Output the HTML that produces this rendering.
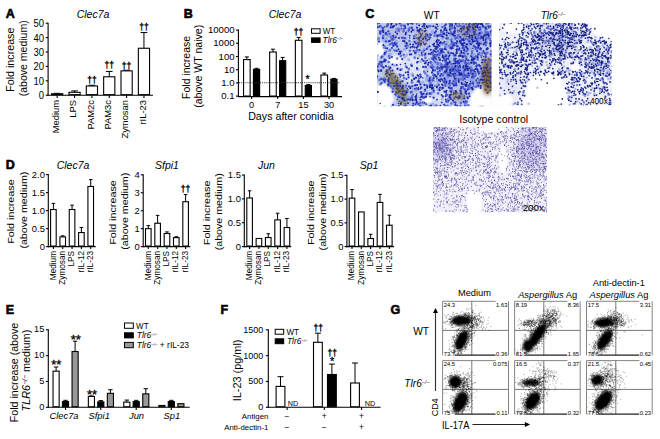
<!DOCTYPE html>
<html><head><meta charset="utf-8"><style>
html,body{margin:0;padding:0;background:#fff;}
body{width:660px;height:439px;overflow:hidden;}
svg{display:block;font-family:"Liberation Sans", sans-serif;}
text.t{stroke:#000;stroke-width:0.22px;}
</style></head><body>
<svg width="660" height="439" viewBox="0 0 660 439">
<defs>
<filter id="soft" x="0" y="0" width="100%" height="100%"><feGaussianBlur stdDeviation="0.35"/></filter>
<filter id="blur1" x="-50%" y="-50%" width="200%" height="200%"><feGaussianBlur stdDeviation="1.2"/></filter>
<filter id="blur2" x="-50%" y="-50%" width="200%" height="200%"><feGaussianBlur stdDeviation="2"/></filter>
<filter id="blur3" x="-50%" y="-50%" width="200%" height="200%"><feGaussianBlur stdDeviation="4"/></filter>
</defs>
<clipPath id="pw"><rect x="377" y="23" width="114.6" height="83.3"/></clipPath>
<g clip-path="url(#pw)"><g filter="url(#soft)">
<rect x="377" y="23" width="114.6" height="83.3" fill="#c0ccf0"/>
<ellipse cx="410" cy="68" rx="22" ry="16" fill="#e6eaf8" fill-opacity="0.8" filter="url(#blur3)"/>
<ellipse cx="458" cy="72" rx="18" ry="12" fill="#6070d0" fill-opacity="0.4" filter="url(#blur3)"/>
<ellipse cx="470" cy="36" rx="18" ry="11" fill="#6070d0" fill-opacity="0.3" filter="url(#blur3)"/>
<ellipse cx="396" cy="32" rx="14" ry="9" fill="#a098d0" fill-opacity="0.3" filter="url(#blur3)"/>
<ellipse cx="442" cy="98" rx="8" ry="7" fill="#eef0fa" fill-opacity="0.8" filter="url(#blur3)"/>
<ellipse cx="379.5" cy="50" rx="4.5" ry="8" fill="#fff" filter="url(#blur1)"/>
<polygon points="377,85 385,84 392,89 394,100 390,107 377,107" fill="#fff" filter="url(#blur1)"/>
<polygon points="468,107 471,95 477,88 485,86 492,89 492,107" fill="#fff" filter="url(#blur1)"/>
<ellipse cx="395" cy="60" rx="6" ry="4" fill="#fff" filter="url(#blur1)"/>
<ellipse cx="428" cy="100" rx="5" ry="3" fill="#fff" filter="url(#blur1)"/>
<ellipse cx="396" cy="84" rx="5.5" ry="17" fill="#5a5236" fill-opacity="0.7" filter="url(#blur2)" transform="rotate(-35 396 84)"/>
<ellipse cx="422" cy="37" rx="6" ry="9" fill="#5a4058" fill-opacity="0.3" filter="url(#blur2)" transform="rotate(0 422 37)"/>
<ellipse cx="468" cy="30" rx="10" ry="7" fill="#5a4058" fill-opacity="0.3" filter="url(#blur2)" transform="rotate(0 468 30)"/>
<ellipse cx="487.5" cy="76" rx="6" ry="19" fill="#6a4a2c" fill-opacity="0.8" filter="url(#blur2)" transform="rotate(0 487.5 76)"/>
<ellipse cx="458" cy="96" rx="8" ry="4" fill="#4a3a30" fill-opacity="0.5" filter="url(#blur2)" transform="rotate(0 458 96)"/>
<ellipse cx="404" cy="101" rx="5" ry="4" fill="#3a3028" fill-opacity="0.5" filter="url(#blur2)" transform="rotate(0 404 101)"/>
<path d="M468.5 30h0M382.9 38.2h0M488.4 86.7h0M389.6 57.9h0M414.4 47.3h0M478.9 73.5h0M444.1 34h0M490.5 60.6h0M456 38.1h0M442.3 34.5h0M462.1 43.9h0M398.8 54h0M410.5 23.2h0M467.5 75.3h0M491.6 54h0M451.6 88.2h0M380.2 31.3h0M402.1 37.8h0M445.1 29.7h0M397.6 68.7h0M461.4 73h0M398.3 97.1h0M485.3 60h0M411.8 82.6h0M442.8 96.5h0M439.3 89.5h0M465 84.6h0M397.4 68.9h0M476.6 39.5h0M456.6 52.9h0M457.8 69.2h0M430.7 49.8h0M420.5 99.6h0M433.2 70.1h0M463.3 67.5h0M390.7 27.4h0M381.7 82.8h0M418.7 44.1h0M480.1 48.4h0M473.2 83.8h0M463.9 48.4h0M408.6 99.2h0M439.7 80h0M446.3 81.3h0M456.9 61.8h0M381.4 57.5h0M437.5 68.7h0M463.9 26.5h0M453.7 68.8h0M403 86.2h0M442.2 69h0M435 70.3h0M478.3 37.7h0M428.9 53.8h0M486.4 29h0M422.7 26.4h0M461.9 40h0M430.2 37.6h0M434.7 51.2h0M433.4 54.8h0M436.1 49h0M431.2 85.5h0M443.7 42.6h0M458.3 61h0M412.8 105.9h0M484.9 43.3h0M477.7 41.3h0M457.1 49.5h0M441.5 52.4h0M467.9 98.1h0M392.4 39.2h0M454.6 27.6h0M465.3 70.2h0M393.2 35.8h0M478.3 54.5h0M380.4 31.6h0M435.2 55.1h0M447.7 38.5h0M440.9 51h0M399.7 74.6h0M379 41.6h0M385.3 79.8h0M392.8 88.6h0M460.8 61.5h0M451.1 53.1h0M411.3 54.3h0M450.4 98.1h0M417.1 62.4h0M414 38.3h0M386.8 34.4h0M454.8 31.1h0M458.9 49.8h0M420.5 37h0M476.9 65.5h0M445.4 91.9h0M461.3 51h0M433.3 54.2h0M410.6 47.4h0M412.4 23.7h0M461.2 93.7h0M463.1 87.5h0M393.1 104.8h0M460.4 90.5h0M386.5 71.6h0M443.5 57.3h0M403.2 40.9h0M485.8 39.8h0M477.1 69.2h0M463.1 45.9h0M451.4 48.5h0M455.1 69.6h0M385.9 41.4h0M448.8 63h0M474.4 23.7h0M407.9 72.1h0M389.8 40.9h0M446.4 66.8h0M446.8 58.6h0M440.9 66.3h0M393.4 43.6h0M386.8 26.3h0M397.2 46.5h0M437.2 86.6h0M461.4 73.3h0M436.7 46.8h0M425.9 66.9h0M395.3 44.8h0M475.4 75.7h0M400.1 86h0M413.3 103.6h0M461.6 87h0M410.6 92.3h0M437 48h0M438 51.1h0M455 28.7h0M442 36.6h0M447.8 75.4h0M412 27.7h0M417 85.1h0M408.7 30.6h0M442.5 49.5h0M468 70.1h0M424.3 50.4h0M471.3 62.9h0M441.4 74.2h0M450.7 75.7h0M402.5 81.2h0M378 66.4h0M399.5 97h0M482.7 59.9h0M433.6 90.4h0M402.8 91.6h0M455.4 38.5h0M434.7 32.8h0M490.1 67.4h0M462.5 74.7h0M408.6 77.3h0M452.7 45.7h0M465.2 105.8h0M420.6 106.5h0M449.7 80.8h0M465.7 65.4h0M446.5 66.2h0M430.7 62.4h0M462.2 56.2h0M410 54.5h0M483.1 75.3h0M381.5 66.2h0M479.1 65.1h0M385.9 32.9h0M427.9 64.7h0M452 46.9h0M439.9 70.6h0M473.3 76.5h0M479.2 23.2h0M464.7 69.9h0M450.2 95h0M433 80.4h0M491.1 82.3h0M472.7 83.1h0M491.7 60h0M465.3 75.7h0M417.5 30.5h0M430.8 34.9h0M458.1 70.6h0M424.8 31.2h0M406.7 48.1h0M438.3 68h0M389.1 85.2h0M405.9 33h0M441.3 79.1h0M404.5 22h0M451.6 41.8h0M415.9 99.5h0M441.5 69h0M405.8 105.9h0M412.2 99.8h0M442.2 43.4h0M458.8 67.4h0M467.5 49.1h0M423.1 97.6h0M456.1 83.4h0M445.3 85.2h0M487.2 48.5h0M469.5 88h0M427.3 27.2h0M446.8 32.3h0M456.3 85.3h0M429.7 93.5h0M440.3 49.6h0M440 35.5h0M464.4 34.2h0M416.7 102.6h0M433.7 50.5h0M448.5 52.9h0M395.8 44.4h0M403.4 75.4h0M432.3 68h0M407 45.4h0M385.6 33.8h0M467.8 75.5h0M469.9 38.3h0M466.2 64.3h0M409.1 86.6h0M475.9 48.9h0M418.5 81.3h0M455.7 61.5h0M473.9 63.7h0M425.7 62.9h0M443.1 32.3h0M465 62.9h0M484.5 52.8h0M423.5 60.8h0M490.5 44.7h0M473.8 32.1h0M459.8 96.6h0M415.7 52.4h0M418.3 44.6h0M464.3 42.9h0M430.1 86.6h0M395.6 94.6h0M476.4 66.6h0M453.7 43.9h0M459 72.7h0M456.7 70.5h0M384.4 54.3h0M463.1 22.5h0M478.9 45h0M396.7 50.9h0M430.4 93.7h0M438.7 40.5h0M452.9 100.4h0M445.9 83.7h0M414.3 78.7h0M477.7 42.8h0M486.1 28.7h0M451.4 40h0M455.7 63.2h0M467.8 53.8h0M446.5 64.1h0M435.9 31.4h0M384.6 59.6h0M458.1 63.5h0M377.9 91.9h0M480.6 88h0M476.3 48.3h0M405.2 27.9h0M471.8 77.3h0M460.3 75.1h0M448.3 52.4h0M379.5 26.5h0M387.1 48.3h0M382.6 30.7h0M380.3 61.8h0M436.2 52.1h0M415.1 88.8h0M479.2 82.7h0M459.9 73.6h0M435.4 62.1h0M446.4 94.5h0M433.6 97.7h0M449.5 83.6h0M469 93.6h0M482.7 107h0M422.6 94.2h0M385.6 60.2h0M419.4 82.1h0M392.7 27.2h0M468.9 40.8h0M438.8 84.8h0M462.7 48.1h0M485.1 53.6h0M454.6 58.8h0M383 27.9h0M480.2 29.6h0M490.4 26.5h0M431.3 107.1h0M391.3 22.9h0M485.4 67.7h0M464.9 106.7h0M418.5 104.1h0M445.9 60.4h0M472.7 60.2h0M424.5 85h0M444.7 66.3h0M479.8 66h0M444.5 91.6h0M442.3 22h0M473.7 23.7h0M389.6 68.8h0M472.3 59.4h0M469.4 87.6h0M424.3 97.5h0M450.2 95.6h0M442.8 36.8h0M412.8 106.1h0M449.5 96.6h0M478.2 45h0M474.3 46.3h0M387.7 24.3h0M448.2 58.8h0M383.8 80.6h0M433.6 78.2h0M480.6 38.4h0M484.2 35.5h0M417 27.7h0M413.2 44.7h0M466.5 32.2h0M459.4 48.4h0M477.9 78.6h0M446.2 101.4h0M467.4 97.3h0M455.6 91.2h0M477.6 85.7h0M450.3 48h0M445.5 61.3h0M475.4 33.8h0M475.6 47.4h0M444.9 25.7h0M388.7 41.3h0M458.9 63.2h0M396.3 82.9h0M486.4 42.4h0M388.3 31.3h0M376.4 40h0M477.7 57.7h0M454.5 85.3h0M430.9 53.9h0M481.1 68.3h0M424 24.7h0M453.2 33.4h0M402.2 59.1h0M466 85.8h0M490.9 72.7h0M392.6 91.7h0M420.3 74.6h0M415.5 104.3h0M467.3 76.4h0M381.1 70.9h0M437.9 73.9h0M469.1 24.8h0M442.5 51.9h0M414.6 41.8h0M443.7 81.7h0M455.4 102.7h0M460.7 42.8h0M472.3 74.4h0M455.3 67.1h0M470.3 83.7h0M380.4 32.2h0M393.2 45.8h0M465.9 39.1h0M377.5 23.6h0M444.1 58.8h0M454.5 54.8h0M415.9 97.6h0M466.5 63.9h0M454.5 60.4h0M460.1 55.5h0M463.8 56.5h0M419.5 50.2h0M388.3 79.9h0M442.5 27.1h0M381.7 78.9h0M473.4 77.6h0M490.6 42.9h0M466.1 91.1h0M449.9 82.6h0M424.6 24.6h0M436.8 106.7h0M464.5 89.3h0M432.9 88h0M437.6 47.2h0M458.6 74.9h0M473.1 41.6h0M376.4 78.6h0M405.5 46.1h0M448.8 56.4h0M394 26.1h0M478.3 86h0M421.9 59.3h0M453.8 81.2h0M454.6 45.3h0M436.1 56.2h0M475.8 26.7h0M396.4 24.5h0M421.7 94.7h0M460 67.2h0M401.9 98h0M469.7 41.3h0M491.1 42.3h0M454 76.6h0M442.3 79.8h0M416.2 22h0M386 66.2h0M478 47.3h0M445.7 84.1h0M417.8 46.4h0M468 27.1h0M480.3 27.3h0M411.1 98.3h0M446.1 55.9h0M450.3 88.4h0M465.6 101.5h0M483.6 44.3h0M447.6 67.8h0M383.8 107.3h0M466.4 75.7h0M423.1 67h0M444.2 104.6h0M392.3 22.6h0M431.5 85.2h0M427.2 34.9h0M470.9 72.4h0M451.2 71.3h0M455 78.2h0M449.9 70.3h0M448.7 100.6h0M464.6 78.7h0M453.8 75.5h0M417.1 68.9h0M477.2 51.2h0M432 72.6h0M460.3 41.4h0M408.3 74.7h0M490.7 31.9h0M416.9 88.4h0M395.2 43h0M432.4 79.8h0M403.5 98.4h0M420.5 84.4h0M426.9 48.9h0M377.4 27.2h0M461.8 44.8h0M416 43.4h0M478.3 24.3h0M453.1 53.4h0M391.5 106.9h0M466.8 63.4h0M450.4 24.5h0M440.4 53.3h0M474.5 62.3h0M472.4 89.4h0M397.1 85.6h0M474 70.4h0M471.7 70.3h0M468.4 60.4h0M380.3 33.7h0M438.7 57.6h0M448.8 83.6h0M455.4 105h0M433.3 59.4h0M471.9 35.7h0" stroke="#2636c4" stroke-width="2.3" stroke-linecap="round" fill="none"/>

<path d="M470.4 81.2h0M412.7 100.7h0M442.4 67.5h0M433.8 74.1h0M480.7 85.8h0M463.8 38.2h0M418.1 61.5h0M380.4 79.2h0M444.8 41.5h0M425.5 28.5h0M440.3 42.6h0M435.1 48.3h0M393.1 36.9h0M452.6 75.1h0M465.5 106.1h0M484.6 35h0M447.9 98.9h0M422.8 78h0M484.1 76.5h0M466.4 44.2h0M387.9 70.2h0M414.8 99.9h0M383.5 78.9h0M464.9 69.3h0M481.2 43.4h0M473.4 28.3h0M436.3 106.5h0M437.9 26.2h0M400.3 76.9h0M438.1 71.6h0M451 73.7h0M418.8 38.2h0M433.6 57.8h0M460.8 42.9h0M424.6 26.3h0M444.4 82.8h0M416.6 94.1h0M438.9 35.2h0M459.4 36.2h0M472.9 77.5h0M428.3 63.1h0M447.4 65.1h0M381.5 56.2h0M452.4 24.5h0M401.4 28.6h0M477.6 82.5h0M427.6 71.4h0M473.8 24.5h0M439.7 68.5h0M483.8 56.8h0M479.5 83.3h0M420.2 97.2h0M409.7 38.1h0M475.9 80h0M424.2 27.9h0M443.9 37h0M400.5 64.6h0M469.2 75.6h0M452.5 45.4h0M440.4 81.5h0M473.4 62.6h0M427.1 60.6h0M461.1 91.5h0M472.9 25.8h0M490.1 40.5h0M436.7 59.6h0M447 72.3h0M416.7 24h0M413.2 94.8h0M440.1 60.1h0M418.8 22.1h0M434.9 85.9h0M427.4 39.9h0M463.2 80.1h0M461.9 60.7h0M398.3 103.3h0M411.4 92h0M418.5 87.7h0M475.9 81.1h0M472.9 48.5h0M464.7 74.3h0M406.1 86.7h0M488.9 27.9h0M461 55.9h0M436.3 24.2h0M426 43.6h0M452.7 45.1h0M446.8 44.4h0M376.3 22.4h0M406.7 92h0M384.7 27.1h0M380.2 103.6h0M453.7 92.6h0M432.5 71.1h0M407.3 88.5h0M385.8 48.2h0M466.2 51.8h0M476.5 80.1h0M429.1 106h0M439.8 81.1h0M475.7 41h0M437.3 24.5h0M450.2 84.9h0M447.6 62.4h0M445.5 86.3h0M428 47.2h0M456.5 53.7h0M443.5 88h0M465.3 81.8h0M442.4 60.8h0M458.6 82.1h0M465.7 56.5h0M432.6 59h0M466.3 47.3h0M437.3 39.2h0M447.7 64.6h0M407 22h0M397.2 99.6h0M430.1 96.8h0M403.1 95.3h0M492.3 67h0M474 56.9h0M455.9 75.5h0M468.8 85.9h0M454.5 26h0M408.5 72.2h0M457.5 30.2h0M481.3 57.2h0" stroke="#2a2a6a" stroke-width="1.5" stroke-linecap="round" fill="none"/>

<path d="M436.5 76.6h0M398.2 84.4h0M471.4 43.3h0M445.5 47h0M442.8 75.3h0M427.4 93.5h0M457.3 66.4h0M430.1 77.6h0M378.7 38.6h0M437.7 35.6h0M447.3 95.1h0M479.5 33.4h0M455.9 23.5h0M450.4 91.1h0M471.2 73.5h0M455.9 70.2h0M460.6 53.3h0M422.1 55.1h0M451.9 90.6h0M467.9 29.2h0M425.2 57.9h0M430.5 83h0M386.8 34h0M399.1 29.1h0M446 62.1h0M475.7 56.9h0M434.6 55.8h0M425.1 90.7h0M471.1 55.9h0M477.4 82.8h0M437.6 67.3h0M448.4 66.8h0M491 34.3h0M451.8 27h0M403.8 25.5h0M393.2 39.5h0M401.2 25.5h0M393.5 38.4h0M451.8 68.8h0M416.4 97.6h0M472.6 70.4h0M402.9 37.8h0M390 50.2h0M473.8 46.2h0M378.2 70.3h0M415 85.3h0M458.3 37.2h0M420.1 76.9h0M424.9 54.8h0M442.8 65.9h0M462.5 29.1h0M411.2 65.3h0M481.4 55.6h0M476.3 56.3h0M467.9 76.8h0M463.8 71.5h0M388.3 85.3h0M445 66.4h0M457.3 41.9h0M475.7 74h0M412.1 96.4h0M444.9 80.5h0M456.3 66.3h0M467.4 50.4h0M468.2 68.1h0M434.7 35.7h0M376.2 64.4h0M477.6 48.5h0M487.8 32.4h0M382.5 28.1h0M442.8 85.5h0M455.4 74.5h0M454.3 85.2h0M459 23.4h0M460.7 103.1h0M437.6 64.2h0M383.3 30.7h0M463.9 75.1h0M462.8 60.8h0M449.6 23.5h0M406.2 92.6h0M447.7 101.8h0M420.6 92.3h0M419.3 50.2h0M479.5 72.1h0M485.6 33.3h0M449.3 45.9h0M491.1 44.4h0M491.6 76.4h0M383.4 67.3h0M472.1 51.4h0M435.5 27h0M468.2 39.6h0M380.8 65h0M440.4 49.1h0M464.5 50.7h0M489.6 73.7h0M440.9 64.1h0M419.8 102.9h0M437.2 78.5h0M384.3 78.6h0M491.4 61.2h0M491.7 55.7h0M462.4 26.7h0M433.9 60.1h0M383.3 35.9h0M408.8 69.2h0M401.2 51.5h0M487.1 65.1h0M477.6 35.1h0M430.1 80.7h0M420.8 29.4h0M462.5 73.5h0M453.8 69.8h0M425.2 73.3h0M388 25h0M433.4 56.1h0M432 85h0M440.4 43.1h0M433.8 91.7h0M392.4 43.9h0M474.2 75.9h0M485.7 28.8h0M463.2 73.2h0M450.2 28.4h0M428.6 26.3h0M446.5 68.3h0M406.1 85.6h0M391 37.1h0M428.3 36.7h0M488.1 37.9h0M450.6 34.2h0M403.8 29.2h0M468.3 105.3h0M485.7 27.2h0M415.1 51.9h0M409.9 50.8h0M443.4 32.8h0M426.1 35.4h0M410.5 86.8h0M444.8 81.4h0M381.7 64.3h0M461.2 38.8h0M481.1 79.8h0M464.8 55.3h0M438.6 67.8h0M489.2 35.1h0M485.5 31.7h0M476.1 86.8h0M478.4 27.6h0M385 53.2h0M468.9 34.6h0M441.2 31.9h0M490.3 80.4h0M459.9 106.7h0M470.8 67.6h0M465.8 83.8h0M471 67.8h0M455.7 83.2h0M391.3 86.4h0M430.9 66.4h0M407.6 45.8h0M492.6 27.5h0M391.9 39.5h0M417.8 81.5h0M453.6 75h0M485.8 45.2h0M490 38.8h0M451.8 24h0M456 78.6h0M439.7 59.1h0M403.6 54.8h0M384.7 46.7h0M401.4 69.3h0M463 76.7h0M433.4 75.2h0M459.2 22.7h0M438.1 93.4h0M468.9 88.7h0M434 75.7h0M473.5 86.5h0M463.6 84.4h0M467.7 86h0M453.8 81.5h0M407.8 23.4h0M487.4 52.8h0M451.4 64.2h0M433 52h0M451.4 103.5h0M424.1 71.6h0M442.1 88.4h0M444 60.1h0M409 28.8h0M411.3 64.8h0M468.6 85.7h0M384.3 47.3h0M444.6 72.9h0M472.6 82.1h0M389.6 33.9h0M482.9 80h0M388.9 67h0M449.5 87.1h0M465.4 45.9h0M382.4 56.6h0M430.8 93.3h0M477.6 59.4h0M478.3 54.4h0M424.8 67.1h0M425 90.7h0M469.6 43.3h0M454 71h0M454.5 58.9h0M469.1 40.6h0M473.3 39.3h0M472.8 30.1h0M432 58.4h0M430.3 82.1h0M404.2 78.1h0M459 74.8h0M388.7 62h0M480.2 33.6h0M480.6 49.4h0M434.7 35.5h0M445.5 28.8h0M418.9 78.4h0M482.5 52.8h0M404.1 106.6h0M396.5 43.6h0M425.7 61.3h0M400.7 75.4h0M403.6 31.2h0M462.7 60.3h0M392.1 42.9h0M465.8 76.6h0M465.6 93h0M463.3 40.1h0M470.1 31.5h0M422.7 51.6h0M480.9 23.7h0M445.5 71.5h0M468.9 63.6h0M477.5 38.6h0M465 89.6h0M446.4 34.8h0M457.7 46.3h0M430.9 62.4h0M389.9 44.3h0M409.4 41.1h0M404.9 94.7h0M479.1 29.8h0M479.4 53.2h0M422.1 96.4h0M470 87.8h0M432.3 65.4h0M459.9 25.8h0M405.8 43.2h0M399 30.8h0M412.9 75.6h0M398.4 96.6h0M453.3 43.2h0M455.9 81h0M486 37.7h0M456.3 37.4h0M414.2 36h0M461.5 79.2h0M481.5 32.5h0M444.5 57.7h0M445.1 65.1h0M480.3 107.1h0M445.6 44h0M438.1 72.8h0M433.4 66.9h0M447 73.3h0M413.4 30h0M436.1 105.6h0M479.5 35h0M385.9 51.8h0M466.3 57.6h0M473.2 61.9h0M459.6 96.5h0M397.1 58.5h0M382.4 62h0M422.5 102.7h0M457.3 71.9h0M427.3 75.7h0M458.2 35.4h0M471.9 53.2h0M465.2 106h0M480.8 23.6h0M388.1 22.6h0M447.5 105.8h0M429.8 34.3h0M458.9 78.9h0M376.3 44.1h0M474.7 34.4h0M491 53.9h0M485.8 54.8h0M439.6 53h0M454.1 102h0M388.9 56.2h0M443.6 52.3h0M418.4 22.3h0M469.8 85.1h0M380.5 26.2h0M440.3 34.8h0M468.4 88.2h0M479.5 80.4h0M426.5 85.3h0M414.7 57.7h0M437.4 44.7h0M466.7 101.8h0M489.9 26.7h0M454.2 55.4h0M448.5 66.5h0M379.6 80h0M465.4 33.6h0M406.1 66.7h0M381 62.4h0M437 67.5h0M449.6 72.5h0M490.9 73.8h0M459.7 60.1h0M452.4 66.8h0M473.2 76.4h0M400.8 56.1h0M451 32h0M407.1 91.4h0M439.3 54.9h0M417 50.2h0M470.4 26.5h0M380.5 84.2h0M418 38.4h0M451.7 43.7h0M411.9 92.1h0M430.3 26.2h0M452.4 70.7h0M407.6 90h0M412 98.5h0M483.4 26.8h0M448.7 75.9h0M450.4 67.6h0M380.2 32.3h0M397.5 29.3h0M486.7 23.6h0M465.1 103.5h0M425.5 96.7h0M457.4 26h0M431 84.3h0M438.1 63h0M455.3 43h0M452.2 28.2h0M443.6 57.7h0M428.7 80.4h0M394.6 50.4h0M410.3 28h0M478.9 83.3h0M437 29h0M446.1 55.2h0M452.1 69.1h0" stroke="#4656d0" stroke-width="2.7" stroke-linecap="round" stroke-opacity="0.8" fill="none"/>

<path d="M474.8 22h0M479.2 40h0M475.4 74.4h0M442.7 33.2h0M449 64.1h0M469.3 36.7h0M473.8 28.3h0M425.9 53.5h0M432.5 80.5h0M450.7 66.7h0M464.3 48.6h0M393.6 87.7h0M458.6 37.3h0M390.5 56.7h0M441.4 69.8h0M480.6 42.5h0M442.1 99.1h0M446.9 42.1h0M458.2 31.6h0M432.3 53.9h0M432.4 107.1h0M422.9 82.2h0M434.9 70.4h0M435.7 106.8h0M404.5 57.1h0M460.3 79.1h0M448.6 85.3h0M424.2 22.9h0M461.7 28.1h0M433.6 80.8h0M443 43.9h0M487.9 24.7h0M487.6 24.1h0M470.2 22.1h0M415.1 51.6h0M491.4 53.6h0M491.5 55h0M408.7 59.8h0M433.1 63.1h0M390.6 84h0M426.7 77.7h0M422.4 106.8h0M480.2 78.6h0M452.6 34.7h0M445 44.9h0M430.7 65.7h0M448.3 46.4h0M439.4 65.9h0M464.7 83.6h0M483.8 37.8h0M472.1 80.3h0M427.8 47.2h0M432.3 33.3h0M376.1 68.7h0M473.4 54.4h0M390 36h0M396 106.6h0M473.9 80.1h0M409.5 97.8h0M383.8 47.2h0M429.3 59.6h0M399.9 23.4h0M447.2 42.6h0M436.4 60.7h0M436.3 107h0M445.8 45.1h0M426.9 80.3h0M437.2 52.4h0M468.2 45.8h0M437.3 84.9h0M446.9 78.2h0M437 53.9h0M465 62.9h0M412.3 81.9h0M384.3 40.1h0M483.7 41.3h0M405.8 86h0M481.7 26.7h0M444.9 57.3h0M418.2 51.3h0M438.1 89.4h0M445.7 85.6h0M425.8 73.1h0M432.3 92.7h0M377.5 55.7h0M416.7 89.4h0M443.8 27.3h0M380.3 78.1h0M437.3 56.5h0M471.3 79.6h0M469.3 38.6h0M396.5 30.4h0M417.1 41.6h0M489 69h0M412.8 88.9h0M407.4 31.4h0M389.9 54.4h0M462.9 101h0M457.3 68.5h0M466.3 56.1h0M412.3 73.9h0M420.7 61.6h0M441.5 68.1h0M474.5 54.6h0M438.8 49.6h0M473.7 36.4h0M473.9 38.8h0M468.8 28.7h0M436.1 34.9h0M449 38.7h0M386 38.7h0M384.6 107.2h0M399.9 69.7h0M464.1 54.1h0M394.4 65.3h0M453.4 85.5h0M452.3 36.2h0M486.6 42.4h0M415.4 22.3h0M380.2 63.3h0M471.5 31.7h0M421.8 104.6h0M467 74h0M378 67.9h0M451.2 91.8h0M482.3 35.9h0M478.4 37.1h0M447.7 50.8h0M429.6 83.7h0M396.1 41.1h0M438 81.5h0M477.8 78.8h0M430.9 77.8h0M470.3 48.8h0M455.1 80.1h0M420.6 38.8h0M388.7 50.5h0M454.3 73.6h0M404.5 49.4h0M442.4 38.6h0M415.5 53.9h0M466.2 104.8h0M475.3 49.1h0M459.2 38.9h0M481.1 75.7h0M471.1 71.8h0M468.2 66.9h0M436.1 63.4h0M459.9 36.8h0M440.7 76.2h0M426.5 78.8h0M468.6 88.3h0M470.9 68.2h0M424 49.1h0M441.9 67.2h0M476.5 86.3h0M406.6 55.1h0M418.8 76.4h0M458.7 74.2h0M468.4 72.7h0M444.2 66.2h0M451.6 75h0M455.5 36.4h0M475.8 83.1h0M422.6 51.8h0M466.2 37.8h0M456.4 73.5h0M427.1 69.7h0M491.7 36.5h0M469.4 63.4h0M455.3 77.7h0M435.6 56.4h0M447.8 37.3h0M453.1 91h0M378.3 38.2h0M417.9 69.2h0M425.8 39.9h0M415.7 90.6h0M460 68.9h0M472.2 85.4h0M486.2 81h0M463.7 24.5h0M469.8 107h0M445.7 84.4h0M447.4 38.2h0M419.4 55.2h0M490.4 66.3h0M421.8 87.6h0M451.3 83.8h0M462.2 73.1h0M387.8 35.2h0M492.6 24.5h0M490.7 35.3h0M465.9 38.8h0M462.6 87.7h0M446 72.4h0M390.4 67.6h0M425.5 57.6h0M429 66.4h0M455.3 80.8h0M405.4 38.4h0M428.7 78.3h0M434.8 67.3h0M451.7 39h0M454.5 37.2h0M473.6 79.2h0M451.1 45.3h0M465.7 37.8h0M432.4 31.2h0M468 35.1h0M432.8 104.3h0M400.1 28.9h0M395.3 36.9h0M407.4 46.7h0M459.9 78.9h0M412 93.3h0M464.6 57.7h0" stroke="#7c8ade" stroke-width="3.4" stroke-linecap="round" stroke-opacity="0.5" fill="none"/>

<path d="M399.8 23.4h0M414.1 78.8h0M388.2 84.3h0M425.2 89.4h0M429.9 87.2h0M423.3 38.6h0M429.1 39.4h0M440.2 75.8h0M448.7 87.6h0M456.9 46.1h0M478.7 46h0M436.8 87.2h0M446.7 35.4h0M450.3 106.7h0M407.5 83.1h0M472.3 39.8h0M465.4 92h0M453 73.9h0M415.9 77.5h0M481.3 68.8h0M469.7 23.4h0M445.2 28h0M437.4 42.4h0M467.7 89.5h0M472.9 89.1h0M420.4 88.6h0M481.8 23.7h0M465.9 66.3h0M449.8 29.7h0M434 45.9h0M421.6 53.1h0M406.5 79h0M449.1 75h0M477.4 26.6h0M405.3 63.6h0M395.7 32.1h0M400.5 103.8h0M378.7 71.2h0M426.2 104.1h0M486.5 49.5h0M418.7 30.6h0M461.8 52.7h0M471.6 56.9h0M457.7 107.1h0M400.4 53.6h0M461.2 88.2h0M480.5 24.1h0M410.3 88.3h0M461.6 82.8h0M431.6 52.6h0M444.7 48.9h0M427.4 86.1h0M483.5 40h0M399.6 51.5h0M406.9 43.3h0M418.3 89.2h0M467.5 66.5h0M424.7 63.4h0M485.5 28.1h0M443.7 57.6h0M449.7 61.4h0M404.5 100.4h0M415.3 96.9h0M482.7 79.7h0M444 30.1h0M410.1 44.3h0M434.4 57.2h0M445 71.7h0M481 79.5h0M482.7 37.4h0M382.8 30.4h0M449.8 62h0M417.7 107.3h0M421 76.8h0M468.4 73.4h0M445.8 49.2h0M441 30.3h0M454 35.5h0M487.8 48.4h0M444.9 78.9h0M482.1 62.4h0M466.5 59.3h0M468.2 29.1h0M465.7 84.9h0M445.8 99.5h0M454.4 31.4h0M472.7 41.5h0M454.8 78.7h0M404.6 41.3h0M461.3 74.3h0M407 67.6h0M406.6 92.2h0M457 41.1h0M392 47.9h0M431.2 106.1h0M383.6 61.4h0M442.4 56.8h0M383.3 32.2h0M449.8 26.1h0M460 41.2h0M440 87.5h0M459.8 74.5h0M409.6 35.6h0M408.1 24.5h0M467.4 69h0M396.8 65h0M475.6 69h0M415 52.9h0M445.1 27.9h0M460.9 28.8h0M421.4 92.5h0M438.9 80.1h0M416 77.9h0M447.8 63.8h0M445.4 71.9h0M446.1 91.8h0M436 28h0M455.9 91.5h0M466.3 84.8h0M487.1 34.7h0M389.7 75h0M479.5 33.3h0M476.3 23.5h0M466 68h0M475.4 36.9h0M466.1 47h0M460 70.4h0M467 82.8h0M449.6 97.4h0M447.4 64.2h0M417.4 75.1h0M376.1 39.6h0M454 85.3h0M426.4 94.3h0M455.3 66h0M435.6 46.8h0M469.3 68.4h0M388.3 81.5h0M419.1 25.3h0M437.5 54.6h0M441.7 102.4h0M490.2 76.6h0M441.6 67.6h0M472.3 37.2h0M477.4 56.6h0M376.6 67.8h0M440.7 41.9h0M431.9 88.9h0M430.1 85.2h0M405 25.9h0M459.8 65.4h0M488.8 36h0M381.3 70h0M452.5 83.4h0M433.1 44.6h0M412 65.9h0M399 38h0M485.4 42.1h0M385 61.2h0M452.9 48.1h0M491 54.4h0M439.7 90.2h0M450.3 73h0M471.9 87.8h0M477.3 27.2h0M379.4 22.8h0M446.5 70.8h0M456.7 51.7h0M400.2 52h0M411.4 31.7h0M439.5 45.9h0M474.9 71.8h0M432.6 87.4h0M479.4 44.4h0M381.1 62.2h0M479.9 43.7h0M483.1 38.5h0M391.4 22.9h0M488 86.4h0M461.4 88.2h0M480.8 48.5h0M416.4 100.2h0M458.8 81.5h0M462.8 39.4h0M473.2 58.3h0M482.9 26h0M439.9 60h0M449.7 55.1h0M442.7 55.3h0M470.8 44.4h0M453.5 63.6h0M442.6 87.7h0M408 103.3h0M416.5 47.4h0M492.4 56.9h0M446 24.2h0M446.3 38.4h0M416.6 102h0M483 73h0M429.9 86.4h0M459.7 73h0M421.1 43.7h0M465.4 60.9h0M444.3 78.1h0M469.3 36.6h0M446.6 82.1h0M383.4 67.4h0M463.9 52.9h0M445.1 66.6h0M421.1 87.4h0M433.2 70.3h0M405.7 72.5h0M436.1 76.4h0M398.9 105.9h0M441.6 94.9h0M379 63.9h0M419 31.7h0M427.2 87.8h0M426 96.8h0M452.8 34.6h0M470.7 70.4h0M451.1 91.7h0M461.5 74.3h0M424.1 23.6h0M483.5 50.9h0M455.8 58.6h0M443.8 33.6h0M491.1 51.1h0M456.4 49.7h0M477.2 25.1h0M488.4 22.5h0M467.4 48.3h0M377.3 76.4h0M412.7 99.7h0M445.5 106.2h0M471.4 60.1h0M454.7 33h0M435.5 58.5h0M439.7 43.4h0M481.3 36.8h0M416.7 47.8h0M430.3 106.1h0M445.3 56.1h0M482.3 24.5h0M474 59.2h0M392.4 64.5h0M424.9 44.6h0M423.8 93.6h0M441.7 50.7h0M446.8 69.9h0M466.5 93.9h0M490.5 46.2h0M468.8 73.4h0M391.2 24.7h0M471.2 62.4h0M452.1 33.9h0M397.2 33.8h0M418.1 75.7h0M455.7 23.8h0M394.1 86.1h0M424.5 102.8h0M477.7 70h0M429.7 86.4h0M459 56h0M455 73.4h0M465.7 85.8h0M412.5 86.1h0M490.4 43.6h0M434.2 43.8h0M436.4 41.9h0M464.5 98.4h0M431.7 88h0M416.2 95.7h0M410.1 99.9h0M452.1 25.2h0M486.7 80.2h0M416.9 68h0M426.6 26.3h0M446.6 30.3h0M473.1 73.4h0M421.6 96.8h0M437 99.6h0M489.9 43.6h0M477.8 71.7h0M431.1 105.5h0M450.3 69.7h0M485.7 56.7h0M466.8 68.6h0M471.8 59.7h0M483.4 36.4h0M453.1 69.4h0M442.1 84.4h0M448.8 33.3h0M488.3 33.9h0M442.9 67.2h0M463.7 40.3h0M467.1 44.3h0M412.5 46.8h0M472.9 27.5h0M474.6 59h0M479.1 43.5h0M390.3 67.7h0M405.6 34.4h0M434.9 75h0M392 57h0M383.3 45h0M455 35.6h0M404.8 38.1h0M413.5 50.6h0M484.5 72.1h0M400.4 70.1h0M464.2 49.9h0M419.6 29.3h0M469.6 96.3h0M429.6 46.2h0M436.7 40.7h0M440.3 105.6h0M474.5 41.1h0M463.5 66.3h0M395.7 37.2h0M398.5 49.2h0M434.7 106.6h0M452.3 22.3h0M486.1 35.3h0M462 84h0M462.8 56.9h0M438.2 44.7h0M415.5 85.2h0M429.4 80.5h0M431.2 67.6h0M445.6 96.3h0M491.6 41.1h0M412.4 30h0M462.6 22.4h0M480.5 86h0M463.2 43.8h0M411.9 80.2h0M432.2 85.3h0M419.9 105.9h0M433.2 26.3h0M491.4 30.5h0M392.5 70.5h0M437.4 36.5h0M457.2 105.7h0M384.8 81.9h0M476.8 43.4h0M463.6 101.9h0M384.8 52.9h0M460.7 106.3h0M458.6 80.2h0M451 99.1h0M476 63.1h0M418.8 80.6h0M455.6 55.5h0M437.4 35.5h0M428.7 62.6h0M475.9 23.6h0M425.9 38.5h0M471.9 39.3h0M460.3 37.1h0M455.2 63.5h0M429.8 78.4h0M441.2 67.4h0M475.5 38.1h0M444.8 48.9h0M488.3 26.4h0M446.6 90.6h0M469.9 35.8h0M425.3 54h0M417.8 58.2h0M456.6 43.6h0M402.5 87.1h0M392.8 26.4h0" stroke="#1a249e" stroke-width="1.9" stroke-linecap="round" fill="none"/>

<path d="M397.4 83.6h0M397 93h0M393.7 73.5h0M389 78.2h0M397.9 89.3h0M391.1 83h0M396.1 92.2h0M386.8 69.9h0M391.2 73.8h0M390.6 70.9h0M398 88.3h0M398 93.4h0M386.4 73.5h0M393.4 83.2h0M400.1 91.1h0M405.3 91h0M404.3 94.6h0M397.2 81h0M392.1 73.7h0M401.4 93.9h0M398.8 91.7h0M400.3 81.7h0M395.1 77.1h0M395.7 75.8h0M399.6 90.6h0M402.7 93.9h0M387.9 73h0M404.6 90.8h0M396.6 81.2h0M403 89.1h0M403.8 94.5h0M406.1 94h0M397.9 86.4h0M397.6 80h0M386.7 76.2h0M397.6 77.6h0M396.5 91.6h0M402.8 88.1h0M387.6 72.4h0M400.2 83.2h0M389.6 82.7h0M395.9 85.4h0M395.8 92.3h0M396.3 88.3h0M385.6 74.2h0M401.7 88.6h0M420.5 44.7h0M423.2 42h0M419.7 42.4h0M420.8 44.8h0M426 30.5h0M418.5 38.1h0M418.8 38.5h0M424.2 37.1h0M419.5 37.5h0M423.8 43.4h0M416.2 35h0M419.4 40.3h0M421.2 35.3h0M420.2 33.4h0M419.4 30.5h0M418 42.6h0M426.9 40.6h0M420.3 45.6h0M422.3 33.7h0M416.1 38.1h0M425.4 36.6h0M422.9 39.2h0M421.2 40.8h0M420.8 34.7h0M422.1 30.5h0M426.1 33.8h0M419.5 40.1h0M474.9 25.9h0M463.8 29h0M468 30h0M466.5 24.2h0M462.5 34.6h0M475.6 30.7h0M467.6 28h0M473.6 28.2h0M475 25.8h0M469.8 26.6h0M474.7 32.1h0M473.4 29h0M461.6 30.8h0M472.5 35.5h0M462.3 27.7h0M466.7 27.4h0M459.4 30.6h0M467.5 34.2h0M475 29.3h0M472 24.6h0M469.4 26.4h0M474.2 34.8h0M464.6 34.7h0M469 36.9h0M475.3 30.8h0M475.6 30h0M466.6 36.3h0M461.3 31.7h0M470 27.5h0M467.5 31.9h0M464.2 27.9h0M459.2 31.1h0M469 29.3h0M475.5 27.2h0M473.9 34.1h0M481.9 73.7h0M487.2 92.9h0M487 70.2h0M485.8 75.1h0M486.6 75.5h0M486.9 83.7h0M482.2 76.5h0M485.6 72.7h0M488.4 77h0M491.3 68.1h0M484.8 71.8h0M492.2 65.2h0M485.8 85.8h0M485.1 72.7h0M490.8 83.9h0M488.9 80.6h0M492.4 68.2h0M489.7 90.6h0M484.3 62h0M482.1 71.1h0M489.5 80.3h0M485.5 72.8h0M488 92.4h0M487.2 67.2h0M487 75.8h0M482.2 82.9h0M488.3 73.1h0M485.3 73.1h0M491.2 90.2h0M488.5 73h0M483.6 67.6h0M491.8 76.1h0M486.3 80.9h0M484.6 79.7h0M483.9 70h0M492.6 84.5h0M486.3 68.1h0M486.6 81h0M487.1 64.5h0M490.2 68.9h0M484 76.5h0M490.3 82.9h0M490.3 72.1h0M488.3 69.7h0M483.5 82.3h0M487.7 72.1h0M485.2 81.9h0M488.7 58.9h0M491.4 86.2h0M486.7 83h0M490.5 87.3h0M490.6 78.1h0M493.3 80.1h0M485.6 90.1h0M485 89.3h0M491.4 88.1h0M487.9 86h0M456.7 92.7h0M454.6 93.6h0M459.7 97.8h0M459.1 97.2h0M458.6 98.4h0M460.6 93.2h0M459.2 97.9h0M463.2 98.3h0M451.3 94.3h0M455.6 93.4h0M455.3 96.8h0M464.2 96.1h0M454.2 98.4h0M457.4 97.6h0M456.9 97.2h0M453.4 94.2h0M407.1 99.9h0M400.9 102h0M399.2 101.1h0M402.8 99.2h0M400.9 102.7h0M401.1 104.1h0M400.6 103.5h0M403.3 99.8h0M405.3 103.8h0M402.7 98.8h0" stroke="#3a2a18" stroke-width="1.7" stroke-linecap="round" stroke-opacity="0.7" fill="none"/>

</g>

</g>
<clipPath id="pk"><rect x="499.1" y="23" width="112.5" height="82.2"/></clipPath>
<g clip-path="url(#pk)"><g filter="url(#soft)">
<rect x="499.1" y="23" width="112.5" height="82.2" fill="#eef0fa"/>
<ellipse cx="556" cy="40" rx="24" ry="16" fill="#b8bee8" fill-opacity="0.6" filter="url(#blur3)"/>
<ellipse cx="600" cy="62" rx="12" ry="12" fill="#c0c6ea" fill-opacity="0.5" filter="url(#blur3)"/>
<ellipse cx="512" cy="80" rx="10" ry="20" fill="#d8dcf0" fill-opacity="0.6" filter="url(#blur3)"/>
<polygon points="522,106 526,86 536,76 550,73 562,80 568,96 568,106" fill="#fff" filter="url(#blur1)"/>
<ellipse cx="576" cy="67" rx="5" ry="4" fill="#fff" filter="url(#blur1)"/>
<polygon points="590,22 613,22 613,38 603,39 595,34 591,28" fill="#fff" filter="url(#blur1)"/>
<ellipse cx="505" cy="100" rx="8" ry="6" fill="#fff" filter="url(#blur1)"/>
<ellipse cx="513" cy="28" rx="10" ry="5" fill="#fff" filter="url(#blur1)"/>
<path d="M558.8 33h0M579.1 91.8h0M517.3 104.1h0M571.3 42.1h0M562.5 67.6h0M576.1 36.6h0M595.7 64.3h0M602.5 37.4h0M521.7 57.9h0M545.5 42.7h0M567.1 27.4h0M560.2 32.2h0M518.3 40.3h0M589.2 34h0M609.8 73.7h0M599.4 60.7h0M587.3 50.4h0M536.6 47.3h0M527.4 66h0M521.6 54.6h0M520.1 98.8h0M574.4 22.6h0M549.6 67.6h0M577.2 42.9h0M567.1 37.1h0M518.6 23.2h0M584.9 82.9h0M604.5 82.6h0M550.4 38.9h0M585.5 27.1h0M585.2 49.8h0M524.7 86.2h0M522.3 59.8h0M572.7 39.4h0M536 43.6h0M585.8 34.4h0M552.6 60.6h0M534.8 44.1h0M573.1 37.1h0M523.1 33h0M581.4 32.8h0M566 52.3h0M597.1 60.3h0M557.3 40.3h0M500.2 70.2h0M526.6 65.3h0M512.8 57h0M604.2 83.3h0M538.1 52.8h0M555.8 60h0M596 50.4h0M568.1 43.8h0M516.6 53.2h0M549.3 55.7h0M602.5 62.9h0M502 62.4h0M607.4 57.9h0M535.8 73.2h0M498.5 69.4h0M591.1 67h0M561.5 50.1h0M503.7 65.4h0M573.6 53.3h0M557.9 25.4h0M555 22.1h0M605.8 75.8h0M577.6 56.5h0M573.5 33.8h0M576.5 74.2h0M565.8 32.5h0M581.9 35.6h0M500.4 47.9h0M499.6 72.7h0M531.5 24.6h0M538.3 43h0M585.5 94.2h0M592.1 51.9h0M580.1 78.9h0M540.8 53.9h0M556.5 47h0M590.9 37.8h0M583.7 47.2h0M545.1 32.3h0M580.2 40.6h0M571.6 29.5h0M554.2 42.7h0M560.7 74.4h0M528.8 79.6h0M562.2 35h0M531.3 57.2h0M505 46.7h0M568.2 44.6h0M541.2 37.5h0M541.6 51.8h0M586.6 25.9h0M596.3 66.3h0M556.5 47.4h0M608.8 57.7h0M607 76.2h0M527 76.7h0M519.9 91.7h0M579.8 62.3h0M540.4 50.7h0M569.7 38.7h0M568.1 37.9h0M579.6 41.6h0M513.1 54.3h0M500.9 88h0M530.7 45h0M593.7 60.1h0M569.6 35.1h0M568.3 87.4h0M598.5 46.2h0M585.2 34.8h0M591.2 68.3h0M550.4 29.3h0M549.4 51.2h0M554.1 58.8h0M542.1 25.8h0M590.7 60.6h0M590.5 86.2h0M599.6 40.5h0M571.5 92.3h0M582.3 100.3h0M593.8 54.6h0M557.8 59.3h0M569.2 54.8h0M606.4 57.8h0M606.6 49.1h0M537.3 48.4h0M573.9 85.4h0M524.8 39.7h0M535.7 28.2h0M518.6 65.1h0M552.2 34.2h0M516.2 81.2h0M593.3 44.6h0M572.1 82.9h0M607.3 45.4h0M533.2 55.2h0M561 42.8h0M539.4 53.8h0M499.6 70.1h0M605.4 63.6h0M500.5 77.9h0M552.6 39.5h0M546.4 33.6h0M582.5 27.5h0M586.2 72.1h0M559.7 45.7h0M512.8 42.3h0M561 52.2h0M605 97.9h0M595.8 43.8h0M607.7 51.9h0M588.2 65.1h0M524.9 42.2h0M575.6 101.7h0M604.3 66.5h0M571.2 57.4h0M568.9 100.2h0M540.8 71.7h0M591 52.5h0M501.3 53.8h0M591.7 56h0M565.6 74.9h0M589.7 49.6h0M553.8 51.1h0M550.8 32.4h0M525.6 86.3h0M526.3 60h0M511.1 23h0M604.2 92.2h0M588.1 86.7h0M610.8 77.7h0M510.6 56.5h0M558.5 73h0M568.9 25h0M539.9 36.2h0M553.2 32.9h0M600.7 70.6h0M519.2 48.3h0M522.9 30.1h0M610.1 81.9h0M547.2 83.1h0M610.4 45h0M518.5 92.6h0M553.6 27.7h0M605.2 56h0M584.9 87.1h0M561.4 27h0M563.2 36.2h0M558 46h0M515.5 75.7h0M553.5 28.6h0M600.4 38h0M508.8 45h0M567.1 48.6h0M603.2 69.2h0M503.5 57.4h0M558.2 49.6h0M585.7 53.8h0M536.7 58.7h0M607 84h0M589.2 37.3h0M609.1 61.9h0M553.2 60.5h0M521.1 59.2h0M562.8 70.6h0M562.4 46.7h0M579.2 81.1h0M545.2 52.5h0M571.2 63.5h0M535.4 41.5h0M556.2 45.7h0M600.6 42.8h0M580.6 73.4h0M595.3 74.4h0M530.4 72.6h0M563.1 40.5h0M606.2 66h0M608.6 47.1h0M533.7 24.5h0M605.5 96.5h0M581 74.7h0M544 73.4h0M561.1 63.6h0M540.2 30.8h0M602.5 58h0M562 77.7h0M512.5 93h0M539.7 28.5h0M559.9 30.9h0M582.8 92.1h0M504.7 93.9h0M571.3 79.5h0M587 104.5h0M601.3 64.9h0M562.4 40h0M541.7 65h0M565.2 35.4h0M558 62.4h0M568.8 90.3h0M506.1 76h0M548.5 41.2h0M499.2 69.6h0M607.9 60h0M510.1 44.5h0M591.9 66.9h0M538.1 36.1h0M606.1 49.9h0M506.3 57.7h0M523.5 92.6h0M576.9 75.5h0M533 36.9h0M548.2 26.5h0M584.5 80h0M576.2 33.2h0M602.7 53.2h0M581 56.3h0M537.9 69.3h0M565.7 88.5h0M536.2 70h0M574.9 77.8h0M576.2 34.9h0M577.1 85.1h0M589.1 30h0M528 45.8h0M587.8 37.8h0M528.6 26.3h0M594.6 59.9h0M553.5 48.8h0M583.6 93.8h0M499.7 58.4h0M604.8 56.3h0M599.6 49.6h0M608.8 48.5h0M562.2 25.9h0M580.8 89.8h0M606.6 65h0M581.1 42.4h0M603.1 79.7h0M571.3 86.7h0M594.1 67.3h0M564.6 58.8h0M601.5 63.7h0M602 89.1h0M578.8 57.5h0M524.3 39.6h0M570.5 35.1h0M582.3 35.6h0M541.5 60.7h0M573 63.4h0M540.2 25.9h0M598.6 64.8h0M530.8 30.6h0M590.7 41.3h0M603.7 55.9h0M551.4 54.5h0M512.8 61.5h0M544.8 53.4h0M557.9 50.9h0M610.4 100.5h0M546 46.2h0M597.6 72h0M569.5 105.5h0M569.5 73.8h0M529.3 56.4h0M506.1 47.2h0M535.1 48.8h0M583.3 90.2h0M571.7 23.8h0M539.8 54.9h0M571.5 27.4h0M564.9 72.4h0M581 62.4h0M522 65.1h0M598.2 41.5h0M535.1 60.1h0M577 74.9h0M583.7 50.8h0M577 72.7h0M560.4 47.9h0M581.5 40.6h0M558.6 25.2h0M596 42h0M533.9 39.4h0M597.5 46.4h0M592 84.6h0M609.8 100.5h0M569.7 96.9h0M564.6 22.8h0M521.5 40.6h0M544.6 57.6h0M547.2 33.3h0M528.9 64.4h0M551.7 62h0M527.7 48.2h0M592 77.9h0M579.1 99h0M596.5 79h0M542.8 54.5h0M567.2 68.2h0M516.4 29.1h0M573.4 62.2h0M498.8 49.4h0M507.6 66.6h0M520.4 72.3h0M598.1 79h0M584.8 73.2h0M561 30.2h0M531.4 47.7h0M584.9 94.1h0M531.1 50.2h0M587.4 71.8h0M503.3 59.5h0M591.8 38.4h0M551.2 38.1h0M522.8 95.2h0M581.5 25.4h0M504.2 24.5h0M603.8 87.9h0M562.8 58.9h0M506.3 56.4h0M583.5 80.5h0M603.1 73.7h0M571 101.3h0M510.4 92.4h0M583.1 88.9h0M562.8 33.5h0M594.1 91h0M542.3 62.3h0M602 55h0M600.2 80.2h0M590.4 56.5h0M576.1 43.2h0M573 72.3h0M562.1 37.8h0M603.6 67.8h0M515.6 74.9h0M520.5 46.8h0M576 81.6h0M545.7 57.9h0M570 37.9h0M602.7 61.9h0M529 54.2h0M557.7 44.4h0M551.7 28.6h0M534.4 49.1h0M580.6 58.7h0M554.2 44.6h0M534.4 63.1h0M610.8 55.5h0M585.6 81.5h0M524.1 76.7h0M544.3 35.1h0M564.7 42.4h0M578.1 53.1h0M605.1 87.4h0M588.7 102.7h0M546 33.4h0M593 51.9h0M555.7 29.6h0M571 38.6h0M546.9 72.5h0M603.8 83.1h0M559 31h0M558.5 104.9h0M585 52.8h0M559.7 58.4h0M526.4 77.6h0M609 49.5h0M594.8 28.7h0M611.5 57.9h0M503.9 66.8h0M555.6 25.1h0M514.6 69.6h0M526.1 74.1h0M525.7 68h0M516.5 42.4h0M548.9 31.9h0M598 60.1h0M554.7 35.5h0M600.5 74.7h0M594.7 88.5h0M564.8 30.5h0M520.7 50.6h0M577.3 27.9h0M595 40.3h0M569.1 53.5h0M593.1 53.6h0M526.6 45.5h0M582.5 55.7h0M517.6 65.1h0M586.2 105h0M596.5 88h0M598.4 54.5h0M611.6 56.1h0M534.4 60.6h0M556.9 30h0M572.6 78h0M594.9 82.6h0M510.3 67.4h0M602.7 78.6h0M570.6 42.3h0M522.7 38.4h0M533.4 41.8h0M607.3 73.3h0M541.1 36.4h0M529.2 64.4h0M567.2 34.4h0M579.7 84.8h0M597.2 106.1h0M595.8 55.2h0M568.2 68.5h0M517 73.3h0M581.5 87.9h0M608.5 65.7h0M504.6 72.4h0M508 42.8h0M541.2 39.8h0M549.9 32.6h0M609.1 94.6h0M595.8 42.9h0M515.3 55.4h0M521.6 23h0M574.1 35.9h0M585.5 58h0M521.2 37.9h0M523.8 27.5h0M559.5 73.3h0M527.9 65.8h0M597.9 56.3h0M561.2 60.3h0M525.6 64.6h0M576 98.8h0M539.4 22h0M555.9 34h0M590.4 31.6h0M524.7 95.7h0M501.6 59.3h0M522.3 32.7h0M572.5 79.6h0M572.7 45.7h0M594.1 72.9h0M573.9 31.4h0M584.5 24.2h0M549.7 53.7h0M562.1 51.9h0M521.1 60.5h0M606 57.3h0M590 32.3h0M559.5 23.3h0M546.5 23.7h0" stroke="#24329e" stroke-width="1.9" stroke-linecap="round" fill="none"/>

<path d="M523.4 60.3h0M571.7 37.3h0M591.5 38.5h0M592.1 49.9h0M567.4 46.6h0M552.8 68.6h0M610.5 104.7h0M586.7 92h0M522.2 56.3h0M542.9 54.2h0M579.3 78.3h0M586.1 30.3h0M544.2 50.5h0M574.3 93.3h0M531.8 38.9h0M522.4 82.6h0M582.6 24.2h0M508.8 38.3h0M523.8 57.7h0M563.1 26.4h0M604.9 43.8h0M516.2 83.3h0M559.5 41.6h0M599.2 74.3h0M520.5 66.3h0M508.6 83.9h0M577.4 34.7h0M578.7 23.9h0M540.9 71.6h0M548.2 27.9h0M514.8 47.3h0M565.1 42.9h0M529.6 60.2h0M513.6 56.5h0M553.4 72.9h0M572.8 79.7h0M611 70.5h0M531.7 52.4h0M513.3 75.8h0M559.8 38.1h0M578.9 35.8h0M554.9 55.2h0M568.9 82.3h0M543.3 35.9h0M587 31.1h0M589.7 67.3h0M556 48.7h0M563.3 28h0M541.8 49h0M607.7 89.8h0M508.8 89.6h0M528 73h0M522.4 51h0M565.3 40.3h0M527.3 57.2h0M515.5 79.4h0M610.1 47.6h0M599.7 52.5h0M567.8 42.4h0M545.4 70.8h0M552.2 73.4h0M569.8 22.5h0M594 42.4h0M553 35.1h0M606.3 42.7h0M567.2 31.5h0M577.1 80h0M527.3 69.1h0M588.7 53.3h0M586.2 59.6h0M595.6 49.2h0M548.2 22.8h0M513.5 79.8h0M528.7 33.9h0M515.8 65.6h0M575.7 32.2h0M568.5 24.9h0M597.7 63h0M518.2 105h0M574.7 25.2h0M521.4 43.4h0M534.4 31.8h0M537.8 34.3h0M501.5 51.8h0M599.3 61.3h0M560 40.4h0M601.7 61h0M507.1 32.8h0M559.4 72.7h0M567.2 47h0M579.8 43h0M539.7 43.9h0M606.2 63.8h0M596.6 58.2h0M520.2 80.1h0M584.8 66.8h0M568.2 33h0M571.8 97.6h0M505.5 45.2h0M531 23.1h0M609.6 98.6h0M563.5 77.4h0M535.9 53.7h0M564.4 55.1h0M609.1 74.4h0M600.5 73h0M580.4 49.6h0M583.9 31.4h0M546.4 56.7h0M602.2 78.1h0M597.9 50.6h0M559.6 31.7h0M580 79.2h0M537.2 66.3h0M531.1 33h0M551 51.1h0M600.2 70.6h0M549.8 52.6h0M500.6 71.9h0M583.9 102.1h0M507.8 74.5h0M560 62.2h0M593.7 65.5h0M604.1 51.6h0M557.7 27h0M600 88.7h0M553.5 26.6h0M575.5 28h0M568.2 34.1h0M559.5 51.7h0M581.2 90.6h0M537.3 43.1h0M560.1 54.7h0M550.2 45.4h0M612 77.1h0M584.2 35.4h0M596.7 85.6h0M604.8 89.3h0M596.5 95.1h0M560.9 73h0M564.3 76.5h0M530.8 55.3h0M583.8 53.5h0M541.9 60.9h0M566.2 29.1h0M565.4 37.1h0M530.9 54.5h0M576.8 56.5h0M499.5 29.6h0M530.6 51.1h0M572.8 91.4h0M588.3 69h0M542.6 42.7h0M563.4 45.2h0M530.4 64.2h0M574.9 57.1h0M505.2 74.3h0M581.3 103.9h0M558 74.8h0M513 72.9h0M518.3 69h0M539 56.7h0M521.3 82.6h0M528.8 55.5h0M565.4 30.1h0M537.5 26.1h0M585.4 24.9h0M574.4 52.6h0M564.9 56.1h0M534.7 40.5h0M611.6 51.2h0M549.1 40.5h0M530.1 26h0M508.1 44.4h0M518.2 42.1h0M526.7 27.1h0M579.6 93.6h0M583.7 35.8h0M571.5 86.8h0M545.2 55.3h0M571 38h0M512.5 86.3h0M585.9 70.5h0M606.8 90.8h0M551.8 32.8h0M548.3 41.4h0M576.3 56.3h0M544.5 30.4h0M549.9 59.7h0M521.5 72.6h0M537.8 23.4h0M532 28.8h0M565.1 71.8h0M591.9 64.1h0M557.8 71.2h0M571.6 48.3h0M585.8 64.7h0M583.5 31.7h0M579.3 63.3h0M536.3 37.3h0M611.6 52.3h0M581.4 37.4h0M604.1 40.7h0M569.3 40.8h0M562.4 36.7h0M561.2 47h0M598.7 84.7h0M561.5 51.4h0M583.8 26.2h0M608.9 75.2h0M581.5 76.2h0M569.4 42.4h0M577 55.6h0M548.7 71.4h0M548.5 34.3h0M512.6 106.1h0M558.4 74.6h0M565.6 88.4h0M562.4 49.3h0M599.8 93.3h0M498.9 44h0M572.1 38.9h0M543 33.1h0M588 55.9h0M592.4 83.2h0M523.5 43.7h0M524.5 71.6h0M514.9 37.5h0M526.6 42.7h0M593.2 50.4h0M612 57h0M506.9 37.5h0M565.4 56.6h0M533.3 75.3h0M586 67.2h0M539.6 75.1h0M515 58.3h0M554.7 64.2h0M565.1 75.2h0M591.8 68.1h0M551.4 53.1h0M517.4 46.4h0M525.4 82.4h0M567.6 83.8h0M535.9 62.9h0M575 49.6h0M596.2 59.8h0M523.8 44.7h0M499 63.2h0M570.8 28.7h0M521.6 100.7h0M521.9 55.7h0M581 42.6h0M586.6 48h0M601 67.3h0M589.6 62.6h0M534.1 33h0M573.9 47h0M550.9 29.7h0M562.2 68.5h0M562.4 29.3h0M554.1 37h0M507 74.9h0M562.4 48.8h0M575.3 71.6h0M611.3 41.5h0M540.7 63.7h0M552.9 41.2h0M595.1 42.8h0M570.3 56.2h0M602 55h0M564.9 58.4h0M499.7 45.4h0M578.4 77.7h0M570.1 26.9h0M573.1 87.5h0M611.2 47.2h0M548.2 68.2h0M558.2 39.6h0M513 77.6h0M533.1 47.8h0M527.6 32.7h0M593.7 45h0M582.5 35h0M513.3 62.5h0M595.8 43.2h0M574.2 37.1h0M540.4 61h0M524 54.4h0M527.7 45h0M586 62.8h0M569.9 34.8h0M559.8 31.1h0M567.7 32.4h0M524.4 80.1h0M577.6 81.6h0M582.9 45.5h0M524 90.8h0M501.5 45.5h0M526 68.5h0M536.5 22.2h0M519.8 36.6h0M516.4 65.2h0M557.1 39.8h0M523.8 29.3h0M526.4 41h0M576.4 78.8h0M535.7 71.4h0M549.7 63.5h0M513.9 63.3h0M521 45.2h0M552 72.9h0M575.7 94.8h0M568.8 100h0M538.3 25.6h0M609.3 102.8h0M561.2 104.1h0M609.1 104.8h0M518.9 94h0M559.8 25.9h0M560.6 25.2h0M538.9 35.8h0M554.4 30.5h0M554.2 53.7h0M581.6 71.5h0M587.5 85.7h0M576.4 33h0M523.8 24.9h0M590 72.9h0M508 50.4h0M611.2 44.2h0M610.6 45.3h0M595.7 53.5h0M590.8 49.4h0M535.4 56h0M503.8 49.1h0M560.3 53.4h0M589.5 85.7h0M595 75.8h0M532.4 41.5h0M540.5 55.1h0M502.4 39.1h0M594.7 69.9h0M502.7 28.1h0M589.2 75.6h0M607.2 90.6h0M521.3 71.3h0M521.5 88.2h0M558.9 43.4h0M607.7 61.8h0M564.3 30.6h0M604.9 42.9h0M587.2 29.1h0M559.8 39.8h0M522.3 52.3h0M543 38.5h0M533.1 48h0M579.7 72.5h0M564.6 77h0M603.9 86.8h0M543.1 35.2h0M562.5 36.7h0M596 61.4h0M555.9 62h0M517.9 64.9h0M516.2 58.3h0M604.1 47.4h0M593.1 68h0M521.6 104.3h0M540 31.7h0M597.8 81.5h0M526.3 35.7h0M557.4 33.5h0M570.1 46.2h0M521.6 66.3h0M498.4 69.1h0M572.8 71.5h0M575.6 22h0M596.5 46.8h0M568.5 46.5h0M563.4 24h0M517.1 55h0M605.9 82.8h0M536.2 23.8h0M528.1 74.6h0M550.5 33.5h0M553.4 42.9h0M526.6 61.4h0M553.8 78.3h0M502.4 74.5h0M511.2 65.9h0M498.2 50.6h0M564.7 54.6h0M581.3 48h0M569.5 74.6h0M564.4 56.3h0M579.9 35.1h0M591.1 55h0M542.4 40.3h0M518.4 68.4h0M587.7 98.6h0M566.7 76.9h0M544.1 53.6h0M596.9 46.3h0M560 45.3h0M585.9 28h0M546.5 37.6h0M535.3 68.4h0M608.2 53.5h0M591.4 64.3h0M516.4 46.5h0M562.3 36h0M580.2 62.1h0M567.3 30.4h0M562.4 33.1h0M601.4 92.1h0M610.9 58h0M588.6 52.8h0M521 62.3h0M549.3 50.4h0M499.4 83.9h0M598.9 69.6h0M501.9 61.1h0M607.9 67.3h0M574.6 91.3h0M569.7 28h0M531.9 34.8h0M525.1 61h0M605.9 41.7h0M534.1 58h0M520.7 81h0M608.4 58.7h0M556.9 32.6h0M553.4 49.5h0M594.5 95.4h0M577.8 89.8h0M567.4 43.1h0M567.3 31.1h0M555.2 39.5h0M556.7 49.7h0M571.9 77.5h0M527.4 67.2h0M501.8 72.5h0M583.7 46.7h0M611 102.8h0M562.8 26.7h0M514.3 62.1h0M585.5 38.2h0M602.3 41.3h0M509.8 59.5h0M562.3 98.9h0M562.3 31.2h0M519.5 34.6h0M600.2 48.9h0M606.4 66.5h0M581.6 22h0M550.6 38.2h0M538.1 40.1h0M537.6 37.4h0M526 44.4h0M541.4 79.6h0M501.9 56.2h0M592.7 59h0M567.7 57.5h0M580.2 70h0M565.9 24.2h0M594.9 70.9h0M502 63.5h0M602.3 89.9h0M525.1 69.3h0M532.4 62.7h0M505.5 39.4h0M523.6 42.9h0M591.1 83.1h0M540.9 25.7h0M559 57.5h0M579.8 91.5h0M543.9 40.9h0M542.3 57.4h0M571.1 52.8h0M526.7 48h0M568.3 98.3h0M525.9 49.6h0M603.3 81.9h0M553.9 36.3h0M586.2 34.9h0M582.1 31.2h0M527.9 36.9h0M578.9 57.8h0M572.4 37.6h0M605.2 42.6h0M560.2 55.6h0M562.4 53.7h0M559.5 48.8h0M584.8 32.6h0M580.8 30.5h0M508.9 65.8h0M539.3 56.5h0M563.5 49.7h0M527.7 74.7h0M526.8 70.4h0M585.2 25.8h0M583.3 22.5h0M526.2 53.4h0M564 55.1h0M544.8 75h0M519.5 47.3h0M569.8 56.8h0M528.4 74h0M518 102.3h0M531.2 42.5h0M546.6 40.5h0M589.1 66.7h0M569.9 53.2h0M597.7 56.9h0M545.2 70h0M537.7 59h0M569 23.5h0M584.7 34.8h0M588.8 58.1h0M608.3 50.7h0M563.2 48.9h0M546.9 28h0M501.3 69.5h0M528.7 28.3h0M520 49.8h0M505.3 64.8h0M591 89.8h0M608.2 93.4h0M534.5 35.3h0M556 32.8h0M542.4 46h0M499.9 54.7h0M605.5 56h0M548.2 41.2h0M533.7 72.3h0M574.8 103.7h0M537.9 37.4h0M586.5 65.8h0M574.1 77.5h0M533.4 41.3h0M593 67h0M558.8 59.9h0M510.3 72.6h0M603.9 41.4h0M553.6 72h0M541.4 33.2h0M518.8 44.8h0M553.7 39.2h0M504.6 58h0M558.2 49.4h0M510.6 67.9h0M529.1 52.3h0M574.8 43.5h0M517.2 61.5h0M586.9 25h0M522.7 34.9h0M569.9 90.7h0M521 52.6h0M523.3 85.8h0M553.2 48.5h0M603.7 71.2h0M572.4 57.5h0M599.8 62.5h0M526.5 26.4h0M538.5 72.7h0M538.7 39.8h0M550.4 26.2h0M599 56.8h0M580.8 28.1h0M585.8 88.1h0M516 62h0M578 81.6h0M507.7 52.5h0M523.5 58.9h0M511.8 60.2h0M563.4 25.6h0M573.9 95.3h0M525.3 73.1h0M572 48.2h0M510.6 73.9h0M611.5 94.6h0M556.6 24.5h0M561.1 52.4h0M574.2 82.4h0M588 64.1h0M508.1 54.5h0M539.8 38.3h0M581 28.1h0M554 43.3h0M552.8 58.9h0M507.4 66h0M586.6 100.8h0M560.1 35.8h0M499.4 67.3h0M561.7 55.7h0M528.4 73.3h0M579 39.9h0M562 44.8h0M508 65.5h0M564.7 23.2h0M550.6 65.2h0M574.8 75h0M585.8 32.7h0M568.8 31.9h0M583.3 105.4h0M575.3 24.9h0M535.6 35.9h0M502.6 78.5h0M563.3 58.8h0M534.5 26.9h0M601.8 62.7h0M512 66.3h0M520.9 46.8h0M571.2 33.5h0M607.6 58.9h0M559.9 63.2h0M553.8 39.1h0M568 89.6h0M508.6 67.2h0M575.2 27.9h0" stroke="#18207e" stroke-width="1.7" stroke-linecap="round" fill="none"/>

<path d="M582.2 52.2h0M535.5 33.3h0M572.1 95.7h0M514.4 104.2h0M589.5 75.6h0M568.2 92.1h0M571.4 25.7h0M608.3 94.9h0M553.5 74.9h0M533.9 70.8h0M608.2 79.3h0M514.3 51.8h0M530.3 31.7h0M605.5 74.3h0M559.4 60.7h0M581.1 60.9h0M562.4 27.7h0M577.3 85.3h0M527.2 24.6h0M539.4 45h0M586.5 77.6h0M545.6 41.8h0M583.7 77.8h0M526.9 36.9h0M550.2 39.7h0M555.9 26.4h0M569.1 70.6h0M588.4 65.3h0M561.2 37.9h0M534.2 59.2h0M588 94.9h0M522.2 104.9h0M562.9 73.2h0M534.5 31.9h0M551.3 39.8h0M578.1 29.2h0M593.3 62.1h0M575.6 56.9h0M593.5 73.6h0M583.3 94.8h0M537.8 50.6h0M539.2 67.4h0M547.6 28.6h0M602.6 80.1h0M509.6 22.8h0M606.5 72.9h0M598.4 87.8h0M514.9 68.9h0M561.6 71.9h0M528.9 30.5h0M550.5 42.5h0M580 102.9h0M590.3 93.1h0M602.5 45.8h0M539.7 30.4h0M522.9 92h0M600.9 79.1h0M566 29.2h0M516.4 51h0M582 59.6h0M606.7 53.8h0M588.5 70.4h0M562.1 58.8h0M574.1 40.3h0M603.8 75.4h0M593.2 63.2h0M560 70.5h0M575.8 34.2h0M520.2 60.2h0M574.1 79.9h0M566.1 56h0M577.6 72.8h0M565.3 35.8h0M544.6 41h0M563.9 62.1h0M510.6 47.9h0M510.7 61.1h0M567.9 28.5h0M552.4 55h0M575.8 33.4h0M544.7 31.3h0M612.2 83.2h0M541.2 48.4h0M591.6 71.5h0M598.3 49.2h0M552.4 22.2h0M548.6 67.4h0M509.1 44h0M608.6 47.8h0M598.1 51.5h0M595.7 58h0M547.3 65.3h0M565.2 36.1h0M562.3 49.5h0M602.6 87.1h0M558.9 39.5h0M499 49.4h0M586 82.4h0M595.3 37.2h0M565.8 51.5h0M547.8 26.6h0M576.4 41h0M540.5 29.9h0M588.9 55.9h0M559.5 23h0M609.5 51.4h0M551.3 64.2h0M572 37.8h0M589.6 30.5h0M610.2 78.4h0M543.6 24.5h0M517.9 103.2h0M597.6 47.3h0M545.3 22.6h0M585.9 105.4h0M589.1 60.5h0M545.4 36.5h0M572.7 58h0M521.5 55.7h0M553.4 49.2h0M588.7 93h0M507.7 79.8h0M575.3 88.9h0M532.1 65.7h0M537.4 87.7h0M600.6 69h0M593.7 63.5h0M594.2 93.8h0M580.5 65.1h0M569.5 92.8h0M599.2 51.2h0M558.6 34.9h0M609.3 72h0M507.6 45.9h0M557.8 23.4h0M539.5 60.5h0M541.8 34.5h0M585 62h0M575.5 43h0M599.5 62.8h0M591.4 41.9h0M525 32h0M592.6 62.6h0M588 57.6h0M604.4 69.5h0M560.9 37.4h0M510.7 62.5h0M513.7 104.3h0M531.4 42.7h0M570.8 39.5h0M598.1 73.7h0M572.4 54.1h0M572.3 31.6h0M576.6 54.7h0M576.3 50.5h0M603 71h0M559.5 39.5h0M553.2 36h0M609.5 62.9h0M564 44.6h0M546.5 62.3h0M538.2 68.1h0M542.5 38.8h0M564.6 43.7h0M528.5 103.8h0M572.3 74.6h0M544.6 42.5h0M598.5 65.1h0M539.5 33.3h0M529.2 43.1h0M560 57.6h0M579.5 70.1h0M514 91.3h0M579.3 59.3h0M585.2 60.7h0M556.7 29.1h0M579.7 38h0M605.1 48.8h0M559.2 68.9h0M499.9 95.3h0M579.8 61.9h0M550 29.4h0M505.2 66h0M571.4 83.6h0M558.3 33.2h0M571.4 56.1h0M555 50.9h0M604.3 83.7h0M550.6 56.9h0M507.5 82.1h0M528.5 50h0M553.8 41h0M537.6 26.5h0M579.4 37.8h0M571.9 46.7h0M590.4 47.1h0M592.6 88.2h0M568.7 96.1h0M605.3 64.7h0M568.4 41.1h0M532.8 44.2h0M612.2 90.3h0M607.2 47.1h0M538.5 22.5h0M504.3 41.7h0M566.5 45.7h0M566.1 52.8h0M511.6 43h0M574 37.6h0M560.1 34.3h0M609.4 75.9h0M583 76.8h0M520 44.9h0M570.5 70.4h0M611.3 78.8h0M573.5 44.1h0M587.6 41.9h0M507.3 48.9h0M573.8 58.6h0M560.8 25.8h0M595.1 83.4h0M566.6 70.8h0M578.9 50.5h0M505.9 63.6h0M584.2 103.1h0M549.3 41.6h0M556.6 29h0M572 24.5h0M571.3 37.6h0M534.6 60.9h0M577.5 101.4h0M595.8 78.8h0M564.7 25.4h0M550.3 54.8h0M564.1 66.5h0M551.8 28.8h0M564.4 76.7h0M612.1 66.2h0M608.2 66.6h0M592.8 43.3h0M542.9 61.1h0M582.1 37.2h0M539.6 24.6h0M557.3 51.3h0M573 31.2h0M521.2 72.8h0M510.8 61h0M564.9 53.4h0M525.1 63.5h0M599.5 46.7h0M556.7 39.1h0M518.8 74h0M584.6 61.3h0M606.3 87.3h0M582.9 73.2h0M587.2 34.6h0M599.9 90.6h0M580.9 30h0M579.7 75.6h0M585 81.2h0M548.4 39.5h0M526.8 81.2h0M612.3 93.4h0M506.6 66.6h0M572.3 84h0M513.4 47.9h0M584 73.3h0M607.7 70.7h0M498.9 53.2h0M567.1 93h0M527.8 78.5h0M526.3 81.6h0M568.9 72.6h0M603.3 44.3h0M508.1 48.6h0M520.7 50.3h0M559 38.7h0M568.2 98.9h0M546.8 40.6h0M611.9 100.6h0M608.4 63.1h0M602.8 88.3h0M532.5 55.7h0M522.9 83.6h0M512.2 42.5h0M556.2 39.1h0M531.8 60.4h0M516.8 49.1h0M551.6 36.4h0M572.9 45.1h0" stroke="#8890d8" stroke-width="2.4" stroke-linecap="round" stroke-opacity="0.6" fill="none"/>

<path d="M575.9 46.7h0M559 38.6h0M539.1 39.3h0M585 59.6h0M594.7 81h0M596.5 87.7h0M587.9 72.2h0M569.3 23.8h0M520.6 74h0M600.5 75.2h0M553.4 34.7h0M518.8 41.2h0M518.6 43.8h0M607.2 87.4h0M585.1 64h0M587 59.1h0M552.1 41.2h0M510.9 81.2h0M573.3 103.9h0M598.9 53.3h0M580.8 46.7h0M523 64.9h0M555 59.8h0M545.4 72h0M553.2 73.7h0M583.7 33.9h0M574.8 59.7h0M508.9 60.3h0M601 56.8h0M535.6 73.9h0M517.2 55h0M570.2 33.2h0M526.9 69.2h0M515.1 102.9h0M519.5 38.8h0M585 96h0M600.8 42.4h0M537.8 34.1h0M602.4 91.2h0M532.7 40.5h0M588.2 40.2h0M543.9 23.1h0M590.9 28.7h0M515.6 71.2h0M522.1 49.8h0M499.2 58h0M608.8 38.5h0M568.5 42.8h0M581.6 35.7h0M548.8 43.3h0M596.9 68.6h0M566.2 22.1h0M587.6 73.6h0M504.8 44.5h0M596.6 103.9h0M513.7 71.5h0M558.2 46h0M603.3 73.5h0M547.5 50.1h0M538.9 47.7h0M583.8 76.2h0M549.5 47.5h0M544.3 73.8h0M581.8 76.1h0M559 48.3h0M540.4 71.4h0M561.8 65h0M594.9 81.9h0M516.8 66.4h0M605.9 90.5h0M504.5 70.8h0M580.8 49.3h0M569.8 34.2h0M601 62.4h0M502.7 54.2h0M535.5 48.1h0M558.8 36.6h0M511.4 61.9h0M569.9 45.5h0M572.5 35.7h0M609.5 74.9h0M582 64.9h0M539.6 40h0M594.6 48.2h0M566.6 83.4h0M573.8 28.2h0M522.8 79.6h0M594.7 88.8h0M511.1 79.5h0M508.4 67.8h0M599.6 51.7h0M598.1 69.5h0M560.7 33.8h0M560.9 33h0M555.5 60.9h0M548 45.2h0M574.7 40.5h0M549.2 35.4h0M561.4 42.5h0M575.9 57.6h0M498.3 53.2h0M576.1 36.6h0M506.4 52.7h0M596.7 65.4h0M510 62h0M549.9 38.6h0M554.9 45.1h0M565.8 50.1h0M606 68.6h0M537.5 26.5h0M512.8 77.2h0M540.3 28.3h0M535.7 78.9h0M521.2 45.3h0M505.5 43.3h0M592 43.1h0M558.8 33.5h0M512.2 47.6h0M575.2 56.6h0M521.6 31h0M560.6 28.5h0M519.1 62.7h0M571.4 46.3h0M501.7 52.2h0M557.8 74.5h0M596.6 81.4h0M531.5 48.8h0M534 72.4h0M561.7 43h0M499.1 83h0M518.7 73h0M504.3 90.4h0M542 46.9h0M520.5 51.9h0M590.5 104h0M611.9 72.3h0M536.5 37.4h0M505.3 64.3h0M609.5 69.1h0M581.6 64.7h0M571.1 39.5h0M561.2 71.7h0M572.4 42.6h0M597 69.4h0M520.8 77.5h0" stroke="#0e1466" stroke-width="1.4" stroke-linecap="round" fill="none"/>


</g>
<text x="607.9" y="104" font-size="8.3" text-anchor="end" fill="#000">400x</text>
</g>
<clipPath id="pi"><rect x="433.1" y="127" width="113.9" height="85.2"/></clipPath>
<g clip-path="url(#pi)"><g filter="url(#soft)">
<rect x="433.1" y="127" width="113.9" height="85.2" fill="#f1f0f8"/>
<ellipse cx="441" cy="146" rx="10" ry="14" fill="#a8a4dc" fill-opacity="0.7" filter="url(#blur3)"/>
<ellipse cx="532" cy="148" rx="14" ry="22" fill="#c0bce8" fill-opacity="0.6" filter="url(#blur3)"/>
<ellipse cx="470" cy="130" rx="25" ry="3" fill="#f4e4f0" fill-opacity="0.6" filter="url(#blur3)"/>
<ellipse cx="503" cy="160" rx="4" ry="14" fill="#fff" filter="url(#blur1)"/>
<ellipse cx="474" cy="203" rx="8" ry="12" fill="#fff" filter="url(#blur1)"/>
<ellipse cx="492" cy="129" rx="14" ry="3" fill="#fff" filter="url(#blur1)"/>
<path d="M529.3 133.9h0M436 171.9h0M440.1 176.6h0M456.8 179.9h0M442.3 182.7h0M492.4 205.9h0M442.1 182.7h0M541.6 140.4h0M545.3 139.3h0M499.9 186.1h0M448.8 200h0M448.5 134.3h0M441.7 140h0M450.2 159h0M526.9 191.6h0M451.4 178.2h0M441.9 130.5h0M465.9 142.4h0M523.2 135.9h0M495.6 193.5h0M470.8 168.5h0M546.8 156.9h0M445.8 145.1h0M532.3 171.4h0M528.8 209.8h0M534.1 167.2h0M514.3 135.3h0M500.3 187.3h0M445.1 143.3h0M513.6 142.3h0M479.8 154.5h0M539.1 154.8h0M436.3 148.6h0M470.9 153.5h0M542.2 161.2h0M506.9 184.9h0M458.2 136.3h0M497.7 203.2h0M515 173.6h0M537.2 156.3h0M451 162.5h0M458.6 206h0M452.3 201.4h0M534.7 172.9h0M456.6 151.9h0M477 136.2h0M509.6 174h0M512.7 150.3h0M497.3 186h0M495.1 149h0M443.3 126.8h0M538.5 148.1h0M517.7 201.3h0M497.2 182.1h0M527.5 149.4h0M496.2 157.4h0M466.8 179.3h0M490.7 197.6h0M465 157.1h0M528.4 153.7h0M438.3 134.1h0M436.5 128.4h0M509.6 182.4h0M441.3 148.2h0M434.6 126.2h0M452 179h0M454.5 191.1h0M447.9 172.1h0M445.4 133.3h0M458 138.2h0M446.6 171.6h0M530.7 132.1h0M497.7 156.2h0M490.8 151.6h0M441.3 179.5h0M436.4 127h0M438 151.6h0M541.3 190.6h0M522.7 194.5h0M507.7 136.6h0M488.1 175.2h0M513.7 186.8h0M540.6 168.1h0M487.2 164.6h0M436.6 145.6h0M533.6 145.9h0M527.8 197h0M514.1 147.9h0M458.5 188h0M538.6 139h0M509.5 170.2h0M542.2 156.4h0M522.5 143.5h0M521.2 175.2h0M444.6 191.8h0M436.2 212.5h0M441.4 140.5h0M504.6 179.4h0M498.4 185.1h0M461.5 196h0M446.1 176.9h0M547.5 175h0M522 187.6h0M533.7 137.4h0M547.3 159.9h0M545.5 140.4h0M475.5 166h0M496.5 141.7h0M506.7 142.4h0M445 176.4h0M532.1 209h0M447.3 133.9h0M443.8 201.1h0M467 160.5h0M478.4 166h0M514.8 131.6h0M505.3 195.9h0M543.3 171.8h0M451.9 157.9h0M441.2 173.2h0M447.2 147.6h0M446.1 198.9h0M445.1 194.2h0M447.3 201.6h0M544.6 210.5h0M534.6 151.7h0M526.1 127.1h0M439.6 143.9h0M526.7 181.2h0M460.2 152.1h0M509.2 162.8h0M494.9 147.3h0M499.3 187.5h0M521.1 148h0M538.3 186.5h0M439.3 148.6h0M503.3 137h0M487.9 171.5h0M465.8 142.5h0M515.2 205.3h0M438.7 148.2h0M436.2 159.6h0M519.3 203.9h0M537.4 146.6h0M490.3 176.3h0M529.4 152.3h0M531.4 208.6h0M512.3 187.6h0M533.9 145.9h0M516.7 151.5h0M441.7 201.2h0M530.6 153.7h0M541.2 129.8h0M529.9 171.3h0M449.9 131.9h0M452 161.9h0M546.4 150.5h0M541.9 138.5h0M479.7 160.8h0M445.9 143.2h0M536.7 147.7h0M523.8 148.4h0M510.4 205.8h0M520.4 177.6h0M436.7 186.4h0M489.5 195.2h0M534.9 127.2h0M540 131.7h0M508.9 193h0M465.5 212.8h0M472.1 153.3h0M497.7 183.6h0M446.3 138.6h0M501.6 183.9h0M543.9 150.9h0M480.2 171h0M502.3 196.8h0M456 183.5h0M465 197.7h0M540.3 174.3h0M489.5 212.2h0M450.5 157.3h0M440.8 173h0M465.6 162.5h0M463.2 210.8h0M539.1 195.8h0M513.7 130h0M433 164.1h0M534 192.6h0M489.7 167.5h0M467.8 212.1h0M529.1 159.8h0M530.9 154.9h0M486.4 199.4h0M473.4 160.2h0M493.4 198.2h0M529.8 145.1h0M543.7 171.7h0M502.8 179.7h0M542.7 176.8h0M540.3 206.1h0M534 142.6h0M436.5 146.6h0M478.1 154.3h0M449.3 165h0M527.6 166.7h0M454.3 129.3h0M438.7 185.1h0M536.6 169.4h0M489.9 173.8h0M522.9 162.2h0M524.7 190.3h0M543.6 146.1h0M541.6 143.2h0M514 178.2h0M446.3 163.8h0M434.8 142.6h0M462.1 195.6h0M527.9 158.7h0M543.3 167h0M543.6 185.4h0M485.7 140.1h0M449.7 154.4h0M529.9 180.2h0M521.9 152.6h0M523.1 141.6h0M476.3 157.7h0M524.6 181h0M535.9 144h0M545.4 163.5h0M532.7 196.1h0M436.7 168.3h0M488.7 178.9h0M472.6 153.4h0M443.1 185.7h0M471.5 171h0M464.3 188.5h0M515.8 193.7h0M535.3 157.6h0M451.5 157.9h0M442.7 145.6h0M539.6 140.3h0M543 156.4h0M525.3 178h0M484.7 188.6h0M437.5 172.7h0M537.3 151.4h0M532.3 206.5h0M531 182.7h0M433.3 132.4h0M436.2 184.9h0M456 150.8h0M435.4 167.6h0M455.6 172.7h0M530.1 207.7h0M544.8 144.3h0M545.1 207.7h0M478.4 151.2h0M528.6 139.1h0M515.9 210.2h0M514.6 197.2h0M524.6 136.3h0M433.9 145.1h0M484.5 164.3h0M528.3 129.4h0M526.4 171.6h0M518.2 195.1h0M448.4 174.3h0M540.4 147.5h0M494 196.4h0M500 193.9h0M517.9 174.7h0M535.2 197.4h0M498.5 209.6h0M444.9 159.4h0M473.5 180.4h0M491.7 162.3h0M533.6 162.5h0M536.1 148.8h0M523.1 145.6h0M468.3 167.7h0M472.7 177.1h0M527.8 136h0M451.1 152.8h0M442.7 178.8h0M472 159.1h0M456.6 172.8h0M540.3 142.8h0M463.9 140.3h0M456.5 132.3h0M434.4 195.4h0M482.7 198.2h0M437.7 129.2h0M502.5 190.1h0M439.7 158.9h0M475.1 183.2h0M542.9 154.5h0M451.4 128.4h0M462.2 179.1h0M481.6 155.4h0M491.9 156.5h0M538.2 206h0M536.9 146.8h0M519.5 202.6h0M502.7 209.9h0M445.8 134.1h0M437.4 155.9h0M482.4 193h0M504 137.3h0M472.6 158.4h0M546.2 183.6h0M547.7 172.4h0M437.2 148.5h0M490 142h0M454.8 157.7h0M519.5 164.1h0M546.7 197.6h0M521.4 174.3h0M510.4 138.5h0M514 150h0M460.8 199h0M433.2 133.9h0M528 192.2h0M525.2 131.2h0M479 166.8h0M542.6 128.4h0M458 149.2h0M443.9 139.3h0M518.6 189h0M454.9 184.6h0M444.5 151.2h0M487.9 203.4h0M507.2 210.1h0M547.4 169.3h0M495 185h0M447.1 145.1h0M451.4 155.2h0M490.7 142.5h0M516.1 199.2h0M442.8 130.1h0M482.4 193.1h0M479.4 179.6h0M435.6 160.7h0M521.7 186.2h0M457.3 184.3h0M531.4 191.1h0M447.2 164.5h0M546.9 138.5h0M434.7 169.5h0M539.3 166.2h0M483.5 170.3h0M544.3 143.9h0M457.6 143.6h0M511.2 186.3h0M480.6 186.4h0M530.1 184h0M544.8 133.2h0M544.7 166.4h0M506.6 131.3h0M467.5 166.2h0M535 174.1h0M518.3 153.9h0M488.1 156.7h0M514.5 138.3h0M493.6 198.7h0M514.1 148.6h0M455.7 173.5h0M518.7 148h0M442.9 168.9h0M436.6 191h0M458.8 155.1h0M481.2 179.9h0M494.3 180.1h0M536 151.5h0M489.4 175.6h0M440.1 142.8h0M536.1 152.6h0M434.4 151.9h0M436.3 172.6h0M464.4 187h0M509.8 202.4h0M520.8 143.8h0M451.6 164.6h0M486.2 146.4h0M535.6 134.3h0M456.8 126.4h0M513.2 209.4h0M511.5 141.7h0M546 133.4h0M456 173.4h0M445.6 187.8h0M475.7 142.9h0M479 162.7h0M509.2 141h0M513.8 198.2h0M432.6 136.5h0M522.4 151.7h0M496.1 172.4h0M440.7 148.7h0M432.8 150.4h0M435.3 160h0M434 132.8h0M525.4 162.8h0M485.4 157.8h0M510.8 149.5h0M483.5 143.2h0M533.2 150.7h0M440.6 195.2h0M506.3 181.6h0M512.5 194.5h0M462.2 158.4h0M460 202.3h0M505.2 135.5h0M445.2 126.9h0M432.8 170.4h0M519.9 170.5h0M519.6 162.7h0M511.9 127.1h0M441.7 129.3h0M511.4 188.3h0M481.3 159.6h0M539.3 128.8h0M443.7 139h0M543 137.8h0M505.8 202h0M444.9 172h0M521.6 151.8h0M443.9 165.5h0M538.1 154h0M503.3 133.3h0M527.7 190.2h0M545.6 129.7h0M492.1 188.4h0M434.8 205.9h0M497.7 198.9h0M512.9 168.9h0M478.2 174.3h0M526.4 211.3h0M532.3 132.8h0M443.1 137.8h0M532.7 205.8h0M437.9 142.4h0M486.5 134.3h0M485.9 192.4h0M467 126.8h0M527.9 166.8h0M487.8 173.1h0M534.4 134.3h0M501.7 154.4h0M533.7 141.6h0M454.6 184.9h0M543.7 163.8h0M485.5 181.6h0M453.8 148.4h0M449.8 150h0M519.2 175.7h0M531.8 174.3h0M442.5 128.8h0M547 190.2h0M472.5 151.3h0M453.4 185.9h0M531.9 169.4h0M516.8 147.4h0M494 168.8h0M528.4 195.5h0M514.9 183.3h0M540.2 126.6h0M498.2 144.2h0M465.1 157.6h0M531.4 211.8h0M490 196.4h0M459.5 131.6h0M536 189.5h0M518.2 191.1h0M463.2 152.3h0M495.9 157.2h0M492.4 149.5h0M491.2 133.8h0M466.6 144.7h0M539.9 193h0M493.7 199.9h0M495.4 171.1h0M485.7 210.7h0M445.2 177.4h0M541.1 143.7h0M460.6 198.7h0M520.2 182.8h0M498.9 211.9h0M524.5 148h0M480.9 185.4h0M457.7 164.7h0M446.5 176.6h0M441.3 152h0M478.2 130h0M442.1 143.6h0M502.3 202.6h0M487.9 164.7h0M454.3 141.5h0M545 129.6h0M507.6 187.2h0M495.3 204.8h0M477.2 146.8h0M488.6 209.8h0M467.6 135.6h0M433.7 192.4h0M451.4 131.4h0M479 137.5h0M487.4 211.1h0M456 129.8h0M437.8 171.8h0M544.3 210.9h0M462.6 139.8h0M479.1 158.3h0M467.8 160.8h0M528.9 166.8h0M433.3 159.6h0M445 157.6h0M542.1 163.5h0M491.8 171.1h0M438.5 139.1h0M450.3 129.1h0M451.2 129.7h0M505.7 136.8h0M512.2 193.6h0M498.1 200.8h0M490.2 150.8h0M436.6 132h0M543.5 184.7h0M488.1 155h0M521.2 145.8h0M471.9 145.1h0M519.3 148.6h0M528.3 196.8h0M501.1 209.2h0M517.2 208.9h0M512.5 156.5h0M522.3 190.9h0M544.1 167.7h0M542.6 195.2h0M544.8 168.6h0M530.3 130h0M515.2 188.8h0M484 156.4h0M491.4 153.9h0M517.3 183.1h0M506.8 198.3h0M536.3 209.9h0M489.2 157.2h0M494.5 167.8h0M525.7 135.2h0M494.2 192.5h0M437.7 142.9h0M514.4 206.7h0M440 185.9h0M433.9 142.6h0M528.8 167.2h0M514.2 133.8h0M489.8 190.5h0M494.4 174.3h0M542.4 135.2h0M516.8 197.4h0M487.7 166.2h0M440 147.5h0M455.5 141.5h0M450.1 191.2h0M541.8 198.2h0M536.6 138.9h0M442.1 149.1h0M514.9 209.4h0M504.4 189.7h0M541.7 182.3h0M536 159.2h0M517.7 146.2h0M452.9 191.7h0M498.3 140.3h0M521.3 175.8h0M513.5 156.5h0M504.4 145h0M531.2 194.4h0M474.1 134.4h0M524.1 187h0M544 176.2h0M529.9 177.1h0M542 169.4h0M478.5 158h0M517.5 199.6h0M454.3 177.8h0M462.4 175.7h0M492.2 211.2h0M542.9 128.5h0M531.8 167.8h0M436.1 144.3h0M465 156.5h0M458.2 185.2h0M486.5 169.3h0M483.7 143.3h0M485.7 169.4h0M523 138.8h0M540.3 179.7h0M520 162.5h0M453.1 142.4h0M535.1 209h0M532.9 160.2h0M441.2 188.4h0M539.5 136.5h0M472.3 179.7h0M522.9 128.6h0M525.7 128.4h0M536.3 148.1h0M533.2 164h0M455.4 143.1h0M543.4 169.8h0M483.9 148.8h0M529.4 129.2h0M521.2 203.4h0M438.8 146.2h0M479.2 164.8h0M443.6 151.5h0M516.2 136.2h0M519.2 179.3h0M439.5 128.9h0M529.2 130.2h0M454.1 133.6h0M546.6 166.7h0M525.1 195.6h0M462 163.9h0M479.6 137.2h0M528.4 162.7h0M544.8 168h0M498.8 129.2h0M522.1 159h0M500 178.1h0M444.9 165h0M536.4 153.8h0M528.1 141.8h0M532.1 152.2h0M432.9 143.6h0M470.6 148.9h0M527.5 166.7h0M522.6 128h0M542.7 142.4h0M445.1 158.6h0M514.5 171.5h0M457.3 175h0M450.2 132.7h0M435.5 135.5h0M489.2 164h0M437.4 174h0M463.1 211.9h0M530.4 198.3h0M516.6 140.2h0M490.9 205.8h0M510.9 163h0M492.1 156h0M479.8 162.6h0M547.4 151.4h0M452.6 155.1h0M451 150.4h0M452.9 138.3h0M465 205.6h0M544.2 200.2h0M529.5 167.4h0M489.5 158.3h0M518.3 172.7h0M502.1 192.7h0M467.7 184.2h0M446 127.4h0M435.8 180.4h0M503.1 203.1h0M535.8 147.4h0M445.6 130.6h0M469 175.2h0M453.8 136.6h0M437.9 186.1h0M545 177.3h0M535.3 132.1h0M432.1 159.7h0M539.9 157.8h0M547.3 185.7h0M441.5 135h0M502.2 160.6h0M537.8 183.1h0M518.6 150.4h0M468.6 167.6h0M455.8 191.7h0M541.5 157.5h0M492.7 211.5h0M436.8 144h0M446.6 190.1h0M512.7 176h0M528.9 168.2h0M470.7 130.6h0M487.5 192.1h0M461.9 168.1h0M535.5 153.9h0M515.6 170.6h0M518.4 175.6h0M434.5 150h0M506.5 209.3h0M494 205.4h0M527.5 139.6h0M469 175.1h0M540.6 193.6h0M457.5 200.2h0M468.1 190.5h0M455.5 163.6h0M452.4 145h0M537.8 170.1h0M440.4 147.1h0M526.3 206.9h0M522 202.8h0M528.1 180.2h0M489 165.8h0M444.2 146h0M483.7 138.8h0M531.5 165.4h0M534.4 132.1h0M516.6 133.7h0M539.2 185.5h0M540.4 137.4h0M440.3 150.2h0M436.6 143.1h0M536.2 156.6h0M487.4 162.3h0M533.3 189.4h0M540.5 191.9h0M544.7 135.8h0M468.6 139.3h0M485.2 136h0M432.9 160.5h0M442.1 181h0M536.4 159.9h0M468 166.5h0M454.9 132.7h0M546.1 147.4h0M504.7 138.9h0M446.3 198h0M536.9 136.6h0M511.3 138h0M469.7 152.5h0M536.2 128.6h0M522.5 194h0M542.1 136.9h0M535.9 172.2h0M505.4 190.9h0M484.2 193.2h0M467.3 209.8h0M477.7 152.1h0M433.6 188.2h0M502.1 173.7h0M453.8 170.2h0M443.4 142.9h0M447.1 167.7h0M513 193.8h0M473.3 178.9h0M544.1 181.1h0M539.4 150h0M527.2 137.6h0M544.7 145.7h0M466.1 145.2h0M488.3 161.5h0M513.4 183.7h0M446 210.5h0M522.5 202.1h0M493.6 156.3h0M443.7 151.5h0M518.2 161.8h0M437.8 161.1h0M442.5 133.9h0M492.9 183.4h0M524.1 146.3h0M488.6 181.2h0M449.6 189.8h0M542 133.2h0M458.9 134.9h0M521.7 188.7h0M467.1 149.3h0M508.3 175h0M451.7 139.9h0M440.3 190h0M518.2 160.7h0M529 146.1h0M488.9 186.4h0M540.5 202.3h0M435.7 212.2h0M517.7 202.7h0M532.1 191.3h0M530.3 154.3h0M487.3 146.5h0M542.8 154.7h0M540.3 206.8h0M490.7 170.4h0M541.9 194.5h0M493.8 177.1h0M476.7 190.9h0M441.5 150h0M530.1 139.6h0M440.4 204h0M437.5 168.7h0M530.1 139.7h0M531 146.7h0M471.4 133.1h0M475.6 133.2h0M444.1 207.6h0M511.8 201.6h0M510.9 189.6h0M476.6 150.1h0M531.3 133.6h0M531.1 165h0M547.5 163h0M499.7 149.2h0M541 145.4h0M529.6 135.2h0M464.7 157.6h0M535.4 126.5h0M438.2 139.6h0M528.1 196.6h0M435.2 163.1h0M463.3 129.9h0M519.5 158.6h0M479.3 189.2h0M527.8 181.8h0M451.7 180.9h0M437.9 160.8h0M547.5 200.7h0M453.1 131.6h0M463.9 145.7h0M474.3 147.2h0M442.4 141.5h0M495.3 160.9h0M432.7 170.5h0M535.6 172.4h0M502 174h0M526.1 170.2h0M532.7 127.8h0M485.7 204.2h0M477.5 161.8h0M530.1 153.7h0M529.6 145.7h0M530.6 133.6h0M479.2 190h0M460.1 154.8h0M515.2 200.7h0M513.3 209.1h0M523.9 142.4h0M436.4 131.2h0M540 196.2h0M515.2 169.4h0M458.6 163.6h0M521.9 128.3h0M442.2 155.8h0M444.3 162.6h0M470.5 132.5h0M433.2 152.3h0M547.6 140.7h0M433.7 158.2h0M483.6 181.1h0M443.1 190.9h0M510.4 140.5h0M451.9 163h0M528.9 193.8h0M487.4 208h0M498.5 126.2h0M510.6 198.3h0M433.7 150.4h0M478.6 144.3h0M465.6 133.4h0M533.2 207.5h0M531.9 188.3h0M515.9 186.5h0M536.6 147.2h0M543.4 139.4h0M517.4 189h0M447.4 167.5h0M507.6 156.1h0M452.5 166.9h0M509.3 158.5h0M489.5 205.6h0M498.6 176.7h0M517.8 146.8h0M542.1 134.9h0M439.2 145.7h0M529.8 161.9h0M496 158.6h0M541 127.9h0M471.8 170.3h0M525 155.8h0M501.6 196.3h0M486 191.5h0M493.8 177.7h0M518.9 141.9h0M533.2 128.4h0M458.7 138.5h0M537.2 182.5h0M512.3 202h0M454 130h0M435.5 144.6h0M534.3 200.6h0M472.9 160.6h0M522.9 144.1h0M495.9 187.6h0M511.3 213.1h0M438.8 127.6h0M433.4 167.1h0M532 144.6h0M437.3 186.2h0M507.9 149.8h0M521.4 156.5h0M471.3 186.5h0M539.8 150h0M487.6 172.7h0M521.7 145h0M528.7 148.7h0M518.2 174.8h0M533.5 127.5h0M457.1 139.9h0M480.9 185.4h0M539.6 139.6h0M542.7 130.4h0M443.8 146.9h0M545.5 200.7h0M512.5 176.5h0M444.7 176.1h0M442.7 152h0M518.5 168h0M488.5 186.3h0M480.5 175.2h0M525.9 172.2h0M522.4 166.7h0M434.3 164.2h0M452 140.3h0M546.1 166.2h0M493.2 187.6h0M443.9 140h0M461.2 141.6h0M516.8 150.7h0M542.4 188.4h0M435.6 147.6h0M546.9 178.5h0M470.4 164.1h0M491.6 197.1h0M547.7 190.1h0M543.9 169.1h0M473.4 155.6h0M532.6 152.8h0M510.9 212.7h0M437.3 170.1h0M454.2 140.1h0M438.7 129.4h0M450.7 158.7h0M466.8 212.3h0M522.4 147.8h0M439.9 184.6h0M454.8 142.2h0M496.1 196.8h0M460.7 201h0M530.7 157.5h0M538 139.3h0M486.3 159.4h0M489.7 137.2h0M519.6 180.8h0M486.4 136.1h0M524.6 212.7h0M484.3 179.1h0M537.3 184.8h0M463.5 147h0M535.9 159.7h0M451.4 182.1h0M433 150.8h0M466.4 178h0M466 132.7h0M535.4 186.9h0M540.9 137.1h0M508.1 211.8h0M520.6 160.8h0M515.7 156.5h0M518.2 210.1h0M521.1 212.8h0M518.5 168h0M517.3 152.1h0M545.7 200.9h0M446.6 185.9h0M487.6 204.2h0M513.2 128.6h0M547 201.6h0M539.6 171.1h0M465.3 152.4h0M488.9 159.5h0M474.6 133.9h0M517.4 175.7h0M438.3 154h0M465.5 168.5h0M512.6 169.2h0M444.6 138.7h0M515.4 176.8h0M541.5 198.3h0M459.8 147.1h0M452.9 150.9h0M498.4 174h0M469.4 158.9h0M524 153.5h0M542 129.7h0M514.5 160.3h0M444.3 128.4h0M461.5 146.8h0M437.8 128.9h0M509.4 187.5h0M527.2 177.9h0M542.5 153.4h0M526.7 179.8h0M489.1 176.4h0M462.2 126.1h0M466.9 209.2h0M494.8 135h0M494.7 195.3h0M470.3 156.7h0M436.1 154.5h0M525.3 171.6h0M525.7 140.2h0M531.1 178.1h0M545.5 127h0M432.5 178.3h0M529.4 139.4h0M515.3 202.5h0M498 177.6h0M456.7 158.1h0M472.2 137h0M487 145.8h0M442.1 148.3h0M524.2 174.1h0M445.9 158.8h0M547.1 131.1h0M434.7 175.7h0M437.3 130.9h0M514.9 186.9h0M510.1 197.6h0M491.5 182.6h0M534.8 140.1h0M525.6 154.9h0M515.6 189.3h0M518.6 140.4h0M445.7 160.5h0M545.9 155.1h0M524.2 167.8h0M539.9 150.6h0M529.6 201.9h0M489.8 181.3h0M520.6 164.7h0M478.3 140.6h0M523.9 206.3h0M535.7 135.8h0M450.7 165.7h0M517.2 156.6h0M457.8 204.8h0M461.1 142.4h0M490.6 143.8h0M547.8 179.6h0M445.2 139.5h0M540.5 190.1h0M448.3 180.6h0M499.6 139.4h0M517.8 139.6h0M458.2 168.9h0M436.9 159.5h0M447.5 202.7h0M506.8 133.2h0M486.2 147.8h0M487.2 165h0M456.6 201h0M461.1 189.2h0M536 163.3h0M536.9 150h0M530.9 161.6h0M518.8 207.1h0M507.1 197h0M527.5 145.2h0M443.4 204.1h0M546.6 211.3h0M466.1 207.3h0M502.4 141.7h0M517.9 153.2h0M502 201.2h0M432.8 128.9h0M545.6 170.7h0M456.8 204.3h0M489.8 187.1h0M482.3 139.3h0M457 168.3h0M498.1 154h0M541.5 154.2h0M470.2 156.8h0M535.2 170.2h0M482 162.9h0M488.6 207.2h0M528.9 145.5h0M534.6 175.8h0M484.1 157.5h0M538.4 153.8h0M517.1 140.1h0M519.9 136.5h0M463 162.4h0M510.7 152h0M526.2 140.1h0M533.1 159.3h0M536.4 171.6h0M500.3 141.8h0M528.5 164.3h0M515.6 156.6h0M465 207.5h0M462 172h0M494.2 172.6h0M537.5 146.4h0M523.3 186.2h0M451.2 161.3h0M504.5 210.6h0M477.7 173.5h0M442.8 153.2h0M528.8 210.2h0M547.5 193.2h0M499.5 186.8h0M444.7 129h0M445.7 165.5h0M445.5 141.4h0M528.5 168.9h0M442.6 156.1h0M530.6 153.3h0M451 186.5h0M482.7 148.2h0M453.9 155h0M462.8 183.8h0M450.1 131.4h0M538 161.2h0M508.7 145.5h0M454.2 159h0M539.3 174.4h0M490.4 187.8h0M525.3 135.8h0M487.1 177.9h0M434.3 146.8h0M465.6 200.1h0M506.4 169h0M446.6 187h0M447.4 190.7h0M547.6 192.1h0M514.3 203.1h0M502.4 197.6h0M522.8 195.2h0M442.1 165.8h0M505.4 187h0M443.1 128.8h0M492.4 177.3h0M533.1 154.8h0M446.9 178h0M452 204.8h0M453.2 147.9h0M452.5 211.1h0M538.8 167.9h0M447 151.1h0M510.6 137h0M529.5 187.2h0M500.4 132h0M491 144.3h0M485.3 212h0M460.7 186.7h0M433.2 158.4h0M444.7 168.8h0M511 136h0M461 172.1h0M477.2 158.8h0M526.9 131.9h0M444.3 150.2h0M447 134.6h0M484.7 206.1h0M495.7 186.8h0M453.2 155.1h0M462.1 188.7h0M535.4 127.1h0M457.5 148h0M536.7 164.7h0M440.6 159.6h0M449.5 211.2h0M515.5 172.2h0M440.2 206.1h0M522 139h0M534.5 170.2h0M518.9 180.9h0M438.8 159.8h0M536.8 169.6h0M543.1 210h0M481.7 180.9h0M536.4 127.6h0M531 169.8h0M528.9 179.8h0M438.9 176.2h0M518.4 128.5h0M442.5 181.2h0M452.2 166.6h0M513.7 134.8h0M471.4 146.1h0M446 132.7h0M435.5 137.9h0M527.7 142h0M454.8 165.9h0M444.9 135.7h0M503.7 136.3h0M514.9 144.5h0M491.5 183.2h0M541 163.5h0M541.6 139.9h0M458.2 173.9h0M483.4 196.2h0M537.1 175.4h0M528.4 147.4h0M460.5 210h0M440.9 165.3h0M491.3 159h0M543.4 175.1h0M506.1 198h0M539.5 167.1h0M544.6 172.1h0M501.5 131.8h0M446.4 149h0M452.4 155.7h0M512.9 164.3h0M432.7 137.8h0M543.2 194.8h0M543.9 157.9h0M499.9 196.2h0M505.5 194.5h0M442.9 151.3h0M433.4 133.6h0M532.2 153.5h0M540.9 131.5h0M442.8 137.5h0M458.4 127.6h0M462.9 129.6h0M450.2 157h0M513.5 176.3h0M453.6 211.8h0M513.3 187.2h0M518.5 144.8h0M434.2 128.5h0M501.7 134h0M511.8 155.1h0M521.6 144.8h0M447.7 177.9h0M442.1 141.7h0M543.6 194.8h0M466.1 185.4h0M434.9 149.4h0M465 142.3h0M534.3 167.2h0M456.8 152.6h0M451.2 159.5h0M514.7 153.7h0M529.5 178.1h0M516.1 199.1h0M476.2 167.1h0M543.7 135.7h0M434.4 205.6h0M535.1 140.4h0M459.4 196.7h0M490.5 137.4h0M487 146h0M537.5 133.5h0M540 153.7h0M510.3 188.8h0M476.7 182.2h0M470.8 144.6h0M514.1 138.7h0M468.4 181.1h0M482.9 163.4h0M447.1 139.6h0M534.2 204.1h0M506.2 140.3h0M539.2 201.7h0M461.5 167.7h0M545.5 168.1h0M471.5 182.2h0M536.7 181h0M525.7 143h0M492.2 133.1h0M537.3 197.9h0M530.3 210.9h0M460.1 155.8h0M540.5 150.1h0M446.6 147.7h0M524.4 158.5h0M486 169.5h0M448.4 148.2h0M441.8 156.5h0M437.6 129.8h0M434.4 142.3h0M535.2 131.7h0M540.3 179.6h0M475.5 163.4h0M475.5 167.7h0M495.3 209.4h0M525.8 159.6h0M544.5 166.6h0M433.7 141.4h0M525.3 167.5h0M541 195.8h0M518.1 185.1h0M443.4 149.4h0M522.9 160.3h0M544.5 163.8h0M532.7 146.2h0M449.8 138.4h0M450.7 158h0M487.1 158h0M438.8 142.1h0M507.4 178.8h0M464.8 179.5h0M449.7 151h0M537.5 165.9h0M494.2 197.8h0M446.6 193.8h0M483.3 172.7h0M489.6 160.6h0M534.6 138.4h0M514.1 160.9h0M534.7 158.8h0M489.5 177.6h0M454.7 156.2h0M512.6 171.8h0M493.6 185.3h0M492.8 188.2h0M484 199.9h0M519.2 155.1h0M492.6 182.3h0M436.7 168.9h0M524.8 196.6h0M461 152.4h0M487.9 139.9h0M543.9 157.2h0M442.4 135.1h0M514.3 188h0M441.7 175.1h0M446.9 145.4h0M467.6 171.8h0M465.7 132.5h0M515.3 157.9h0M475.4 153.4h0M520.6 176.6h0M461.3 164.5h0M492.3 209.3h0M487.1 147.4h0M464.3 135.7h0M524.2 152.3h0M531.9 186h0M530.6 134.6h0M457 161.7h0M531.5 143.5h0M490.8 193.1h0M511.3 126.4h0M457.4 145.8h0M531.1 172.3h0M540.1 129.7h0M518.2 132.7h0M547.8 130.6h0M433 136.4h0M516.4 149.3h0M526.6 162.9h0M491.4 208.9h0M464 174.3h0M443.4 132.2h0M530.4 149.2h0M433.2 210.8h0M547.4 196.6h0M547.7 177.6h0M452 148.9h0M460.6 149.7h0M531 148.5h0M540.2 160.1h0M440.6 166.3h0M516.5 196.3h0M497.7 133.5h0M458.4 157.9h0M491.9 211.4h0M445 156.1h0M520.7 180.2h0M505.1 197h0M527.7 171.6h0M463.8 145.3h0M468 188.7h0M506.7 127.6h0M462.3 132.9h0M545.3 145.7h0M463.2 141h0M499.7 151.6h0M436.4 161.4h0M500.1 143.3h0M520.1 166.9h0M437.6 187.2h0M505.3 138.7h0M471.4 138.6h0M432.7 152.4h0M477.1 145h0M528.5 199.4h0M437.6 130.6h0M508.2 129.8h0M488.3 172.5h0M536.9 188h0M439.3 147.1h0" stroke="#4c44a4" stroke-width="1" stroke-linecap="round" fill="none"/>

<path d="M536 145h0M547.9 131.6h0M536.1 187.1h0M466.8 126.4h0M450.5 139.2h0M441.2 171.2h0M445.6 177.1h0M457.8 151h0M498.7 166.9h0M547.2 155.7h0M453.3 136.5h0M522.5 207h0M447.4 148.9h0M461.7 151.6h0M475.8 184.8h0M481.8 143.5h0M435.4 172.9h0M432.6 147.4h0M536.4 126.9h0M534.3 137h0M433.8 192.7h0M438.9 178.4h0M442.9 133.5h0M526.1 168.8h0M500.4 132.5h0M526.6 148.8h0M440 145.1h0M532.5 166.2h0M453 139.6h0M491.5 180.3h0M543 165.1h0M500.1 212.4h0M451.9 195.7h0M545.5 145.1h0M540.2 163.5h0M532.4 158.4h0M545.6 142.2h0M451.8 179.9h0M499.2 188.3h0M512.2 210.9h0M527.2 172.4h0M464.8 137.6h0M461.6 150.9h0M522.5 206.4h0M477.6 156h0M527.8 157.2h0M546.4 155.8h0M448.1 165.2h0M493.1 147.1h0M496.6 210.6h0M465.5 172.9h0M505.3 132.6h0M481.2 126.9h0M469.6 172.8h0M466.5 211.8h0M540.7 169.7h0M442.7 146.9h0M539 194.5h0M466.1 205.3h0M514.4 198.7h0M545.1 130.1h0M507.4 166.9h0M498.6 179.3h0M453.9 158.7h0M448.5 154.8h0M439.5 127.5h0M531.4 134.1h0M454.8 185.1h0M448 126.1h0M475.5 153.7h0M499.2 206.7h0M442.8 140.1h0M439.2 130.3h0M533.6 152.9h0M530 165.6h0M510.5 176.4h0M433.2 210h0M526.7 143h0M478.4 127.6h0M540.5 186.4h0M515.2 196.1h0M459.3 172.9h0M529.7 143.7h0M526.7 188.7h0M536.2 162.1h0M487.9 152.9h0M490.5 204.4h0M433.1 143.6h0M479.7 172.1h0M463 167.8h0M542.8 157.7h0M486.9 173.4h0M545.3 154.4h0M489.8 162.9h0M544.4 168.1h0M453.3 158.6h0M506.3 168.4h0M508.3 204.4h0M489.9 186.9h0M515.7 135.7h0M520.2 161.4h0M483.9 192.3h0M474.1 129h0M442 127h0M433.1 209.2h0M522 181h0M537 202.7h0M524.6 154.9h0M432.3 188.3h0M546 160.6h0M488.4 178h0M491 146.3h0M504.5 145.2h0M525.9 185h0M449.9 187.2h0M544 211.6h0M503.3 183.7h0M459.5 142.1h0M541.6 132.4h0M538.8 165.3h0M535.7 161.9h0M486 142.7h0M506.5 146.6h0M461.9 190.9h0M539 176.3h0M460.3 129.1h0M514.5 155.9h0M449.2 152.8h0M438.8 199.4h0M542.5 170.8h0M449.9 149.4h0M460.2 182.5h0M468.6 159.2h0M458.1 204.5h0M537.8 178.5h0M498.8 199.6h0M463.3 196.6h0M520.2 198.1h0M519.5 184.8h0M456.7 144.4h0M509.7 184.8h0M465.8 181.9h0M484.4 156.4h0M506.2 170.6h0M502.9 185.5h0M453.1 198.7h0M543 163.7h0M489.8 151.5h0M490.3 208.5h0M436.2 193.6h0M450.4 139.6h0M511.1 180.3h0M466.2 173.5h0M436.5 130.6h0M497.9 162h0M522.6 147.4h0M473 165.5h0M498.9 176.8h0M533.6 163.3h0M450.5 148.8h0M528.4 199.7h0M527.4 203h0M495.8 139.3h0M463.6 172.5h0M531.6 199.3h0M522 132.2h0M521.7 141.3h0M453.1 130.8h0M493.6 142.6h0M483.7 138.4h0M494.5 180.2h0M497.1 136.8h0M524 175.4h0M492.9 188.1h0M515.8 139.6h0M463.8 140.4h0M529.4 197h0M473.1 177h0M497.9 134.6h0M443.5 157h0M519.6 184h0M518.6 139.3h0M473.5 177.3h0M444 130.1h0M437.6 150.7h0M532.6 178.1h0M534 211.9h0M547.4 156.5h0M526.7 169.3h0M495.7 146.6h0M530.8 144.7h0M484.2 171h0M439.9 140.3h0M539 206.8h0M489 173.4h0M433.6 154.3h0M462.2 170.7h0M488 192.1h0M539.7 158.8h0M505.4 126.1h0M448.2 154.3h0M485.1 166.5h0M539.1 155.6h0M516.6 204.4h0M440.1 149.3h0M507.3 178.9h0M483.3 132.1h0M457.4 143.4h0M446.8 154.4h0M454.4 135.1h0M521.6 186.4h0M545.1 208h0M478.4 126.1h0M510.1 165h0M521.4 170.3h0M444.5 143.7h0M449.9 150.8h0M433.8 199.2h0M485 204.5h0M539.9 151.8h0M488.9 142.4h0M538 139.4h0M437 167.9h0M491.2 170.2h0M518.5 131.8h0M435.4 131.1h0M487 137.8h0M443.6 183.6h0M540.4 172.8h0M516.8 150.2h0M526.4 177.4h0M445.4 162.1h0M497.9 191.2h0M530.9 170.6h0M474 148.9h0M475.7 155.8h0M482.1 135.3h0M541 131.3h0M519.8 149.6h0M534.5 200.7h0M538.2 162.3h0M470 180.7h0M541.7 189.9h0M540.7 139.2h0M483.4 184.2h0M539.1 131h0M465.1 150h0M485.2 172.2h0M523.3 196.4h0M513.3 163.1h0M450.7 150.7h0M456.4 196.7h0M466.6 171h0M506 184.4h0M541 135h0M539.4 138.3h0M530 156.7h0M535.2 206.4h0M442.2 182.4h0M536.9 130.1h0M533.6 169.3h0M445.6 145.7h0M529.9 175.4h0M523.7 170.5h0M497.2 209h0M439 171.7h0M474.9 147.1h0M541 196.2h0M516.7 166.8h0M462.3 189.7h0M432.9 133.8h0M498.1 199.4h0M514.2 142.2h0M462.3 170.4h0M531.8 198.9h0M513.8 208.2h0M463.4 144.2h0M543.7 163.3h0M522.3 141h0M519.1 163.5h0M492.5 147.8h0M459.2 160h0M513.6 185.1h0M519 179.5h0M493.5 187.9h0M523.4 190.7h0M472.6 134.3h0M546.2 212.3h0M545.4 179.7h0M454.4 212.8h0M437.7 135.9h0M454.7 178.7h0M528.3 143.7h0M450.2 133.8h0M467.4 146.9h0M485.7 151.7h0M434.5 127.3h0M446.8 202.9h0M517.1 146.7h0M529.4 137.6h0M538.8 187.7h0M439.2 172.4h0M488.6 137.4h0M469.1 170.1h0M489.7 157.7h0M447.7 128.9h0M524.5 210.5h0M449.8 144.4h0M537.6 153.3h0M475.8 163h0M440.1 145.6h0M545.1 185.8h0M434.6 177.2h0M468.3 160h0M462.1 141.3h0M524.7 184.2h0M438.8 176.1h0M479.2 126.6h0M546.6 205.4h0M450.5 140.2h0M451.3 135.7h0M494.8 171.4h0M492.3 168.8h0M528.6 135.3h0M508.5 204.2h0M544.2 151.2h0M488 137.9h0M460.5 170.6h0M456.5 182.3h0M467.5 135.4h0M524.5 187.7h0M450.5 144.9h0M451.4 185.3h0M456.9 145.7h0M446.3 157.7h0M522.5 212.3h0M485.4 146.5h0M482.7 146.3h0M544 126.9h0M461.9 135.3h0M517.2 130.5h0M523.3 149.7h0M448.1 140.8h0M450.8 152.4h0M524.6 161.2h0M453.4 155.9h0M433.9 135.2h0M527.3 184.4h0M498.5 208.5h0M516.5 180h0M477.7 185.6h0M521 153.6h0M446.7 201.3h0M537.9 164.7h0M460 134.9h0M518.3 184.2h0M531.2 140.9h0M514.3 161.5h0M526.4 144.5h0M513.5 153.1h0M499.8 138.8h0M477.9 132.8h0M495.6 165.5h0M529.5 128h0M443.9 197.1h0M461.2 188.3h0M530 138.8h0M469.8 156.4h0M445.3 176h0M533 127.6h0M495.3 184.3h0M526.7 143h0M496.7 189.3h0M536.1 152.2h0M533.6 150.3h0M488.9 192.7h0M485.4 201.3h0M513.9 176.9h0M463.1 156.4h0M504.9 155.9h0M513.6 211.3h0M515.5 185.2h0M518.4 132h0M507.2 138.6h0M544.9 136.7h0M504.9 145.4h0M455.1 203.1h0M538.3 196.8h0M531.3 150h0M514.1 143.8h0M539.5 152.4h0M508.4 210.6h0M544.2 161.2h0M464.2 210h0M446 211.7h0M435.6 143.5h0M516.4 151.8h0M434 175.7h0M487.1 167.2h0M545.9 133.4h0M435.7 127.5h0M441.6 148.2h0M439.9 144h0M479.1 191.1h0M448.1 164.3h0M532.1 193.9h0M519.3 174h0M439.4 156.7h0M510.2 175.3h0M454.5 201.7h0M529.6 146h0M512.3 137.6h0M546.9 203.3h0M507.5 185.4h0M455.5 165.9h0M521.4 176.2h0M494.3 204.5h0M524.3 171.1h0M521.7 167.9h0M476.6 163.9h0M447.3 169.6h0M509.6 190.8h0M538.8 132.6h0M503.2 207.8h0M504.1 189.2h0M437.9 135.8h0M529.3 131.7h0M515.6 188.2h0M536.1 191.5h0M546.3 176.9h0M514.5 189.9h0M544.8 190.5h0M524.8 155.4h0M439.3 130.3h0M458.5 151.3h0M544.1 179h0M498.4 126h0M437.7 162h0M435.7 143h0M457 207.3h0M459.5 212.6h0M447.5 187.3h0M534.3 202.3h0M523.5 158.4h0M529.7 187.4h0M521.2 153.3h0M501.8 183.7h0M481.1 179.8h0M495 192.1h0M485.7 147.5h0M524.4 148.1h0M515.2 198.5h0M532.8 152.4h0M534.6 139.8h0M480.9 140.7h0M537.4 138.7h0M466.5 128.9h0M510.3 197.7h0M439.3 149.9h0M530.2 178.6h0M473.3 168.2h0M542.9 175.1h0M442.6 159.2h0M487.4 185.7h0M519.7 134.6h0M450 162.2h0M511.2 200h0M507.5 206.2h0M492.7 143.3h0M501.2 189.2h0M465.4 160.5h0M544.2 187.2h0M446.2 153.6h0M511.5 161.5h0M533.7 159.7h0M466.1 143.3h0M521.9 149.4h0M484.9 134.2h0M433.5 182.1h0M518.6 160.2h0M481.4 145h0M535.3 163.3h0M543.4 194.3h0M511 159.8h0M485.9 170.4h0M521.8 129.4h0M461.1 149.8h0M450.8 159.4h0M547.8 195h0M466.3 193.3h0M536.7 131.2h0M499.7 201.3h0M437.3 127h0M532.8 171.2h0M510.8 147.5h0M514.8 200.6h0M473 190.5h0M432.2 172.9h0M539.5 139h0M488.7 143.4h0M450.2 204.1h0M467.5 187.5h0M456.8 181.6h0M531.9 141.8h0M544.9 209.7h0M539.3 169.9h0M545.4 169.2h0M544.1 157.3h0M478.8 145.2h0M474.5 139.6h0M522.6 172.1h0M441.8 157.7h0M446.4 186.7h0M517.4 132.3h0M445.2 176.6h0M529.7 135.7h0M527 141.2h0M496.2 144.2h0M512.9 171.5h0M517.2 151.8h0M547 178.9h0M461.4 173.8h0M463.5 153.9h0M448.2 145.3h0M437.2 207h0M496.9 168.1h0M444.6 171.3h0M528.6 135.7h0M438.9 179.8h0M511.4 187.7h0M519 212.5h0M492.6 175.8h0M446.1 183.9h0M461.2 205.8h0M434.6 146.3h0M527.5 164.7h0M527.4 159.7h0M456.6 139.4h0M490.3 172.3h0M515.3 178.9h0M470.4 137.5h0M524.3 148.9h0M464.7 137.9h0M506.3 141.9h0M503.4 199.6h0M440.5 163.7h0M452.6 135.1h0M483.5 166.2h0M474.7 193.3h0M540.1 128.7h0M512.5 206.8h0M546.4 192.3h0M495.5 206.3h0M489 194.1h0M457.1 173.2h0M545.8 169.3h0M447.6 136.6h0M481.5 126.2h0M498.7 148.5h0M547.9 183.9h0M546.7 147.2h0M432.7 161.4h0M454.3 147.3h0M438.8 144.7h0M545.5 163.2h0M458.5 140h0M520.1 140.8h0M476.4 170.6h0M496.2 169.1h0M455.2 179.9h0M528.5 176.4h0M516.4 147.7h0M526.5 164.3h0M446.7 178.1h0M467.4 152h0M472.1 148.2h0M538.6 203.7h0M495.4 172.3h0M544.2 135.4h0M437.8 188.2h0M448 144.8h0M523.1 128.3h0M534.3 177.9h0M477.1 165.8h0M513.5 166h0M498 189.5h0M462.4 185.5h0M521.8 204.9h0M477.9 127.3h0M465.5 161.4h0M538.3 135.8h0M501.1 199.2h0M528.2 181.8h0M440.2 134h0M504.8 190.2h0M533.1 155.3h0M448.9 167.6h0M532.1 138h0M518 173.4h0M445.2 160h0M444.4 128.3h0M524.8 137.9h0M508.4 197h0M547.4 155.4h0M443 184.6h0M522.8 155.3h0M530.6 180.6h0M521.3 178.4h0M459.6 179.5h0M439.9 187.8h0M506.3 178.3h0M532 146.6h0M527.3 195.8h0M504.5 140.5h0M494.9 136.1h0M476.2 170h0M436.5 147.6h0M518.5 148.8h0M437.3 172.6h0M490.8 192.3h0M524.6 197.7h0M536.7 190.7h0M524.1 156.9h0M548 133.1h0M485.8 194.3h0M494.3 204.5h0M456.9 195.5h0M529.2 130.9h0M445.2 147.7h0M445.1 156h0M452.2 139.4h0M521.9 148.5h0M531.6 133.6h0M508.6 154.3h0M538.2 146.6h0M547.1 140.9h0M511.9 201.8h0M545.4 141.2h0M439.3 157.2h0M532.3 174.5h0M480.4 142h0M432.9 150.4h0M438.8 191.7h0M525.2 181.9h0M460.7 163.9h0M508.4 178.8h0M517.5 201.6h0M446.1 143.5h0M512.5 139h0M458.7 190.6h0M462.4 195.8h0M527.8 206.3h0M487.5 211.9h0M515.2 136.9h0M536.5 135.4h0M536.6 153h0M477.8 160.1h0M484.6 138.1h0M439.9 179.8h0M495.1 181h0M513.6 146h0M523.4 163.4h0M509.2 159h0M452.1 160.7h0M526.3 135.2h0M533 146.6h0M484.1 171.4h0M546 179.9h0M475.7 155.5h0M519.6 165.3h0M534 128.1h0M526.4 175.5h0M536.1 161.3h0M461 148h0M445.6 158.6h0M535.2 209.7h0M521.2 157.6h0M455.8 150.2h0M447.5 150.3h0M541.2 175.6h0M521.9 187.9h0M448.6 176.1h0M474.6 183.8h0M533.9 155.7h0M505.5 187.8h0M433.7 152.2h0M433.4 147h0M502 131.6h0M502.2 188.8h0M446.1 176.3h0M458.7 153.8h0M437.6 181.3h0M528.9 208.9h0M518.8 166.3h0M533.6 165.4h0M518.6 157.1h0M543.9 158.9h0M543.4 206.4h0M459.8 160.3h0M438.9 180.5h0M454.1 163h0M541.9 167.4h0M535.4 150h0M463.1 152.4h0M543.3 173.2h0M455.9 200.1h0M445 154.1h0M484.1 166.7h0M458 142.5h0M516 175.7h0M519 207.4h0M439.9 145.6h0M546 140.1h0M516.6 163.7h0M518.9 166.1h0" stroke="#3a3288" stroke-width="0.9" stroke-linecap="round" fill="none"/>

<path d="M478.6 153.6h0M444.4 167.7h0M502.6 177.1h0M455.8 174.9h0M447 159.8h0M544.2 189.8h0M533.1 209.5h0M503.9 188.2h0M512.1 154.6h0M516.6 132.7h0M516.7 153.1h0M479.8 180.6h0M504.6 136h0M526.4 184.6h0M454.6 185.1h0M502.2 136.2h0M501.4 179.5h0M537.8 177.1h0M453.4 147.3h0M506.7 151.6h0M544.3 197.4h0M441.9 170.4h0M544.4 149.9h0M448.2 162.6h0M508.5 209.8h0M538.1 207.4h0M441.8 135h0M482.7 181.4h0M544.6 138.5h0M518.1 141.1h0M475.3 141.8h0M494.5 186.9h0M461 146.3h0M527.7 143.3h0M439.8 175.2h0M471.7 138.5h0M459.8 191.1h0M523.2 152.7h0M439.9 155h0M518.3 143.4h0M524.5 146.8h0M457 186.7h0M532.3 146.6h0M432.1 196.6h0M494.8 166.1h0M438 177.5h0M533.5 133.7h0M511.2 173.2h0M547.4 152.8h0M445.4 128.5h0M514 178.8h0M481.8 185.7h0M443.4 156.5h0M540 157.7h0M443.6 147.7h0M524.2 144.6h0M534 151.7h0M522.1 156.2h0M460.7 177.7h0M536.8 131.6h0M459.3 159.7h0M510.5 203.5h0M445.4 141.7h0M496.6 188.4h0M525 171.2h0M458.9 131.8h0M434.7 160.3h0M485.3 163.3h0M485.5 151.1h0M436.4 161.9h0M531.2 166.1h0M494.7 144.6h0M544.5 146.6h0M541.4 193.4h0M525.5 206.8h0M528.6 126.3h0M540.2 188.1h0M541.4 154.5h0M437.7 199.8h0M481.9 193.9h0M522.7 161.4h0M462 157.3h0M507.7 157h0M532.2 138.8h0M447.6 181.1h0M473.1 126.6h0M435.3 152.7h0M493.9 141.9h0M533.2 176.1h0M447.9 194.5h0M480.3 165.2h0M437.8 164h0M461.9 148.3h0M526.7 146h0M543.1 188.7h0M493.2 190.9h0M529.1 142.8h0M454.8 156h0M514.2 158.4h0M433 139.2h0M521.4 160.9h0M517.4 206.7h0M437.3 202.3h0M476.7 157.7h0M543.2 134.8h0M514.4 211.4h0M516.5 170h0M521.6 157h0M535.1 129.4h0M528 199.1h0M453.3 189.2h0M516.5 188.7h0M475.2 138.1h0M516.6 199.9h0M482.9 181.5h0M459.6 126.5h0M451.4 163.2h0M491 212.4h0M444.5 170.1h0M543.6 143.9h0M454.2 140.3h0M447 162.1h0M546.5 209.7h0M479.5 159.4h0M517 173.6h0M440.5 201.3h0M500.9 211h0M501.9 199.2h0M510.9 198h0M517.9 168.4h0M496.4 137.5h0M469.1 156.3h0M512 149.9h0M482.6 144.2h0M527 144.2h0M498.4 181.3h0M445.1 177.8h0M536.6 195h0M471.6 180.3h0M518.6 151.4h0M455 165.5h0M443.8 156.8h0M448.2 132.5h0M524.3 126.5h0M438.8 130.9h0M466.5 147.3h0M542.3 137.5h0M465.2 147.1h0M498.4 203.2h0M533.7 162.3h0M522.2 181.2h0M465 157h0M524.5 186.9h0M523.1 168.1h0M524.7 212.7h0M454.9 209.7h0M432.5 171.5h0M488.3 168.5h0M433.9 158.9h0M446.5 137.1h0M525.5 128.9h0M458.9 133.2h0M463 188.3h0M481.9 212.9h0M530.7 154.7h0M510.8 212.2h0M432.6 166.4h0M521.8 208.5h0M535.6 192.7h0M498.7 190.9h0M532.2 135.4h0M435.7 173.8h0M495.7 207.3h0M456 185h0M540.8 175.8h0M479.8 178.8h0M434.1 191.6h0M440.8 174.9h0M545.6 138.2h0M446.1 137.8h0M490.4 166.6h0M491.3 165.3h0M487.4 126h0M462.1 126.7h0M533 133.9h0M517.4 192.5h0M528 126.2h0M530.1 186.8h0M445.4 139h0M508.5 151.9h0M434.7 172.2h0M518.4 183.1h0M534.5 137.6h0M476.4 182.6h0M500.1 190.7h0M484.6 143.3h0M531.5 181.8h0M480.8 140.3h0M539 183.1h0M533.5 152.8h0M529.4 127.7h0M478.2 143.9h0M436.2 189.3h0M528 204.7h0M544.7 177.1h0M486.3 193h0M490.3 169.4h0M511.5 135.4h0M477.4 143.4h0M534.3 151.3h0M547.5 185h0M457.4 162.2h0M536.9 146.4h0M496.4 156.3h0M506.2 142.7h0M522.8 164.4h0M484.8 171.3h0M466.6 140.5h0M541.1 156h0M455 179h0M464.3 176.5h0M464.8 164.1h0M433.3 144.7h0M483.2 195.2h0M531.6 140h0M539.5 171.3h0M446.3 175.5h0M452.4 147.9h0M445.2 139.5h0M529.2 130.3h0M438.5 159.1h0M535.4 169.5h0M474.5 145.7h0M448.2 183.5h0M454.5 130.2h0M519.2 161.3h0M534.7 198.5h0M439.2 205.1h0M540 144.4h0M451.1 145h0M517.4 149h0M520.7 170.7h0M519.5 190.9h0M527.1 156.2h0M463.7 166.4h0M466.1 156h0M528.6 144.1h0M536 148.6h0M439.4 170.2h0M437.3 165.7h0M523.4 130.3h0M439.9 158.3h0M472.4 159.3h0M533.8 189h0M522 135.4h0M515.6 184h0M516.1 199.8h0M449.9 152.2h0M476.6 185.2h0M546 162.7h0M514.7 208.9h0M516.8 179.9h0M468.2 140.3h0M509 189.3h0M540.8 191.8h0M524.5 176.6h0M503.1 141.9h0M536.2 170.6h0M454.2 197.9h0M483 209.9h0M533.1 182.5h0M545.7 199.5h0M527.4 199.8h0M523.9 207.4h0M510.5 208.2h0M546.4 143.1h0M515.9 161.2h0M452.1 153.9h0M536.8 126.7h0M538.8 180.1h0M521.3 134.8h0M471.3 138.9h0M455.1 147.2h0M460.6 143h0M530 159.7h0M517 136.8h0M434.6 183.4h0M436.7 202h0M444.5 162.6h0M444.3 194.6h0M449.2 205h0M448 163.7h0M444.6 141.5h0M466.5 150.1h0M443.2 151.2h0M454.6 174.2h0M444.6 144.8h0M522.3 158.5h0M514.4 195.2h0M515.8 155.4h0M466.2 207.8h0M508.8 207.1h0M531.2 161h0M447.2 197.4h0M532 161.7h0M490.2 158.4h0M536.1 202.8h0M520.2 131.2h0M464.6 160.3h0M440.3 171.6h0M446.4 177.6h0M440 168.2h0M529.6 138h0M534.9 150.3h0M523.1 137.4h0M532.6 128.6h0M539.9 142h0M491.9 205.9h0M542.3 131.8h0M537.5 170h0M483.5 183.6h0M520.7 205.3h0M448.8 157.1h0M499.5 179.9h0M481.1 169.7h0M543.6 187.9h0M450.8 168.7h0M530.3 182.1h0M529.1 147.2h0M539.6 146.9h0M527.8 157.4h0M522.4 206.5h0M440.9 149.3h0M433.9 135h0M535.1 177.4h0M528.3 205.6h0M531.3 156.3h0M521.9 190.4h0M527.4 204.1h0M470.7 162.2h0M441.1 202.3h0M501.4 200.3h0M457.2 155.9h0M444.4 174h0M517.9 156.5h0M532.9 138h0M464.8 170.5h0M496.7 188.8h0M514 209.7h0M525.7 174.2h0M542.7 172.2h0M510.3 131.4h0M547 160.8h0M525.4 130.8h0M440 140.8h0M458.4 178.7h0M514 166h0M452.6 157.6h0M527.4 142.1h0M448.9 153.8h0M544.1 129.1h0M512.5 202.7h0M546.9 208.2h0M446.7 172.8h0M510.9 182.8h0M442.5 161.4h0M462.9 162.4h0M511.6 135.3h0M493 186.8h0M493.1 195.5h0M435.4 127.9h0M525.5 153.8h0M486.8 177.5h0M457.2 131.4h0M544.9 167.1h0M525.1 165.3h0M531.7 163.8h0M467.4 176.1h0M543 161.7h0M524.9 162.2h0M522.8 208.6h0M432.2 209.7h0M449 126.5h0M437.4 152.6h0M486.2 186.7h0M465.5 165.8h0M467.9 142.6h0M545.1 159.1h0M472.8 141.8h0M442.9 186.2h0M474.9 175.2h0M447 155h0M450 211h0M517.7 203.3h0M475.4 149.6h0M495 159.8h0M476 161.4h0M491.1 133.3h0M516.2 183.3h0M438 195h0M538.2 183.8h0M533.5 144.2h0M491.2 209.4h0M481.9 187.6h0M519.9 145.8h0M471.7 150.7h0M528.4 161.5h0M515.4 158.7h0M528 158h0M434.9 146.6h0M497.4 145.4h0M503.5 199.6h0M472.7 143.5h0M508.5 198.6h0M453.5 202.9h0M436.8 148.4h0M519.9 176h0M535.8 191.3h0M443.4 149.8h0M536.2 202.9h0M513.9 148.3h0M518 170.4h0M444 126.1h0M505.8 143.1h0M535.7 197h0M537.1 163.6h0M455.2 147h0M532.9 136.5h0M459.3 189.5h0M525 139.2h0M442.4 135.8h0M453.2 143.5h0M440.6 130h0M463.8 145.6h0M476.3 191.4h0M487.2 190.6h0M445.1 143.8h0M523.4 188.8h0M474.9 183.7h0M472.6 140.3h0M518.8 136.4h0M472.6 159.6h0M540.8 148h0M498.4 133.9h0M506.5 135.8h0M523.3 130.7h0M507.7 166h0M485.7 137.5h0M536.9 202.2h0M493.8 172.7h0M512.8 164.5h0M450.4 180.4h0M488 195h0M446.7 192.5h0M441.1 160.8h0M436.2 145h0M468.9 169.5h0M497.2 155.5h0M449.6 156.2h0M543.7 140.9h0M450.1 155.4h0M536.8 192.9h0M527.8 127.2h0M472.7 162.5h0M506.4 208.9h0M482.4 151.9h0M448.5 175.2h0M528.3 192.2h0M532.3 169.4h0M485.6 139.6h0M530.3 151h0M531.8 142.9h0M525.9 206.8h0M439.7 158.4h0M518.8 201.9h0M484.3 163.7h0M491.1 171.7h0M493 203.3h0M528.9 161.2h0M536.9 183.8h0M547.3 133.5h0M464.9 171.9h0M497.4 183.3h0M527.6 142h0M535 137.5h0M433.8 135.9h0M520.7 149.4h0M435 171.3h0M520.1 158.2h0M536.8 150h0M532.3 132.3h0M479.7 185.3h0M512.4 196.2h0M444.2 143.3h0M448.3 137h0M521.2 188.9h0M450.8 153.4h0M541.8 192.4h0M439.6 149.5h0M506.9 194.8h0M520.5 165.6h0M537.8 177.3h0M451.1 151.2h0M539.7 169.5h0M533.7 189.6h0M544.8 141.4h0M494.7 148.1h0M458.6 201.8h0M547.3 129.9h0M513.2 154.1h0M464.1 196.8h0M534.5 187.8h0M444.7 139.3h0M524 204.8h0M491.3 198.2h0M472.5 146.7h0M455.4 206.5h0M523.3 146.2h0M531.3 129.1h0M442.9 142.6h0M495.7 203.1h0M455.6 179.3h0M540.9 207.6h0M451.3 132.9h0M442.3 143.2h0M450.8 163h0M501.2 190.3h0M499.1 193.3h0M438.1 151.8h0M546.1 203.7h0M445.7 159.9h0M451.5 172h0M456.8 197.2h0M538.3 127.2h0M452.6 178.7h0M514.8 167.9h0M535.3 133.4h0M464 163.4h0M443.4 170.8h0M439.9 206.2h0M434.7 130.1h0M469.5 155.1h0M529.3 178.2h0M436 183.4h0M463.4 150.9h0M513.2 161.1h0M481.6 147.6h0M493.7 187.5h0M438.8 174h0M485.1 195h0M468 138.4h0M483.8 155.7h0M516.8 161.5h0M514.9 208.3h0M436.9 183.4h0M461.5 140.4h0M463.9 138.9h0M496.5 190.8h0M452.2 158.4h0M543.1 191.3h0M538.2 158.8h0M461.8 151h0M516.6 164.3h0M544.8 136.5h0M507.3 210h0M522.2 198.5h0M524.5 146.3h0M511.6 126.1h0M457.1 144.6h0M455.5 201.7h0M437 143.3h0M479.1 133.6h0M492.9 206.9h0M547.6 200.9h0M446.1 151.9h0M517.4 164.8h0M443.2 138.4h0M495.8 155.2h0M538.5 212.5h0M515.5 169.5h0M454.1 201.8h0M483.8 177.3h0M533.2 181.1h0M459.1 141h0M528.4 152.2h0M529.1 201.2h0M434.6 163.1h0M466.3 164.8h0M440.2 145.9h0M511.6 141.6h0M535.2 138.1h0M522.4 211.9h0M446.5 137.6h0M483.6 163.8h0M460.9 199.3h0M503.4 126.1h0M516 134.6h0M530.8 182.2h0M459.2 140.3h0M435 194.3h0M527.2 151.6h0M531.5 141.4h0M528 197.5h0M436 161.9h0M486.4 184h0M517 150.6h0M504.3 178.9h0M516.5 178.9h0M441.3 130.4h0M520.8 139h0M517 187.5h0M444.5 164.7h0M442.8 184.7h0M518.4 207.4h0M432.6 152.5h0M440.8 144.7h0M495.2 200.8h0M451.5 179.5h0M543.1 128.9h0M526.7 176.3h0M484.8 134h0M524.4 136.8h0M516.9 177.8h0M467.7 163.9h0M547.7 176.4h0M473.2 159h0M511.2 142.1h0M531.7 156.8h0M515.5 144.2h0M547.7 165.1h0M474.4 175.5h0M445.6 157.3h0M441.1 184.1h0M516.5 148.3h0M524.6 151h0M482.9 173.6h0M432.4 156.5h0M447.4 128.4h0M454 167.3h0M513.8 137.8h0M435.5 170.7h0M502.8 199.7h0M489.2 164.3h0M475.8 170.9h0M522.7 130.2h0M497.7 204.5h0M538.2 146.9h0M543.3 156.4h0M532.4 161.3h0M480.6 151.5h0M525.4 177.3h0M463 183.8h0M439.7 146.1h0M456 180.7h0M525.2 156.6h0M488.7 133.4h0M523.1 144h0M513.3 148.2h0M511.1 200.4h0M432.4 172.6h0M542.1 177.6h0M467.6 127.8h0M475 131.3h0M538.2 179h0M511.4 210.4h0M449.9 160.7h0M539.8 159.6h0M441.6 142.2h0M524.6 128.4h0M529.4 141.8h0M456.4 209.8h0M433.7 185.5h0M453.3 158.5h0M485.9 136.2h0M490.9 185h0M529.4 167.9h0M441.9 183.6h0M475.2 145h0M501 205.2h0M504.5 140.1h0" stroke="#8a84c8" stroke-width="1.4" stroke-linecap="round" stroke-opacity="0.7" fill="none"/>


</g>
<text x="543.9" y="210.8" font-size="9.8" text-anchor="end" fill="#000">200x</text>
</g><defs><filter id="fblur" x="-50%" y="-50%" width="200%" height="200%"><feGaussianBlur stdDeviation="1.1"/></filter></defs>
<clipPath id="f11"><rect x="443.1" y="301.8" width="64.9" height="53.1"/></clipPath>
<line x1="471.8" y1="301.3" x2="471.8" y2="355.4" stroke="#555" stroke-width="0.8"/>
<line x1="442.6" y1="330.4" x2="508.5" y2="330.4" stroke="#555" stroke-width="0.8"/>
<g clip-path="url(#f11)">
<ellipse cx="461" cy="320.5" rx="9.8" ry="4.3" transform="rotate(-3 461 320.5)" fill="#000" fill-opacity="1" filter="url(#fblur)"/>
<ellipse cx="461.8" cy="340.3" rx="10.2" ry="5" transform="rotate(-64 461.8 340.3)" fill="#000" fill-opacity="1" filter="url(#fblur)"/>
<path d="M456.6 319.7h0M477.5 318.1h0M450.2 322h0M462.3 322.6h0M458.5 325.4h0M466.1 328.5h0M465.5 321.2h0M472 322.8h0M455.5 323.5h0M456.3 324.8h0M456.9 322h0M455.3 322h0M471.9 323.8h0M456.1 316.5h0M466.4 318.1h0M455.4 323.1h0M451.9 323.7h0M469.4 320.2h0M454.2 320.2h0M472.6 320.6h0M470.7 320.2h0M462.2 321.1h0M462.2 321.5h0M467.9 324.1h0M459.9 317.5h0M455.9 317.8h0M445.7 321.4h0M455.6 326.8h0M456.7 316.2h0M464.1 320.4h0M467.8 320.7h0M475.3 317.6h0M462.9 319h0M457.2 315.4h0M465.6 315h0M464.1 321.9h0M464 315.3h0M467.2 318h0M464.1 319.2h0M475.9 317.9h0M459.6 321.6h0M450 319.6h0M459.5 321.5h0M458.8 326.5h0M476.1 323.8h0M461.1 322.7h0M477.4 325.5h0M466.3 318.6h0M470.1 322.7h0M461.9 320.1h0M450.9 316.3h0M451.7 322.1h0M462.7 318.2h0M459.6 325.2h0M452.2 319.7h0M452.4 327.4h0M458.6 325.3h0M466.9 318.2h0M466 321h0M464.9 321h0M466.1 322.2h0M455.6 323.3h0M455.1 316.7h0M458.1 317.8h0M455.9 317.3h0M467.7 323h0M456.5 325.1h0M460.3 318.2h0M453.5 322.3h0M460.4 321.4h0M483.6 322.4h0M460.3 317.1h0M457.9 318.5h0M456.1 313.1h0M462 316.9h0M477.8 318.9h0M468.3 321.3h0M455.3 321.6h0M457.8 319.5h0M460.4 314.2h0M471.7 321.8h0M460.2 325.1h0M453.2 312.7h0M462.9 317.6h0M460.4 318.7h0M459.1 317.4h0M460.6 322.9h0M464.1 325.9h0M465.6 321.6h0M462.7 322.2h0M459.5 316.3h0M452.5 315h0M459 320.9h0M464.5 323.9h0M457 313.7h0M455.6 320.6h0M446.2 317.2h0M452.7 327.4h0M469 317.7h0M457.1 320.9h0M462.7 321h0M451.8 317.7h0M471.2 319.8h0M468.6 320h0M462.8 321.2h0M459 324.4h0M467.3 319.9h0M462.4 325.5h0M453.8 323.5h0M469.8 325.2h0M471.8 317.3h0M467.1 319h0M467.3 320.7h0M467.6 318h0M462.4 322.2h0M465.3 323.2h0M474.7 316.8h0M461.3 315.1h0M466 325.4h0M462.7 324.3h0M476.5 321.1h0M468.1 323.2h0M455.2 316.9h0M457.9 317.9h0M465.3 313h0M445.2 315.3h0M462.4 319.5h0M459.4 319.3h0M457 318.1h0M462.3 319.7h0M463.1 320.1h0M461.5 320.6h0M476.8 326.3h0M469.2 313.9h0M465.7 324.8h0M464.1 315.4h0M459 329.1h0M459.2 315.8h0M459.5 323.7h0M461.2 316.6h0M444.3 321.9h0M448.1 324.2h0M469.9 321.2h0M460.7 320.1h0M458.8 318.1h0M453.5 317.7h0M473.1 325.7h0M461.3 322.2h0M458.5 321h0M471.4 323.2h0M468.8 322.4h0M467.1 317.9h0M466.3 314.7h0M462.6 321.5h0M463.9 314.1h0M467.9 316.1h0M459.9 315.1h0M463.1 319.8h0M460.2 316.3h0M466.7 320.4h0M458.9 316.8h0M455.3 319.8h0M446.8 318.6h0M470.4 319.5h0M460.6 319.2h0M467.3 323.3h0M462.7 319h0M466.5 323.2h0M459.7 322.2h0M465.4 323.1h0M462.1 318.5h0M462 319.3h0M461.2 325.3h0M467.6 320.3h0M464.2 322.2h0M464.3 319.1h0M457.6 313.8h0M461.7 326.8h0M455.7 325.8h0M454.8 319.4h0M469.6 316.8h0M457.1 324.5h0M459.4 323.1h0M479.7 316.2h0M470.4 326h0M460.7 320h0M467.3 322.3h0M472.4 315.7h0M461.1 324h0M465.5 319.3h0M467.2 322.2h0M454.3 315h0M461.8 320.1h0M462.9 321.9h0M454.6 319h0M470 318h0M452.3 317.7h0M465.8 326.8h0M469.7 315.5h0M461.8 318.5h0M467.8 321.1h0M459.9 318.5h0M470.8 315.3h0M458 317.2h0M469.2 324.8h0M465.3 323.6h0M461.3 315.9h0M462.7 327h0M457.8 323.7h0M450.3 322.9h0M471.4 321.1h0M447.6 321.6h0M454.7 323.9h0M463.5 320.1h0M463 316.9h0M459.3 323h0M464.2 326.4h0M467 328h0M454.9 320.5h0M462.8 316.3h0M464.1 319.2h0M460.3 319.8h0M464.3 323.4h0M458.8 323h0M449.6 318.9h0M453.4 322.8h0M461.9 318.2h0M462.6 320.4h0M451.6 325.3h0M461.8 323.3h0M471.1 327.6h0M463.1 319.5h0M456.8 320.3h0M466.3 320.5h0M458.1 316.9h0M458.9 324.7h0M467 321.6h0M472.6 323.3h0M452.4 324.4h0M457.2 323.6h0M455.8 319.6h0M448.6 319.5h0M465.5 321.2h0M469.6 320.5h0M468.1 322.6h0M466 323.6h0M458.8 325.8h0M468.2 312.7h0M445.8 322.8h0M465.3 318.1h0M479.7 318.5h0M468.1 324.6h0M456.8 316.6h0M459.4 318.1h0M466.8 315.8h0M469.3 327.7h0M460.7 319.4h0M465.5 320.7h0M454.5 316.5h0M475 317h0M462.5 322.4h0M467.5 321.8h0M454.6 322.3h0M465.2 316.3h0M465.6 314.2h0M461.7 316.6h0M453.3 323h0M450.3 322.2h0M467.5 316.3h0M461 324.6h0M457.3 321.1h0M467.6 322.3h0M471.8 318.1h0M476.8 322.1h0M459.2 316.3h0M467.5 320.3h0M456.9 323.9h0M468.7 323.2h0M452.7 318h0M451.4 321.1h0M471.8 323.8h0M470.6 315.4h0M461.5 318.1h0M460.4 321.5h0M464 314.2h0M470.3 318.3h0M465.1 314.4h0M463.1 321.2h0M474.9 313.8h0M458.6 316.3h0M449.4 325h0M460.5 321.6h0M461.8 319.4h0M458.5 316.1h0M467.3 322.4h0M459.4 326.3h0M462 317.6h0M465 322.7h0M451.6 322.6h0M467.2 319.3h0M467.5 323.8h0M450.1 323.4h0M455.9 317.3h0M462.9 318.5h0M461.9 318.5h0M451.6 321.5h0M457.5 320.3h0M455.2 321.5h0M459.9 323.9h0M456.7 321.9h0M453.8 314.1h0M465.4 319.6h0M462 323.7h0M451.3 318.2h0M453.5 318.9h0M480.1 319.4h0M462.8 318.1h0M461.2 319.6h0M471.9 318.3h0M467.9 318.6h0M459.5 318.2h0M465.1 319.4h0M467.1 320.3h0M456.1 317.3h0M464.8 315.8h0M464 312.8h0M464.3 320.9h0M460.1 322.2h0M449.6 319.5h0M464.8 323.7h0M461.1 321.1h0M460.6 323h0M453.1 313.1h0M469 321.6h0M450.8 322h0M472.5 326.3h0M459.7 324.7h0M453 323.2h0M468.4 317.1h0M451.3 327.7h0M469.9 327.3h0M458.3 318.5h0M475.9 319.2h0M447.4 320.9h0M466.1 321.7h0M443.2 322.5h0M445.5 328.6h0M450.4 318.6h0M461.7 318.8h0M469.7 317.9h0M464.2 321.6h0M463.7 316.4h0M474.2 317h0M453.5 319.9h0M462.1 311.6h0M458 324.3h0M462.7 321.1h0M467.8 321.3h0M449.7 316.8h0M460.6 312.3h0M460.9 326.8h0M458 323.5h0M458.5 320.9h0M454.7 323.9h0M459.1 318.9h0M460.1 322.4h0M453.5 320.6h0M457.4 324.2h0M461 316.1h0M460.1 317.3h0M464.3 319.6h0M464.1 321h0M454.4 321.2h0M461.3 320.9h0M461.5 319.4h0M447.5 315.1h0M461.1 324.8h0M466.9 317.9h0M462.7 320h0M449.2 318.7h0M446.9 321.5h0M475.2 319h0M449.7 321.8h0M468.1 316.9h0M465.9 320.9h0M458.1 319.6h0M472.2 327.1h0M467.6 315.4h0M456.3 321.9h0M465.9 321.2h0M450.7 321.1h0M466 323.1h0M450.8 325.9h0M457 326.5h0M449.9 315.2h0M460 323.1h0M455.2 321h0M445.9 316.6h0M456.2 320.3h0M471.1 321.4h0M460 320.7h0M452.2 325.2h0M456.2 318.7h0M481.4 317.2h0M466.3 320.6h0M455.6 318.9h0M464.5 325.9h0M468 318h0M470.5 319.1h0M454.7 318h0M465.2 313.7h0M452.5 320.9h0M464.6 314.4h0M458.5 319h0M466 322.4h0M467.8 321h0M458.6 321.9h0M467.8 323.7h0M465 318.9h0M459.5 317.3h0M478.4 320.1h0M467.7 322.5h0M467.1 320.5h0M456.7 323.2h0M454.7 318.5h0M465 317.2h0M458.3 317.3h0M460.9 319.1h0M466.6 324.6h0M460.4 317.5h0M471 321.1h0M467 322.1h0M465.5 314.9h0M462.5 319.1h0M460.8 319.7h0M473.3 319.3h0M462.8 314.1h0M466.2 315.3h0M463.5 319.9h0M471.4 322.4h0M471.2 323.9h0M450.3 323.8h0M468.6 322.6h0M458.3 315.5h0M463.5 322.5h0M468.4 315.5h0M459.5 320.5h0M458.3 315.4h0M448.6 314.2h0M451.5 316.6h0M461.2 323.1h0M488.8 317.5h0M469.3 322.9h0M456.8 316.7h0M455.8 322.7h0M464.6 319.5h0M471.7 322.8h0M468.4 320.4h0M450.4 319.3h0M460.8 325.1h0M453.1 316h0M444 322.7h0M445.2 323.5h0M451.5 324.1h0M458.5 325h0M460.9 319.4h0M461.4 319.2h0M461.9 318.7h0M461.6 323.3h0M460.4 324.9h0M453.1 325.8h0M451.7 324.8h0M457.5 324.3h0M455 319.3h0M463.1 316h0M450.5 319.5h0M462 323.2h0M469 316.6h0M471.9 318.2h0M466.5 322.4h0M453.6 323.4h0M458.7 324h0M463.7 319.3h0M469 322.1h0M468.1 320.4h0M461.4 326h0M464.9 323.9h0M468.5 316.6h0M457.3 322h0M473 318h0M458.7 318.3h0M462.3 326.9h0M467.6 314.9h0M457.3 325.5h0M467 313.9h0M469.7 319.7h0M475 320.2h0M470 316.6h0M476.5 319.8h0M475.5 323.5h0M466.8 316.9h0M465.2 322.5h0M479.3 313.1h0M468.7 322.1h0M468.9 319.2h0M473 320h0M464.9 328.7h0M463.5 325.4h0M463.4 323.6h0M463.5 324.2h0M470.4 324.9h0M468.9 312.5h0M469 313.8h0M469.4 314.7h0M464.3 317.3h0M470.4 322.3h0M473.2 310.9h0M471.3 326.3h0M482.5 323.1h0M476.3 320.8h0M480.3 317.5h0M464.5 315.4h0M463.4 321.3h0M471.9 319.1h0M472 323.3h0M469.5 322.2h0M464.6 318.7h0M464.8 313.9h0M472.4 320.8h0M467.1 325.6h0M467.9 317.7h0M474.7 316.1h0M464.8 325.2h0M474.8 313.8h0M472.1 318h0M472.1 321.2h0M463 320.2h0M476.2 325.4h0M475.7 325.7h0M479.1 314.9h0M471.6 322.7h0M474.3 326.2h0M470.8 326.4h0M461 325.6h0M470.3 326.1h0M471.5 327.3h0M476.4 323.7h0M462.8 324.7h0M460 323.4h0M470.9 326.7h0M471 321.4h0M466.1 315h0M472.2 319.9h0M472.4 312.5h0M472.1 318.4h0M474.5 328.4h0M469.1 319.7h0M483.5 317.3h0M467.8 317.3h0M468.7 323h0M474.5 333.3h0M482.7 321.7h0M469.3 316.5h0M468.2 315.4h0M464.9 318.8h0M464.7 331.4h0M468.9 316.4h0M467.1 322.1h0M474.9 322.2h0M471.5 317.4h0M471.6 322.3h0M474.1 318.6h0M477.2 325.9h0M480 321.5h0M470.1 319.9h0M470 317.7h0M479.3 321.6h0M473.7 317.1h0M472.6 326.7h0M466.9 308.2h0M466.9 318.2h0M463.5 327.7h0M472.9 325.5h0M482.3 329.9h0M470 317.5h0M466.8 309.6h0M471.8 325.4h0M474.1 330.3h0M464.4 328.2h0M468 328.8h0M475 316.8h0M479.4 327h0M474.7 317.5h0M475.8 305.6h0M478.8 314h0M467.9 324.2h0M473.2 324.1h0M472.1 323.8h0M474.8 318.8h0M479.2 322.7h0M464.7 333.8h0M468 318.8h0M465.7 316.8h0M477 315.9h0M472.2 323.9h0M468.7 324.8h0M476.5 328h0M472.2 326.9h0M469.7 328h0M474.9 323.6h0M473.3 327.2h0M461.1 321.7h0M470.6 320.8h0M466.2 312.6h0M473 318h0M467.8 321h0M463.2 318.9h0M472.2 315h0M466.9 321.5h0M476.2 321.4h0M477.2 325.4h0M473.8 325h0M474.9 319.2h0M471.2 318.5h0M463.8 324.9h0M475.6 315.4h0M479.2 319.1h0M472.1 311.4h0M468.8 313.4h0M468.4 316.3h0M474.5 320.4h0M466.5 324.9h0M475 318.5h0M466 327.8h0M472.3 325.7h0M475.8 324.2h0M477.4 323.7h0M468.8 323.4h0M473.9 327h0M472.1 334.6h0M474.7 317.7h0M468.1 318.6h0M478.4 325.7h0M473.2 318h0M472.2 327.9h0M474.1 322.4h0M466.5 323.9h0M473.2 326.4h0M472.7 325.8h0M468.9 314.7h0M467.6 325.3h0M480.8 312.2h0M473.2 312.9h0M467.5 326h0M482.8 324.5h0M472.6 322.1h0M468.7 320.4h0M468.7 317.4h0M467.5 315.8h0M476.7 322.9h0M470.7 320.8h0M475.6 322.5h0M465.9 320.7h0M467.8 327.7h0M473.3 324.5h0M462.2 328.7h0M470.2 322.8h0M474.7 325.8h0M476.6 316.5h0M467.5 322.1h0M470.9 331.2h0M474.9 318.1h0M463.8 318.1h0M468.5 317.8h0M473.7 324.9h0M468.1 323.1h0M481.7 317.7h0M470.2 326.8h0M474.3 332.6h0M462.1 316.7h0M476.1 327.8h0M468.7 324h0M468.9 320.1h0M472.9 319h0M470.1 315.7h0M479 324.1h0M480.3 320.8h0M473.5 324.1h0M472.9 320.4h0M472.7 312.3h0M464.9 328.2h0M472.7 326h0M469.1 325.3h0M465.7 323.3h0M465.4 314.6h0M461.7 346.9h0M459 343.8h0M462.8 338.9h0M459.5 339.2h0M469.5 333.6h0M456.4 342.3h0M472 333.7h0M463.5 341.1h0M458.7 339.6h0M467 325.8h0M458.6 352.3h0M468.7 337.1h0M462.6 343.5h0M451.7 339.4h0M454.2 351h0M461.5 346.3h0M455 340.7h0M463.9 336h0M456 342.1h0M466.1 337.9h0M462.2 337h0M462.7 338.1h0M450.6 354.9h0M464.5 331.5h0M463.9 339.3h0M461.3 330h0M449.5 349.2h0M454.7 350.1h0M461.5 340.6h0M462.2 333.2h0M469.3 330.1h0M465.3 337.8h0M458.8 333.5h0M464.8 326.6h0M462.6 345.5h0M470.1 336.5h0M460.6 334.7h0M453.9 327.4h0M455.8 343.6h0M455.6 342.4h0M462.2 347.2h0M460.8 336.2h0M473.3 328.4h0M464.6 339.4h0M468.4 349.3h0M453.5 351.3h0M453.8 339.9h0M463.2 337.5h0M453.2 345.3h0M458.7 337.5h0M462 353.6h0M458.9 337.7h0M459.8 340.4h0M459 338.2h0M468.1 336.6h0M456.1 348.6h0M469.4 342h0M460.4 341h0M463.6 335.3h0M468.4 333.2h0M459.2 343h0M465.6 340.7h0M461 337h0M462.3 340.5h0M461.9 342.7h0M459.1 348.1h0M465.5 340.9h0M454.9 349.6h0M462 337.1h0M461.8 333.8h0M465.8 338.3h0M468.7 343.7h0M463.9 335.9h0M458.6 344.8h0M461.2 338h0M463.3 330.5h0M460.7 333.9h0M469.4 329.9h0M461.4 348.5h0M459.6 339.6h0M464.9 341.6h0M471.1 336.7h0M457.2 342.8h0M455.2 337.9h0M465 347.6h0M455 337.8h0M461 339.5h0M460.8 347.4h0M451.4 350.4h0M460.8 347.3h0M465.5 345h0M458.5 333.5h0M464.9 334.6h0M464.3 335h0M464.5 340.4h0M464.7 338.6h0M462.1 338.2h0M456.5 334h0M460.1 338.5h0M461.8 323.3h0M456.2 331.5h0M465.2 347.9h0M461.1 341.9h0M459.4 343.3h0M461.4 330.7h0M454 353.3h0M462.5 335.1h0M453.6 349.4h0M464.5 336.2h0M464 332.8h0M463.1 332.3h0M463 326h0M453.6 339.6h0M460.9 333.2h0M464.7 348h0M463.3 327.7h0M457.4 344.2h0M459.5 339.8h0M469.2 336.2h0M467.1 344.7h0M458.2 339.6h0M463.6 335.6h0M458.9 351.2h0M466.1 333.8h0M451.9 352.7h0M462.1 336.2h0M464.8 341.8h0M462.9 340.9h0M454 346.9h0M470.5 327h0M454.1 345.3h0M460.4 353.4h0M459 336.9h0M452.6 352.8h0M459.7 342h0M469.1 328.2h0M456.6 340.7h0M456.5 346.4h0M468.1 332.1h0M464.6 336.4h0M458.7 347.6h0M452.6 346.2h0M459.2 348.9h0M454.6 348.5h0M465.2 341.2h0M460.6 335.4h0M453.7 352.7h0M451.3 352h0M459.2 346.4h0M458.3 347.8h0M450.8 351.1h0M460.4 334.8h0M462.3 342.3h0M470 331h0M457.4 351h0M465.3 331.6h0M460.6 334.4h0M468.7 340.2h0M460.8 344.5h0M458.4 329.5h0M467.7 341.9h0M457.4 339.9h0M459.2 355.1h0M464.9 335.8h0M458.7 345h0M456.3 329.4h0M460.7 347.9h0M465.1 330.6h0M456.3 343.9h0M456.4 343.8h0M459.9 339.4h0M462.4 331.6h0M463.7 332.4h0M458.3 338h0M463.1 336.3h0M469.7 345.4h0M464.2 339h0M457.1 332.7h0M458.2 340.7h0M467.3 342.6h0M461.9 337h0M461.1 342.3h0M462.5 337.8h0M459.5 332.9h0M466.3 339.9h0M458.4 337.3h0M468.6 329.4h0M461.5 343.1h0M466 332.3h0M457.4 344h0M458 335h0M457.1 343.9h0M465.4 326.5h0M458.8 346h0M456.8 336.3h0M470 337.8h0M467.8 334.2h0M460.1 354h0M452.4 342.6h0M458.8 336.9h0M458.6 343.6h0M458.6 345h0M459.5 340.2h0M470.8 331.2h0M462.6 341.9h0M468.9 332h0M463.2 333.7h0M451.7 342.1h0M467.7 335.2h0M461.8 328.8h0M465.4 341.8h0M466.1 343.5h0M466.8 349.4h0M460.6 340.2h0M454.9 347.4h0M456.7 340.8h0M461 334.5h0M461.6 341.6h0M465.7 332.7h0M455.4 345.9h0M461.6 337.6h0M461.5 346.5h0M461.9 332.4h0M468.6 333.4h0M463.5 340.8h0M463.6 335.3h0M470.8 333.6h0M462.6 346.7h0M456.8 335.4h0M465.3 324.5h0M461.3 336.2h0M459.8 340.7h0M465.4 341.3h0M460.9 340.1h0M470.7 338.5h0M467.8 331.1h0M471.5 335.7h0M453.9 351h0M467.6 338.8h0M462.4 334.9h0M453.9 336.8h0M474.2 332.4h0M458.3 342.9h0M460.8 335.4h0M465 332.5h0M463.8 343.6h0M459.1 351h0M464.1 334h0M464.7 342h0M460.4 337.4h0M461 342.8h0M454.8 341.9h0M458.9 340.6h0M460.9 344.6h0M464.6 330.3h0M458.5 329.9h0M468.2 328.7h0M462.2 341.7h0M452.6 337.3h0M471.6 331.5h0M461.7 337.4h0M464.3 345.5h0M458 343h0M461.6 340.8h0M458.3 340.2h0M465.2 347.6h0M461.4 343.4h0M466.3 337.4h0M460.5 350.1h0M461.1 341.8h0M463.1 350.1h0M460.7 333.6h0M461.3 338.7h0M468 340.9h0M459.4 338h0M465.3 337.3h0M464.6 335.3h0M458.7 344.7h0M460.3 348.3h0M460.3 341.7h0M467.5 342h0M454.9 343.4h0M464.4 339.6h0M465.4 336.9h0M462.3 338.3h0M466.6 344.6h0M461.6 344.8h0M465.4 341.1h0M457.3 336.3h0M464.1 327.9h0M461.5 339.9h0M457.2 330.6h0M463.1 341.2h0M461.1 344.7h0M472.5 330h0M461.8 337.3h0M465 345h0M465 344.3h0M459.5 341.4h0M465.1 335h0M461.8 338.3h0M464.2 328.2h0M461.1 341h0M461.8 345.1h0M461.1 343.9h0M457.2 343.4h0M464.1 343.5h0M461.1 334.1h0M458.6 339.8h0M468 329.4h0M455.9 342.8h0M462.9 333.8h0M453.9 350.6h0M453.4 350.3h0M463.3 349.1h0M457.3 353.6h0M459 344.9h0M460.2 327.6h0M458.1 340.9h0M462.8 341.7h0M457.2 346.4h0M466.7 333.2h0M464.5 346h0M454.4 346.3h0M456.9 346.6h0M461.9 334.3h0M457.8 354.8h0M464.9 336.2h0M458.4 342.9h0M464.6 327.2h0M454.5 340.9h0M459.6 342.7h0M456.8 342.6h0M463.5 342.3h0M466.5 346.4h0M466.1 332.1h0M464.3 344.2h0M449.3 346.8h0M459.2 344.9h0M465.7 349.2h0M455.9 339.5h0M462.3 339.7h0M458.8 346.5h0M465.8 347.3h0M454.5 342.4h0M460.8 352.4h0M465.8 347h0M475.5 331.1h0M466 347h0M462.7 335.2h0M455.5 343.6h0M465.6 346.8h0M455.7 340.2h0M454.7 346.1h0M469.4 334.1h0M461.5 335.6h0M456.1 346.4h0M471.3 340.7h0M463.1 329.6h0M464.6 351.4h0M464.9 342.8h0M459.2 341h0M457.3 334.5h0M451.2 351.5h0M461 335.6h0M462.9 345.3h0M460.5 334.8h0M460 340.3h0M461.3 340.7h0M464.9 347.4h0M461.5 333.2h0M457.9 341.7h0M458.5 342.6h0M470.9 327.8h0M460.4 334.6h0M465.2 355.2h0M462.2 343.8h0M459.5 345.1h0M466.7 343.5h0M459.5 339.8h0M460.8 350.8h0M462.3 337.2h0M462 337h0M458.1 339.1h0M454.9 354h0M462.3 340h0M460 345.6h0M456.8 335.7h0M463.5 339.5h0M460.4 337.7h0M466.7 344.9h0M458.4 348.7h0M465 341.3h0M451.4 346.6h0M460.9 330.2h0M465.9 332.3h0M467.6 325.5h0M464.7 341.4h0M468.8 339.6h0M466.4 336.8h0M461.7 349.1h0M467.4 326.4h0M461.9 329h0M461.3 334.6h0M467.2 347.4h0M465.9 338.8h0M465.7 337.5h0M462.5 338.1h0M454.2 342.4h0M455.9 339.8h0M461.4 338.2h0M456.7 344.6h0M462.3 344.7h0M449 349.8h0M458.6 336h0M460.3 345.2h0M464.1 342.8h0M455.4 344.2h0M455.1 347h0M465.6 336h0M456.1 342.5h0M464.5 338.7h0M454.5 351.8h0M459.7 335.8h0M460.3 334.8h0M461.5 352.1h0M459.5 346.7h0M465.9 338.4h0M460.6 348h0M464.2 346.7h0M461.6 353.9h0M453.1 340.6h0M457.7 346.7h0M462.9 331.2h0M458.2 335.9h0M462.2 349.3h0M460.6 333.5h0M465.7 346h0M452.9 344.9h0M465.4 336.9h0M466.1 338.4h0M463.8 346.3h0M469.8 335.1h0M470.3 327.5h0M453.7 347.4h0M463.5 339.1h0M460.4 341.7h0M466.1 343h0M462.5 338h0M458.9 328.4h0M456.8 351.8h0M460.3 345.1h0M458.9 341.3h0M468.5 339.3h0M463.2 344.5h0M457.1 348.9h0M463.9 344.7h0M459 342.4h0M471.2 340.8h0M456.7 348.3h0M467.1 329h0M470.1 335.2h0M462 349.5h0M461 342.7h0M466.4 327.6h0M460 349.3h0M466.1 331.6h0M462.8 338h0M458.7 342.3h0M457.8 343.6h0M462.3 336.4h0M464.8 333.2h0M453.3 338.4h0M469.5 336.4h0M468.5 337.7h0M459.8 334.7h0M460.7 345.3h0M454 344.2h0M464.4 349.1h0M459.7 334.7h0M456.7 342h0M464 328.8h0M467.6 336.1h0M465.2 334.4h0M459.5 342.3h0M457.2 348.3h0M461.1 337.2h0M465.7 348.5h0M465.4 350h0M454.8 351.3h0M464.4 341.5h0M465 337.9h0M454.5 350.8h0M466.6 337h0M462.3 349.5h0M458.6 353.9h0M463.7 339h0M457.4 341.9h0M461.3 345.4h0M460.6 341.5h0M458.1 351h0M464.3 338.3h0M466.4 331.8h0M459.4 339.1h0M468.9 332.1h0M455.3 351.4h0M461.1 347h0M472.4 338.8h0M466.4 332.9h0M463.7 336.2h0M460.3 334h0M467.3 334.7h0M455.6 351.3h0M459 350h0M456.6 338.3h0M466.5 336.5h0M458.9 338.8h0M457.5 343.7h0M456.9 335.8h0M457.7 347.9h0M464.6 335.1h0M454.8 335.7h0M471.4 334.7h0M464.7 330h0M467.6 325.6h0M465.1 343.2h0M463.1 329.6h0M463.3 335.3h0M466.6 333.7h0M455 344.4h0M465 338.9h0M460.2 336.5h0M467.1 327.4h0M462.2 347.1h0M456.3 346.9h0M456.8 338.1h0M474.7 321.4h0M449.7 343.9h0M457 334.8h0M459 339.8h0M454.7 350.1h0M468.2 334.1h0M461.5 340.8h0M457.4 340h0M457.2 331.6h0M463.5 339h0M460.6 352h0M453.1 337.7h0M471.3 335.5h0M458 340h0M460.1 340.3h0M459.4 335.8h0M461.8 340h0M454.1 337.4h0M462.1 346h0M457.6 346.9h0M459.3 341.2h0M459.2 333.2h0M459.7 331.2h0M456.1 344.4h0M461.7 338.5h0M461.1 336.4h0M457.7 340h0M460.1 348.1h0M462.1 341h0M468.7 338.4h0M462.4 346.8h0M460.7 350.1h0M459.3 341.5h0M461.9 350.6h0M461.6 345.6h0M462.9 339h0M461.1 340.7h0M457.5 341.5h0M466.6 339.5h0M463.6 340.1h0M472.2 328.5h0M458.5 352.7h0M458.3 353.6h0M460.1 346.6h0M462.1 339h0M458.7 336.9h0M467.8 337.8h0M459.8 348h0M460.1 331.7h0M463.7 339.9h0M462.7 341.3h0M459 342.1h0M467.2 331h0M459.3 351.7h0M457.5 335.5h0M462.8 341.2h0M457.3 348.2h0M464.2 328.3h0M465.3 337.7h0M467 345.8h0M466.8 336.6h0M457.9 329.8h0M470 322.7h0M460.3 345.4h0M461.4 338h0M456.2 343.8h0M454.5 333.1h0M461.3 346.3h0M457.4 340.7h0M461.6 338.8h0M458.6 346.1h0M457.1 344h0M458 343.4h0M457 345.5h0M463.2 345.8h0M465.1 336.3h0M454.5 336.2h0M457.7 340.4h0M462.8 333.5h0M463.4 334.2h0M448.9 340.8h0M460.4 336h0M465.5 341.2h0M465.5 337.9h0M467.1 344.1h0M462 337.8h0M454.5 341.3h0M461.5 352.9h0M462.1 351.4h0M461.6 339.7h0M456.5 347h0M457.7 343.8h0M461.2 336.6h0M457.4 348h0M460.3 345.6h0M463.5 338.5h0M455.3 352.2h0M469.9 331.6h0M453.9 345.4h0M470.1 334.8h0M470 332h0M466.8 337.9h0M460.9 339.9h0M459.1 340.6h0M462.4 343.1h0M460.9 341.7h0M463.4 337.3h0M460.5 350.6h0M459.4 340.1h0M464 333.3h0M457.9 330.4h0M457.4 338.1h0M459.3 350.4h0M468.6 340.5h0M458.6 333.2h0M459.6 350.6h0M468.4 342.1h0M467.8 336.9h0M457.5 345.6h0M452.4 336.7h0M456.5 341.1h0M453.4 336.9h0M466.8 331.2h0M465 324.2h0M467.1 343.2h0M465.4 337.2h0M459.1 340.3h0M466 337.5h0M463.9 339.3h0M460.5 341.2h0M461.2 336.9h0M458.4 343.4h0M462.5 342.7h0M457.6 353.6h0M459.3 328.5h0M468.5 342.1h0M464.7 344.7h0M462.2 344.6h0M462.9 348.3h0M460.3 340.5h0M467.8 333.7h0M471.2 338.3h0M452.4 346.5h0M464.1 337.1h0M469.2 327.1h0M464.5 333.6h0M461.5 322.2h0M458.1 352.8h0M457.4 335.9h0M465.1 340.9h0M463.6 334.3h0M461.3 347.4h0M461 351h0M462.4 347.8h0M467.5 338.8h0M458.5 348.3h0M470.1 317.5h0M487.9 320.2h0M487 324.4h0M471.2 316.3h0M482.6 328.5h0M471.3 318h0M466.3 315.8h0M473.4 318.3h0M478 324.2h0M468.8 319.5h0M477.7 324.3h0M488.7 330.5h0M480.6 322.1h0M471.8 318.2h0M476.4 324.5h0M479 319.3h0M488.2 323.3h0M475 324.4h0M478 328.7h0M469.7 321.9h0M479.3 315.6h0M478.4 320.1h0M472.5 320.2h0M472.6 310.4h0M468.4 309.8h0M464.9 322.7h0M485.7 328.7h0M472.4 312.9h0M481.3 321.1h0M478.4 320.2h0M483.6 327.3h0M467.1 313.4h0M484.3 321h0M463 316.3h0M477.9 318.5h0M471.4 321.1h0M470.2 308.4h0M490.9 326.5h0M477.5 324.5h0M477 323.3h0M477 327h0M478.8 320.3h0M476.9 321.7h0M467.9 318.4h0M478.8 315.7h0M482.1 321.8h0M471.7 317.3h0M484 319.2h0M477.2 319.6h0M472 316.1h0M473 321.4h0M480.4 322.1h0M475.7 319.3h0M473.7 319.4h0M484.6 327.9h0M481.6 326.7h0M468.6 324h0M481.7 325.6h0M472.8 316.5h0M486.7 327h0M477.2 319.3h0M469.9 313.9h0M474.7 320.2h0M468.5 320.3h0M480.8 320.5h0M481.4 316.9h0M477.2 316.2h0M481.9 322.7h0M481 327.5h0M479.5 324.1h0M470.9 329.6h0M474.3 327.6h0M464.1 339.5h0M466.1 332.8h0M468.5 331.4h0M471.9 336.6h0M471.6 337.4h0M469.6 331.8h0M469.7 336h0M471.9 340.2h0M466.7 337.6h0M474.2 335.7h0M471.6 333.8h0M473 337.1h0M471.5 341.1h0M463.8 331.1h0M471.7 333.1h0M467.5 331.4h0M468.5 334.4h0M469.9 337.3h0M472.1 327.6h0M470.9 344.7h0M471.2 340.6h0M468.9 340.5h0M468.2 332.2h0M469.9 338.1h0M468.7 342.6h0M472.4 334.2h0M468.6 335.8h0M469.4 344.9h0M469.2 339.1h0M469.4 339.1h0M470.5 334.5h0M472.9 343.2h0M466.9 325.6h0M474.2 333.4h0M468.6 336.7h0M472.5 333.2h0M470.1 326h0M468.2 328.4h0" stroke="#000" stroke-width="0.7" stroke-linecap="square" stroke-opacity="0.5" fill="none"/>

</g>
<path d="M442.6 301.3V355.4M442.6 301.3H495.7M508.5 301.3V355.4" stroke="#666" stroke-width="0.8" fill="none"/>
<line x1="454.6" y1="355.1" x2="495.5" y2="355.1" stroke="#222" stroke-width="1.1"/>
<text x="443.8" y="306.9" font-size="5.8">24.3</text>
<text x="507.4" y="306.9" font-size="5.8" text-anchor="end">1.63</text>
<text x="443.8" y="355.8" font-size="5.8">73.7</text>
<text x="507.4" y="355.8" font-size="5.8" text-anchor="end">0.36</text>
<clipPath id="f12"><rect x="515.1" y="301.8" width="64.6" height="53.1"/></clipPath>
<line x1="543.8" y1="301.3" x2="543.8" y2="355.4" stroke="#555" stroke-width="0.8"/>
<line x1="514.6" y1="330.4" x2="580.2" y2="330.4" stroke="#555" stroke-width="0.8"/>
<g clip-path="url(#f12)">
<ellipse cx="536.5" cy="336.5" rx="14.5" ry="4.6" transform="rotate(-55 536.5 336.5)" fill="#000" fill-opacity="1" filter="url(#fblur)"/>
<ellipse cx="527.5" cy="346" rx="4.5" ry="6" transform="rotate(-10 527.5 346)" fill="#000" fill-opacity="1" filter="url(#fblur)"/>
<path d="M546 330.7h0M546.6 332h0M530 340.9h0M528 342h0M545.6 325.6h0M528.6 341.5h0M540.6 322.1h0M535.5 341.3h0M549.5 327.3h0M529.4 337h0M531.5 346.4h0M542.5 336.5h0M546.2 330.5h0M526.8 342.1h0M538.6 336.5h0M536.8 345.5h0M526.2 350.2h0M532.7 344.8h0M539 330.1h0M543.6 335.4h0M529.8 340.1h0M529.3 343.6h0M524.2 340.3h0M536.7 326.6h0M530.2 348.5h0M539.6 323.6h0M532.6 349.5h0M521.2 348.5h0M528.5 341.4h0M543.9 324.1h0M539.9 329.8h0M551.2 321.6h0M539.3 327.3h0M541.9 339.6h0M540.2 329.1h0M529.8 349.2h0M541.7 336.3h0M544.6 331.2h0M538.7 336h0M535.5 340.3h0M541 332.7h0M533.7 343.4h0M532.6 334.3h0M539.4 336.8h0M539.4 343.6h0M542.8 335h0M535.1 325.3h0M526.8 353.4h0M532.2 338.2h0M541.4 331.7h0M535.3 330.9h0M537.9 317.8h0M541.3 325.3h0M542.2 328.4h0M543.7 336.4h0M525.4 336.4h0M524.2 336h0M529.4 340h0M537.3 330.1h0M533.4 329.1h0M537.6 332.7h0M550.6 332.7h0M544.3 331.4h0M528.8 342.1h0M542.5 315.1h0M536.7 339.2h0M541 325.6h0M538.9 336.8h0M545.6 323.8h0M539.7 340.7h0M541.6 325h0M538.9 332h0M531.8 330.7h0M538.3 333.2h0M528.8 346.8h0M528.9 342.2h0M542.4 343.4h0M540.4 322.8h0M543.6 323.7h0M548.1 325.1h0M548.8 326.1h0M532.6 337.8h0M539.4 334.3h0M553.3 330.4h0M545.9 337.9h0M543.1 331.7h0M531.7 344.3h0M541 328.6h0M533 341.7h0M547.8 327.2h0M536.5 343.4h0M534.7 335.9h0M547.8 323.8h0M538.2 333.7h0M537.5 315.7h0M545 326.9h0M537.8 328.4h0M532 345.6h0M532.9 350.5h0M541.1 328.8h0M537.6 346.6h0M530.2 331.7h0M524.2 338.9h0M538 325.5h0M537.9 337.3h0M539.7 320.5h0M539.1 328.8h0M528 331.5h0M538.1 335.5h0M541.2 334.1h0M526.2 338.6h0M536.3 326.4h0M552.5 310.7h0M533.6 335h0M532.6 339.5h0M531.4 351.4h0M545.1 324.5h0M533.4 343h0M545.7 326.6h0M536.9 338.5h0M532.3 348.7h0M549.6 323.7h0M545.1 328.1h0M533.7 350.9h0M541.6 321.5h0M538.4 339.7h0M536.8 328.1h0M526.2 342.1h0M542.4 334.5h0M541.6 327.1h0M537.5 331.3h0M544.8 325.1h0M539.8 341.2h0M536.3 334.5h0M530.9 344.2h0M543.4 318.5h0M541 321.8h0M535.9 345.4h0M530.3 343.2h0M539.6 342.1h0M539.2 329.1h0M536.3 339.9h0M535.4 343.2h0M547.3 326.6h0M535.8 348.2h0M543.1 338.7h0M540.5 329.9h0M534.1 343.3h0M549.1 329.6h0M537.3 348.4h0M532.5 340.3h0M550.2 315.9h0M532.3 332.3h0M529 329.1h0M540.9 335h0M533.9 332.3h0M548.3 318.1h0M533 340.6h0M527.5 342.7h0M524.5 347.2h0M524.8 355.1h0M532.8 339.1h0M536.8 331.8h0M544.6 315.3h0M540.6 335h0M531.3 335.9h0M533.6 349h0M536.9 339h0M522.5 351.5h0M539.5 331.1h0M533.8 333.6h0M542.6 326.3h0M543.4 330.3h0M532.9 340.9h0M534.7 332.4h0M534.3 334.1h0M528 348.9h0M541.1 335.4h0M537.5 328.6h0M535.8 345.5h0M526 337.5h0M523 349.8h0M543.4 315.9h0M542.9 321.6h0M531.7 336.2h0M553 322.9h0M533.7 343.6h0M525.2 348.7h0M537 332.3h0M532.2 325.4h0M550.8 313.4h0M521.9 350.3h0M523.1 347.7h0M542.9 326.6h0M548.5 327.6h0M546.8 315.5h0M531.2 345.7h0M550.5 326.4h0M538.3 337.3h0M553.5 322.1h0M530.4 351.5h0M545.2 327.3h0M530.8 331.8h0M543.3 334.3h0M535.3 322.9h0M546.5 327.3h0M540.7 323.7h0M535.3 331.9h0M536 337h0M535.2 329.1h0M550.7 331.7h0M538.3 335.5h0M535.2 335.1h0M533.6 337.1h0M548 321.5h0M526.7 343.2h0M529.1 335.5h0M543.2 333.5h0M522.6 348h0M529.4 339.6h0M536.1 323.9h0M539.2 337h0M550 317.4h0M543.4 335.8h0M527.1 348h0M543.6 322h0M543.4 333.3h0M542.6 334.2h0M531.5 332.8h0M523.3 344.5h0M541.8 328.6h0M529.6 336.1h0M558.1 309.2h0M532.5 348.5h0M541.4 336.8h0M555.3 322.3h0M539.7 332.4h0M531.3 334.1h0M537.7 350.1h0M531.3 336.1h0M525.6 335.1h0M538.8 327.9h0M535.3 332.8h0M532.9 333.9h0M529.5 344.1h0M530.9 335.6h0M531.8 345.2h0M541.1 320.5h0M540.8 337.5h0M542 321.4h0M527 343.7h0M543.7 335h0M533.1 333.1h0M533.3 344.9h0M532 339.7h0M536.9 333.3h0M534 331h0M539.6 337.4h0M538.6 337.6h0M542 328.1h0M547.5 325.9h0M541.7 327.9h0M542.5 337.3h0M537.2 342.5h0M535 343.2h0M530.5 335.5h0M539.2 326.8h0M528.9 340.4h0M528.8 342.1h0M540.2 334.1h0M529.4 345.9h0M528.6 351.6h0M535.9 342.9h0M536.6 344.2h0M529.1 348.1h0M541.1 327h0M515.4 350.1h0M529.8 331.7h0M536.5 331.8h0M530.8 339.4h0M536.4 339.4h0M532.2 326.2h0M538.6 327.3h0M543.9 319.2h0M524.4 344.7h0M536.6 334.9h0M526.9 342.6h0M534.6 349.3h0M535.3 334.7h0M536.7 336.6h0M536 339.4h0M542.3 327.9h0M534.1 335.2h0M540.6 329.5h0M537 330.4h0M539.5 325.9h0M537.6 328h0M541.6 343.9h0M540.5 331h0M545.6 330.5h0M534.7 333.3h0M522.9 348.6h0M547.9 320.3h0M538.6 334.6h0M530.9 344.5h0M532.9 347.7h0M546 323.6h0M552.8 326.9h0M533.1 341.9h0M530 344.3h0M549.1 323.5h0M528.8 353.2h0M531.2 330.1h0M541.2 327.7h0M527.7 345h0M525.5 343.8h0M532.8 330.9h0M528.1 342.7h0M542.3 332.5h0M546.4 328.8h0M531.9 339.5h0M532.7 351.9h0M544.9 331.8h0M529.6 345.4h0M541.9 346.2h0M528.6 344.3h0M539 333.6h0M532.7 342.8h0M528.1 337.7h0M544 328.2h0M538.2 343.6h0M522.8 349.9h0M544.9 326.2h0M534.4 334.8h0M544.6 326.7h0M538.2 336h0M538.5 323.6h0M524.7 340h0M532.7 333.8h0M530.4 328.1h0M546.7 316.6h0M532.4 323.4h0M543.7 322.4h0M531.1 349.4h0M539.5 331.4h0M534.6 340.5h0M546.2 328.2h0M539.6 334.9h0M527.9 344h0M535.6 337.5h0M545.4 330.3h0M540.4 332h0M535.6 352.2h0M531.1 328.7h0M536 333.6h0M530.3 334.3h0M538.4 332.3h0M540.1 334.4h0M533.3 343.8h0M541.3 341.8h0M547.6 313.7h0M541.3 331.4h0M528.7 351.5h0M531.4 329.6h0M545.8 329.5h0M547.8 323.7h0M537 329.9h0M536.1 338.7h0M538.9 328.1h0M539.2 339.5h0M556.1 326.7h0M542.6 323.9h0M533.5 345.5h0M538.2 333.1h0M543.8 336.5h0M537.9 342.2h0M544.6 329.1h0M543.7 321.3h0M523.1 347.4h0M546.3 332.5h0M542.2 326.5h0M546 323.6h0M538.8 331.1h0M540.8 341.4h0M530.3 342.9h0M535.5 344.2h0M533.4 328.5h0M532.5 344.5h0M532.5 338.8h0M531.5 344h0M547.1 322.4h0M543 330.1h0M522.7 347.1h0M520.3 345.1h0M549.1 320h0M531 332.7h0M539 332h0M554.8 319.2h0M538.3 331.3h0M526.2 354.5h0M535.2 337h0M545.9 336.4h0M542.2 333h0M536.8 331.6h0M532.6 339.5h0M544.7 332.6h0M534.9 331.4h0M542.7 338.8h0M536.2 335.4h0M529.7 338.1h0M545.1 323h0M534.2 337.6h0M535.1 338.5h0M544.2 332.9h0M540 316h0M537.5 327.5h0M529.5 349.8h0M536.7 337.1h0M528.4 330h0M540.7 323.5h0M536.1 332.1h0M545.1 338.7h0M532.2 341.8h0M526.6 340.9h0M538.3 331.2h0M538.5 341.7h0M538.5 315.2h0M543.4 330.4h0M531.5 338.1h0M532.3 339.9h0M538.5 327.5h0M524.2 348.7h0M534.5 338.8h0M536.9 336.6h0M529.3 326.7h0M547 330.1h0M534.7 331h0M536.8 332.8h0M545.1 313.3h0M539 335.4h0M539.3 325.1h0M544.5 323.9h0M540.3 336.5h0M531.3 337.8h0M547.1 319.5h0M522.4 349.2h0M535.7 330.5h0M529.5 341.4h0M540.5 331.5h0M537.7 336.3h0M539.1 326.1h0M538.5 336.5h0M530.9 337.3h0M539.1 324.7h0M555.8 319.7h0M539.2 327.7h0M534.9 328.6h0M542.2 331.2h0M537.6 343.3h0M528.8 347.1h0M543.5 327.5h0M543.7 331.3h0M539.8 331.4h0M543.7 326.5h0M536 338.9h0M539.5 321.8h0M536.8 326.5h0M528.6 346.9h0M538.3 335.1h0M548.1 315.6h0M539.8 340.4h0M550 326.1h0M545.8 311.1h0M556.4 318.7h0M548.9 325.9h0M540.5 329.6h0M524 346.6h0M534.1 326.6h0M529.7 338.3h0M525.2 349.4h0M531.8 332h0M538.4 329.2h0M536.8 342.2h0M541.6 340.4h0M552.8 314.5h0M546.2 331.2h0M534 333.8h0M557.1 311.4h0M541.3 325h0M541.6 337.4h0M533.4 338.2h0M526.2 343.5h0M541.4 335.9h0M535 342.3h0M534.6 340.3h0M536.8 348.7h0M530.4 337.9h0M543.2 331.4h0M531.6 335h0M532.4 330.9h0M527.3 349.4h0M531.2 343.7h0M546.8 320.6h0M536.7 336.6h0M532.1 343.9h0M542.3 314.8h0M535.8 335.4h0M533.2 336.6h0M523.7 349.3h0M556.2 315.7h0M537.2 328.6h0M530.7 343.2h0M537.8 318.1h0M527.5 351.8h0M540.9 332.4h0M539.5 329.9h0M530.6 332.8h0M550.8 321.4h0M528.6 344.3h0M532.1 335.2h0M539.3 325.3h0M534.4 331.5h0M533.5 343.7h0M548.3 333h0M520.5 350.1h0M525.6 342.4h0M528.5 343.7h0M537.6 331.7h0M536.1 336.2h0M556.1 322.8h0M549.2 319.9h0M546.6 321.4h0M540.3 330.2h0M530.7 334.6h0M534.5 339h0M549.9 322.2h0M546.2 332.2h0M546.5 330.3h0M555.9 315.3h0M532.9 336.6h0M540.3 330h0M529.3 347.8h0M547.1 330h0M542 341.5h0M549.9 314h0M545.1 329.4h0M535.5 335.8h0M548.5 320.5h0M533.6 335.7h0M530 332.3h0M539.4 341.1h0M536 334.4h0M524.8 334.5h0M555.3 306.8h0M535.1 322.2h0M534.9 342.5h0M535.4 332.5h0M541.3 339.4h0M543.2 331.9h0M539.1 328.4h0M531.6 334.4h0M539.7 330.2h0M531.3 343.3h0M525.5 334.8h0M522.4 338.6h0M537.8 327.7h0M538.1 336.4h0M535.1 342.9h0M517.7 351.3h0M532.5 341.1h0M537.4 329.1h0M528.1 338.5h0M534 337.1h0M548.6 325.9h0M528.9 349h0M539.7 327.7h0M533.2 348.9h0M543.9 333.6h0M549.1 324.7h0M538.8 338h0M526.9 351.6h0M530 339.8h0M544.6 329.5h0M544.3 325.5h0M547.7 326.9h0M538.8 328h0M544.4 322.9h0M530.9 347.3h0M534.8 327.2h0M544.8 315.2h0M548.4 334h0M540.2 327.1h0M530.1 338.7h0M536 343.4h0M542.3 326.9h0M549.8 320.8h0M537.8 335.7h0M540.2 335.7h0M533.7 338.7h0M541.3 322.1h0M548.5 315h0M542 315.9h0M537 348h0M546.8 323.9h0M525.1 353.7h0M544.7 335.7h0M536 355.4h0M530.3 344.2h0M538.6 324.7h0M527.6 340h0M525.3 346.9h0M531.3 332h0M547.1 323h0M546.8 321.3h0M533.4 339.1h0M530.1 345.1h0M542.1 333.8h0M537.4 336.5h0M526.4 352h0M520.8 347.2h0M542.2 322.7h0M538.5 335.1h0M534.1 338.1h0M524.8 340.6h0M536.4 341h0M551.1 335h0M532.9 344h0M526.2 346.3h0M531.3 347.9h0M541.2 332.7h0M536.4 344.8h0M531.9 343.3h0M536.8 337.6h0M526.3 337.2h0M529.6 334.1h0M539.5 338.3h0M534.2 340.9h0M550.2 321.8h0M524.1 352.5h0M533.2 333.5h0M541.7 333.8h0M527.8 348.7h0M537.9 340.6h0M540.2 337.6h0M535.8 344h0M549.2 321.4h0M534 330h0M533.2 331.4h0M523.7 354.8h0M546.8 314.6h0M542.3 327.3h0M535.1 348.2h0M535.5 343.7h0M532.1 350.8h0M537.6 336h0M541.7 323.5h0M540.1 328.4h0M539.1 332.8h0M531.7 343.7h0M551.8 328.4h0M541 328.7h0M536.3 319.7h0M532 338.9h0M543.4 329.5h0M552.5 318.6h0M527.8 340.4h0M540.6 327.1h0M546.9 331.9h0M541.3 337h0M548 310h0M535.9 342.5h0M531.6 343.6h0M540.2 331.4h0M532 345.7h0M539.2 330.8h0M538.4 334.8h0M537.9 337.7h0M530.5 341.5h0M540.5 328.1h0M531.4 345.5h0M534.2 334.2h0M549.1 321.6h0M543.4 337h0M530.2 336.3h0M531.6 338.4h0M538.2 329.6h0M540.8 327.3h0M529.3 339.9h0M538.2 338.5h0M527.8 351.4h0M539.5 328.4h0M533.4 339.6h0M542.4 320.8h0M548.5 334.2h0M531.5 333.8h0M528 343.5h0M535.7 330.3h0M535.8 342.5h0M552 323.7h0M538.6 337.2h0M534.3 342.4h0M537.9 331.1h0M533.3 330.5h0M542.9 328.8h0M535.9 327.9h0M528.3 349.4h0M550.5 312.2h0M536.4 340.5h0M531.1 335h0M543.5 317h0M537.1 334h0M539.1 346.6h0M538.8 331.2h0M552.6 313.7h0M548.3 325.9h0M538.5 324.2h0M534 345.1h0M538.7 335.2h0M540.3 331.5h0M539.1 331.2h0M539 328.7h0M527.9 339h0M538.3 335.3h0M546 334h0M533.5 341.8h0M535.2 344.3h0M543.9 324.8h0M536.2 335.2h0M540.5 325.1h0M537.5 348.1h0M539.3 334.4h0M541.7 318.1h0M539.5 338.1h0M532.2 337h0M532.9 340.9h0M539 329.2h0M524.6 352.6h0M538.8 324.6h0M538.5 336.4h0M527.8 344.7h0M531.9 334.3h0M527.2 344.4h0M541.3 319.1h0M552.4 319.5h0M536.1 339.9h0M542.4 329.9h0M532.6 344.8h0M523.3 347.3h0M538 331h0M548.2 323.7h0M529.8 334.2h0M538.9 339.9h0M540.2 326.2h0M534.4 346.1h0M535.8 331.4h0M527.4 353.3h0M533.9 336.8h0M528.9 341.5h0M531.5 347.3h0M548 326.7h0M542 329.1h0M533.5 340.5h0M535.1 338.7h0M556.5 313.6h0M527.2 338.6h0M541.6 332.4h0M525.2 348.6h0M539.3 333.4h0M544.2 320h0M537 335.4h0M546.4 328.6h0M538.5 329.7h0M531.2 332.2h0M527.5 343.8h0M530.1 347.3h0M530.8 340.3h0M522.8 345.3h0M540.7 333.9h0M540.9 321h0M539.9 336.5h0M539.3 329.4h0M540.7 331.2h0M555.2 329.9h0M542.3 325.4h0M517.2 354.4h0M543.1 331h0M535.3 350.1h0M536 323.5h0M537.3 332.8h0M533 344.1h0M554.7 311h0M538.5 337.7h0M535.3 337.9h0M528.6 345h0M539.7 327.4h0M544.9 325.6h0M539.2 324.2h0M532.5 333.9h0M537.6 341.6h0M527.4 343.5h0M539.2 343.6h0M525.7 354.1h0M539.4 326.3h0M538 342.7h0M534.3 346.5h0M536 340.8h0M541.8 331h0M543.8 328.4h0M534.2 335.2h0M543.2 324.5h0M531.3 323.5h0M535.4 328h0M544.5 332.6h0M525.5 347.1h0M541.1 327.5h0M535.2 334.3h0M541.5 339h0M544.8 322.4h0M522.6 354h0M539.5 318.7h0M526.5 345.4h0M530.5 342.3h0M534.8 339.8h0M533.2 329h0M537.3 336.2h0M531.7 339.4h0M539.3 334.4h0M537.2 337.7h0M535 349.7h0M535 325h0M536 329.6h0M530 355h0M530.9 348h0M546.1 325.1h0M548.1 323.5h0M528.2 343.8h0M530 342.1h0M535.8 339.7h0M520.9 349.5h0M529.4 350.8h0M528.9 345.8h0M537.5 328.4h0M539.8 348.7h0M536.3 342.6h0M534.6 343.9h0M539 342.5h0M541.3 319.2h0M553.9 309.8h0M533.8 334.1h0M530.2 336.8h0M532.7 340.4h0M532.6 344.6h0M531 349.5h0M534.9 342.7h0M534.3 347.3h0M541.1 329.6h0M535.5 333.1h0M534 345.7h0M526.8 348.5h0M530.8 346h0M537.4 340.1h0M539.6 332h0M537.5 335.3h0M541.2 321.9h0M528.8 341.8h0M540.8 330h0M526.6 339.7h0M525.9 352.6h0M545.8 326.9h0M546.5 332.5h0M529.3 341.7h0M540.2 333.4h0M535 342.9h0M540.8 336h0M540.4 322.4h0M544.6 320.3h0M541.1 330.7h0M540.7 336.9h0M535.9 329.8h0M545.3 321.9h0M531.7 330.5h0M548.1 332.5h0M542.4 326h0M543.5 311.3h0M550.3 318h0M539.2 326.3h0M549.4 322.2h0M549.1 325.2h0M555.6 319.9h0M546.3 321.6h0M545.5 325.3h0M542.4 320.2h0M545.2 326h0M545.8 321.1h0M545.4 324.8h0M540.3 315.2h0M543.4 326.2h0M545.6 315.8h0M547.3 318.3h0M552.1 323.1h0M550.3 329.8h0M549.3 320.6h0M545.7 322.2h0M551.3 316.4h0M540 326h0M540.1 321.5h0M548.8 314.7h0M543.4 323.5h0M551.1 322.1h0M542 320.6h0M544.6 328.6h0M545.1 325.3h0M547.8 321h0M546.3 327.7h0M547.9 330.7h0M546.4 324.9h0M542.1 325.4h0M551.5 323.8h0M547.4 328h0M548.7 320.6h0M543.3 329.7h0M546.2 326.7h0M547.2 325.7h0M550.6 319.9h0M549.6 325.3h0M552.8 322.6h0M545.9 321.2h0M546 323.8h0M547.6 322h0M547.9 324.2h0M546 324.4h0M544.4 325.9h0M554 313.2h0M546.4 321.8h0M550.9 325h0M556.3 313.4h0M547.7 320.1h0M549.5 323h0M548.6 314.7h0M540.9 319.9h0M546.1 323.8h0M539.7 321.6h0M545 320.3h0M545.9 321h0M542.7 319.5h0M538.5 317.4h0M542.3 316.5h0M543.5 318.6h0M544.3 328.6h0M555.2 321.4h0M551.1 323.6h0M546.4 318.5h0M546.3 316.9h0M549.9 323.5h0M545.9 321h0M542.4 329.7h0M552.3 322.6h0M557 323.4h0M548.1 318.4h0M550.4 325.4h0M547.7 316.9h0M547.8 324.7h0M542.5 322.8h0M549.4 324.4h0M549.7 323.4h0M543.5 326.2h0M545.3 321.9h0M545.6 321.6h0M545.2 328.3h0M543.4 320.8h0M551.4 327.1h0M543.6 321.6h0M542.6 324.8h0M544.2 315.1h0M545.7 326.4h0M554.2 319h0M548 325.1h0M549.8 323.4h0M542.8 316.1h0M543.9 324.2h0M549.3 320.7h0M553.2 325.1h0M545.4 323.5h0M544.9 329.7h0M554.9 318.7h0M554.3 312.5h0M541 318.7h0M550.2 321.6h0M544.1 319.7h0M545.5 322.9h0M535.9 328.1h0M540.1 329.2h0M547.2 322.1h0M549.8 323.2h0M541.3 321.9h0M545.9 321.9h0M546.1 326h0M546.2 321.7h0M541.9 323.7h0M540.7 322.4h0M548.5 322.9h0M544.6 320h0M542.3 321h0M546.2 319.3h0M542.6 318.8h0M539.5 326.3h0M556.8 328h0M549.7 318h0M532 320h0M547.3 327.2h0M541.7 322.7h0M542.8 320.8h0M552.8 318.4h0M551.4 326h0M550.1 316.6h0M544.5 328.2h0M550.5 322.2h0M543.1 332.1h0M549.1 323.2h0M545.9 333.5h0M547.1 314.6h0M539.6 329.8h0M544.3 325.1h0M550.1 323h0M555.9 322.3h0M540.1 318.1h0M542.8 325.2h0M549.1 328.9h0M548.1 319.8h0M549.7 319.5h0M551.8 315.6h0M544.7 321.2h0M543.9 328.3h0M537.5 319.5h0M545.3 319h0M543.9 323h0M551.8 321.6h0M550.5 316.5h0M549.8 314.2h0M543.9 326.7h0M539.8 322.5h0M543.9 322.8h0M543.2 320.3h0M551.2 319.4h0M546.2 325.1h0M546 320h0M555.2 324.8h0M549.2 313.4h0M554.4 313.3h0M549.9 324.8h0M554.1 320h0M550.1 320.3h0M550.7 325h0M540.7 322.9h0M552.9 314.9h0M542.4 319.7h0M553.2 325h0M547.5 326.9h0M541.9 326.3h0M542.3 322.4h0M546.2 319h0M545.1 330.5h0M547.4 315.3h0M546.2 318.6h0M537.1 322.4h0M543 321.6h0M548.4 320.2h0M541.4 321h0M545.7 323.7h0M541.5 329h0M548.4 326h0M546.8 327.1h0M539.9 317.6h0M537.1 320.9h0M550.9 329.4h0M544.2 332.5h0M539.8 320.1h0M542.9 320.5h0M554.2 317.4h0M545.2 326.4h0M539.4 320h0M543.1 330.1h0M550.8 322h0M552.2 314.7h0M556.4 323.7h0M545.4 320.6h0M543.9 322.1h0M548 320.7h0M553.3 318.4h0M538.2 327.1h0M538.3 319.2h0M553 326.6h0M544.4 321.7h0M539.3 319.7h0M548.5 321h0M542 326.5h0M550 322.6h0M545.4 316.7h0M540.8 320h0M546 320.9h0M540 323.8h0M542.4 318.7h0M543 328h0M548.5 318h0M546.1 326.4h0M545.3 321.7h0M540.7 321.3h0M538.4 324.2h0M546.3 320.4h0M550.3 323.7h0M542.8 322.3h0M549.6 315.7h0M549 320.1h0M547.7 327.8h0M537.8 321.8h0M535.3 321.4h0M540.3 321.8h0M547.5 325.3h0M544.9 323.2h0M540 323.9h0M554.2 323h0M545.4 319.2h0M559.6 317.9h0M552 326.2h0M551.9 316.6h0M545.1 323.2h0M538.8 320.8h0M545.7 328.2h0M545.2 321.1h0M555 320h0M550.4 317.8h0M544.2 332.3h0M542 322.9h0M540 316.4h0M524.5 322.6h0M524.3 325.1h0M529.3 322.7h0M528.1 322.8h0M533.5 324.6h0M530 321.2h0M526.4 322h0M535.7 323.8h0M536.8 327.2h0M530.8 321.9h0M533.5 318.6h0M521.3 324.1h0M528.1 324.4h0M521.3 322h0M526.7 324.8h0M523.3 325.3h0M529.6 326.6h0M522.9 329.2h0M533.3 319.6h0M529.9 320.1h0M524.6 329.3h0M534.2 320.4h0M528 322.2h0M525.1 324.5h0M530.4 320.8h0M528.8 324.8h0M533 326.2h0M539.7 325.7h0M533.2 320.4h0M526.9 322.2h0M532.7 320.8h0M525 322.3h0M528.2 323.6h0M531.4 321.9h0M533.2 322.6h0M531.5 324.8h0M524.6 325.4h0M525.8 323.9h0M531.1 325.3h0M529.1 325.2h0M531.5 321.9h0M532.8 323.9h0M530.8 323.7h0M524 325.2h0M531.5 322.6h0M526.5 327.3h0M530.1 321.7h0M530.8 325.5h0M528.7 320.5h0M530.3 323.5h0M535.2 323.2h0M525.5 329.6h0M527 324.7h0M529.7 323.7h0M518.6 321.1h0M521.6 323.2h0M529.1 323.8h0M536.6 322.4h0M529.4 320.8h0M524.5 325.1h0M528.4 325.3h0M528.4 324.5h0M520.8 320.6h0M527.6 324.5h0M519.5 328.2h0M527.8 323h0M523.8 323.2h0M523.9 324.6h0M524.9 322.7h0M523.9 325.7h0M529.3 324.2h0M524.7 327.1h0M526.6 320.4h0M534.9 325.6h0M534.7 322h0M529.6 321.5h0M526.4 324.1h0M533.5 324.6h0M528.7 321.4h0M528.9 322.6h0M533.1 322.8h0M532.6 320.9h0M524.3 322.6h0M531.4 322.1h0M525.2 321h0M534.5 322.8h0M533.8 323.4h0M536.5 323h0M528.9 319.1h0M535.6 329.7h0M523.3 324h0M532.4 321.7h0M531.4 322.3h0M527.5 326.3h0M529.9 325.8h0M527.2 325.7h0M525.2 324.8h0M538.7 322.2h0M539 327.1h0M530.3 326.8h0M533.8 320h0M528.8 321.9h0M527.4 321.7h0M528.5 324.7h0M527 325.2h0M535.2 321h0M521.6 325.3h0M530.5 326.8h0M537.9 323.8h0M529.9 321.2h0M526.3 323.1h0M519.8 324.4h0M533.2 326.6h0M528.2 321.1h0M533.9 321.9h0M528.3 323h0M528.4 320.6h0M531.3 327h0M531.6 324.7h0M525.6 324.6h0M529.8 322.9h0M531.9 323.8h0M527.6 320.8h0M522.3 324.1h0M530.9 320.3h0M531 325.2h0M523.4 322.2h0M527.5 322.3h0M532.8 326.4h0M530.9 318.3h0M528 321.8h0M519.5 319.1h0M523.9 322h0M530 320.6h0M524.8 324.4h0M531.7 325.1h0M525.5 322.5h0M524.2 324.3h0M534.5 324.5h0M524.7 321.6h0M533.2 322.1h0M526.5 322.8h0M528.8 322.2h0M537 320.7h0M527.6 320.2h0M534.9 323.5h0M529.9 324.5h0M535 324.7h0M518.2 325.3h0M525.3 323h0M530.3 320.8h0M525.9 323.4h0M534.9 325.1h0M531.5 321.7h0M532.3 321.7h0M536.8 322.5h0M526.1 325.4h0M532.6 320.8h0M524.3 320.9h0M527.8 322.7h0M536.7 320.7h0M531.7 321h0M519.3 328.7h0M527.5 324.2h0M526.4 319.7h0M532.2 321.9h0M520.3 323.2h0M523.3 323.1h0M523.8 325.1h0M558.9 310.9h0M550.8 323.7h0M555.1 320.8h0M556.8 311.7h0M550.6 306.3h0M550.6 320.8h0M553.4 319.8h0M552.7 315.9h0M550.4 315.8h0M552.7 320.9h0M552.7 313.5h0M555.8 319.7h0M555.1 310.2h0M561.9 327.3h0M547.3 310.4h0M553.9 318.4h0M553.6 315h0M546 309.1h0M551.9 316.4h0M553.1 318.4h0M550.7 310.5h0M552 313.4h0M556.2 313.4h0M551.2 322.3h0M557.1 313.9h0M549.8 325h0M549.9 318.1h0M549.3 321.6h0M551.7 311.6h0M546.3 316.8h0M551.3 309.2h0M549 319.5h0M558.8 322.5h0M550.1 321.3h0M556.2 323.3h0M559.4 315.2h0M544.7 311.3h0M550.1 317.4h0M561 314.3h0M551.4 313.3h0M555.2 317.1h0M554.4 321.4h0M548 311h0M553 315.2h0M555.1 309.1h0M552.9 316h0M547.2 316.1h0M560 320.4h0M557.8 318.4h0M550.1 314.8h0M556.3 321.3h0M551.5 320.6h0M556.2 325.8h0M555.1 311.7h0M556.6 315.3h0M548.8 309.4h0M557.4 316.8h0M547.5 312h0M553.6 320.9h0M557.6 319h0M547.7 317.8h0M560.4 315.9h0M550.4 317.3h0M556.9 312.5h0M547.7 310.1h0M553.4 324.2h0M553 314.2h0M548.6 318.2h0M554.7 318.5h0M549.1 312.4h0M554.8 310.5h0M549.3 324.8h0M559 316.2h0M560.4 321.6h0M554.9 320.3h0M548.2 319.9h0M544.2 325.1h0M551.3 317.1h0M544.5 320.4h0M558.8 321.1h0M549.3 312.8h0M555 311.5h0M555.1 319.4h0M545.6 306.4h0M545 320.3h0M566.8 316.1h0M557.9 308h0M548.5 315h0M550.4 311.9h0M549.8 314h0M553.6 313.8h0M547.3 311.7h0M560.3 326.3h0M554.7 310.5h0M552.4 309.5h0M555.8 321.1h0M559.8 322h0M552.5 319h0M551.6 320h0M538.7 320.4h0M548.5 316.3h0M545.3 313.4h0M547.4 318.6h0M552.2 315.5h0M546.8 316.3h0M551.2 325.6h0M553.5 311.9h0M554.6 315.4h0M549.4 317.4h0M555.5 321.9h0M551.8 316h0M550 318.1h0M553.3 317.7h0M544.7 323.1h0M545.4 317.2h0M555.5 315.9h0M563.1 314.6h0M548.3 325h0M548.4 312h0M546.3 316.7h0M551.9 315.2h0M553.7 309.2h0M554.9 317.3h0M553.2 317.5h0M551.3 317.3h0M546.6 317.1h0M553.2 306.9h0M551.9 318.7h0M555.5 313.3h0M546.5 315.4h0M552.3 319h0M549.3 317.5h0M543.8 309.4h0M552.3 310.5h0M552.8 321.2h0M554.7 321.7h0M547.2 316.8h0M550.9 302.9h0M551.6 316.6h0M554.6 313.4h0M541.6 321.9h0M546.9 324.9h0M557 319.6h0M557.4 314.2h0M544.4 322h0M553.4 321.3h0M558.2 318.4h0M555.9 319.5h0M547.1 320.6h0M551.7 316.5h0M558.2 317.7h0M547.4 313.6h0M554.3 320.8h0M556.3 323.8h0M556.4 325.3h0M553.1 311.3h0M555.7 315.7h0M552.7 316.3h0M549.8 307.5h0M553.5 320.3h0M553.5 318.2h0M558.7 311.6h0M556.5 314.7h0M555.8 318.4h0M560.3 313.9h0M557.1 314.4h0M548.5 318h0M543.8 315.2h0M560.7 312.2h0M547.3 311.6h0M545.1 323.2h0M551 324.4h0M558.9 321.8h0M555.9 320.5h0M556.3 320.6h0M550.1 323.1h0M547.7 308.8h0M554.9 323.6h0M552.9 310.9h0M546.8 312.2h0" stroke="#000" stroke-width="0.7" stroke-linecap="square" stroke-opacity="0.5" fill="none"/>

</g>
<path d="M514.6 301.3V355.4M514.6 301.3H567.4M580.2 301.3V355.4" stroke="#666" stroke-width="0.8" fill="none"/>
<line x1="526.6" y1="355.1" x2="567.2" y2="355.1" stroke="#222" stroke-width="1.1"/>
<text x="515.8" y="306.9" font-size="5.8">8.19</text>
<text x="579.1" y="306.9" font-size="5.8" text-anchor="end">8.36</text>
<text x="515.8" y="355.8" font-size="5.8">81.5</text>
<text x="579.1" y="355.8" font-size="5.8" text-anchor="end">1.65</text>
<clipPath id="f13"><rect x="587" y="301.8" width="64.7" height="53.1"/></clipPath>
<line x1="615.8" y1="301.3" x2="615.8" y2="355.4" stroke="#555" stroke-width="0.8"/>
<line x1="586.5" y1="330.4" x2="652.2" y2="330.4" stroke="#555" stroke-width="0.8"/>
<g clip-path="url(#f13)">
<ellipse cx="604" cy="322.6" rx="9.5" ry="4.2" transform="rotate(-6 604 322.6)" fill="#000" fill-opacity="1" filter="url(#fblur)"/>
<ellipse cx="604.8" cy="340" rx="11" ry="5" transform="rotate(-56 604.8 340)" fill="#000" fill-opacity="1" filter="url(#fblur)"/>
<path d="M614.1 320.9h0M602.3 317.9h0M606.4 323.7h0M602.1 322.1h0M593.8 328.8h0M608.1 321.1h0M610.5 323h0M606.2 321.9h0M606.3 324h0M612.6 324.4h0M609.2 325.1h0M603.5 317.7h0M593.9 327.1h0M591.8 321.9h0M606 325.6h0M588.2 321.3h0M598.5 321.1h0M605.8 325.2h0M611.7 331h0M617.6 316.4h0M593.1 323.4h0M603.4 326.4h0M610.9 324.5h0M605.6 324.1h0M608.5 321.5h0M609.6 317.4h0M613.5 323.5h0M628.8 319.1h0M592.6 322.3h0M603.5 320.3h0M595.2 322.7h0M594.5 327.8h0M593.4 326.2h0M613.6 322.8h0M616.7 322.3h0M612 318.8h0M595.1 322.3h0M607 325.6h0M595.1 321.9h0M599.3 326h0M601.1 326.8h0M602 320.5h0M598.6 317.8h0M599.9 330.1h0M609 324.9h0M606.2 321.7h0M592.8 320.1h0M616.5 319.4h0M601.8 325.5h0M603.4 322h0M621.8 321.5h0M602 321.7h0M599.8 324.6h0M609.7 320.1h0M602.7 317.7h0M603.3 325.1h0M597.5 323.3h0M599.4 321.9h0M607.3 319.1h0M615 325.5h0M614.6 318.3h0M589.9 322.9h0M606.5 322.3h0M604 322.9h0M602.8 325.1h0M594.1 325.4h0M609.2 320.2h0M635.1 319.3h0M607 318.4h0M607.6 323h0M614.2 319.8h0M613.7 317.1h0M604.8 316.9h0M605.7 325h0M593.4 326.5h0M608.4 317h0M597.3 322h0M610.1 326.4h0M599.6 320.2h0M601.1 314.3h0M609 321.6h0M603.6 327.2h0M602.8 320.5h0M613.3 320h0M605.6 321.5h0M605.3 323.3h0M607.4 318.5h0M615.7 319.9h0M602.5 325.7h0M602 324.6h0M614.8 324.2h0M602.5 326.3h0M603.5 320.4h0M599.1 324.6h0M600.8 327.5h0M612.3 323.5h0M615 324.3h0M600.5 331.3h0M594 324.7h0M590.9 323.8h0M601.4 318.8h0M609.8 322.3h0M605.1 319.3h0M616.5 320.4h0M610.7 317.1h0M616.6 319.9h0M613 320.2h0M605.3 324.2h0M606.2 329.4h0M604.1 322h0M614.3 322h0M598.2 322.8h0M611.7 322h0M614.1 317.8h0M607.8 319.9h0M602.6 321.1h0M600.2 331h0M607.4 325h0M609.6 328.4h0M600.9 319.3h0M610.3 319h0M617 318.2h0M604 325.1h0M597 323h0M607.7 317.7h0M604.4 318.4h0M605.1 328h0M616.6 320.5h0M603.8 320.6h0M612.2 324h0M594.5 321.3h0M595.8 324.6h0M607.7 322.8h0M610.8 323.8h0M605.9 324.3h0M602.1 325.6h0M612.9 314.8h0M618.4 320.6h0M611.3 321.9h0M617.7 320.9h0M608.6 320.5h0M605.9 324h0M598 323.2h0M601.3 323.5h0M613.3 322h0M615.5 319.1h0M602.9 322.5h0M598.7 324.8h0M599.7 321h0M607.2 319.9h0M605.4 322.3h0M614.7 325.9h0M609.3 319.9h0M613 329.4h0M602.5 322.3h0M615.7 320.9h0M603.1 326.6h0M598.8 326.6h0M599.1 325.1h0M604.4 320h0M611.2 317.1h0M609.7 321.4h0M613 317.6h0M613.6 327.9h0M600.5 323.3h0M614.5 333h0M607.1 320.1h0M607.1 321.8h0M601.2 318.9h0M616.6 315.9h0M602.9 316.8h0M587.8 326.8h0M594.2 326.4h0M605.1 319.4h0M610.2 317.3h0M611.7 325.4h0M594.9 324.5h0M617.7 321.8h0M595.6 327.2h0M605.7 323.2h0M594.6 325.1h0M606.7 318.5h0M608.8 320.8h0M611.6 324h0M597.5 319.1h0M615.6 322.9h0M600.3 326.5h0M609.5 323.2h0M600.5 321.1h0M614.7 320.7h0M602.7 324.7h0M596.1 323.3h0M605.9 331.1h0M591.8 324.2h0M598.7 318h0M622.4 325.2h0M601.5 322h0M603.2 322.3h0M602.4 323.7h0M613.9 322.5h0M612 317.1h0M617.8 318.7h0M597.2 320.8h0M609.5 321.6h0M595.6 323.5h0M621.7 320.9h0M602.1 320.4h0M607.5 318.8h0M603.5 318.8h0M611.1 318.9h0M617.3 323.9h0M607.3 326.5h0M616.8 318.9h0M619.6 323.2h0M614.1 320.6h0M605.7 326.2h0M603.1 322.7h0M611.5 318h0M594.2 327.7h0M614 327.4h0M610.8 319h0M612.4 323.9h0M613.7 324h0M611.9 324.7h0M599.8 324.9h0M596.7 321.8h0M611.5 319.4h0M593.8 321.9h0M611 325.3h0M609.9 325.4h0M588.2 324.6h0M612 321h0M609.8 319.5h0M606.1 326.9h0M600.3 330.7h0M607.1 321.9h0M621.9 319.6h0M613.5 325.1h0M601.1 322.5h0M605.1 322.2h0M600.6 326.5h0M607.7 319.2h0M603.9 326.4h0M597.6 322.9h0M618.4 324.3h0M607.2 324.4h0M610.8 330h0M615.6 323.3h0M600.2 322.3h0M606.3 320.5h0M607 322.9h0M604 321.9h0M596.4 320.7h0M622.8 325.3h0M610.4 324.1h0M607.1 320h0M607 317.5h0M605.5 319.5h0M604.6 326.3h0M604.2 322.3h0M611 323.2h0M618.3 322.5h0M614.8 320.6h0M601.8 326.1h0M614 317.8h0M594.7 322.5h0M614.6 319h0M610.4 328.5h0M609.7 322.5h0M608.6 325.1h0M591.9 321.7h0M606 329.1h0M621.6 320.1h0M608.9 318.3h0M601.1 323.8h0M601.5 324.7h0M603.7 323.8h0M613.4 320.7h0M609.1 323h0M602.5 323.4h0M602 320.7h0M600.6 321h0M593.6 328.6h0M588.9 326.8h0M598.9 318.7h0M603.9 318.7h0M601.4 327.7h0M611.4 322.3h0M609.8 316.1h0M619.3 321.4h0M600.4 324h0M614.3 319.3h0M606.7 329.7h0M617.1 323h0M602.9 317.7h0M599 324h0M608.8 327.5h0M603.6 322.9h0M600.4 318.4h0M607.3 318.8h0M600.5 319.3h0M606.8 319.9h0M609.3 328.1h0M605.5 323.2h0M598.9 318.4h0M619.5 313.7h0M623 323.7h0M604.8 324.4h0M605 324.1h0M610 322h0M602.8 322.6h0M605.5 322.4h0M606.7 324.4h0M605.6 322.6h0M602.5 323h0M605.8 322.7h0M607.6 320.7h0M594.3 327.1h0M610.4 324.3h0M610.6 317.9h0M612.2 324.6h0M610.1 318.5h0M605 324.9h0M611.8 319.9h0M607.9 324.7h0M592.2 320.8h0M599.2 319.8h0M602.3 325h0M601.7 320.4h0M602.3 328.1h0M618.5 317.7h0M615.7 324.9h0M602.6 322.7h0M608.5 318.4h0M602.6 323.1h0M596.8 322.5h0M612.6 315.3h0M617.9 326.1h0M604.4 323.1h0M604.9 316.8h0M606.5 320.7h0M603.1 315.5h0M612.6 320.7h0M607.4 321h0M613.1 318.7h0M597.7 319h0M605.5 324.9h0M617.3 322.9h0M607.1 322.5h0M599.7 320.3h0M609.8 321.9h0M600.3 322.9h0M610.9 314.3h0M609.3 321.7h0M603.8 318.8h0M612.6 323.6h0M602.9 317.9h0M602.3 323.4h0M600.6 325.2h0M595 330.5h0M596.8 320.8h0M612.8 321.6h0M605.9 320.7h0M612 322h0M612.6 324.9h0M599.6 328.8h0M606.6 319.4h0M618.9 317.4h0M623.7 317h0M619.7 315.9h0M604.6 327.4h0M631.2 320.1h0M604.3 321.8h0M616.3 320h0M598.3 325.8h0M622.5 318.5h0M609.9 323.7h0M606.5 323.2h0M612.6 324.9h0M596.8 319.3h0M611 317.5h0M607 322.1h0M613.8 320.8h0M605.6 318.2h0M606.1 317.7h0M611.4 325.1h0M621.2 322.3h0M604.8 320h0M602.6 325.6h0M613.1 324.3h0M603 320.1h0M591.5 327.3h0M603.9 321.1h0M609.1 329h0M602.4 321.6h0M598.1 324.2h0M592.8 320.4h0M607.1 319.8h0M605.8 324h0M604.7 327.4h0M600 320h0M605.2 321.1h0M608.1 323.9h0M602 318.5h0M595 328.6h0M603.1 330.1h0M609.4 320.9h0M600 319.3h0M605.7 325.1h0M611.5 324h0M606 319.6h0M606.9 319.4h0M602.2 320.4h0M596.3 321h0M599.1 323.6h0M609.7 323h0M597 321.8h0M617.1 322.9h0M609.5 322.9h0M611.3 319.5h0M596.2 326.4h0M598.5 323.8h0M616.5 319.9h0M597 323.8h0M592.3 321.5h0M601.3 324.7h0M619.5 324.8h0M619.7 320.2h0M595.5 321.4h0M603.7 321.9h0M603 325.9h0M609.4 325.8h0M617.3 318.5h0M601 326.1h0M613.5 319.1h0M603.4 327.3h0M613.7 326.4h0M600.1 325.4h0M606.8 320.6h0M601.4 323.4h0M600.9 325.5h0M618.5 320h0M606.8 324.1h0M610.2 325h0M595.3 318.1h0M601 323.4h0M615 323.3h0M600 317.6h0M607.7 323.4h0M613.2 323.9h0M607.1 319.5h0M606 324.2h0M599.2 323.6h0M599.9 320.4h0M602.4 321.6h0M596.5 322.3h0M602.4 320.7h0M608.8 323.9h0M594.1 319.2h0M595.9 322.8h0M586.9 324.9h0M604.7 323.4h0M601.8 325.3h0M608.1 325.1h0M597.2 314.5h0M610 322h0M607.7 327.6h0M603.9 325.5h0M600.7 322.6h0M603.7 322.8h0M603.7 329.1h0M594.2 323.8h0M604.9 324.5h0M609.3 318.8h0M601 327h0M607.2 317.2h0M607.5 329.3h0M599.9 325.1h0M621.3 325.4h0M595.8 322.7h0M608.2 321.6h0M605 323.9h0M603.8 322.9h0M613.6 319.7h0M611.5 316h0M611.2 320.5h0M597.5 320.2h0M611.3 320.7h0M597 319.1h0M602.6 322.7h0M606.1 321.7h0M599.8 324.6h0M590.6 327.3h0M621.4 318.5h0M606.4 321.8h0M596.7 321.7h0M600.7 320.3h0M606 321.5h0M613.4 311.5h0M609 324.9h0M623 319.3h0M613.9 318.9h0M611.6 322.5h0M620.4 315.9h0M615.2 315.3h0M613.4 317.8h0M608.6 325.1h0M614.9 316.8h0M619.1 318.6h0M615.9 323.3h0M620.6 327.3h0M611.5 324.6h0M614.6 327.1h0M607.7 324.7h0M611.1 312.9h0M612.7 326.5h0M613.9 313.4h0M619.4 322.8h0M611.4 327.1h0M616.8 326.7h0M607.3 322.6h0M610.4 318.8h0M614.8 322.7h0M605.2 317.4h0M617 324.1h0M622.9 324.2h0M604.6 315h0M610.8 323.2h0M610 323h0M611.7 328.6h0M610.9 322h0M613.8 329.4h0M604.6 320h0M613.7 319.7h0M614.7 328h0M612.4 326h0M611.8 318.3h0M617.2 320.4h0M611.4 326.7h0M616.4 320.2h0M607.8 316.7h0M606.8 320.3h0M609.3 330.3h0M622.1 323.3h0M608.7 315.5h0M617.1 318.4h0M613.3 326.2h0M617.6 324.3h0M610 323.4h0M613.9 317.7h0M609 316h0M610.3 330.7h0M614.5 319h0M615.5 326.6h0M614.4 313.4h0M607.7 317.4h0M604.3 325.9h0M621.1 320.5h0M608.3 322.8h0M615.9 320.2h0M609.4 317h0M608.3 323.5h0M619.6 318.1h0M619.4 316.6h0M614.3 320.6h0M617 316.2h0M604.7 322.4h0M616.8 326.9h0M610.5 310.5h0M609.8 321.9h0M614.6 321.6h0M614.5 321.5h0M618.7 314.3h0M620.1 317h0M615.9 323.6h0M614.2 311.9h0M621.1 322.2h0M613.8 323.1h0M617.1 324.2h0M623.7 322h0M613.8 315h0M620 325h0M605.8 322h0M619.4 314.3h0M613 313.2h0M613.8 318.1h0M608.9 320.9h0M619.9 323.8h0M613.7 313.8h0M617.7 321.3h0M615.3 319.1h0M611.7 323.8h0M621.3 324.9h0M623 321.9h0M611.9 327.3h0M616.7 327.9h0M607.1 326.2h0M603.9 320.9h0M612.1 323.7h0M620.3 319.2h0M608.4 318.2h0M620.9 317.2h0M617.1 316.5h0M613.4 322.4h0M617.5 318h0M617.3 319.4h0M625 324.5h0M614.5 311.1h0M615 322.3h0M617.6 326.8h0M616.4 324.5h0M608.9 319.6h0M617.9 321.6h0M616.8 325.7h0M617.2 320.6h0M617.1 322.7h0M613.4 323.6h0M616.6 325.7h0M605 325h0M616.4 317.5h0M615.3 326.8h0M615.2 322.6h0M614.3 320.4h0M623.3 323.6h0M608.7 316.2h0M608.7 324.7h0M610.1 317.4h0M621.5 315.5h0M617.4 329.6h0M609.6 323.1h0M599.9 321.7h0M611.2 317.1h0M609.6 322.7h0M613.4 317h0M613.8 316.6h0M621 315.3h0M617.6 322.5h0M610.5 325.3h0M607.9 323h0M612.8 316.3h0M621.6 322.3h0M618.3 318.9h0M625.1 315.3h0M609.6 320.1h0M611.9 322.6h0M616.5 320.6h0M618.6 320.3h0M608.5 326.2h0M607.3 330.2h0M616.1 323.3h0M607.2 321.7h0M613.7 324h0M614.6 317.9h0M615.6 328.3h0M619 317.3h0M609.9 319.2h0M624 325.5h0M610.7 316.8h0M618.9 317.1h0M612.3 324h0M620.8 325h0M615.7 318.9h0M622.3 323.3h0M620.5 321.7h0M615.6 319.6h0M622.6 321.5h0M617.4 324.1h0M614.6 315.7h0M627.8 317.4h0M613.5 321h0M616.7 318.4h0M609.7 330.6h0M612.2 309.8h0M601.2 317h0M620.3 323.1h0M608.5 323.3h0M614.2 311.1h0M621.1 321.6h0M613.9 324.4h0M611.7 323.9h0M618.9 314.2h0M615.6 317.7h0M610.5 324h0M611.9 318h0M610.6 315.8h0M608.4 330h0M608.2 309.7h0M607.6 314.2h0M624.2 331.4h0M613.2 329.5h0M615.6 327h0M611.8 330.2h0M616.5 319.2h0M623.1 313.1h0M616.5 318.3h0M621.1 325.7h0M607.7 323.7h0M613.6 317.4h0M600.5 337.5h0M602.7 342.7h0M591.8 346.3h0M610.3 334h0M607.9 331.9h0M609.4 340.1h0M604.4 333.8h0M607.6 333.9h0M613.4 345.8h0M608.9 332.2h0M614.8 336.4h0M618.7 326.6h0M608.9 336.2h0M605.2 336.8h0M607.9 339.5h0M606.5 332.3h0M601.3 339.2h0M599.4 335.6h0M605.4 346.9h0M606 332.3h0M602.5 340.4h0M595.1 344.1h0M611.8 343.8h0M605.1 340h0M606 339.5h0M602.7 334.7h0M593.8 348.1h0M609.8 333.8h0M606.8 343.9h0M604.5 341.4h0M607.6 338.7h0M604.1 337.4h0M599.5 347.9h0M602.4 342.7h0M606 351.8h0M601.9 348.2h0M599.7 345.9h0M611.5 333.8h0M610.9 325.8h0M605.3 345.8h0M609.3 341.4h0M601.1 336.4h0M609 338.4h0M609.4 334h0M605 341.1h0M598.3 341.7h0M604.3 345.1h0M611.5 334.8h0M599 345.2h0M608.5 342.8h0M601.3 350.8h0M616.1 326.4h0M611.1 315h0M611.1 333.6h0M604.5 345.3h0M593.5 346.9h0M594.9 348.6h0M605.4 334.3h0M609.1 334.4h0M602.3 342.8h0M598.2 342.7h0M602.4 343h0M605.5 338.5h0M614.7 336.3h0M609.2 327.2h0M604.8 338.2h0M612.5 325.7h0M595.1 345.5h0M608.7 342.9h0M600.8 349.3h0M602.7 346.1h0M595.3 349.2h0M610.8 336.8h0M607.6 335h0M602.2 335h0M602.1 342.3h0M619.7 320.1h0M602.2 345.4h0M604 352.2h0M599.3 351.3h0M613.7 329.4h0M601.7 349.6h0M602.7 339.3h0M599.2 342h0M602.5 346.2h0M604.6 339.3h0M603.5 342.9h0M601.5 343.9h0M604.7 336.7h0M603.5 343h0M611.7 340.5h0M601 344h0M594.4 352.7h0M609.2 341h0M603.8 341.2h0M606.2 336.2h0M607 340h0M598.7 339.1h0M606.4 339.4h0M601.4 344.2h0M603.5 340h0M608.9 338.4h0M593.3 350h0M605.7 332.3h0M603.9 347.2h0M612.5 333.2h0M600.4 347h0M594.4 346.8h0M612.8 333.1h0M594.4 349.3h0M608.9 341.1h0M603.8 334.8h0M603 339.7h0M616.1 322.1h0M595.6 350.3h0M612.8 336h0M605.4 329.8h0M610.1 336.6h0M610.6 328.7h0M598.4 345h0M599.8 345h0M603.4 336.1h0M603.9 334.3h0M601.8 337.1h0M605.9 340.9h0M602.2 339.6h0M592.3 354.4h0M594.5 340.8h0M602.9 338.7h0M600.6 354.2h0M609.4 336.1h0M599 347.7h0M598.9 339.5h0M601.7 327.9h0M607.1 335h0M606 341.8h0M594.6 343.9h0M602.3 331.9h0M611.7 335.9h0M612.6 333.4h0M611.5 340.5h0M602.2 348.9h0M597.2 343.7h0M608.2 333.6h0M598.8 343.9h0M606.8 344h0M601.3 339.3h0M602.8 344h0M606.8 338.5h0M609.6 333.7h0M607.1 334.6h0M599.3 342.7h0M608.5 336.4h0M606.1 329.3h0M601.5 347.6h0M608.9 334.1h0M607.5 332.1h0M604.6 338h0M612 331.6h0M617.3 325.1h0M605.6 331.4h0M608.8 330.1h0M600.6 340.2h0M602.7 341h0M604.5 336.4h0M603.9 335.2h0M599.3 343.2h0M604.7 346.9h0M607.7 345.2h0M611.6 327.8h0M602.5 339h0M606.1 342.4h0M609 336h0M600.7 348.8h0M601.8 337.8h0M595 352.8h0M600.8 350.2h0M602.3 334.8h0M606.1 336.5h0M600.7 349.6h0M601.4 339.6h0M612.6 320h0M608 340.5h0M601.8 339.6h0M598.8 336.5h0M602 346.3h0M601.9 337.7h0M592.9 342.4h0M605.5 336.4h0M606.1 337.6h0M601.8 330.3h0M608 338.7h0M604.5 334.5h0M602.1 346.4h0M605.8 337.6h0M606.1 332.1h0M609.9 337.5h0M597.8 337.6h0M608.5 337.2h0M594.4 348h0M595.5 348h0M604.6 339.2h0M605.6 337.7h0M599.2 346.6h0M601 351h0M599.5 347.6h0M605.3 332.8h0M612.6 324.5h0M595.2 346.8h0M595.2 354.3h0M605.5 342.7h0M605.1 332.7h0M608.3 336.4h0M603.3 336.3h0M594.4 345h0M609 336h0M604.8 343h0M606.8 336.7h0M606.1 336.8h0M600.1 342.2h0M604.4 336.1h0M605.4 345.7h0M604.1 340.3h0M607.6 340.8h0M609.5 333.2h0M608.7 334h0M605.1 340.1h0M607 346.7h0M597.2 348.9h0M599.2 352.7h0M595.3 342.1h0M609.8 334.4h0M597.8 343.2h0M608.2 336.7h0M607.1 342.4h0M606.7 349.4h0M604.8 337.1h0M609.3 330.1h0M602.1 347.7h0M590.4 350.8h0M602 345.5h0M604.1 351.3h0M606.5 342.6h0M604.9 349.6h0M603.9 336.1h0M608.1 337.8h0M600.9 339.3h0M613.6 322.3h0M606 340.1h0M609.3 338.5h0M609.4 340h0M604.6 343.7h0M598.7 345.1h0M603.1 339.9h0M604.3 339.9h0M601.9 342.9h0M605 347.8h0M612.1 341.9h0M601.4 338.8h0M610.8 322.9h0M610.7 333.6h0M613.3 332.2h0M595.7 343.4h0M601.7 338.1h0M595.4 345.4h0M600.3 339.4h0M612 325.2h0M605.3 333.1h0M598.4 349.2h0M607.5 345.9h0M613.8 323.2h0M603.9 340.3h0M609.8 343.3h0M593.7 346.5h0M600.8 343.1h0M612.4 323.7h0M609.4 335.3h0M589.3 344.1h0M612.6 341.2h0M596.8 352.2h0M601.4 354.1h0M607.8 338.6h0M602.3 349.9h0M603 336.5h0M595.8 342.7h0M592.6 348h0M603.2 338.6h0M605.9 327.1h0M606.4 340h0M604.5 337.2h0M604.9 335.5h0M594.2 346.7h0M611.4 336.8h0M598.4 348.8h0M597 333.1h0M607.6 335.2h0M608.5 329.1h0M611.3 331.6h0M609.9 331.4h0M597.9 350.8h0M604.7 340.1h0M608.2 340.6h0M604.6 350.9h0M603.6 338.9h0M607 339.7h0M595.1 346h0M607.5 337.4h0M604.8 329.4h0M606.7 340.4h0M597.9 347.2h0M605.1 341h0M602.6 335.2h0M600.5 345.2h0M609.8 341.2h0M607.1 341.7h0M607.6 333.3h0M600.1 339.8h0M601.8 347.2h0M601.2 349.8h0M608.9 330.9h0M608.7 332.5h0M611 332.3h0M604.4 331.8h0M606.3 343.5h0M598.6 334.5h0M607.6 337.8h0M610.5 330.3h0M609 336.6h0M611.3 333.3h0M609.3 333.3h0M608.3 346.4h0M602.3 346.9h0M598 341.8h0M611.3 339.4h0M613 335.4h0M609.9 332h0M603 343.2h0M593.4 352.4h0M607 337h0M596.5 335.6h0M599.5 341.7h0M595.3 341.9h0M610.1 330.9h0M602.5 349.3h0M610.2 323.3h0M600.6 348.3h0M609 332.5h0M608.4 328.8h0M593.9 345.5h0M612.2 339h0M603.5 342h0M606 352.2h0M603.1 335.5h0M608.1 340h0M612.9 341.9h0M606.1 340.5h0M610.5 344.7h0M610.9 338.1h0M608.7 338.4h0M601.2 330.8h0M607.7 349.4h0M609.5 346.5h0M611.3 324.8h0M610.4 337.7h0M606.7 348.4h0M605.1 335.3h0M604.7 339.1h0M611 330h0M603.7 348.7h0M614 346.5h0M592.9 348.9h0M607.9 338.9h0M597.7 344.6h0M610 338.2h0M607.6 342h0M610.9 337.3h0M607.6 342.6h0M611.8 340.5h0M600.6 346.8h0M605 331.7h0M602.2 333.5h0M599.3 344.1h0M613.2 338.4h0M608.4 334.4h0M609.8 335.5h0M597.5 347.9h0M604.9 337.4h0M603.3 344.4h0M603.9 342.1h0M602.9 335h0M602.4 343.2h0M612.1 329.1h0M610.7 340.4h0M602.1 347.5h0M604 339.3h0M601.9 335.7h0M607.6 343.9h0M610.2 338.6h0M612.9 328.5h0M604.5 332.5h0M601.4 345.4h0M603.4 349.2h0M610.3 336.9h0M606.3 346.4h0M612.4 331.3h0M609.1 336.2h0M607.7 331.7h0M598.8 348.9h0M611.3 339.5h0M612 334.5h0M606.3 335.1h0M606.8 334.7h0M609.4 346.3h0M603.4 337.4h0M605.8 334.2h0M602.4 340.2h0M598.2 348.5h0M597.4 338.2h0M609.6 332.5h0M613 339.2h0M611.4 330.7h0M612.9 326.1h0M598.5 342h0M597.4 351.4h0M608.3 329h0M607.3 335.6h0M603.4 336.9h0M603.7 340.8h0M607.1 328.1h0M600 339.4h0M607.9 334.2h0M599.1 346.8h0M603 336.3h0M599.4 339.2h0M598.4 350.7h0M607.8 334.6h0M589.6 352.5h0M608.5 328.4h0M599.4 335.6h0M605.1 349.6h0M611.5 334.5h0M608.7 336.5h0M597.3 352.9h0M604.8 339.9h0M608.3 337.1h0M606.1 341.4h0M611.9 314.4h0M611.2 336h0M599.2 339.3h0M601.7 344.5h0M597.9 336.4h0M597.3 345.5h0M599.9 342.4h0M609.5 340.5h0M608.5 349.1h0M611.8 333.9h0M612.9 341.1h0M598.5 346.4h0M609.7 345.5h0M602.8 332.4h0M601.3 342.1h0M608 341.1h0M609.2 334.6h0M610.4 335.9h0M600.4 338.6h0M610.3 337h0M607.6 335.5h0M595.5 342.4h0M593.1 351.9h0M609.4 339.5h0M605.4 342.2h0M599.3 338h0M597.5 332.2h0M606.6 335.9h0M594.3 353.1h0M612.6 334.9h0M614.7 326.7h0M608.9 340.3h0M604.1 348.5h0M604.9 328.4h0M594.5 351.2h0M602.3 337.4h0M597.4 335.6h0M600 335.8h0M604.2 338.3h0M601.2 338.6h0M606.2 325.7h0M603.7 346.4h0M603.8 338h0M605.4 335.6h0M594.9 347.3h0M606 343.1h0M600.3 351.3h0M619.8 337.9h0M612.8 343.5h0M600 338.1h0M593.4 343.1h0M601.8 353.1h0M607.8 337h0M605.1 343.1h0M606.1 335.1h0M598.9 347.7h0M596.1 353.4h0M599.5 334.3h0M611.9 341h0M607.3 340.2h0M603.7 336.3h0M608.9 335.7h0M599.1 351.7h0M602.1 346.6h0M599.7 348.8h0M599.9 344.2h0M616.9 333.9h0M604.2 338.7h0M602.4 342.2h0M609.2 332.6h0M615.9 331.2h0M603.5 330.6h0M607.4 340.9h0M606.9 338.6h0M600.9 331.4h0M603 335.2h0M613 330.6h0M602.2 339.2h0M605.2 343.6h0M602.3 346h0M609.1 331.6h0M599.8 334.2h0M603.2 338.7h0M601.4 344.3h0M600.9 341.2h0M607.2 333.4h0M612.3 325.4h0M601.9 341.5h0M608.4 329.7h0M603.3 350.4h0M604.5 345.7h0M601.6 331.8h0M606.3 331.1h0M608.5 327.8h0M598.5 344.3h0M603.4 342.7h0M607.1 338.3h0M597.6 340.4h0M600.2 343.1h0M605.6 343.1h0M610.6 341.9h0M604.9 339.1h0M604.1 340.8h0M607.9 340.6h0M605.3 332.9h0M594.6 351.3h0M609.9 328.2h0M604.8 349.4h0M607 326.6h0M597.4 342.1h0M600.6 340.6h0M603.1 333h0M609.1 338.1h0M603.8 338.4h0M602.2 337.2h0M611.9 334.5h0M604.8 334.2h0M606 330.4h0M602 344.5h0M598.6 343.4h0M600.9 351.8h0M606.1 325.5h0M611.3 339.4h0M607.6 343.9h0M610.8 331.1h0M610.5 340.8h0M596.6 342.1h0M603 342.5h0M603.3 345.3h0M607.7 333.8h0M603.5 336.4h0M604.5 331.9h0M604.3 338.4h0M615.8 337.6h0M603.7 344.4h0M606.7 333.4h0M606 337.2h0M605 344.4h0M612.1 335.6h0M608.8 338.7h0M604 331.5h0M602.9 344.8h0M598.9 332.5h0M611.3 334.5h0M616.5 338.4h0M610.4 331.8h0M605.2 341.6h0M607.4 340.4h0M603.9 342.8h0M605.3 342.1h0M598.2 340.3h0M604.8 340.3h0M601.1 346.2h0M609.4 345h0M610.1 333.2h0M608.6 344.9h0M617.4 332.5h0M599.7 337.1h0M605.2 343.3h0M616.2 328.3h0M612.4 345.7h0M611.9 331.6h0M601.3 343.5h0M610.5 334.8h0M602.5 342.4h0M607.6 333.8h0M608.2 339.2h0M600.2 346.4h0M604.5 348.8h0M604.1 335h0M601.4 348.4h0M605.5 340.2h0M608.4 345.8h0M606 337.6h0M604.7 337.3h0M601.5 334h0M593.7 344.9h0M600 343.1h0M597.4 343.7h0M603.2 341.2h0M610.3 343.8h0M607.6 331.1h0M614.2 333.7h0M598.6 345.9h0M605.5 342.4h0M602.8 344.8h0M607.3 337.5h0M607.1 341.4h0M601.2 345h0M603.5 344h0M607.4 329.3h0M604.1 346.3h0M606.2 335.3h0M602.2 347.8h0M601 347.6h0M603.6 343.7h0M596.1 340.9h0M602 353.4h0M604.3 332.8h0M606.6 342.4h0M609.2 340.9h0M597.1 344.5h0M601.6 330.6h0M613.8 323.8h0M606.2 336.3h0M605.3 334.8h0M609.5 331.2h0M607.1 355.2h0M616.9 327.3h0M612.2 332.9h0M600.7 340.1h0M603.4 343.4h0M604.6 341.6h0M602.2 352.1h0M607 321.5h0M607.1 346h0M598.6 339.4h0M606.6 342h0M614.1 324.4h0M609.7 323.1h0M605.7 342.9h0M599 346.3h0M609.7 337h0M607.2 329.9h0M611.4 329.7h0M605.7 338.9h0M610.4 328.5h0M599.8 345.5h0M602.8 341.2h0M595.6 347.5h0M606.2 341.5h0M600.7 343.4h0M596.5 349.5h0M605.1 334.3h0M596.7 343.8h0M608.6 337.5h0M603.2 342.6h0M602.6 350.4h0M589.3 344.5h0M608.6 334.7h0M604.5 339.5h0M614.4 329.9h0M608 330.4h0M621.6 317.4h0M611.2 316.3h0M628.8 320.6h0M624.7 323.9h0M629.4 322.1h0M618.6 321.4h0M610 316.5h0M623.8 319.1h0M614.8 315.1h0M625.7 322.1h0M615.1 317.4h0M621.7 317h0M616.3 321.2h0M642.4 334.8h0M623.2 320.7h0M616.1 307.6h0M624.6 326h0M622 325.8h0M625.2 323.6h0M628.5 326.8h0M612.3 319.9h0M624 324.1h0M615.5 320.3h0M616.7 317h0M618.9 319.3h0M625.5 322h0M620.5 322.5h0M631.2 326.3h0M621.2 313.9h0M617.6 313.7h0M617.4 317.3h0M607.5 312.5h0M624.3 323h0M620.2 320.6h0M605.1 318.3h0M617.2 312.4h0M616.6 312.1h0M628.2 322h0M608.6 311.5h0M616.6 314.8h0M622.6 325.7h0M628.2 327.7h0M614.6 319.8h0M621.6 322h0M621.3 314.3h0M619.3 320.8h0M635.8 324.4h0M623.4 326.4h0M617.8 312.7h0M617 322h0M611.7 318.7h0M612.9 312.8h0M627 319.6h0M617.8 314.9h0M626.4 323.7h0M619.1 314.4h0M610.9 319.4h0M616.8 323.8h0M631.5 319.8h0M618.7 313.8h0M611.1 323.1h0M625 322.3h0M609.9 319.2h0M611.1 317.2h0M618 324.6h0M619.8 319.7h0M620.8 324.5h0M611.4 321.4h0M627.4 315.2h0M621.3 316.2h0M607.6 315.4h0M621.7 325.2h0M614.5 321.3h0M623.7 320.5h0M608.5 317.1h0M621.3 321.5h0M632.2 321.7h0M610.4 311.7h0M614.5 318.4h0M625.4 332h0" stroke="#000" stroke-width="0.7" stroke-linecap="square" stroke-opacity="0.5" fill="none"/>

</g>
<path d="M586.5 301.3V355.4M586.5 301.3H639.4M652.2 301.3V355.4" stroke="#666" stroke-width="0.8" fill="none"/>
<line x1="598.5" y1="355.1" x2="639.2" y2="355.1" stroke="#222" stroke-width="1.1"/>
<text x="587.7" y="306.9" font-size="5.8">17.5</text>
<text x="651.1" y="306.9" font-size="5.8" text-anchor="end">3.31</text>
<text x="587.7" y="355.8" font-size="5.8">78.6</text>
<text x="651.1" y="355.8" font-size="5.8" text-anchor="end">0.62</text>
<clipPath id="f21"><rect x="443.1" y="361.1" width="64.9" height="52.8"/></clipPath>
<line x1="471.8" y1="360.6" x2="471.8" y2="414.4" stroke="#555" stroke-width="0.8"/>
<line x1="442.6" y1="389.4" x2="508.5" y2="389.4" stroke="#555" stroke-width="0.8"/>
<g clip-path="url(#f21)">
<ellipse cx="455" cy="382" rx="5.7" ry="5.7" transform="rotate(0 455 382)" fill="#000" fill-opacity="1" filter="url(#fblur)"/>
<ellipse cx="460.5" cy="402" rx="10.5" ry="6" transform="rotate(-63 460.5 402)" fill="#000" fill-opacity="1" filter="url(#fblur)"/>
<path d="M462.9 380h0M454.7 379.1h0M451.9 387.5h0M455.3 381.3h0M459.2 389.4h0M459.3 385.9h0M452.2 387.1h0M458.4 378h0M452.3 384.2h0M450.9 378.1h0M451.2 384.4h0M452 381.3h0M457.2 386.7h0M459.4 385.2h0M457.4 374.9h0M454.9 386.1h0M458.3 380.3h0M457.7 381.9h0M455.6 381h0M451.4 375.7h0M449.6 380.3h0M466.5 375.1h0M457.1 386.4h0M458.8 383h0M456.4 383.9h0M453.8 380.8h0M455.3 382.5h0M456.2 379.2h0M460 384.4h0M453.9 376.5h0M450.3 380.5h0M454.3 378.6h0M458.4 376.9h0M460.3 375.5h0M457.6 377.9h0M448.6 381.1h0M454.2 381.5h0M457.3 380.7h0M450.6 382.4h0M459.4 384.9h0M448.8 378.1h0M452.4 379.8h0M445.7 378h0M450 376.2h0M461.1 382.4h0M455.6 384.3h0M453.8 384.2h0M457.4 383.4h0M455.4 385h0M455.5 380.4h0M455.4 383.3h0M452.1 381.9h0M452.1 381.4h0M456.5 386.4h0M462.5 385.6h0M451.3 380.5h0M445.8 379h0M451 382.1h0M455.8 385.8h0M455.8 376.5h0M453.6 390.4h0M457.5 384.8h0M456.5 373.2h0M454.4 382.2h0M451.1 380.4h0M458.6 382.7h0M455.8 381.3h0M456.1 384.2h0M456 378.7h0M452.6 376.5h0M459.3 382.3h0M460.3 386.9h0M451.2 382.3h0M457.8 375.1h0M456.6 382.7h0M453.5 385.1h0M451.1 383.5h0M460.9 381h0M460.4 380.7h0M455.5 387.2h0M457.8 386.5h0M460.8 389.2h0M452.2 390h0M455.5 384.7h0M455.2 389.4h0M458.1 376.2h0M453 381h0M455.1 383h0M456.9 381.1h0M455 381.8h0M453.8 387.3h0M455.6 383.4h0M457.6 380h0M461.2 382.3h0M460 381.7h0M459.1 382.9h0M452.7 380.1h0M449.3 385.3h0M450.9 375.7h0M459.6 380.5h0M457 381.8h0M449 381.3h0M459.1 380h0M447.2 385.3h0M453.6 382.3h0M452 383h0M450.9 375.9h0M458.3 383h0M460.9 377.7h0M455.8 378.1h0M462.5 379.8h0M457.1 377.5h0M453.7 380.4h0M455.7 382.2h0M459.5 383.6h0M459.9 380.2h0M456.6 375.5h0M458 380.9h0M445.9 382.2h0M452 387.4h0M453 383.2h0M456.1 385.6h0M463.1 383.5h0M453.2 384.3h0M455.1 381.6h0M455.3 377.6h0M458.4 384.2h0M456.1 381.9h0M454.5 384.4h0M452.8 380.5h0M457.2 378.9h0M456.9 381.4h0M455.1 382.9h0M457.4 382.7h0M450.7 379.4h0M454.6 379.1h0M445.6 375.3h0M453.7 384.6h0M459.1 391.5h0M451.9 378.5h0M453.4 382h0M456 388.1h0M454.9 386.8h0M457.1 380.6h0M448.3 383.2h0M454.7 374.5h0M459.4 379.2h0M455.7 386.7h0M457.4 380.8h0M454.3 384.6h0M456.3 380.7h0M458.2 386.5h0M454.5 377.8h0M454.9 375.7h0M453.8 383h0M453 376.8h0M461 380.4h0M457.4 383h0M452.7 388h0M453.9 384.7h0M456.2 384.9h0M448.7 382.1h0M456.1 380.5h0M444.8 378.5h0M453.4 383.3h0M450.8 375.9h0M456.6 382.4h0M453.7 385.6h0M456.3 383.1h0M446.2 386.7h0M452.1 380.7h0M458.2 381.2h0M456.3 383.6h0M463.8 383.3h0M444 379.7h0M453.5 381.6h0M452.5 384.7h0M455.9 383.4h0M452 374.5h0M457.7 380.8h0M452.7 380h0M459.9 374.7h0M457.6 382.2h0M462.7 373.7h0M455.8 380.8h0M449.5 378h0M450.5 379.8h0M455.2 380.6h0M445.3 377.5h0M451.4 380.8h0M460.5 388.3h0M450.2 373.3h0M461 380.6h0M459.5 376.2h0M454.8 377.9h0M451.9 375.7h0M454.3 389h0M451.9 379.6h0M446.8 385.6h0M456.1 382.5h0M453.1 382h0M460.5 374.9h0M452.7 384.9h0M450.6 375h0M449.5 375.5h0M452.6 385.8h0M452.5 375.9h0M452.2 384.5h0M458.4 377.1h0M452 381.4h0M453.9 383.3h0M455.1 383.7h0M455.9 387.5h0M447.7 379.2h0M451.6 380.5h0M450.6 388.1h0M457.4 382.3h0M452.9 382.8h0M453.1 383.4h0M449.1 376.6h0M449.7 386.3h0M456.9 382h0M459.2 387.6h0M454.2 387.1h0M458.4 378.1h0M450.8 384.8h0M452.1 377.5h0M452.9 381.4h0M461.3 380.8h0M460.1 377.2h0M455.8 386.3h0M453 380.6h0M456.9 377.8h0M447.3 377.5h0M453.5 385.3h0M453.5 381h0M454.9 384.7h0M460.6 381h0M456.7 376.6h0M453.4 385.5h0M460.3 380.3h0M451.7 379.4h0M457.4 380.4h0M459.4 377.7h0M453.5 369.6h0M450.1 382.3h0M449.8 385h0M459 376.5h0M455.9 389.2h0M460.6 383.2h0M456.6 385.1h0M453 381.1h0M453.9 376.2h0M455.8 377.5h0M458.6 376.4h0M449.4 380.3h0M454.8 387.4h0M454.5 384.2h0M447.8 376.4h0M452.6 382.5h0M453.3 380h0M451.1 376.8h0M455.8 385.3h0M449.5 384h0M451.6 372.7h0M447.5 376.5h0M455.7 385h0M461.9 380.7h0M453.9 382.9h0M454.9 386.1h0M460.4 382.7h0M458.1 380.1h0M453.2 384.7h0M450.6 385.2h0M454.7 383.2h0M463.3 385.6h0M453.9 380.2h0M449.2 385.4h0M450.7 386h0M458.8 382h0M452.8 382.7h0M453.6 377.7h0M451.7 381.2h0M451.1 378.2h0M460.9 378.5h0M456.8 383h0M453 383.7h0M456.1 384.3h0M456 380.4h0M456.1 377.6h0M454.6 377.6h0M455.6 386h0M460.8 378.3h0M452.6 378.7h0M454.9 379.7h0M451.3 382.8h0M448.6 385.6h0M456.7 384.8h0M451.9 380.7h0M458.5 379.5h0M458.2 382.1h0M454.3 386.1h0M464.2 382h0M449.5 384.9h0M450.7 383.1h0M452.1 390.1h0M457.9 385.9h0M454.4 385.4h0M463 387.8h0M452.7 387.8h0M454.7 373.1h0M450.6 383.5h0M457.3 377.5h0M455.4 385.8h0M457.9 380.1h0M449.5 377.9h0M456.8 376.7h0M456.8 370.9h0M451.3 382.3h0M449.7 386h0M457.7 389.3h0M454.8 384.3h0M454.5 378.5h0M455.1 379.3h0M454.5 386.5h0M453.9 377.1h0M463.9 379.4h0M460.3 387.5h0M458.3 382h0M450.6 384.6h0M458 381.7h0M452.6 389.7h0M452.7 390.9h0M453.6 385.5h0M455.6 374.8h0M454.2 379h0M448.6 380.8h0M454.4 371.7h0M455.6 376.1h0M453.5 376.3h0M457.1 378.3h0M452.4 377.8h0M458.9 383.6h0M454 385.6h0M462.6 383.2h0M452.9 386.4h0M456.7 386.2h0M455.2 376.3h0M455.3 376.2h0M460.2 381h0M456 383.4h0M460 380.2h0M450.5 377.5h0M454.9 378.3h0M455.4 387h0M452.3 386.1h0M446.6 388.9h0M460.7 379.8h0M459.2 378.6h0M452.6 384.6h0M452.2 386.3h0M456.5 382.6h0M457.4 381.8h0M456.9 387.8h0M448.5 382.7h0M455.8 382.1h0M450.4 387.3h0M455.8 386.3h0M456.8 375.7h0M453 382.2h0M456.4 384h0M445.6 387.7h0M456.3 388h0M455 377.9h0M455.6 379.9h0M456.6 381.8h0M454.2 383h0M455.1 383.3h0M451.8 381.2h0M459.8 381.6h0M461.7 387.1h0M460 383.2h0M453.6 384.7h0M453.2 381.8h0M449.9 382.3h0M450.7 376.9h0M461.9 384.3h0M451.4 384.7h0M458.6 383.2h0M452.4 388.5h0M449.1 376.6h0M454.6 384.7h0M453.7 382.4h0M458 384.6h0M462.3 381.4h0M455.1 382.6h0M456.1 383.4h0M458.1 380.8h0M454.5 390.4h0M457.7 382.4h0M464.2 383.4h0M463.2 386.9h0M457.7 384.8h0M459.8 380.7h0M465.6 383.1h0M466.3 382.7h0M464.1 379h0M461.5 381.9h0M463.1 378.7h0M465.4 374.5h0M462.7 390.1h0M467.3 382.6h0M467.5 385.3h0M462.3 386.2h0M464.8 383h0M463.5 387.6h0M463.3 385.8h0M462.1 388.2h0M459.6 371.8h0M461.8 383.8h0M467 378.4h0M470.2 381h0M468.7 384.5h0M459 387.3h0M463.9 383.5h0M458.5 382.8h0M465.6 381.3h0M458.6 380.2h0M457.6 384.9h0M460.8 378.2h0M461.8 384.8h0M467.8 384.9h0M459.1 384.2h0M463.3 378.9h0M461 387.5h0M466.7 380.9h0M466.6 388.4h0M468.2 379h0M456.9 378.3h0M457.3 379.1h0M467.6 386.4h0M463.1 387.3h0M459 385.8h0M466.2 385.2h0M467.5 386.4h0M463.9 384.9h0M466.3 379.8h0M464.4 386.8h0M469.1 379.1h0M462.8 380.1h0M462.3 386.3h0M457.5 384.4h0M456.1 380.4h0M461.7 386.7h0M467.9 379h0M460.6 380.7h0M460 384.3h0M464.6 381.2h0M458.6 381.1h0M462.4 382.6h0M458.4 374.6h0M463 381.3h0M461.1 379.7h0M459.7 379.5h0M464.9 381.9h0M467.3 380.9h0M468.8 381.5h0M465 382.7h0M463 386.1h0M457.2 382h0M467.2 387.3h0M458.9 377.3h0M464.8 385.8h0M461.5 382.5h0M464 385h0M468.6 373.8h0M460.4 375.2h0M464.2 379.4h0M464.5 378h0M465.3 377.3h0M468.9 386.8h0M467.9 375.6h0M467.9 387.2h0M461.2 382.9h0M464.6 376.6h0M459.5 387.7h0M461 382.8h0M455.6 381.7h0M458.7 380.8h0M466 384.2h0M463.2 388.7h0M463.7 389h0M466 385.7h0M460.3 384.8h0M469.7 380.5h0M463.6 383h0M457.4 382.7h0M462.2 378.4h0M464.7 382.2h0M467.2 383.6h0M465.5 393.3h0M463.5 374h0M463.5 383h0M463.4 385.1h0M461.8 384.3h0M459.3 378.8h0M464.2 386.5h0M470 386.4h0M463.9 391.7h0M459.6 379.4h0M463.2 380.1h0M463.7 377.5h0M455.4 383h0M465.3 378.2h0M455.1 387.2h0M463.1 385.3h0M459.7 384.9h0M458.2 379.5h0M464.6 380.8h0M457.2 386.4h0M469.1 388.8h0M460.9 390.3h0M458.7 394.8h0M458 388.1h0M464.4 381.6h0M460.4 380.8h0M456.4 379.4h0M463.9 383.7h0M460.6 382.2h0M462.3 380h0M463.4 384.9h0M457.6 372h0M464.1 378.3h0M455.7 375.3h0M456.8 379.6h0M460.7 383.3h0M466.3 378.6h0M468 382.6h0M459.8 385.1h0M459 385.8h0M466.5 380.3h0M463.2 394.5h0M467 385.3h0M468.7 376.3h0M465.8 384.3h0M459.4 383.9h0M458 384.9h0M468.1 393.5h0M469.8 384.4h0M460.4 392.2h0M463.6 386.8h0M453.8 388.8h0M466.7 382.5h0M459 386.5h0M459.9 389.7h0M464.6 384h0M460.8 382.3h0M467.9 382.9h0M465.2 377.7h0M464.3 379.1h0M464 377.7h0M463.5 382.6h0M464.1 380h0M460.7 366.8h0M459.4 386.9h0M461.8 378.3h0M462.6 384.5h0M463.9 381.8h0M458.1 379h0M463.7 372.2h0M458.5 389.7h0M457.9 383.9h0M465.4 382.2h0M468.3 378h0M456.7 382.5h0M466.5 379.5h0M458.4 378.5h0M459.9 381.4h0M464.6 385.7h0M463.4 386.7h0M457.6 381.4h0M456.7 381.4h0M462.4 386.1h0M467 382.1h0M464.4 383.3h0M466.9 379.3h0M460.7 387.8h0M468.1 374.2h0M456.9 377.5h0M458.4 383.9h0M467.8 386.6h0M458.4 381.5h0M463.8 383.1h0M462.5 389.2h0M468.8 388.8h0M460.5 382.5h0M461.6 382.9h0M467.5 384.3h0M460.6 385.4h0M464.2 392.2h0M465.6 395h0M454.1 404h0M466.5 389.5h0M461.1 399.9h0M456.7 404.2h0M465 399.5h0M469.9 392.4h0M455.2 410.4h0M459.7 394.2h0M470.7 407h0M452.5 405.5h0M455.4 405.1h0M460 400.8h0M468.2 413.7h0M462.9 395.7h0M464.5 398.8h0M461.9 390.7h0M463.7 397h0M458.6 395.8h0M463.7 399.9h0M464.4 392.7h0M456.3 404.2h0M459.5 409.6h0M460.3 395.4h0M468.3 396.5h0M454.4 397.5h0M466 382h0M456.3 401.7h0M453.5 409.2h0M452.4 409.5h0M455.9 398.8h0M459.6 411.9h0M459.4 405.3h0M461.7 396h0M464.7 399.6h0M453.9 407.4h0M466.1 404.4h0M463.1 407.3h0M458.1 390.9h0M455.9 410.4h0M457.7 396h0M461.7 400.3h0M456.1 407h0M452 412.7h0M463.2 401.7h0M461.4 400.7h0M453.2 404.2h0M461.2 398.8h0M464.4 387.3h0M464.8 397.7h0M466.1 397.7h0M465.1 397.2h0M463.4 390.3h0M462.7 400h0M455.6 403.5h0M458.4 406.6h0M459.7 400.5h0M456.8 399.3h0M455.3 402.8h0M457.3 407.4h0M463.9 409.7h0M453.1 412.2h0M452 404.9h0M457.8 402.2h0M450.9 398h0M461 412.2h0M463.2 400.9h0M460.6 393.5h0M458.5 404.3h0M460.6 401.7h0M460.4 393h0M467 399.7h0M462.6 411.7h0M457.6 391.1h0M459.8 401.3h0M462.4 404.8h0M453.7 400.9h0M472.6 408.1h0M464.7 398.7h0M461 403.2h0M471 395.6h0M457.5 405.5h0M447.3 411.3h0M455.2 408.4h0M466.5 391.8h0M462.3 398.8h0M456.9 393.3h0M460.3 410.3h0M467.6 398.8h0M457.5 410.9h0M460.6 397h0M466.8 403.5h0M458.6 405.4h0M458.1 410.1h0M457.1 404.8h0M453.7 408.5h0M458.6 408.5h0M469.4 395.3h0M466.9 397.1h0M461.6 412.6h0M455.7 398.6h0M465.1 402.5h0M466.8 395.6h0M455.6 412.2h0M459.4 407.4h0M462.4 405.2h0M460.3 394.4h0M458.9 399.8h0M458 409.9h0M456.6 410.3h0M462.8 395.7h0M463 380.7h0M458.9 394.2h0M458.2 396h0M460.9 390.8h0M460 397.6h0M454.7 407.2h0M456.1 405.6h0M462.3 406.4h0M464.3 403.7h0M463.2 396.6h0M453.2 413.6h0M455 403.7h0M458 399.2h0M461.8 393.1h0M453 410.6h0M465.1 397h0M459.9 401.2h0M453.5 413.8h0M465.2 404.4h0M475.8 397h0M451.3 404.3h0M466.8 386.6h0M457.6 404h0M465.8 391.5h0M470.9 389.6h0M463 411.6h0M464 398.1h0M463.6 392.4h0M462.5 412.9h0M468.7 389.1h0M467.4 397.8h0M462.8 399.7h0M461.9 391.5h0M454.2 409.9h0M465.4 397.6h0M462.9 390.1h0M456.4 401.2h0M461.3 394.6h0M460.9 397h0M466 404.7h0M448.9 412.4h0M464.2 395.7h0M460.9 398.9h0M460.7 398.2h0M458.7 407.6h0M467 389.5h0M467.3 399.3h0M471 393.5h0M463.8 387.4h0M449.9 408.2h0M452.5 390.2h0M462.8 399.7h0M456.7 393.9h0M463.1 392.4h0M462 395.1h0M463.7 405.5h0M457.2 413.9h0M460.9 399h0M459.7 406.3h0M461.7 402.4h0M459.9 410.5h0M474 392.6h0M471.2 411.2h0M465 391.2h0M460.7 389.9h0M457.6 412.1h0M463.1 413.8h0M462.2 397h0M471.6 396.3h0M466.8 392.2h0M460.5 397.7h0M460.6 395.3h0M458.3 402.2h0M465 394.6h0M456.5 404.8h0M467.7 406h0M462.3 392.1h0M462.4 407.6h0M461.8 401.4h0M468.1 395h0M456.2 394.7h0M459.6 396.9h0M462.9 406.3h0M459.5 408.6h0M458.2 403.8h0M461.9 409.4h0M464.8 385.7h0M455.9 396h0M461.8 398.5h0M469.6 402.5h0M465.9 406.7h0M467.1 394.1h0M462.4 401.1h0M466.4 398.8h0M468.4 399.6h0M462.5 391h0M458.7 406.4h0M464.2 405.4h0M462.5 392h0M460.7 402.4h0M459.7 408.4h0M453.1 397.6h0M459.8 411.1h0M457.7 404.3h0M454.5 391.2h0M459.7 401.6h0M466.4 397.5h0M453.5 408h0M466.2 403.7h0M461.7 402.3h0M463.1 406.1h0M457 407.9h0M463 404.3h0M453.3 406.8h0M460.6 409h0M461.4 394.7h0M454.4 411.9h0M462.9 401.1h0M455.1 404.1h0M460.3 396.4h0M462.5 398.2h0M458.4 397.3h0M465.3 400.8h0M458.2 412.2h0M465.6 410.5h0M462.2 401.6h0M466.9 404.3h0M456.7 407.4h0M472.1 384.8h0M457 407.4h0M468.2 406.5h0M461.5 393.2h0M459.3 409.8h0M468.3 405h0M464.5 388.3h0M457.8 391.5h0M466.9 392.6h0M462.3 397.2h0M463.8 401.4h0M460.7 392.8h0M468.9 397.4h0M469.7 391.8h0M475.2 382.5h0M453.4 399h0M459.2 406.8h0M468.9 390.9h0M456.3 411.2h0M464.5 401.7h0M467 409.1h0M454.9 397.9h0M456 403.1h0M458 392.8h0M464.7 399.5h0M455.5 411.1h0M461.1 411.6h0M455.9 405.9h0M467.5 401.6h0M467.3 406.8h0M459.7 390.4h0M456.8 401.1h0M463.1 410.5h0M468.8 388.1h0M465.4 395h0M461.6 401.2h0M467.6 403.9h0M457.1 411.4h0M459.8 400.9h0M465.7 388.7h0M455.7 407h0M469.6 395.2h0M460.8 402.2h0M460.2 396.5h0M466.8 395.6h0M457.4 399h0M464.4 400.6h0M461.9 395.3h0M456.6 405.2h0M451.6 410.9h0M470.4 397.9h0M466.2 397.2h0M459.5 392.9h0M457.5 406h0M463.1 393.5h0M463.3 391.1h0M451.8 406h0M460.4 398.3h0M454.1 407.9h0M459.2 398.8h0M469.4 402.9h0M467.7 406.6h0M470.1 398.6h0M456.9 393.1h0M462.6 400.7h0M469.3 391.4h0M464.8 389.3h0M463.9 398.5h0M463.2 399.4h0M456.3 401.3h0M452.8 395.3h0M457.4 408.3h0M468.1 402.1h0M465.2 387.1h0M468.9 402.6h0M462.1 395.1h0M455.3 406.7h0M466.6 397.8h0M453.1 411.1h0M461.6 400.7h0M453.2 397h0M462.4 401.6h0M462.5 403.2h0M461 392h0M468.6 398h0M457.5 405.3h0M468.5 406.8h0M456.4 397.8h0M457.1 404.8h0M462.6 392.7h0M463 408.2h0M463.5 399.3h0M458.3 400.7h0M455.7 398.8h0M458.9 396.9h0M455.8 387.9h0M459.3 403.5h0M467.9 401.3h0M456.2 413.4h0M463.5 393.1h0M461.5 403.2h0M456.9 406.8h0M467.5 399.9h0M469.2 398h0M461.8 404.7h0M464.3 398.1h0M476.6 391.1h0M462.1 405.5h0M459.7 397.7h0M456.1 407.2h0M454.6 408.5h0M466.1 385.4h0M460.8 410h0M468.6 388.6h0M472.1 400.6h0M444.3 393h0M452.2 412h0M455 409.8h0M458.1 403.8h0M458.4 398.7h0M457.4 398.4h0M458.3 408.1h0M458.9 405.6h0M453.6 404.6h0M461.1 400h0M466 403.8h0M459.1 398.3h0M460.3 399.6h0M465.2 402.6h0M452.9 400.1h0M459.9 402.1h0M459.5 400.2h0M467 392.5h0M462.9 402.5h0M464.1 397.6h0M463.1 399h0M470.2 394.1h0M467.6 393.9h0M450.2 410.6h0M456.7 406.1h0M457.1 402.8h0M451.8 411.1h0M468.9 388.9h0M455.4 405.7h0M467.3 398h0M458.9 403.7h0M451.4 403.2h0M458.6 399.5h0M471.5 380h0M458.9 394.2h0M465.7 396.2h0M457.3 405.9h0M463.1 399.3h0M458.5 399.3h0M464.5 409.9h0M457.5 407.9h0M454.8 396.5h0M466.5 390.4h0M453.7 407.2h0M462.7 388.7h0M465.1 406.6h0M464 409.5h0M470.3 407h0M455.5 404.5h0M471 395.1h0M469.1 399.9h0M454.6 411.5h0M454.6 402.3h0M459.3 402.7h0M463.8 396.7h0M458.3 411.6h0M460.8 403.2h0M462.3 392.4h0M453.9 404.7h0M456.7 401.5h0M459.6 395.1h0M453.1 408.5h0M456.4 414h0M463.3 410.5h0M467 393h0M465.7 403.9h0M468.1 400.9h0M457.7 406.7h0M461.5 402.8h0M455.3 400h0M456.6 403.8h0M457.4 409.6h0M465.3 395h0M462.2 403.4h0M457.7 400.2h0M465.4 401.8h0M453.3 408.1h0M454.8 407.9h0M462.8 395.3h0M469 391.7h0M451.9 400h0M447.9 411.4h0M461.4 408.1h0M458.1 398.2h0M471.8 398.6h0M467.7 396.9h0M464.4 393.7h0M471.1 389.6h0M460.4 393.8h0M466.7 399.4h0M459 397.4h0M456.5 407.5h0M468.3 396h0M457.7 404.3h0M461.8 400.1h0M463.8 399.5h0M446.9 393.1h0M468.9 409.5h0M459.1 408.2h0M458.7 397.9h0M465.5 395.1h0M467.2 396.2h0M457.2 400.9h0M466.1 388.3h0M466.8 410.7h0M451 395.8h0M455.3 397.3h0M453.8 409h0M472.6 393.4h0M460.6 401.6h0M462.3 408.7h0M463.3 402.9h0M458.7 393.9h0M465.2 401.6h0M451 401.1h0M467.6 394.2h0M462.3 413h0M464.6 395.4h0M464.6 402.5h0M459.5 397.7h0M460.4 397.3h0M462 413.6h0M456.1 407.6h0M462.3 400.9h0M457.7 395.1h0M444.6 404.5h0M466.9 400.5h0M453.8 410.3h0M466.8 405.1h0M454.9 408.2h0M458.7 410h0M452.4 405.3h0M467.4 399.8h0M462 400.2h0M455.8 411.1h0M469.4 397.4h0M450.1 401.8h0M456.3 406.3h0M455.3 394.4h0M460.5 401.8h0M459.4 393.7h0M466.3 400.1h0M464.4 393.5h0M453.5 409h0M461 403.1h0M461.8 405.7h0M470.1 396.9h0M456.6 399.9h0M463.5 390.6h0M462.2 401.7h0M462.7 395.8h0M458.5 383.5h0M460.1 407.3h0M461.9 406h0M465.2 400.4h0M472.7 404h0M462.1 402.8h0M457.1 396.9h0M456.8 404.3h0M460.3 400.9h0M456.3 406.9h0M458.2 411.4h0M455.7 399.7h0M468.5 403.1h0M468 401.1h0M457.5 408.6h0M467.5 401.5h0M452 413.3h0M457.6 408.9h0M471.6 395.1h0M458.5 400.3h0M456.3 399.6h0M462.3 405.8h0M455.3 409h0M455.6 398.5h0M473 388.9h0M464.1 397.9h0M458.7 414.1h0M461.4 395.8h0M457.1 409h0M461.6 402.6h0M464.1 409.2h0M464 408.2h0M460.6 405.2h0M457.1 407.7h0M470.5 402.8h0M455.1 405.2h0M461.4 401.5h0M463.2 404.4h0M467 401.9h0M458.7 395.8h0M472.6 383.7h0M468.2 388.4h0M458.3 401.5h0M466.6 398.6h0M465.3 390.9h0M463.5 402.7h0M450.1 404.9h0M459.9 401.5h0M464.3 407.8h0M460.5 402.7h0M463.6 397.5h0M464.5 404.3h0M459.6 391.3h0M464.4 407.2h0M459.2 407.7h0M459.7 401.7h0M467.1 400.5h0M455.8 404.5h0M455.2 402h0M452.6 403.8h0M462.5 393.1h0M464.9 407.2h0M449.4 407.3h0M461.4 405.8h0M458.4 403.3h0M451.8 404.3h0M468.8 400h0M463.5 396.6h0M453.6 403.2h0M454.9 390.8h0M462.1 391h0M456.2 402.1h0M457.4 410.1h0M464.1 396.7h0M462.1 405.1h0M457.1 408.2h0M458.4 395.9h0M461.2 401.4h0M454.8 404.9h0M462.5 402.1h0M458.8 405.5h0M461.8 395.4h0M456.5 396.2h0M453.5 396.8h0M464 399.6h0M459.2 399.6h0M461.2 399.3h0M454.1 412.8h0M456.3 400.1h0M460.9 394h0M458.4 399.3h0M457.1 395.7h0M456 403.6h0M460.5 395.3h0M462.4 405.6h0M467.8 390.1h0M462.9 410.2h0M464.7 403.9h0M464.7 402.8h0M459.5 408.4h0M462.5 406.4h0M458 402h0M459.3 409.4h0M461 394h0M462.9 380.2h0M459.9 407.6h0M466.3 398.3h0M472 387.4h0M461.8 401.9h0M456.8 402.4h0M457.4 411.2h0M463.1 394.2h0M472.3 400.5h0M456.4 411.8h0M462.5 401.8h0M470.7 388.1h0M465.6 394.9h0M456 408.4h0M471.4 387h0M459.9 409h0M459.2 396.2h0M460.2 401.5h0M461.8 400.4h0M460.5 396.8h0M457.8 394.3h0M469.2 401.4h0M456.8 400.2h0M467.8 395.2h0M463.4 400.2h0M463.6 400.5h0M471.9 397.7h0M462.9 397.4h0M463.6 402.1h0M463.4 406.5h0M455.9 403.7h0M457.8 403.7h0M454 411.3h0M453.1 405.8h0M458.1 404.8h0M466.2 391.7h0M461.6 408.7h0M454.5 402.5h0M462.2 398.8h0M452.7 406.2h0M458.7 412.6h0M456.4 408.4h0M455.1 392.8h0M454.9 400h0M453.5 404.4h0M454.9 407.6h0M459.4 409.5h0M448.7 412.5h0M459.3 386.9h0M458.8 406.3h0M456.1 403h0M455.9 400.5h0M463.8 390.2h0M469.6 410.1h0M463.2 399.2h0M457.7 403.3h0M462.3 411.9h0M459.5 405.3h0M465.5 394.1h0M459.3 397.7h0M457.5 407.4h0M466.8 403.6h0M460 400.4h0M460.1 397.8h0M460.8 400.8h0M461.4 391.9h0M458.7 404.7h0M458.8 398.6h0M459.5 409.5h0M455 409.2h0M459.8 397.5h0M457.8 403.4h0M462.2 399.4h0M451.7 403.4h0M456.9 400h0M459.7 387.3h0M459.9 398.8h0M457.7 403.5h0M458.7 401.8h0M462.7 397.7h0M459.7 401.3h0M462.5 398.7h0M472.1 395.8h0M459.7 401.5h0M456.3 408.9h0M459.4 394h0M459.5 393.1h0M458.3 393.2h0M456.5 400.9h0M454.5 410.3h0M462.8 411.4h0M456.9 412.3h0M470.9 399.8h0M461.3 400h0M453.6 400.9h0M471.2 394h0M453.6 406.9h0M471.8 406.4h0M457.2 394.1h0M462.1 407.9h0M464.7 399.1h0M465.4 399.7h0M456 411.9h0M458.6 412.5h0M456.5 395.3h0M463.1 396.9h0M471.8 396.2h0M459.7 408.9h0M463.3 404.1h0M459.5 409.8h0M450.4 398.5h0M449.1 406.4h0M461 404.2h0M458.5 394.3h0M466.6 403.6h0M457.7 407.6h0M456.5 413.4h0M471.3 401.4h0M457.5 408.7h0M466.1 396.3h0M466.1 398.8h0M455.3 412h0M464.6 409h0M452 405.8h0M462.8 395.2h0M462.9 410.3h0M460.9 394.3h0M465.1 391.4h0M458.8 410.8h0M461.6 403.5h0M461.7 401.3h0M466.4 389.8h0M456.4 412h0M469.4 408.3h0M452 396.9h0M456.6 407.8h0M461.3 404.7h0M454.8 409.2h0M454.8 412.2h0M452.5 404.8h0M457.6 402.4h0M467.5 406.9h0M458.3 408.4h0M453.9 411.3h0M465.7 397.4h0M447.4 410.4h0M458.2 410.1h0M447.9 414h0M470.7 384h0M467.1 379.6h0M474.2 383.2h0M471.9 383.7h0M468.3 386.3h0M471.2 374.3h0M467.3 373.6h0M466.2 379.7h0M470.4 377.7h0M467.2 384.8h0M469.5 376h0M466.3 390.1h0M469.8 390.9h0M469.7 378h0M469.3 382.7h0M468.1 372.4h0M470.7 372.4h0M470.6 387.4h0M470.7 388.7h0M471.6 381.6h0M469.4 368.4h0M467.5 379.2h0M468.4 384.8h0M470.1 375.3h0M469.9 376.2h0M470.7 380.9h0M467.2 381h0M472.3 372.4h0M475 382.5h0M474.1 375.3h0" stroke="#000" stroke-width="0.7" stroke-linecap="square" stroke-opacity="0.5" fill="none"/>

</g>
<path d="M442.6 360.6V414.4M442.6 360.6H495.7M508.5 360.6V414.4" stroke="#666" stroke-width="0.8" fill="none"/>
<line x1="454.6" y1="414.1" x2="495.5" y2="414.1" stroke="#222" stroke-width="1.1"/>
<text x="443.8" y="366.2" font-size="5.8">24.5</text>
<text x="507.4" y="366.2" font-size="5.8" text-anchor="end">0.075</text>
<text x="443.8" y="414.8" font-size="5.8">75</text>
<text x="507.4" y="414.8" font-size="5.8" text-anchor="end">0.11</text>
<clipPath id="f22"><rect x="515.1" y="361.1" width="64.6" height="52.8"/></clipPath>
<line x1="543.8" y1="360.6" x2="543.8" y2="414.4" stroke="#555" stroke-width="0.8"/>
<line x1="514.6" y1="389.4" x2="580.2" y2="389.4" stroke="#555" stroke-width="0.8"/>
<g clip-path="url(#f22)">
<ellipse cx="530.5" cy="382.6" rx="8" ry="3" transform="rotate(0 530.5 382.6)" fill="#000" fill-opacity="0.8" filter="url(#fblur)"/>
<ellipse cx="532.5" cy="400.8" rx="9.8" ry="5.8" transform="rotate(-54 532.5 400.8)" fill="#000" fill-opacity="1" filter="url(#fblur)"/>
<path d="M535.3 381h0M535 376.6h0M526.8 386.6h0M529 383.9h0M524.7 386h0M536.7 385.5h0M528.6 383.8h0M525.2 383.7h0M518 383.9h0M535.1 381.7h0M539.9 382.3h0M542.6 381.4h0M526.1 382.3h0M553.1 378.6h0M528.7 381.7h0M535.9 378.8h0M543.9 377.9h0M541.5 382h0M524.7 384.5h0M520 382.5h0M522.5 379.3h0M522.4 382.3h0M542.2 381.6h0M540.1 381h0M535.8 384.4h0M529.7 384.5h0M533.2 383.5h0M519.7 383.1h0M542.4 377.8h0M530 382.4h0M531.8 383.4h0M534.9 381h0M529.8 379.9h0M520 380.1h0M529.6 381.8h0M527 380.8h0M536.1 382.3h0M531.7 388.2h0M528.7 383.1h0M535.2 377.2h0M527.1 382.7h0M534.9 380.9h0M531.1 383.3h0M534.5 381.4h0M535.5 384.2h0M524.2 374.5h0M533.2 386h0M529.4 387.5h0M521.2 382.9h0M535.2 380h0M530.1 382.7h0M536 385.9h0M531.6 379.3h0M541.3 383.9h0M538.5 378.6h0M531 378.9h0M527.4 384.5h0M534.4 385.9h0M524.7 386.5h0M531.6 384.5h0M535.5 383.6h0M533.1 378h0M532.5 382.3h0M527.7 379.6h0M522 387.4h0M528.7 380.6h0M534.4 380.2h0M523.7 383.1h0M529.5 382.7h0M533.4 380.7h0M527.1 383.1h0M528.7 382.2h0M535.4 382.9h0M538.1 380h0M530.5 381.5h0M520.9 383.8h0M530.8 379.9h0M536.6 383.7h0M543.9 380.9h0M526.4 381.1h0M524.2 380.6h0M518.6 383.8h0M528.3 382.2h0M529.9 378.8h0M537.4 384.4h0M540.3 382.1h0M527.6 380.1h0M529.6 385.3h0M537.5 384.3h0M525.8 379.3h0M536 382.3h0M532.6 384.9h0M523.7 387.4h0M532.9 385.3h0M537.7 382.6h0M524.5 383.3h0M528.5 384.6h0M531.6 382.2h0M541.8 384.4h0M529.9 380h0M523.7 383h0M530.7 385.3h0M525.6 385.2h0M526.5 385.5h0M549.9 384.5h0M538.3 382.8h0M528.6 383.5h0M538 382.1h0M533.3 384.6h0M534 385.5h0M547.8 382.5h0M532.3 386.5h0M520.8 381h0M532.1 383.2h0M541.3 386.4h0M532.8 382.8h0M528.8 382.8h0M538.4 388.1h0M535.7 386.4h0M535 380.3h0M526.8 383.2h0M527.2 385.3h0M523.8 381.3h0M522.2 386.6h0M524.9 383.2h0M518.6 383.3h0M522.5 380.1h0M533.8 380.5h0M530.5 381.5h0M523.8 382.9h0M528 383.6h0M532.9 380.4h0M528.4 383.4h0M539.7 378.8h0M533.7 384.9h0M530.1 384.2h0M535.4 379.6h0M539.4 380.5h0M525.4 386.4h0M537.8 384.7h0M528.4 382.5h0M529.2 385.5h0M532.9 383.3h0M517.7 378.1h0M528 382.7h0M534.7 385h0M539.3 379.3h0M539.6 382.1h0M531.3 379.4h0M535.1 385.3h0M528.9 387.1h0M532.9 381h0M534.6 384.1h0M535.2 382.8h0M545.2 381.1h0M518.7 384.7h0M540.1 391.5h0M522.9 381.1h0M530.9 382.9h0M522.2 381.7h0M527.8 378.5h0M532.3 382.3h0M529.8 381.6h0M535.6 380.1h0M537.5 382.7h0M538.3 378.2h0M537.9 381.2h0M527.2 379.1h0M519.9 382.8h0M533.4 384.2h0M523 379.8h0M533.4 382.5h0M536.6 382.6h0M524.2 385.5h0M535.4 382.5h0M520.1 385.9h0M534.9 380.5h0M529.7 387.1h0M532.9 384.9h0M535.6 382.7h0M523.7 383.5h0M532.1 379.2h0M531.9 385.1h0M531.1 383.9h0M539.6 388h0M534.7 378h0M530 380.7h0M530.7 379.5h0M533.1 379.4h0M528.9 381.6h0M537.6 379.6h0M526.4 381.8h0M527.5 380.4h0M533 386.8h0M527.3 378.3h0M537.6 382.5h0M528.9 382h0M524.5 378.7h0M529.8 382.8h0M529.5 380.2h0M535.1 386.5h0M524.5 384.2h0M525.2 381h0M528.6 380.7h0M532 385.4h0M533.1 380.5h0M532.9 384.4h0M528.9 383.7h0M522.6 383.2h0M533.8 382.6h0M530.6 384.1h0M521.9 386.1h0M535.1 385.2h0M519.8 384.8h0M540.2 378.3h0M531.6 381.4h0M544.5 386.9h0M531.9 383.4h0M524.4 380.4h0M534.3 384.9h0M524.9 384.1h0M528.8 383.6h0M527.6 380.8h0M542.9 377.1h0M541.9 383.6h0M530.6 380.5h0M526.2 381.6h0M534.8 380.9h0M527.9 381.1h0M534 381.2h0M534.7 382.1h0M522.5 384.7h0M521.9 385.2h0M540.2 389.5h0M517.4 382.1h0M534.1 384.9h0M515.4 382.5h0M537.5 382.5h0M526.2 384h0M534.1 383.2h0M531.2 381.4h0M534.1 380.3h0M533.1 384.6h0M537.5 385.1h0M530.4 386h0M522.3 383.6h0M540 384.8h0M533.3 385.1h0M549 380.3h0M524 381.8h0M521.7 382h0M536.2 382.2h0M539.3 382.7h0M526.8 385.1h0M527.7 382.7h0M523.2 386.9h0M521.8 381.1h0M526.7 381.4h0M537.1 384.8h0M535.1 385.5h0M532.5 382.2h0M536.1 379.9h0M537.2 382.3h0M528 383.8h0M531.2 381.6h0M533.7 384.3h0M545.6 381.2h0M524.6 380h0M527.6 386.1h0M536.6 381.7h0M533.9 383.9h0M526 383.8h0M527.6 385.4h0M539.3 381h0M527.3 385.1h0M538.6 387.1h0M539.2 383.3h0M532.3 378.9h0M542.1 383.1h0M520.3 384.3h0M537.5 384.1h0M534.2 382.2h0M536.8 380.6h0M527.4 383.2h0M528 382.6h0M532.6 383.1h0M536.4 385.2h0M522.1 386.2h0M532.4 384.4h0M530.6 379.5h0M538 384.2h0M530.8 388.4h0M526.5 379.4h0M528.6 387.1h0M532.7 379.1h0M521.4 384.9h0M528.8 383.5h0M527 384.2h0M528.4 381.7h0M531.5 381.2h0M525.1 382.2h0M539.3 382.5h0M531 384.5h0M527.8 385.9h0M523.5 388.8h0M531.6 381h0M533.4 382.7h0M526.4 383.3h0M525.7 384.1h0M534.7 381.8h0M543.2 382.2h0M537.5 381.4h0M523.6 383.3h0M535.1 380.2h0M535.4 383.2h0M531.3 382.6h0M521.1 379.5h0M525.5 384.5h0M528.7 382.6h0M518.4 384.8h0M527.2 383.5h0M538.8 379.2h0M523.5 380.4h0M530.1 385.9h0M530.7 381.5h0M527.1 384.1h0M531.9 385.9h0M534.1 383.1h0M524.6 382.7h0M526.8 382.1h0M524.1 386.8h0M528.6 383h0M541.1 381.8h0M526.2 379h0M529.4 379h0M532.1 382.9h0M543.7 383.8h0M535.4 383.4h0M534.5 381.4h0M528.9 381.7h0M538.3 383.3h0M530.1 381.6h0M535.4 379.7h0M525.9 381.6h0M537.5 384.1h0M531.7 380.2h0M525.6 385.3h0M539.3 381.6h0M532.9 382.7h0M536.4 380.5h0M529.5 382.4h0M544.9 387.3h0M528.9 376.8h0M540.1 384.5h0M538.6 385.8h0M539.2 377.8h0M530.3 376.7h0M535.2 377.6h0M541.1 389.4h0M540.9 380.2h0M535.9 389.6h0M536.1 383.9h0M531.6 376.7h0M542.2 384.1h0M543.5 384.8h0M541 385.6h0M533.9 383.5h0M538.1 380.9h0M539.3 377.9h0M535.9 378.7h0M537.5 383.8h0M536.3 380.9h0M535.9 374.9h0M537.7 378.7h0M535.2 375.3h0M538.2 378.7h0M534.7 379.7h0M545.8 377.5h0M538.4 384h0M536.1 387.9h0M532.8 371.2h0M539.1 383h0M539.4 385.6h0M533.1 381.1h0M541.3 377.5h0M536.8 383.9h0M539 384h0M540.3 382.8h0M536.2 381.5h0M531.5 384.4h0M537.5 380.5h0M547 389.3h0M543.8 387.4h0M534.7 383.2h0M543.3 381.8h0M537.7 382.3h0M540.5 382.6h0M536 388.6h0M538.8 380.5h0M531.7 383.2h0M545.4 381.1h0M540.7 379.4h0M536.4 382.2h0M537.3 382.6h0M533.5 380.2h0M526.9 386.7h0M528.7 377.6h0M541.4 378.2h0M536.5 384.9h0M542.1 388.7h0M544.5 378.7h0M534.1 379.7h0M534.1 385.5h0M534.3 383.9h0M541.6 385.5h0M540.1 381.6h0M540.4 385.8h0M532.6 379h0M537.3 390.7h0M536.3 382h0M533.1 370.9h0M534.3 386.4h0M532.1 381.8h0M539 376.6h0M537.2 381.7h0M543.9 384.9h0M540.3 376.8h0M532.4 381.6h0M538.7 384.6h0M538.3 384.2h0M541.2 378.6h0M541.1 377.4h0M535.2 381.1h0M539.4 379.5h0M540.6 379.4h0M544.4 373.8h0M538.4 383.7h0M538.3 381.7h0M539.8 379.3h0M542.8 381.3h0M539.6 378h0M542 384.9h0M537.6 379.2h0M534.3 378h0M534.3 376.1h0M535.9 388.2h0M535.7 373.7h0M528.2 400.7h0M534.5 396.2h0M525.2 397.9h0M523.4 406.5h0M533.7 400.6h0M528.5 406.1h0M535.5 405.5h0M525.9 399.2h0M523.2 398.8h0M524.5 392.7h0M538 399.3h0M544.9 388.6h0M531.3 397.1h0M527.7 414.1h0M530.3 392.1h0M527.9 410.8h0M540.8 400.3h0M537 399.3h0M528 402.1h0M534.6 394.1h0M538.2 399.1h0M526.5 399.5h0M525.9 405.3h0M541.7 386.4h0M542.8 402.5h0M534.8 397.9h0M537.9 396.1h0M532.3 402.6h0M528.9 399.8h0M527 406.9h0M533.9 391.6h0M535.8 395.6h0M542.8 395h0M520.9 396.3h0M543.7 395.8h0M532.5 402.7h0M530.8 401.9h0M528.1 399.7h0M531.8 414.2h0M528.8 400.1h0M527.5 404.5h0M531.5 402.3h0M533.5 406.8h0M541.1 394h0M528.5 403.2h0M539.4 405.5h0M531.5 397.2h0M530.3 403.4h0M531.4 409.6h0M522.9 409.3h0M530.6 412.4h0M532.5 404.2h0M532 397.7h0M541.3 398.3h0M535.1 394.4h0M535.8 398.5h0M540.5 390.7h0M527.6 394.2h0M535.1 406h0M533.2 402.5h0M541.4 388.9h0M533.7 398h0M526 407.1h0M534 401.9h0M536.2 394.5h0M532.8 391h0M531.8 398.8h0M535.2 397.4h0M528.2 397.2h0M529.3 408.6h0M530.1 400.7h0M536.9 403.6h0M532.1 399.5h0M527 404.1h0M529.3 409.1h0M530.4 404.7h0M530.7 400.8h0M538.7 399.2h0M545.4 389.1h0M531.5 405.5h0M533.7 390.7h0M545.8 398.4h0M524.5 404.5h0M541.9 398.8h0M525.9 412.7h0M530.7 403.9h0M527.6 405.7h0M528.6 411.8h0M527.2 395h0M529.3 403.3h0M524.3 412.2h0M528.2 409.6h0M541.5 391.9h0M533.2 399.6h0M538 403.2h0M536.8 400.7h0M535.6 399h0M529.8 408h0M532.6 396.1h0M539.5 392.8h0M534.6 395.7h0M538.8 401.4h0M536 403.9h0M539.5 408.8h0M527.7 398.4h0M535.5 402.5h0M534.9 403.9h0M526.3 407.8h0M532.1 402.8h0M529.1 401.5h0M531.5 395.2h0M526.3 402.4h0M536.5 397.6h0M536.8 393h0M542.8 387.4h0M529.7 392.9h0M539.9 399h0M531 400.3h0M532.9 408.9h0M527.6 407.7h0M538.9 392.6h0M528.5 404.2h0M542.6 396.1h0M537.6 397.2h0M529.5 391.6h0M536.2 406.2h0M538.8 397.7h0M530.7 394.4h0M529.4 393.7h0M538.4 411.8h0M548.1 388.6h0M537.5 395.8h0M526.7 409.1h0M533.1 401.7h0M533.2 403.2h0M536.8 407.2h0M526.2 405.7h0M532.5 407.7h0M533.1 402.7h0M531 411.8h0M538.4 392.8h0M530.4 406.5h0M527.9 401.7h0M537.5 396.4h0M530.6 397.7h0M532.7 410.4h0M537.7 391.5h0M531.5 402.5h0M540.7 403.2h0M544.5 395.3h0M529 403.3h0M534.7 405.9h0M535.7 404.8h0M532.1 400.7h0M538.2 390.5h0M544.6 394.6h0M534.7 391.5h0M529.4 403.5h0M538.6 402.3h0M535.4 408h0M531.1 400.7h0M536.1 400.2h0M532.3 404.2h0M528.9 390h0M529.3 403.8h0M536.7 396.6h0M525.3 410.9h0M529 404.1h0M530.2 393.3h0M538.5 402.3h0M530.6 397.3h0M530.4 408.2h0M527.5 405.8h0M539.3 397.7h0M534.3 387.1h0M534.2 402.2h0M532.9 399h0M536.9 399h0M528.9 403.3h0M539.5 402.9h0M530 399.8h0M528.8 402.6h0M535.8 395.8h0M537.7 390.9h0M535.6 388.2h0M537.3 401.1h0M535.5 402.3h0M527.7 409.4h0M531.5 409.3h0M528.3 407.6h0M529.3 406.4h0M529.7 394.4h0M538.2 398h0M540 402.3h0M538.6 398.5h0M530.8 388.8h0M530.1 408.1h0M536.5 404.3h0M532.2 406.3h0M533.1 394.1h0M531.5 403.5h0M530.9 413.1h0M530.7 412.7h0M524 406h0M536.3 396.8h0M539 399.8h0M527.2 406.1h0M527 405.8h0M527.3 409.1h0M531.6 394.9h0M532.8 399.2h0M525.8 399.5h0M534.6 399.1h0M531.3 398.4h0M532.1 411.7h0M535.6 397.7h0M541 393.6h0M532 396.9h0M522.6 411.4h0M543.6 391.9h0M526.1 405.9h0M537.5 399.8h0M526.2 399.7h0M534 398.7h0M532 396h0M531.3 400.2h0M537.7 404.7h0M532.7 402.9h0M537.2 395.7h0M535 395h0M543 393.9h0M543 391.3h0M530 399.7h0M524.2 408.9h0M522.5 403.2h0M522 403.6h0M527.4 404.5h0M539 397.2h0M541.8 392.7h0M530.3 399.2h0M530.4 411.7h0M538.6 404.3h0M532 396.4h0M540.2 388.4h0M542.9 392.1h0M529.8 399.9h0M530.9 400.8h0M527.4 406.8h0M539.8 399.8h0M523.7 400.9h0M532.8 408.1h0M532.8 405.4h0M525.9 405.9h0M541.9 395.8h0M529.3 398.8h0M536 393.6h0M527.2 400h0M533.1 392.4h0M547.1 400.8h0M539.6 396.5h0M522.9 413.5h0M533.2 397.1h0M541.8 399.2h0M534.7 398.1h0M523.2 400.6h0M539.8 403.2h0M529.3 403.5h0M525.6 408.9h0M549.4 389.2h0M532.9 403h0M544.9 389h0M526.3 410h0M527.7 394.3h0M531 399.5h0M532 391.3h0M537.8 404.8h0M534.9 403.6h0M526.3 410.7h0M535.2 400h0M527.4 405.8h0M525.2 406.7h0M526.9 408.2h0M532 395.4h0M521.2 398.7h0M528.6 405.2h0M524.4 407.6h0M529.6 401.3h0M539.7 395.3h0M530.4 404.3h0M532.9 413.2h0M545 387.8h0M518.1 414.3h0M534.3 399.4h0M532.2 404.5h0M535.7 392.3h0M526.6 403.1h0M536.4 396.6h0M529.8 398.3h0M536.9 395.1h0M535.2 406.8h0M531.2 400.2h0M533 407.2h0M539.2 390.9h0M531.8 405.3h0M532.2 402.4h0M533.7 398.5h0M531.9 398.9h0M530.3 393.8h0M532.5 395h0M530 407h0M528.2 414.2h0M528.2 403.4h0M526.4 399.4h0M537.1 394.3h0M537.3 392.2h0M537.2 399h0M540.2 401.3h0M532 399.3h0M537.1 390.2h0M528.7 404.5h0M547.2 394.2h0M533.5 396.4h0M536 399h0M535.2 391.5h0M529.9 408.8h0M531 408.4h0M527.4 409.2h0M540.5 391.6h0M528.1 399.7h0M528.5 405.5h0M539 389.4h0M531.5 401.3h0M528.7 400.5h0M532.3 398.4h0M527.7 401.1h0M529.9 402.4h0M529.1 389.8h0M521.6 413.3h0M531.5 390h0M535.5 402.1h0M530.7 406h0M544.7 389.7h0M536.5 408.1h0M532.5 399.9h0M524.7 408.6h0M535.7 408.1h0M528.3 407h0M545.8 384.7h0M537.3 404h0M533.3 400.7h0M524.2 399.2h0M529 390.6h0M531.5 393.7h0M544.2 402.2h0M527.2 402.6h0M540.1 394.7h0M533.9 410.2h0M523.5 401.9h0M530.1 398.9h0M543 401.1h0M537.4 402h0M538.5 398.7h0M533.4 405.9h0M528.3 405.3h0M534.4 401.2h0M528.5 411.2h0M531.4 407.6h0M530 395.8h0M536.1 391.6h0M528.5 403.9h0M529.5 408.3h0M532.3 404.7h0M539.1 400.1h0M531.8 394.6h0M527.9 403.4h0M537.3 393.5h0M535.1 392.6h0M529 401h0M540.9 389.6h0M527.8 410.1h0M531.8 405.5h0M530.2 398.6h0M532.5 390.4h0M528 394.8h0M531.2 401.6h0M539.5 393.8h0M524.5 397.7h0M543.2 396.9h0M536.4 387.8h0M534 403.2h0M537.9 409.2h0M534.1 404.6h0M536.5 394h0M532.1 412h0M535.3 394.4h0M539 394.5h0M523 406.6h0M532 405.1h0M533.4 400.8h0M528 394.3h0M538 396.7h0M530 400.7h0M529 398.6h0M532.5 399.3h0M532.6 393.3h0M535.1 403.6h0M522.5 403.4h0M539.8 411.9h0M537.1 397.7h0M539.8 386.4h0M534.5 392.4h0M530.3 399.9h0M532.7 400h0M534.9 386.3h0M530.1 402.3h0M541.3 400.8h0M532.7 399h0M524.3 404.7h0M533.2 397h0M546.6 392.4h0M524.3 409.8h0M544.8 396.5h0M523.3 403.2h0M536.2 399.4h0M529.5 414h0M533.9 403.4h0M530.1 398.3h0M532.2 396.4h0M530.7 392.5h0M531.9 402h0M531.7 404.9h0M528.6 397.9h0M530.2 403.9h0M534.9 401h0M540.4 407.9h0M527.4 412h0M522.7 408.3h0M534 398.3h0M528.4 395.6h0M540.8 401.2h0M538.9 406.9h0M529.5 402.2h0M522.5 404.7h0M528.3 400.2h0M521.1 393.7h0M534.1 407.9h0M534.4 404.4h0M534.3 389.8h0M534.8 397.5h0M538.6 397.7h0M534.8 385.4h0M526.1 402.8h0M530.2 396.3h0M536.9 393.3h0M525.9 402.1h0M531.3 395.9h0M532.5 396.7h0M532.7 406.3h0M532.6 395h0M527.1 398.5h0M530 403.3h0M535.2 404.9h0M531.7 398h0M527.4 406.7h0M524.7 394.8h0M538.1 393.4h0M535.9 392.8h0M530.8 405.4h0M532.9 399.5h0M536.5 405.6h0M543.3 396.9h0M537.7 411.1h0M541.8 388.3h0M525.3 402.2h0M524 400.9h0M540.8 391.6h0M538.8 397.8h0M536.5 398.6h0M530.6 394.9h0M536.9 387.4h0M545.1 390.3h0M533.4 398.5h0M526.2 393.6h0M539 394h0M538.6 387.5h0M527.3 395.1h0M523 402.5h0M531.5 399.6h0M534.2 398.8h0M535.2 402.5h0M524.7 405.5h0M533.2 399.9h0M515.3 413.5h0M533.4 391.1h0M517.3 412.5h0M534 393.1h0M520.8 403.1h0M528.5 406.7h0M523.2 407.2h0M547.7 394.1h0M537.7 404.9h0M533.6 407.3h0M533.9 400.2h0M525.4 402.4h0M530.9 391.2h0M533.1 402.2h0M537.5 390.9h0M535 392.4h0M537.6 400.6h0M531.1 401.3h0M525.1 409.3h0M542.2 401.7h0M526.7 403.9h0M525.3 413.2h0M526.9 412.1h0M530.5 409.5h0M532.4 402h0M535.7 396.6h0M532 403.4h0M542.3 389.6h0M534.5 401.3h0M531.8 394.4h0M538.8 396.1h0M531.5 407h0M532.1 401.7h0M533.6 404.4h0M528.3 400.5h0M533.7 385.6h0M530.9 400.6h0M538.6 395.4h0M529.9 406.1h0M530.6 402.4h0M527.7 407h0M533 404.5h0M524.8 403.3h0M530.3 401.6h0M536.7 401h0M537.9 398.2h0M537.6 393.2h0M527.7 405.7h0M528.8 405h0M537.2 406.7h0M532.5 401.1h0M536.5 402.9h0M529.8 397.4h0M537.6 389h0M530.2 403.5h0M524 412.6h0M533.8 402h0M528 405.5h0M540.3 384.8h0M539.2 404.1h0M528.5 406.1h0M528.6 407.3h0M541.7 390.4h0M536.9 396.8h0M529 401.3h0M528.6 403.2h0M545.5 374.4h0M543 398.3h0M531.3 397.8h0M526.3 409h0M533.5 400.8h0M540 396.7h0M533.2 400.1h0M529.4 395.9h0M529.5 410.8h0M527.6 393.4h0M529.3 395h0M536.2 410.3h0M529.2 403.2h0M537.8 398.6h0M537.9 400.4h0M537.5 404.6h0M524.3 404.4h0M525.8 409.8h0M532.6 399.5h0M531.7 401.6h0M533.3 396.1h0M520.4 413.6h0M531 395.8h0M534.8 405.5h0M536.5 400.4h0M534.2 399.1h0M534.1 408.8h0M537 395.2h0M546.5 393.2h0M531.5 405.2h0M538 402.3h0M547.4 396h0M537.5 399.4h0M539.3 390.7h0M535.7 397.5h0M539.6 379.8h0M534.3 394.6h0M531.1 404.6h0M525.8 390.3h0M535.4 406.9h0M521.9 411.8h0M528.3 404.3h0M537.4 409.7h0M536.6 395.2h0M528.9 400.4h0M529 402.9h0M536.1 399.3h0M533.2 391.5h0M531.1 401.1h0M533.4 409.6h0M531.2 397.9h0M533.5 405.2h0M528.5 402.4h0M539.3 399.6h0M521.3 398.2h0M529.5 402.1h0M532.6 397.7h0M540.7 390.7h0M534 395.5h0M529.9 389.6h0M519.2 410.1h0M530.2 399.7h0M534.9 407.1h0M531.2 409.2h0M536.9 402.4h0M525.7 410.4h0M532 394.4h0M527 404.8h0M539.7 403.9h0M520.7 400h0M528 401.4h0M531 404.2h0M533.5 398.5h0M534.5 391.5h0M543.5 387.4h0M543 407.9h0M535.5 401.5h0M522.2 400.1h0M527.4 398.3h0M532 401.7h0M532.1 398.1h0M537.3 407.6h0M537 396.3h0M533 408.6h0M534 400.7h0M527.9 402.6h0M536.3 400.7h0M525 407.3h0M518 413.5h0M534.2 398.8h0M530.4 398.3h0M524.3 400.1h0M530.2 402.7h0M538.3 401.7h0M539.3 399.7h0M530.1 404.3h0M549 390.2h0M532.4 401.1h0M539.7 408.6h0M536.8 397.5h0M532.8 402.5h0M537.3 394.7h0M524.2 405.5h0M527.1 387h0M536.1 397.3h0M521.5 407.7h0M527.3 410.5h0M526.9 413.3h0M533.3 404.7h0M536.9 388.2h0M539.1 402.8h0M538.2 394.1h0M536.5 393.8h0M532.2 393.4h0M532.3 403h0M523.8 399.1h0M538.3 396.8h0M536.3 406.3h0M527.1 402.8h0M533.8 404.2h0M532.3 401.3h0M547.5 391.1h0M527.9 408.7h0M525.9 399.7h0M529 404.4h0M534.2 397.8h0M536.7 399.9h0M526.2 413.2h0M523.4 398.8h0M539.6 389.1h0M528.1 411h0M528 399.8h0M532.6 402.7h0M534.8 407.6h0M525.8 402h0M528.8 405.1h0M538.6 398.6h0M536.6 391.5h0M531.4 412.4h0M522.4 411.5h0M539.2 385.6h0M530.4 397.4h0M531.8 403.4h0M536.9 396.2h0M532.4 400.8h0M531.4 406.9h0M529.5 404.6h0M532.8 399.8h0M527.8 405h0M542.9 398.6h0M538.2 403.9h0M534.7 398h0M543.3 401.9h0M540.8 402.4h0M537 407.8h0M532.2 400.9h0M532.2 406.7h0M532.4 394.7h0M526.6 406.9h0M527.4 400.9h0M527.7 400.1h0M541.2 389.4h0M528.4 395.6h0M532.9 396.2h0M528.5 389.5h0M531.6 400.8h0M531 398.9h0M533.1 401.5h0M531 399.9h0M529 407.5h0M532.4 392.8h0M537.2 399.7h0M518.8 408.3h0M529 410.8h0M532 404.4h0M528.4 407.7h0M542.5 385.8h0M535.3 400.7h0M517.6 409.9h0M540.2 403.3h0M533.9 402.1h0M527 397.7h0M539.6 397.8h0M543 398.1h0M527.6 395.6h0M530.8 405h0M526.9 410h0M530.8 403.5h0M529.3 411.1h0M534.2 400.2h0M534.8 390h0M535.5 397.1h0M533.8 400h0M527 402.8h0M529.9 406.3h0M524.1 402.6h0M543 394.4h0M533.6 401.8h0M532.5 403h0M531.9 401.5h0M535.6 396.1h0M531.1 400.9h0M536.5 396.9h0M537.4 400.9h0M533.2 395.2h0M531.9 401.5h0M539.2 396.3h0M533.9 407.2h0M533.4 404.1h0M523.9 405.5h0M535.6 397.1h0M532.5 398.2h0M531.4 409h0M534.2 407.6h0M527.9 405.2h0M523.6 402.3h0M532.6 399.6h0M534.5 404.9h0M525 397.2h0M527.1 401.7h0M531.5 405.2h0M528 399.6h0M531 394.5h0M536.2 399.6h0M532 406.7h0M540.4 394.2h0M527.5 403.3h0M541.7 397h0M529.5 405.6h0M526.8 401.6h0M529.9 408.6h0M536.3 401h0M530.4 413.2h0M533.1 399.1h0M546 370.7h0M549.2 376.9h0M548.7 379.1h0M545.8 379.9h0M542.4 377.4h0M550.5 375.4h0M542.5 371.7h0M545.2 370.7h0M543.1 381.1h0M548.4 377.2h0M545.6 382.3h0M535.9 371.4h0M554.1 371h0M548.2 370.8h0M543.6 377.1h0M547.4 373.3h0M555 390h0M536.3 364.1h0M540.2 378.7h0M545.6 373h0M550.9 375.8h0M541 374.8h0M546.1 378h0M549.9 370.3h0M538.4 370.3h0M551.9 375.6h0M539.5 383.9h0M536.6 378h0M539.2 374.5h0M551.7 376.6h0M549.1 375.1h0M544.2 380.2h0M541.1 376.4h0M543.6 378.2h0M547.4 381.5h0M544.5 370.7h0M538.2 367.9h0M554.3 375.9h0M543.3 377.2h0M541.5 372.5h0M548.3 386.5h0M545.7 373.2h0M540.1 364.7h0M542.5 381.2h0M543.5 377.3h0M538.7 375.7h0M543.4 367.2h0M536.4 380.6h0M554.6 379.6h0M536.1 371.2h0M549.9 375.8h0M540.1 370.7h0M538.5 376.3h0M553.5 377.6h0M553.6 376.1h0M556.1 383.1h0M545.9 382.4h0M546 375.2h0M542.9 377.8h0M550.9 371.4h0M539.7 372.2h0M553.3 378.4h0M541.7 362.4h0M546.5 374.4h0M544.7 374.6h0M548.3 372.5h0M547 376.8h0M552.6 371.9h0M555.9 381h0M547.4 376.5h0M546.9 393.1h0M532.8 366.9h0M561.2 383.9h0M537.6 369.1h0M548.2 372h0M550.3 373.7h0M536.9 368h0M547.3 369.7h0M544.7 377.6h0M541.5 365h0M545.2 389.5h0M550.9 372.6h0M539.8 365.3h0M554.9 386.5h0M557.6 379.1h0M548.1 371.8h0M548.3 374.4h0M550.7 377.3h0M554.6 373h0M554.2 376.3h0M551.4 371.1h0M544.9 373.3h0M534.7 371.4h0M538.6 371.6h0M552.4 373.3h0M544.7 368.9h0M543.4 369.7h0M543.6 375.6h0M544.4 378.2h0M556.2 372.7h0M556.3 371.9h0M556 376.6h0M552.8 380.8h0M532.6 373.6h0M542.6 381.9h0M540.3 374.8h0M546.2 371.1h0M544.6 374.4h0M540.6 365.6h0M547.7 368.3h0M538.5 362.1h0M553.2 384.1h0M545.2 376.2h0M548.5 375.7h0M554.3 376.5h0M539.8 378.8h0M538.2 363h0M546.1 381.4h0M544.5 367h0M541.3 369.5h0M549.3 370.9h0M543.3 370.8h0M553.4 375.2h0M540 363.5h0M540.2 373.2h0M545.2 373.6h0M555.6 388.4h0M529.9 370.1h0M539.5 369.9h0" stroke="#000" stroke-width="0.7" stroke-linecap="square" stroke-opacity="0.5" fill="none"/>

</g>
<path d="M514.6 360.6V414.4M514.6 360.6H567.4M580.2 360.6V414.4" stroke="#666" stroke-width="0.8" fill="none"/>
<line x1="526.6" y1="414.1" x2="567.2" y2="414.1" stroke="#222" stroke-width="1.1"/>
<text x="515.8" y="366.2" font-size="5.8">16.5</text>
<text x="579.1" y="366.2" font-size="5.8" text-anchor="end">0.37</text>
<text x="515.8" y="414.8" font-size="5.8">79.8</text>
<text x="579.1" y="414.8" font-size="5.8" text-anchor="end">0.32</text>
<clipPath id="f23"><rect x="587" y="361.1" width="64.7" height="52.8"/></clipPath>
<line x1="615.8" y1="360.6" x2="615.8" y2="414.4" stroke="#555" stroke-width="0.8"/>
<line x1="586.5" y1="389.4" x2="652.2" y2="389.4" stroke="#555" stroke-width="0.8"/>
<g clip-path="url(#f23)">
<ellipse cx="597" cy="380" rx="5.2" ry="4.6" transform="rotate(-25 597 380)" fill="#000" fill-opacity="1" filter="url(#fblur)"/>
<ellipse cx="603.5" cy="400.7" rx="11.2" ry="6.2" transform="rotate(-53 603.5 400.7)" fill="#000" fill-opacity="1" filter="url(#fblur)"/>
<path d="M594.9 372.7h0M606.5 380.9h0M597.6 378.9h0M599.5 374.1h0M601.1 388.6h0M594.1 382.9h0M593.5 375.6h0M596.9 377.2h0M594.8 380.2h0M596.3 384h0M600.3 381.5h0M598 378h0M596 380.4h0M596.9 378.4h0M599.7 385.3h0M592.3 381.6h0M593.4 377.4h0M594.9 380.9h0M598.7 381.8h0M597.1 383.1h0M599.2 378.5h0M599.2 382h0M602.1 384.8h0M603.5 378.3h0M601.8 378.7h0M593.2 381h0M595.3 377.9h0M593.1 379.5h0M593 373.8h0M595.8 378.4h0M591.6 376.9h0M595.6 379.7h0M601.1 382.4h0M596.1 376h0M596.3 375.6h0M598.2 377.8h0M600.3 374.9h0M599.2 381.6h0M595.1 385.9h0M596 379h0M596.7 377h0M599.1 377.9h0M599.9 381.9h0M592.9 380.9h0M595.1 379.6h0M596.8 381h0M601.6 379.7h0M596.4 382.1h0M596.7 379.8h0M600.2 384.4h0M590.8 379h0M599 377.5h0M597.6 373.7h0M599.3 376.2h0M597.1 379.1h0M598.9 384.3h0M591.8 378.4h0M595.9 380.6h0M595.9 382.1h0M595.5 377.8h0M597.3 375.7h0M592.8 383.1h0M599.8 378h0M604.4 382.4h0M594.9 387.2h0M593 380.5h0M598.1 378.6h0M599.1 377.9h0M598.6 371.4h0M598.9 377.3h0M601.8 379.1h0M595.9 383.2h0M601.9 382.5h0M592.2 381.5h0M600.3 377.5h0M602.3 380.8h0M601.6 382.5h0M592.8 379h0M596.1 378.7h0M595.3 381.8h0M597.4 381.7h0M598.4 386.8h0M602.5 379.3h0M597.1 379.4h0M593.6 384.7h0M598.1 379.4h0M607.6 379.5h0M600.4 381.9h0M600.1 378.3h0M599.7 384h0M592.1 375.8h0M597.8 384.1h0M600.2 387.8h0M605.3 375.3h0M598.6 381.7h0M598.8 376.4h0M600.4 375.9h0M598.9 380.4h0M596.5 377.2h0M592.5 382.8h0M598.7 380.5h0M596.2 380h0M594.8 382.9h0M598.4 380.9h0M597.5 374.7h0M592.6 380.2h0M600.9 378h0M599.1 383.7h0M591.9 380.3h0M594.3 383.4h0M602.8 381.3h0M602 376.3h0M602.9 371.8h0M592.8 380.2h0M596.9 377.5h0M595.2 384.4h0M607.8 382.1h0M601.4 378.2h0M594.3 377.8h0M595.3 380.4h0M595.5 381.8h0M592.2 382.9h0M598 378.9h0M600.7 383.6h0M601.7 378.3h0M589.1 379.2h0M597.1 380.2h0M591.7 379.9h0M601.4 383.7h0M591.3 375.6h0M596.3 381.1h0M597.4 382.5h0M594.2 384.5h0M595.4 390h0M601 386.2h0M597.4 387.9h0M597.7 384.4h0M597.2 385.6h0M592.1 376.3h0M595 381.2h0M593.6 386.2h0M594.5 380h0M601.3 382h0M600 375.4h0M597.3 378.8h0M593.9 381.1h0M598.1 388.3h0M599.3 377.4h0M599.7 379.8h0M599.2 376.6h0M598.7 374.8h0M593.9 375.8h0M599.7 375.1h0M593.8 383.8h0M594.6 381.1h0M604.5 384h0M592.8 382.1h0M599.7 383.7h0M601.9 376.7h0M594.2 376.2h0M597.5 380h0M601.4 382.9h0M602.2 372.7h0M596.2 374.4h0M597.6 381.2h0M597.4 377.3h0M591.9 374h0M603.5 382.4h0M594.7 384h0M590.6 383.2h0M593.7 372.9h0M595.2 373.8h0M598.2 376h0M592.1 379.1h0M597.8 380.6h0M595.6 383.4h0M602.7 382.1h0M595.6 383.9h0M603.6 376.4h0M592.7 381.4h0M598 380.2h0M595.8 379.7h0M596.2 378.3h0M598.1 385.8h0M601 384.6h0M601.6 380.4h0M594.2 381h0M593.4 386h0M597.6 382.3h0M593.3 381.4h0M592.6 381.9h0M594.3 378.8h0M591.9 379.5h0M598.3 377.5h0M599.4 382.4h0M598.4 376.4h0M593.9 383.5h0M599.8 381.3h0M601.2 378.3h0M596 378.6h0M606.3 385h0M602.9 382.8h0M600.9 383.2h0M594.3 380.4h0M591.7 376.9h0M606.1 380.1h0M591.8 380.7h0M594.6 381.2h0M597.1 385.9h0M603.7 379.9h0M602.2 379.8h0M595.9 384.3h0M598 380.5h0M601.5 381.8h0M600.9 377.5h0M591.7 379.8h0M602.6 382h0M597.5 379.4h0M601.6 377.6h0M595.7 380h0M592.6 376.3h0M599 378.3h0M595.9 388.6h0M601.3 380h0M595.7 378h0M599.3 370.8h0M598.3 383h0M599.4 379.1h0M598.4 375.5h0M597.7 376.2h0M604.2 378.7h0M595.2 377.9h0M608.1 375h0M595.5 379.8h0M592.9 383.4h0M604 374.2h0M592.8 379.6h0M593.1 374h0M593.9 375.8h0M591.5 384h0M596.1 382.8h0M600.9 383.6h0M604.8 381.6h0M593.4 385.6h0M595.6 379.5h0M601.9 377.9h0M590.8 375.4h0M600.8 378.1h0M591.3 380.2h0M598.1 381.4h0M592.3 386.3h0M604.3 375.8h0M602.8 378.8h0M599.6 383.3h0M593.9 377.3h0M592.1 380.4h0M595.7 378.9h0M596.2 380.7h0M598 376.8h0M597.4 377.9h0M596.3 380.5h0M597.6 376.6h0M598 385.5h0M594.9 378.4h0M595.1 388.3h0M602 386.5h0M590.3 375.8h0M601.2 374.5h0M594.1 387h0M600.6 386h0M600.4 376.3h0M594.7 385.7h0M594.8 383.3h0M596 374.9h0M588.4 380.8h0M601.6 384.3h0M593.7 377.7h0M599.2 381.2h0M596.8 380.5h0M602.4 377.2h0M594.2 377.7h0M594.7 380.8h0M594.8 376.7h0M594.7 378h0M598.2 382.3h0M596 378.9h0M599.1 382.7h0M594.6 375.6h0M595 376.2h0M600 386.7h0M598.6 378.6h0M595.1 385.2h0M586.7 380.1h0M590.5 379h0M598.7 381.6h0M601.4 382.8h0M600.9 384.6h0M592.2 378h0M589.9 379.1h0M599 381h0M589.2 385.5h0M593.1 375.6h0M598.6 381h0M588.9 378.9h0M595.7 378.6h0M597.3 378.9h0M596.8 387.8h0M592.4 379h0M590.4 386.2h0M593.3 380.3h0M598.5 381h0M595.1 378.2h0M595.9 382.9h0M598.4 378.8h0M605.3 377.2h0M596.7 378.1h0M592.1 379.6h0M592.7 381.5h0M590.5 382.4h0M594.2 375.8h0M595 382.2h0M594.6 379.5h0M593.5 380.9h0M596.7 384.5h0M593.5 382.7h0M592.6 384.6h0M599 377.1h0M592.8 375.4h0M604.1 376.8h0M602.1 384.3h0M597.2 380.3h0M594.2 379.7h0M602.3 381.4h0M599.5 378h0M595.5 376.8h0M594.5 385.6h0M599.2 377.3h0M601.2 383.7h0M599.7 376.8h0M602.5 376.3h0M598.4 383.1h0M596 378.2h0M588.3 383.8h0M597.8 381.2h0M604.5 378.5h0M596 382h0M595.4 383.5h0M602.3 378.3h0M603.9 379.2h0M599.4 379.2h0M599.1 380.1h0M606.5 385.2h0M595.2 385.6h0M606.1 376.3h0M592.8 374.7h0M600.9 370.2h0M602.3 385.8h0M609 382.5h0M602.8 382.4h0M605.8 380.6h0M606.4 380.9h0M610.7 372h0M618 370.4h0M604.3 384h0M603.8 371.4h0M592.7 382.1h0M603.6 378.9h0M599.6 377.7h0M607.6 381.8h0M603.1 383.6h0M600.8 378.5h0M599 378.2h0M601.8 376.1h0M604.6 369.8h0M606.1 377.5h0M596.8 375.4h0M607.1 376.5h0M610.4 377.4h0M602 382.2h0M611 377.3h0M608.7 374.8h0M604.1 376.2h0M608 373.9h0M603.7 383.9h0M609.7 380.8h0M597.1 377h0M600.4 381.2h0M601.8 367.9h0M610.1 381.6h0M599.5 376.4h0M601 382.1h0M608.8 371.8h0M596.8 372.5h0M606.1 371.2h0M605.7 380.7h0M599.6 383.2h0M603.4 380.5h0M605.1 379.4h0M605.7 375.1h0M599.5 382.5h0M608.9 377.2h0M606.8 377h0M600.5 377h0M603.5 377.6h0M605.6 382h0M597.3 375.8h0M603.3 379.2h0M603 379.1h0M604.3 375.6h0M608.1 378.8h0M599.9 377.4h0M598.3 381.1h0M617.3 370.5h0M602.8 377h0M594.5 381.2h0M612.9 381.3h0M602.3 384.2h0M600.7 370.1h0M599.1 377.4h0M612.2 378.1h0M613.2 382h0M611.1 379.1h0M606.2 376.6h0M608.6 371.2h0M600.9 380.9h0M606.9 375.6h0M615.3 377.2h0M605.1 380.5h0M599.9 389h0M607.3 375.7h0M595.5 377.8h0M594.3 387.1h0M613.2 380.2h0M600.5 385.7h0M596.8 372.5h0M609.2 379.8h0M601.7 377.9h0M601 379.9h0M611 381.1h0M596 384.3h0M602.4 376.5h0M594.5 379.5h0M600.9 379.6h0M590.8 373.7h0M600.1 373.3h0M605.7 372.9h0M598.1 373h0M601.2 372h0M608.6 373.8h0M609.8 376.7h0M600.1 377.3h0M602.3 384.9h0M607.4 376.7h0M596.8 390.8h0M604.6 367.7h0M607.4 375.1h0M603.9 381.6h0M607.7 372.7h0M605.7 390.5h0M598.8 380.5h0M608.8 379h0M598.9 376.2h0M603.6 386.3h0M607.2 381.5h0M606.7 376.1h0M607.2 377.4h0M610.4 375.7h0M611.2 369.7h0M607.8 374h0M606.5 376.8h0M605.7 375.3h0M606.8 375.3h0M597.7 383.6h0M600.8 372.6h0M612.6 372.1h0M603.7 377.1h0M614.6 377.3h0M597.7 377.2h0M601.8 376.5h0M607.6 375.2h0M605.8 383.3h0M610.1 381.1h0M597.1 382.5h0M604.6 384.2h0M612 377.6h0M605 368.7h0M597 383h0M609.6 385.4h0M606.6 376.6h0M604 373.7h0M603.6 377.4h0M602.6 381.3h0M606.3 379.8h0M606.1 378.5h0M614.8 370.4h0M603.8 379.2h0M606.1 378.6h0M605.4 385.5h0M605.7 368.5h0M600.6 375.7h0M601.4 376.3h0M609.7 372.9h0M602.3 374h0M611.8 371.3h0M604.3 377.7h0M612.3 372.1h0M597.6 378.3h0M603.2 383.3h0M603.1 379.9h0M599.4 382.8h0M598.5 379.5h0M594.5 382.9h0M605.9 384.4h0M605.4 376.3h0M610.5 374.2h0M601.3 381.8h0M611.2 376.2h0M611.5 376.9h0M599.8 378.3h0M609.9 376h0M596.9 382.4h0M600.5 380.5h0M600 382.2h0M614.8 380.9h0M597.7 376.2h0M598.8 387.6h0M605.8 373.2h0M597.9 379h0M601.5 372h0M602.6 381.9h0M607.2 370.2h0M600 379.4h0M602.7 383.3h0M603.7 384.8h0M606 380h0M602.4 380h0M600.1 380.1h0M608.1 381.5h0M598.9 374.9h0M615 376.5h0M604.7 373.8h0M604.1 370.9h0M601.8 380.8h0M602.7 382.4h0M614.6 379.8h0M603.5 367h0M603.2 385.9h0M608.9 373.9h0M607.3 374.5h0M609 374.2h0M603.3 379.1h0M605.3 377.1h0M603.3 373.6h0M610.1 377.1h0M599.2 377.7h0M601.1 379.1h0M606.3 373.7h0M603 378.2h0M601.7 374.7h0M598.1 381.1h0M610.6 376.8h0M604.9 374.7h0M607.5 373.8h0M607.8 360.7h0M606.3 375.9h0M607.7 370.9h0M609.7 376.6h0M609.9 412.9h0M600.4 404.9h0M603.9 402.1h0M602.9 402.4h0M598.2 404.4h0M609.9 409.2h0M606 400.5h0M605.8 387.3h0M620.8 382.3h0M607.9 403.8h0M603 399.7h0M602.5 404.6h0M608.1 411.4h0M611.8 388.5h0M607.4 397.2h0M598.4 398h0M601.4 405.8h0M609.5 394.6h0M607.6 397.4h0M601.9 413h0M598.3 412.2h0M604.7 398.4h0M611.1 378.6h0M610.8 392.1h0M608.4 398.9h0M604.1 404.1h0M593.2 401.5h0M601.1 412.6h0M594.5 402.7h0M594.3 394.8h0M598.7 392.6h0M605.4 403.8h0M604.2 392.5h0M607 409.8h0M604.9 411.1h0M608.5 402.2h0M605.2 383.1h0M607.4 397.2h0M611 399.7h0M625.2 387.4h0M599 402.8h0M607.4 404.1h0M603.2 391.4h0M611.4 398.8h0M598.7 405.5h0M612.6 392.9h0M592.6 396.3h0M590.4 411.1h0M600.3 403.4h0M593.1 412.7h0M606.8 397.7h0M601.5 409.1h0M595.7 400.6h0M598 407.8h0M602.2 396.5h0M609.2 405.9h0M614.1 394.7h0M598.9 397.8h0M609.1 400.5h0M608.6 398.5h0M606.6 394.3h0M598.5 403.3h0M607.5 394.6h0M609.2 385h0M618.5 389.9h0M597.5 400.5h0M603.8 404.1h0M598.6 404.9h0M601.5 402.4h0M603.5 398.6h0M606 400.7h0M605.9 390.1h0M599.7 401.5h0M610.6 396.3h0M609.7 395.8h0M599.8 414.2h0M608.6 397.2h0M603.2 406.2h0M598.8 403.6h0M601 400.8h0M604.6 404.9h0M600.6 401.8h0M606.8 403.8h0M612.8 376.7h0M610.8 394.1h0M601.3 401.2h0M607.3 390.9h0M615.5 391.1h0M601.6 405.3h0M606.3 395.9h0M603.7 403.9h0M610.4 392.8h0M614.8 382.6h0M604.6 394.1h0M613.5 400h0M595.8 399.7h0M610.5 400.4h0M613.5 399h0M599.8 397.2h0M589.1 397.9h0M607.6 396h0M607.5 396.7h0M612 387.4h0M610.3 396.1h0M606.6 386.4h0M616.9 389.7h0M609.4 393.7h0M609.6 381.5h0M605.1 403.9h0M606.6 404h0M607.6 396.3h0M613.8 383.1h0M593 412h0M594.1 408.9h0M604.7 390.2h0M603.4 399.2h0M607.3 391.7h0M616.3 398.1h0M607.5 410.1h0M597.6 405h0M604.9 398.2h0M611.3 390.5h0M602.8 400.1h0M605.4 394.8h0M608.4 395.5h0M607.6 401.1h0M600.2 395.9h0M605.8 392.2h0M606 401.6h0M598.6 410.2h0M606.4 399.6h0M595.3 400.8h0M600.9 400.8h0M598.1 397.8h0M608.6 401.3h0M597 411.1h0M603.1 392.1h0M607 399.5h0M605 402.8h0M608.6 395.6h0M600.2 407.1h0M596.4 402.7h0M609.1 402.3h0M606.2 403.2h0M614.2 392h0M613.1 388.8h0M613.4 395.1h0M607.1 400.1h0M603.9 398.9h0M602.6 407.5h0M604.4 403h0M603.9 396.3h0M595.5 403.5h0M608.4 400.9h0M601.7 404.2h0M601.2 413.9h0M598.7 402.6h0M607.3 392h0M610.9 397.2h0M612.8 397.1h0M605.3 408.2h0M603 399.1h0M603.6 403.4h0M610.6 406.1h0M603.5 408.8h0M600.3 408h0M601.2 408.4h0M604.5 390.9h0M597.8 408h0M597.7 401.7h0M598.8 408.3h0M609.6 399.4h0M607.8 396h0M617.1 395.4h0M610.1 404.4h0M600.1 408.2h0M594 397h0M593.4 412.3h0M622 379.2h0M603.6 395.3h0M596.3 408.4h0M602.9 401h0M606.5 401.3h0M597.2 409.6h0M607.8 395.6h0M603.5 406.4h0M611.6 413.5h0M601.2 403.9h0M611 406.7h0M613.2 392.9h0M606.1 397.7h0M605 396.7h0M612.3 400.4h0M600.1 403.6h0M604 402.5h0M599.1 411.9h0M596.5 405.7h0M605 400.7h0M620.1 390h0M597.2 409.2h0M599.3 402.4h0M614.2 407.6h0M599.3 401.1h0M602.1 397.4h0M606.4 405.1h0M594.2 393.4h0M612.3 396.6h0M603.5 399h0M598.7 399.1h0M609.2 406.1h0M603.8 398.9h0M595.8 401.7h0M604.2 399.4h0M607.9 394.6h0M598.6 394.5h0M593.5 410.6h0M605.7 405.5h0M612.4 401.2h0M598.9 398.9h0M596.2 404.5h0M604.3 395.2h0M612.8 386.9h0M608.2 407.9h0M601.1 412.4h0M608.9 395.4h0M605.8 409.5h0M602.8 394.5h0M604.5 400.5h0M604.1 397.4h0M604.7 400.1h0M607.6 390.3h0M609.1 402.8h0M607.4 392.2h0M619.2 386h0M597.8 406.9h0M598.7 404.6h0M605.1 404.4h0M609.9 402.8h0M618.3 392.6h0M605.6 403.8h0M594.7 409.5h0M600.1 405.6h0M602.2 402.9h0M609.8 402.8h0M604.6 407.3h0M595.4 397.9h0M595.3 401.7h0M600.4 408.2h0M607 400.8h0M603.1 406.2h0M607.7 405.7h0M594.7 409.6h0M595.6 409.2h0M606.5 404.9h0M599.3 409.5h0M609.5 399h0M600.6 396.4h0M598.6 404.1h0M605.2 399.4h0M602.5 407.8h0M610.9 394.9h0M596.1 390.6h0M603.9 391.2h0M598.3 411.9h0M602.1 406.6h0M614.3 390.6h0M597.4 409.7h0M605.1 389.9h0M608.6 388.3h0M606.8 394.2h0M606.3 406.5h0M594.6 404.7h0M624.5 383.9h0M613.8 388.3h0M589.8 414h0M611.8 404.1h0M593.6 405.1h0M608.5 388.1h0M607.2 384.6h0M605.8 404h0M601.1 395h0M606.1 399.7h0M615.5 387.9h0M610.1 391.7h0M606 404.8h0M606.1 407.8h0M602.4 399.1h0M601 402.2h0M599.2 399.5h0M600.8 402.2h0M607.4 401.8h0M610.1 390.5h0M597.8 401.3h0M615.9 400.6h0M609.9 393.6h0M602.2 403.2h0M609.8 400.7h0M609.9 386.6h0M600.4 400.2h0M602 401.5h0M587.2 406.9h0M608.9 398.2h0M614.2 386.9h0M611.2 392h0M606.2 391.4h0M595.1 410.2h0M605.8 395.9h0M606.2 402.4h0M609.1 404.9h0M599.8 405.7h0M602.6 400.4h0M603.5 387.7h0M601.4 401.9h0M610.7 403.3h0M600.3 404.2h0M597.1 406.3h0M607.4 407.4h0M603.7 405h0M609.5 404.5h0M603.7 405h0M605.2 391h0M601.8 392.3h0M611.2 397.8h0M600 410.3h0M598.2 404.5h0M607 407.9h0M604.6 395.5h0M613.7 393.5h0M595.1 401h0M602.6 411.9h0M598.3 405.5h0M607.5 402.8h0M602.4 389.3h0M598.4 395.3h0M608.4 408.3h0M595.1 403.9h0M602.1 400.8h0M602.3 398.3h0M600.7 394.4h0M601.5 410.8h0M607.6 401.7h0M601.9 405.8h0M606.4 405.9h0M598.2 403h0M605.8 404.4h0M605 399.1h0M595.8 404.8h0M607.5 392.7h0M598.9 410.1h0M611.2 412.6h0M617.5 390.7h0M602 397h0M610.7 395.9h0M606.6 389.2h0M604.4 401h0M597.9 402.8h0M601.5 392.3h0M607.2 401.9h0M614.3 392h0M617.7 382.1h0M600.6 395.4h0M604.7 391.5h0M603.5 399.7h0M601 395.2h0M600.9 399.4h0M611 396.2h0M599.1 400.9h0M600.8 404.5h0M610.9 388.4h0M613.1 391.1h0M601.3 406.8h0M611.5 393.8h0M598.6 402.4h0M611.4 397.8h0M609.2 397.9h0M604 411.1h0M603.8 401.4h0M603 393.5h0M604.2 401.4h0M598.9 410.7h0M602.9 404.5h0M596.9 399.6h0M614.5 386.1h0M611.1 386.7h0M606.2 410.3h0M599.1 406.6h0M605.7 406.6h0M593.8 405.6h0M594.6 400.5h0M605.9 394.1h0M610.7 399.7h0M605.6 403.3h0M612.1 392h0M605.3 409.2h0M610.9 383h0M611.4 401.4h0M605.6 413h0M596.5 407.5h0M596.8 396.7h0M593.4 408.7h0M592.9 414.3h0M601.9 404h0M602.4 390.4h0M602.2 399.9h0M603.6 410.8h0M604.4 395h0M601.3 401.1h0M605.9 404.8h0M598.3 409.7h0M600.7 396.4h0M603.1 392.7h0M598.2 398.8h0M613.1 397h0M597.9 397.3h0M601.5 403.4h0M596.2 406.9h0M601.4 399.1h0M602.4 404.3h0M619.9 385h0M610.4 390.8h0M598 394.9h0M598.2 413h0M603.4 400.6h0M612.9 410.7h0M609.8 384.6h0M599.4 411.3h0M604 394.5h0M603.5 400.9h0M602.4 392.3h0M604.8 403.2h0M603.9 400.7h0M604.3 394.2h0M601.6 403.4h0M595.9 406.3h0M608.5 398.7h0M609.6 391.5h0M614.6 401.1h0M602.2 403.3h0M605.6 382.9h0M609.6 397.7h0M597.6 404.2h0M592 408.1h0M597.9 402.7h0M601.9 395.2h0M597.6 394h0M599.8 399.8h0M594.8 409.8h0M604.9 404.9h0M613.8 402.7h0M596.1 406.6h0M595.8 401.3h0M605.2 400h0M593.8 411h0M611.1 398.6h0M604.6 402.2h0M606.7 392h0M598.8 402.1h0M608.8 400.6h0M608 398.7h0M598.9 407.7h0M601 401.3h0M596.3 399.3h0M599.7 402.9h0M605.5 392.8h0M600.5 408.8h0M598.6 404.9h0M594.8 401.8h0M606.6 396.1h0M600.9 409.3h0M602.8 396.5h0M617.7 403.4h0M610.2 399.4h0M611.3 395h0M598 407.5h0M600.8 404.9h0M600.8 399.9h0M606 400.4h0M604.9 397h0M611.5 398.9h0M610.7 402h0M613.5 402.4h0M607.7 399.5h0M611.8 392.4h0M608.8 401.5h0M602.2 397.9h0M604.2 402.5h0M606.5 389.9h0M608.2 399h0M601.6 404.9h0M606.9 412.1h0M596.4 406.2h0M611 385.2h0M605.9 394h0M611 394.4h0M592.8 399.4h0M610 400.1h0M608.3 390h0M595.9 405.8h0M607.2 392.4h0M603.7 402.3h0M599.5 399.5h0M603.7 399.1h0M610.9 391.8h0M609.8 397.2h0M604.9 395.6h0M614.5 390.9h0M606 396.6h0M611.6 407.3h0M611.4 396.6h0M603.3 402h0M603.8 396.1h0M611.5 404.1h0M612.1 407.1h0M597.5 414.1h0M595.9 403.4h0M603.9 403.2h0M597.7 404.6h0M599.5 398.7h0M589.8 410.9h0M609 398.6h0M606.3 401.5h0M613.3 391h0M604.3 404.2h0M612 380.6h0M605.7 406.3h0M607 399.6h0M597.3 400h0M603.6 398.4h0M594.9 409h0M603.8 394.4h0M602 405.1h0M602.3 404.3h0M595 396h0M597.7 395.3h0M606.1 389.8h0M601.4 393.5h0M610.1 385.5h0M601 403.2h0M606.2 399.8h0M602.6 406.7h0M596.8 404.9h0M595.4 410.3h0M593.2 404.3h0M608.8 399.9h0M608.6 396.7h0M599.1 409.2h0M605.9 393.7h0M600.9 407h0M600.9 403h0M617.5 383.3h0M589.4 402.8h0M604.6 405.5h0M610 395.3h0M601 398.3h0M604.7 394h0M613.9 384.6h0M604.4 403.3h0M600.9 408.3h0M595.3 402.6h0M603.9 405.3h0M597.1 400.7h0M606.6 405.6h0M605.1 398.5h0M587.6 413.5h0M602.2 404.7h0M600.9 404h0M596.5 403.1h0M612.8 400.9h0M606 402.6h0M604.5 395.9h0M603.7 396.8h0M602.3 404.8h0M596.2 408.2h0M599.9 404.6h0M610.2 398.3h0M604.2 400.9h0M606 391.1h0M601.8 399.6h0M604 402.4h0M595 407.5h0M609.6 370.4h0M610 394h0M608.2 395.6h0M611.8 390.1h0M606.8 401.4h0M612.3 390.5h0M603.3 400.5h0M610.5 395.7h0M611.6 400.4h0M604.2 394.7h0M614.6 396.1h0M612 397.1h0M608 394.1h0M607 395.3h0M614.3 399.8h0M606.9 399.1h0M604.1 391.3h0M596.5 403.6h0M603.4 396.4h0M597.6 406h0M611.5 392.8h0M606.9 407.4h0M605 395.6h0M612.6 395.3h0M598.2 406h0M594 412.4h0M606 392.6h0M593.2 413.1h0M604.8 396.9h0M595.7 402.6h0M608.2 392.4h0M605.3 393.5h0M601 411.3h0M601 407.6h0M601.9 403.3h0M605 404.7h0M604.2 390.2h0M616.3 397.1h0M603.7 399.9h0M602.5 398.4h0M598.7 404.1h0M597 393.2h0M595.8 403.1h0M597.8 403h0M603.3 390h0M598.2 405.9h0M608.2 397.5h0M602 398.7h0M606.7 379.4h0M601.8 411.2h0M596.9 397h0M596.5 411.8h0M601.7 385.6h0M602.2 391.8h0M612.2 387.3h0M602.1 401.8h0M599.7 405h0M592.6 403.1h0M606.3 408.6h0M614.2 388.5h0M595.4 403.3h0M598.3 410h0M602.3 398h0M596.9 406.4h0M605.8 396.5h0M595.2 412.1h0M609.8 392.5h0M593 405.5h0M608.2 404.6h0M599.3 397h0M608.1 400.7h0M606.4 392h0M602.5 413.6h0M609.1 391.3h0M593.4 410.8h0M607.5 391.9h0M596.9 405.9h0M599.4 397.9h0M605.5 401.3h0M603.8 397.1h0M611 400.7h0M606.9 386h0M603.7 399.4h0M599.1 399.8h0M608.8 384.8h0M607.6 398.6h0M602.6 405.3h0M606.2 393.4h0M612.4 407.9h0M603.6 401.4h0M605.6 398.6h0M610.6 386.1h0M607.8 399h0M593.7 407.8h0M591.5 403.8h0M605.5 398.6h0M604 403.1h0M606.7 403.1h0M608.4 406.6h0M593.1 412.5h0M606.1 393.8h0M598.4 412.4h0M596.4 406.9h0M611.8 396.6h0M596.1 410.9h0M599.7 400.3h0M607.2 392.8h0M612 399.8h0M592.5 402.4h0M608.2 407.4h0M600.5 407.4h0M598.9 410.7h0M612.3 387.5h0M603.9 405.5h0M601.7 403.1h0M598.4 401h0M602.2 395.7h0M610.5 386.1h0M601.2 408.9h0M610.1 395.7h0M609.3 386h0M608.2 393.6h0M595.7 407.4h0M606.1 390.4h0M609.6 385.6h0M604.2 400.7h0M613.8 403.2h0M616.6 395.1h0M599.3 391.9h0M600.7 400.3h0M606.3 397.8h0M597.1 399h0M609.6 391.7h0M605.9 398.5h0M617.2 396.7h0M601.3 401.8h0M608.2 401.7h0M604.2 397.9h0M613 407.7h0M600.2 397.2h0M592.7 409.5h0M596.2 405.3h0M609.5 395.1h0M603.8 406.6h0M601.2 407.7h0M606.4 402.6h0M614.5 394.4h0M605.9 395.9h0M599.9 411.9h0M596.8 398.7h0M601.1 405.7h0M611.3 392.7h0M598.4 403.4h0M612.9 395h0M596.8 401.4h0M598.5 402.8h0M602.3 399.1h0M600.6 407.9h0M598.8 407.6h0M616.7 380.6h0M600.8 391.4h0M608.2 389.5h0M604.3 393.1h0M603 405.1h0M610.6 392h0M603 391.3h0M606.5 406.3h0M613 390.5h0M620.8 399.6h0M603.2 393.2h0M592.6 407.1h0M594.8 412.4h0M603.3 408.1h0M594.1 409.8h0M604.1 402.9h0M600.1 412h0M613.9 386h0M603.9 406.6h0M614.3 396.9h0M598.1 402.2h0M597.9 404.9h0M609.3 401.3h0M592.2 394h0M609.4 394.5h0M610.1 392.8h0M603.1 407h0M607.4 397h0M598.9 413.7h0M601.9 413.9h0M601.6 389.8h0M603.9 401.8h0M606.5 400.1h0M607.3 373.1h0M609.2 371h0M598.7 362h0M609.1 375.9h0M611.1 365.4h0M614.1 368.9h0M617.9 372.4h0M604.8 371.5h0M609.9 370.7h0M612.4 365.2h0M614.7 368.9h0M608.2 363.7h0M614.9 379.6h0M612.6 374h0M599.7 365.6h0M621.9 378.2h0M608.3 377.7h0M624.7 372.7h0M607.2 380.7h0M613 373.2h0M608.8 364.4h0M618.4 376.6h0M611.4 364.2h0M613.6 375.1h0M612 375.6h0M600.5 371.7h0M620.6 375.3h0M610.5 364.2h0M600.1 381.8h0M619.4 387.3h0M612.5 374.6h0M615.6 379.5h0M607.1 369.3h0M604.9 362.7h0M616.4 370.6h0M608.6 370.2h0M608.2 361.9h0M606.9 366h0M609.3 376.2h0M608.5 364.9h0M613.6 377.9h0M611 373.7h0M602.7 368.4h0M602.2 364.1h0M615.5 364h0M618.9 374.8h0M605.3 369.3h0M626.4 376.3h0M610.5 361.3h0M612.2 379.7h0M607.1 378.6h0M623.1 372h0M610.9 365.7h0M612.1 374.7h0M619.2 379.4h0M610.3 364.5h0M607.5 373.6h0M610.5 369h0M616.1 368.6h0M611.5 374.9h0M616.5 374.2h0M608.7 371.7h0M613.8 377.4h0M605.6 362.4h0M612.6 379.9h0M616.1 366.7h0M612.2 380.8h0M613.5 383h0M608 368.8h0M620.6 377.5h0M612.5 370.1h0M606.2 371.6h0M617.8 380.9h0M606.8 368.1h0M608.3 371.2h0M620 384.5h0M617.1 377h0M607.6 364.8h0M620.8 377.2h0M623.7 380h0M612.9 368.5h0M620.1 380.9h0M610.5 379.2h0M610.7 365.7h0M611.4 369.5h0M608 367.1h0M606.1 368.9h0M619.5 376.2h0M603.4 368h0M602.8 373.2h0M605.7 366.7h0M603.9 360.9h0M612.2 375.6h0M622.6 381.6h0M609 374.7h0M615.3 376.4h0M610.9 368.4h0" stroke="#000" stroke-width="0.7" stroke-linecap="square" stroke-opacity="0.5" fill="none"/>

</g>
<path d="M586.5 360.6V414.4M586.5 360.6H639.4M652.2 360.6V414.4" stroke="#666" stroke-width="0.8" fill="none"/>
<line x1="598.5" y1="414.1" x2="639.2" y2="414.1" stroke="#222" stroke-width="1.1"/>
<text x="587.7" y="366.2" font-size="5.8">21.5</text>
<text x="651.1" y="366.2" font-size="5.8" text-anchor="end">0.45</text>
<text x="587.7" y="414.8" font-size="5.8">77.8</text>
<text x="651.1" y="414.8" font-size="5.8" text-anchor="end">0.23</text>
<line x1="435.5" y1="391" x2="435.5" y2="312" stroke="#333" stroke-width="1.15"/>
<path d="M435.5 307.9L433 313H438Z" fill="#000"/>
<line x1="472.5" y1="424.5" x2="526" y2="424.5" stroke="#222" stroke-width="1.15"/>
<path d="M530.1 424.5L524.9 422V427Z" fill="#000"/>
<text x="438.2" y="407.3" font-size="9" text-anchor="middle" transform="rotate(-90 438.2 407.3)">CD4</text>
<text x="442" y="428.9" font-size="9.3" transform="matrix(1 0 0 1.22 0 -94.36)">IL-17A</text>
<text x="474.5" y="296.4" font-size="9.3" text-anchor="middle">Medium</text>
<text x="547.6" y="298" font-size="9.3" text-anchor="middle" font-style="italic">Aspergillus<tspan font-style="normal"> Ag</tspan></text>
<text x="618.8" y="286" font-size="9.3" text-anchor="middle">Anti-dectin-1</text>
<text x="619" y="298" font-size="9.3" text-anchor="middle" font-style="italic">Aspergillus<tspan font-style="normal"> Ag</tspan></text>
<text x="413.2" y="335.0" font-size="10.2">WT</text>
<text x="404.3" y="387.4" font-size="10.2" font-style="italic">Tlr6<tspan font-size="0.52em" dy="-0.55em">&#8722;/&#8722;</tspan></text>
<text x="5.7" y="17.8" font-size="12.5" text-anchor="start" font-weight="bold" fill="#000" stroke="#000" stroke-width="0.6">A</text>
<text x="93" y="18" font-size="10.5" text-anchor="middle" font-style="italic" fill="#000">Clec7a</text>
<line x1="48.1" y1="22.65" x2="48.1" y2="95.75" stroke="#000" stroke-width="1.1"/>
<line x1="45.7" y1="95.2" x2="48.1" y2="95.2" stroke="#000" stroke-width="1.1"/>
<text x="44.1" y="98.7" font-size="9.5" text-anchor="end" transform="matrix(1 0 0 1.16 0 -15.25)" fill="#000">0</text>
<line x1="45.7" y1="80.8" x2="48.1" y2="80.8" stroke="#000" stroke-width="1.1"/>
<text x="44.1" y="84.3" font-size="9.5" text-anchor="end" transform="matrix(1 0 0 1.16 0 -12.94)" fill="#000">10</text>
<line x1="45.7" y1="66.4" x2="48.1" y2="66.4" stroke="#000" stroke-width="1.1"/>
<text x="44.1" y="69.9" font-size="9.5" text-anchor="end" transform="matrix(1 0 0 1.16 0 -10.64)" fill="#000">20</text>
<line x1="45.7" y1="52" x2="48.1" y2="52" stroke="#000" stroke-width="1.1"/>
<text x="44.1" y="55.5" font-size="9.5" text-anchor="end" transform="matrix(1 0 0 1.16 0 -8.34)" fill="#000">30</text>
<line x1="45.7" y1="37.6" x2="48.1" y2="37.6" stroke="#000" stroke-width="1.1"/>
<text x="44.1" y="41.1" font-size="9.5" text-anchor="end" transform="matrix(1 0 0 1.16 0 -6.03)" fill="#000">40</text>
<line x1="45.7" y1="23.2" x2="48.1" y2="23.2" stroke="#000" stroke-width="1.1"/>
<text x="44.1" y="26.7" font-size="9.5" text-anchor="end" transform="matrix(1 0 0 1.16 0 -3.73)" fill="#000">50</text>
<line x1="47.55" y1="95.2" x2="153" y2="95.2" stroke="#000" stroke-width="1.1"/>
<line x1="57.2" y1="95.2" x2="57.2" y2="98" stroke="#000" stroke-width="1.1"/>
<line x1="74.55" y1="95.2" x2="74.55" y2="98" stroke="#000" stroke-width="1.1"/>
<line x1="91.9" y1="95.2" x2="91.9" y2="98" stroke="#000" stroke-width="1.1"/>
<line x1="109.25" y1="95.2" x2="109.25" y2="98" stroke="#000" stroke-width="1.1"/>
<line x1="126.6" y1="95.2" x2="126.6" y2="98" stroke="#000" stroke-width="1.1"/>
<line x1="143.95" y1="95.2" x2="143.95" y2="98" stroke="#000" stroke-width="1.1"/>
<line x1="57.2" y1="93.33" x2="57.2" y2="93.76" stroke="#000" stroke-width="1"/>
<line x1="53.9" y1="93.33" x2="60.5" y2="93.33" stroke="#000" stroke-width="1"/>
<rect x="51.6" y="93.76" width="11.2" height="0.89" fill="#fff" stroke="#000" stroke-width="1.1"/>
<line x1="74.55" y1="90.88" x2="74.55" y2="92.32" stroke="#000" stroke-width="1"/>
<line x1="71.25" y1="90.88" x2="77.85" y2="90.88" stroke="#000" stroke-width="1"/>
<rect x="68.95" y="92.32" width="11.2" height="2.33" fill="#fff" stroke="#000" stroke-width="1.1"/>
<line x1="91.9" y1="85.26" x2="91.9" y2="85.98" stroke="#000" stroke-width="1"/>
<line x1="88.6" y1="85.26" x2="95.2" y2="85.26" stroke="#000" stroke-width="1"/>
<rect x="86.3" y="85.98" width="11.2" height="8.67" fill="#fff" stroke="#000" stroke-width="1.1"/>
<line x1="109.25" y1="71.44" x2="109.25" y2="76.77" stroke="#000" stroke-width="1"/>
<line x1="105.95" y1="71.44" x2="112.55" y2="71.44" stroke="#000" stroke-width="1"/>
<rect x="103.65" y="76.77" width="11.2" height="17.88" fill="#fff" stroke="#000" stroke-width="1.1"/>
<line x1="126.6" y1="70.29" x2="126.6" y2="70.86" stroke="#000" stroke-width="1"/>
<line x1="123.3" y1="70.29" x2="129.9" y2="70.29" stroke="#000" stroke-width="1"/>
<rect x="121" y="70.86" width="11.2" height="23.79" fill="#fff" stroke="#000" stroke-width="1.1"/>
<line x1="143.95" y1="32.56" x2="143.95" y2="48.26" stroke="#000" stroke-width="1"/>
<line x1="140.65" y1="32.56" x2="147.25" y2="32.56" stroke="#000" stroke-width="1"/>
<rect x="138.35" y="48.26" width="11.2" height="46.39" fill="#fff" stroke="#000" stroke-width="1.1"/>
<text x="58.8" y="100" font-size="9.4" text-anchor="end" transform="rotate(-90 58.8 100)" fill="#000">Medium</text>
<text x="76.15" y="100" font-size="9.4" text-anchor="end" transform="rotate(-90 76.15 100)" fill="#000">LPS</text>
<text x="93.5" y="100" font-size="9.4" text-anchor="end" transform="rotate(-90 93.5 100)" fill="#000">PAM2c</text>
<text x="110.85" y="100" font-size="9.4" text-anchor="end" transform="rotate(-90 110.85 100)" fill="#000">PAM3c</text>
<text x="128.2" y="100" font-size="9.4" text-anchor="end" transform="rotate(-90 128.2 100)" fill="#000">Zymosan</text>
<text x="145.55" y="100" font-size="9.4" text-anchor="end" transform="rotate(-90 145.55 100)" fill="#000">rIL-23</text>
<text x="91.9" y="82.8" font-size="8.5" text-anchor="middle" fill="#000" stroke="#000" stroke-width="0.35">&#8224;&#8224;</text>
<text x="109.25" y="68.2" font-size="8.5" text-anchor="middle" fill="#000" stroke="#000" stroke-width="0.35">&#8224;&#8224;</text>
<text x="126.6" y="68.6" font-size="8.5" text-anchor="middle" fill="#000" stroke="#000" stroke-width="0.35">&#8224;&#8224;</text>
<text x="143.95" y="30" font-size="8.5" text-anchor="middle" fill="#000" stroke="#000" stroke-width="0.35">&#8224;&#8224;</text>
<text x="14.2" y="59.7" font-size="10.7" text-anchor="middle" transform="rotate(-90 14.2 59.7)" fill="#000">Fold increase</text>
<text x="26.8" y="58.3" font-size="10.5" text-anchor="middle" transform="rotate(-90 26.8 58.3)" fill="#000">(above medium)</text>
<text x="183.7" y="17.8" font-size="12.5" text-anchor="start" font-weight="bold" fill="#000" stroke="#000" stroke-width="0.6">B</text>
<text x="285" y="18" font-size="10.5" text-anchor="middle" font-style="italic" fill="#000">Clec7a</text>
<line x1="238.4" y1="29.55" x2="238.4" y2="96.65" stroke="#000" stroke-width="1.1"/>
<line x1="236" y1="96.1" x2="238.4" y2="96.1" stroke="#000" stroke-width="1.1"/>
<text x="234.6" y="99.14" font-size="9.6" text-anchor="end" transform="matrix(1 0 0 1.02 0 -1.91)" fill="#000">0.1</text>
<line x1="236" y1="82.9" x2="238.4" y2="82.9" stroke="#000" stroke-width="1.1"/>
<text x="234.6" y="85.94" font-size="9.6" text-anchor="end" transform="matrix(1 0 0 1.02 0 -1.65)" fill="#000">1.0</text>
<line x1="236" y1="69.7" x2="238.4" y2="69.7" stroke="#000" stroke-width="1.1"/>
<text x="234.6" y="72.74" font-size="9.6" text-anchor="end" transform="matrix(1 0 0 1.02 0 -1.39)" fill="#000">10</text>
<line x1="236" y1="56.5" x2="238.4" y2="56.5" stroke="#000" stroke-width="1.1"/>
<text x="234.6" y="59.54" font-size="9.6" text-anchor="end" transform="matrix(1 0 0 1.02 0 -1.12)" fill="#000">100</text>
<line x1="236" y1="43.3" x2="238.4" y2="43.3" stroke="#000" stroke-width="1.1"/>
<text x="234.6" y="46.34" font-size="9.6" text-anchor="end" transform="matrix(1 0 0 1.02 0 -0.86)" fill="#000">1000</text>
<line x1="236" y1="30.1" x2="238.4" y2="30.1" stroke="#000" stroke-width="1.1"/>
<text x="234.6" y="33.14" font-size="9.6" text-anchor="end" transform="matrix(1 0 0 1.02 0 -0.59)" fill="#000">10000</text>
<line x1="237.85" y1="96.6" x2="342" y2="96.6" stroke="#000" stroke-width="1.1"/>
<line x1="251.6" y1="96.6" x2="251.6" y2="99" stroke="#000" stroke-width="1.1"/>
<line x1="277.7" y1="96.6" x2="277.7" y2="99" stroke="#000" stroke-width="1.1"/>
<line x1="303.4" y1="96.6" x2="303.4" y2="99" stroke="#000" stroke-width="1.1"/>
<line x1="329" y1="96.6" x2="329" y2="99" stroke="#000" stroke-width="1.1"/>
<line x1="246.85" y1="56.9" x2="246.85" y2="59.6" stroke="#000" stroke-width="1"/>
<line x1="244.85" y1="56.9" x2="248.85" y2="56.9" stroke="#000" stroke-width="1"/>
<rect x="243.55" y="59.6" width="6.6" height="36.45" fill="#fff" stroke="#000" stroke-width="1.1"/>
<line x1="256.55" y1="68.3" x2="256.55" y2="69.3" stroke="#000" stroke-width="1"/>
<line x1="254.55" y1="68.3" x2="258.55" y2="68.3" stroke="#000" stroke-width="1"/>
<rect x="253.45" y="69.3" width="6.2" height="26.75" fill="#000" stroke="#000" stroke-width="1.1"/>
<line x1="272.95" y1="49.2" x2="272.95" y2="52" stroke="#000" stroke-width="1"/>
<line x1="270.95" y1="49.2" x2="274.95" y2="49.2" stroke="#000" stroke-width="1"/>
<rect x="269.65" y="52" width="6.6" height="44.05" fill="#fff" stroke="#000" stroke-width="1.1"/>
<line x1="282.65" y1="57.4" x2="282.65" y2="60.7" stroke="#000" stroke-width="1"/>
<line x1="280.65" y1="57.4" x2="284.65" y2="57.4" stroke="#000" stroke-width="1"/>
<rect x="279.55" y="60.7" width="6.2" height="35.35" fill="#000" stroke="#000" stroke-width="1.1"/>
<line x1="298.65" y1="37.4" x2="298.65" y2="40.3" stroke="#000" stroke-width="1"/>
<line x1="296.65" y1="37.4" x2="300.65" y2="37.4" stroke="#000" stroke-width="1"/>
<rect x="295.35" y="40.3" width="6.6" height="55.75" fill="#fff" stroke="#000" stroke-width="1.1"/>
<line x1="308.35" y1="84.6" x2="308.35" y2="85.5" stroke="#000" stroke-width="1"/>
<line x1="306.35" y1="84.6" x2="310.35" y2="84.6" stroke="#000" stroke-width="1"/>
<rect x="305.25" y="85.5" width="6.2" height="10.55" fill="#000" stroke="#000" stroke-width="1.1"/>
<line x1="324.25" y1="73.1" x2="324.25" y2="75" stroke="#000" stroke-width="1"/>
<line x1="322.25" y1="73.1" x2="326.25" y2="73.1" stroke="#000" stroke-width="1"/>
<rect x="320.95" y="75" width="6.6" height="21.05" fill="#fff" stroke="#000" stroke-width="1.1"/>
<line x1="333.95" y1="78.4" x2="333.95" y2="79.2" stroke="#000" stroke-width="1"/>
<line x1="331.95" y1="78.4" x2="335.95" y2="78.4" stroke="#000" stroke-width="1"/>
<rect x="330.85" y="79.2" width="6.2" height="16.85" fill="#000" stroke="#000" stroke-width="1.1"/>
<line x1="239" y1="82.8" x2="340" y2="82.8" stroke="#333" stroke-width="1.1" stroke-dasharray="1.1 1"/>
<text x="251.6" y="107.6" font-size="9.2" text-anchor="middle" fill="#000">0</text>
<text x="277.7" y="107.6" font-size="9.2" text-anchor="middle" fill="#000">7</text>
<text x="303.4" y="107.6" font-size="9.2" text-anchor="middle" fill="#000">15</text>
<text x="329" y="107.6" font-size="9.2" text-anchor="middle" fill="#000">30</text>
<text x="290.9" y="119.9" font-size="10.7" text-anchor="middle" fill="#000">Days after conidia</text>
<text x="190.4" y="67.4" font-size="10.5" text-anchor="middle" transform="rotate(-90 190.4 67.4)" fill="#000">Fold increase</text>
<text x="202.1" y="66.3" font-size="10.55" text-anchor="middle" transform="rotate(-90 202.1 66.3)" fill="#000">(above WT naive)</text>
<text x="298.6" y="35.2" font-size="8.5" text-anchor="middle" fill="#000" stroke="#000" stroke-width="0.35">&#8224;&#8224;</text>
<text x="307.6" y="82.9" font-size="10.5" text-anchor="middle" fill="#000" stroke="#000" stroke-width="0.3">*</text>
<rect x="311.5" y="28.8" width="8.6" height="4.5" fill="#fff" stroke="#000" stroke-width="1"/>
<text x="322.7" y="33.8" font-size="8" text-anchor="start" transform="matrix(1 0 0 1.12 0 -3.71)" fill="#000">WT</text>
<rect x="311.5" y="37.9" width="8.6" height="4.5" fill="#000" stroke="#000" stroke-width="1"/>
<text x="322.6" y="42.9" font-size="8.4" text-anchor="start" font-style="italic" fill="#000">Tlr6<tspan font-size="0.52em" dy="-0.55em">&#8722;/&#8722;</tspan></text>
<text x="5.7" y="169.2" font-size="12.5" text-anchor="start" font-weight="bold" fill="#000" stroke="#000" stroke-width="0.6">D</text>
<text x="73" y="169" font-size="10.5" text-anchor="middle" font-style="italic" fill="#000">Clec7a</text>
<line x1="48.3" y1="174.05" x2="48.3" y2="247.15" stroke="#000" stroke-width="1.1"/>
<line x1="45.9" y1="246.6" x2="48.3" y2="246.6" stroke="#000" stroke-width="1.1"/>
<text x="44.9" y="249.42" font-size="9.4" text-anchor="end" transform="matrix(1 0 0 1.06 0 -14.76)" fill="#000">0</text>
<line x1="45.9" y1="228.6" x2="48.3" y2="228.6" stroke="#000" stroke-width="1.1"/>
<text x="44.9" y="231.42" font-size="9.4" text-anchor="end" transform="matrix(1 0 0 1.06 0 -13.68)" fill="#000">0.5</text>
<line x1="45.9" y1="210.6" x2="48.3" y2="210.6" stroke="#000" stroke-width="1.1"/>
<text x="44.9" y="213.42" font-size="9.4" text-anchor="end" transform="matrix(1 0 0 1.06 0 -12.6)" fill="#000">1.0</text>
<line x1="45.9" y1="192.6" x2="48.3" y2="192.6" stroke="#000" stroke-width="1.1"/>
<text x="44.9" y="195.42" font-size="9.4" text-anchor="end" transform="matrix(1 0 0 1.06 0 -11.52)" fill="#000">1.5</text>
<line x1="45.9" y1="174.6" x2="48.3" y2="174.6" stroke="#000" stroke-width="1.1"/>
<text x="44.9" y="177.42" font-size="9.4" text-anchor="end" transform="matrix(1 0 0 1.06 0 -10.44)" fill="#000">2.0</text>
<line x1="47.75" y1="246.6" x2="95.7" y2="246.6" stroke="#000" stroke-width="1.1"/>
<line x1="53.4" y1="246.6" x2="53.4" y2="249" stroke="#000" stroke-width="1.1"/>
<line x1="62.73" y1="246.6" x2="62.73" y2="249" stroke="#000" stroke-width="1.1"/>
<line x1="72.06" y1="246.6" x2="72.06" y2="249" stroke="#000" stroke-width="1.1"/>
<line x1="81.39" y1="246.6" x2="81.39" y2="249" stroke="#000" stroke-width="1.1"/>
<line x1="90.72" y1="246.6" x2="90.72" y2="249" stroke="#000" stroke-width="1.1"/>
<line x1="53.4" y1="203.4" x2="53.4" y2="209.52" stroke="#000" stroke-width="1"/>
<line x1="51.6" y1="203.4" x2="55.2" y2="203.4" stroke="#000" stroke-width="1"/>
<rect x="50.6" y="209.52" width="5.6" height="36.53" fill="#fff" stroke="#000" stroke-width="1.1"/>
<line x1="62.73" y1="235.8" x2="62.73" y2="236.88" stroke="#000" stroke-width="1"/>
<line x1="60.93" y1="235.8" x2="64.53" y2="235.8" stroke="#000" stroke-width="1"/>
<rect x="59.93" y="236.88" width="5.6" height="9.17" fill="#fff" stroke="#000" stroke-width="1.1"/>
<line x1="72.06" y1="205.2" x2="72.06" y2="209.52" stroke="#000" stroke-width="1"/>
<line x1="70.26" y1="205.2" x2="73.86" y2="205.2" stroke="#000" stroke-width="1"/>
<rect x="69.26" y="209.52" width="5.6" height="36.53" fill="#fff" stroke="#000" stroke-width="1.1"/>
<line x1="81.39" y1="227.52" x2="81.39" y2="232.56" stroke="#000" stroke-width="1"/>
<line x1="79.59" y1="227.52" x2="83.19" y2="227.52" stroke="#000" stroke-width="1"/>
<rect x="78.59" y="232.56" width="5.6" height="13.49" fill="#fff" stroke="#000" stroke-width="1.1"/>
<line x1="90.72" y1="179.64" x2="90.72" y2="186.48" stroke="#000" stroke-width="1"/>
<line x1="88.92" y1="179.64" x2="92.52" y2="179.64" stroke="#000" stroke-width="1"/>
<rect x="87.92" y="186.48" width="5.6" height="59.57" fill="#fff" stroke="#000" stroke-width="1.1"/>
<text x="55.6" y="251" font-size="8.2" text-anchor="end" transform="rotate(-90 55.6 251)" fill="#000">Medium</text>
<text x="64.93" y="251" font-size="8.2" text-anchor="end" transform="rotate(-90 64.93 251)" fill="#000">Zymosan</text>
<text x="74.26" y="251" font-size="8.2" text-anchor="end" transform="rotate(-90 74.26 251)" fill="#000">LPS</text>
<text x="83.59" y="251" font-size="8.2" text-anchor="end" transform="rotate(-90 83.59 251)" fill="#000">rIL-12</text>
<text x="92.92" y="251" font-size="8.2" text-anchor="end" transform="rotate(-90 92.92 251)" fill="#000">rIL-23</text>
<text x="14.2" y="211.6" font-size="9.7" text-anchor="middle" transform="rotate(-90 14.2 211.6) translate(14.2 211.6) scale(1.11 1) translate(-14.2 -211.6)" fill="#000">Fold increase</text>
<text x="27.4" y="210.1" font-size="9.7" text-anchor="middle" transform="rotate(-90 27.4 210.1) translate(27.4 210.1) scale(1.1 1) translate(-27.4 -210.1)" fill="#000">(above medium)</text>
<text x="167" y="169" font-size="10.5" text-anchor="middle" font-style="italic" fill="#000">Sfpi1</text>
<line x1="143.2" y1="174.25" x2="143.2" y2="247.15" stroke="#000" stroke-width="1.1"/>
<line x1="140.8" y1="246.6" x2="143.2" y2="246.6" stroke="#000" stroke-width="1.1"/>
<text x="139.8" y="249.42" font-size="9.4" text-anchor="end" transform="matrix(1 0 0 1.06 0 -14.76)" fill="#000">0</text>
<line x1="140.8" y1="228.65" x2="143.2" y2="228.65" stroke="#000" stroke-width="1.1"/>
<text x="139.8" y="231.47" font-size="9.4" text-anchor="end" transform="matrix(1 0 0 1.06 0 -13.69)" fill="#000">1</text>
<line x1="140.8" y1="210.7" x2="143.2" y2="210.7" stroke="#000" stroke-width="1.1"/>
<text x="139.8" y="213.52" font-size="9.4" text-anchor="end" transform="matrix(1 0 0 1.06 0 -12.61)" fill="#000">2</text>
<line x1="140.8" y1="192.75" x2="143.2" y2="192.75" stroke="#000" stroke-width="1.1"/>
<text x="139.8" y="195.57" font-size="9.4" text-anchor="end" transform="matrix(1 0 0 1.06 0 -11.53)" fill="#000">3</text>
<line x1="140.8" y1="174.8" x2="143.2" y2="174.8" stroke="#000" stroke-width="1.1"/>
<text x="139.8" y="177.62" font-size="9.4" text-anchor="end" transform="matrix(1 0 0 1.06 0 -10.46)" fill="#000">4</text>
<line x1="142.65" y1="246.6" x2="190.3" y2="246.6" stroke="#000" stroke-width="1.1"/>
<line x1="148.3" y1="246.6" x2="148.3" y2="249" stroke="#000" stroke-width="1.1"/>
<line x1="157.63" y1="246.6" x2="157.63" y2="249" stroke="#000" stroke-width="1.1"/>
<line x1="166.96" y1="246.6" x2="166.96" y2="249" stroke="#000" stroke-width="1.1"/>
<line x1="176.29" y1="246.6" x2="176.29" y2="249" stroke="#000" stroke-width="1.1"/>
<line x1="185.62" y1="246.6" x2="185.62" y2="249" stroke="#000" stroke-width="1.1"/>
<line x1="148.3" y1="225.6" x2="148.3" y2="228.65" stroke="#000" stroke-width="1"/>
<line x1="146.5" y1="225.6" x2="150.1" y2="225.6" stroke="#000" stroke-width="1"/>
<rect x="145.5" y="228.65" width="5.6" height="17.4" fill="#fff" stroke="#000" stroke-width="1.1"/>
<line x1="157.63" y1="215.37" x2="157.63" y2="223.26" stroke="#000" stroke-width="1"/>
<line x1="155.83" y1="215.37" x2="159.43" y2="215.37" stroke="#000" stroke-width="1"/>
<rect x="154.83" y="223.26" width="5.6" height="22.79" fill="#fff" stroke="#000" stroke-width="1.1"/>
<line x1="166.96" y1="231.88" x2="166.96" y2="233.5" stroke="#000" stroke-width="1"/>
<line x1="165.16" y1="231.88" x2="168.76" y2="231.88" stroke="#000" stroke-width="1"/>
<rect x="164.16" y="233.5" width="5.6" height="12.55" fill="#fff" stroke="#000" stroke-width="1.1"/>
<line x1="176.29" y1="236.73" x2="176.29" y2="237.62" stroke="#000" stroke-width="1"/>
<line x1="174.49" y1="236.73" x2="178.09" y2="236.73" stroke="#000" stroke-width="1"/>
<rect x="173.49" y="237.62" width="5.6" height="8.43" fill="#fff" stroke="#000" stroke-width="1.1"/>
<line x1="185.62" y1="194.54" x2="185.62" y2="201.72" stroke="#000" stroke-width="1"/>
<line x1="183.82" y1="194.54" x2="187.42" y2="194.54" stroke="#000" stroke-width="1"/>
<rect x="182.82" y="201.72" width="5.6" height="44.33" fill="#fff" stroke="#000" stroke-width="1.1"/>
<text x="150.5" y="251" font-size="8.2" text-anchor="end" transform="rotate(-90 150.5 251)" fill="#000">Medium</text>
<text x="159.83" y="251" font-size="8.2" text-anchor="end" transform="rotate(-90 159.83 251)" fill="#000">Zymosan</text>
<text x="169.16" y="251" font-size="8.2" text-anchor="end" transform="rotate(-90 169.16 251)" fill="#000">LPS</text>
<text x="178.49" y="251" font-size="8.2" text-anchor="end" transform="rotate(-90 178.49 251)" fill="#000">rIL-12</text>
<text x="187.82" y="251" font-size="8.2" text-anchor="end" transform="rotate(-90 187.82 251)" fill="#000">rIL-23</text>
<text x="116.1" y="212.5" font-size="9.7" text-anchor="middle" transform="rotate(-90 116.1 212.5) translate(116.1 212.5) scale(1.11 1) translate(-116.1 -212.5)" fill="#000">Fold increase</text>
<text x="128" y="211.2" font-size="9.7" text-anchor="middle" transform="rotate(-90 128 211.2) translate(128 211.2) scale(1.1 1) translate(-128 -211.2)" fill="#000">(above medium)</text>
<text x="185.6" y="192.2" font-size="8.5" text-anchor="middle" fill="#000" stroke="#000" stroke-width="0.35">&#8224;&#8224;</text>
<text x="266.4" y="169" font-size="10.5" text-anchor="middle" font-style="italic" fill="#000">Jun</text>
<line x1="244.3" y1="174.5" x2="244.3" y2="247.15" stroke="#000" stroke-width="1.1"/>
<line x1="241.9" y1="246.6" x2="244.3" y2="246.6" stroke="#000" stroke-width="1.1"/>
<text x="240.9" y="249.42" font-size="9.4" text-anchor="end" transform="matrix(1 0 0 1.06 0 -14.76)" fill="#000">0</text>
<line x1="241.9" y1="222.75" x2="244.3" y2="222.75" stroke="#000" stroke-width="1.1"/>
<text x="240.9" y="225.57" font-size="9.4" text-anchor="end" transform="matrix(1 0 0 1.06 0 -13.33)" fill="#000">0.5</text>
<line x1="241.9" y1="198.9" x2="244.3" y2="198.9" stroke="#000" stroke-width="1.1"/>
<text x="240.9" y="201.72" font-size="9.4" text-anchor="end" transform="matrix(1 0 0 1.06 0 -11.9)" fill="#000">1.0</text>
<line x1="241.9" y1="175.05" x2="244.3" y2="175.05" stroke="#000" stroke-width="1.1"/>
<text x="240.9" y="177.87" font-size="9.4" text-anchor="end" transform="matrix(1 0 0 1.06 0 -10.47)" fill="#000">1.5</text>
<line x1="243.75" y1="246.6" x2="291.2" y2="246.6" stroke="#000" stroke-width="1.1"/>
<line x1="249.6" y1="246.6" x2="249.6" y2="249" stroke="#000" stroke-width="1.1"/>
<line x1="258.93" y1="246.6" x2="258.93" y2="249" stroke="#000" stroke-width="1.1"/>
<line x1="268.26" y1="246.6" x2="268.26" y2="249" stroke="#000" stroke-width="1.1"/>
<line x1="277.59" y1="246.6" x2="277.59" y2="249" stroke="#000" stroke-width="1.1"/>
<line x1="286.92" y1="246.6" x2="286.92" y2="249" stroke="#000" stroke-width="1.1"/>
<line x1="249.6" y1="190.79" x2="249.6" y2="197.95" stroke="#000" stroke-width="1"/>
<line x1="247.8" y1="190.79" x2="251.4" y2="190.79" stroke="#000" stroke-width="1"/>
<rect x="246.8" y="197.95" width="5.6" height="48.1" fill="#fff" stroke="#000" stroke-width="1.1"/>
<rect x="256.13" y="238.49" width="5.6" height="7.56" fill="#fff" stroke="#000" stroke-width="1.1"/>
<line x1="268.26" y1="233.72" x2="268.26" y2="237.54" stroke="#000" stroke-width="1"/>
<line x1="266.46" y1="233.72" x2="270.06" y2="233.72" stroke="#000" stroke-width="1"/>
<rect x="265.46" y="237.54" width="5.6" height="8.51" fill="#fff" stroke="#000" stroke-width="1.1"/>
<line x1="277.59" y1="213.21" x2="277.59" y2="219.89" stroke="#000" stroke-width="1"/>
<line x1="275.79" y1="213.21" x2="279.39" y2="213.21" stroke="#000" stroke-width="1"/>
<rect x="274.79" y="219.89" width="5.6" height="26.16" fill="#fff" stroke="#000" stroke-width="1.1"/>
<line x1="286.92" y1="218.46" x2="286.92" y2="227.52" stroke="#000" stroke-width="1"/>
<line x1="285.12" y1="218.46" x2="288.72" y2="218.46" stroke="#000" stroke-width="1"/>
<rect x="284.12" y="227.52" width="5.6" height="18.53" fill="#fff" stroke="#000" stroke-width="1.1"/>
<text x="251.8" y="251" font-size="8.2" text-anchor="end" transform="rotate(-90 251.8 251)" fill="#000">Medium</text>
<text x="261.13" y="251" font-size="8.2" text-anchor="end" transform="rotate(-90 261.13 251)" fill="#000">Zymosan</text>
<text x="270.46" y="251" font-size="8.2" text-anchor="end" transform="rotate(-90 270.46 251)" fill="#000">LPS</text>
<text x="279.79" y="251" font-size="8.2" text-anchor="end" transform="rotate(-90 279.79 251)" fill="#000">rIL-12</text>
<text x="289.12" y="251" font-size="8.2" text-anchor="end" transform="rotate(-90 289.12 251)" fill="#000">rIL-23</text>
<text x="209.7" y="212.9" font-size="9.7" text-anchor="middle" transform="rotate(-90 209.7 212.9) translate(209.7 212.9) scale(1.11 1) translate(-209.7 -212.9)" fill="#000">Fold increase</text>
<text x="221.9" y="211.8" font-size="9.7" text-anchor="middle" transform="rotate(-90 221.9 211.8) translate(221.9 211.8) scale(1.1 1) translate(-221.9 -211.8)" fill="#000">(above medium)</text>
<text x="369" y="169" font-size="10.5" text-anchor="middle" font-style="italic" fill="#000">Sp1</text>
<line x1="346.9" y1="174.8" x2="346.9" y2="247.15" stroke="#000" stroke-width="1.1"/>
<line x1="344.5" y1="246.6" x2="346.9" y2="246.6" stroke="#000" stroke-width="1.1"/>
<text x="343.5" y="249.42" font-size="9.4" text-anchor="end" transform="matrix(1 0 0 1.06 0 -14.76)" fill="#000">0</text>
<line x1="344.5" y1="222.85" x2="346.9" y2="222.85" stroke="#000" stroke-width="1.1"/>
<text x="343.5" y="225.67" font-size="9.4" text-anchor="end" transform="matrix(1 0 0 1.06 0 -13.34)" fill="#000">0.5</text>
<line x1="344.5" y1="199.1" x2="346.9" y2="199.1" stroke="#000" stroke-width="1.1"/>
<text x="343.5" y="201.92" font-size="9.4" text-anchor="end" transform="matrix(1 0 0 1.06 0 -11.91)" fill="#000">1.0</text>
<line x1="344.5" y1="175.35" x2="346.9" y2="175.35" stroke="#000" stroke-width="1.1"/>
<text x="343.5" y="178.17" font-size="9.4" text-anchor="end" transform="matrix(1 0 0 1.06 0 -10.49)" fill="#000">1.5</text>
<line x1="346.35" y1="246.6" x2="394" y2="246.6" stroke="#000" stroke-width="1.1"/>
<line x1="352" y1="246.6" x2="352" y2="249" stroke="#000" stroke-width="1.1"/>
<line x1="361.33" y1="246.6" x2="361.33" y2="249" stroke="#000" stroke-width="1.1"/>
<line x1="370.66" y1="246.6" x2="370.66" y2="249" stroke="#000" stroke-width="1.1"/>
<line x1="379.99" y1="246.6" x2="379.99" y2="249" stroke="#000" stroke-width="1.1"/>
<line x1="389.32" y1="246.6" x2="389.32" y2="249" stroke="#000" stroke-width="1.1"/>
<line x1="352" y1="189.6" x2="352" y2="198.15" stroke="#000" stroke-width="1"/>
<line x1="350.2" y1="189.6" x2="353.8" y2="189.6" stroke="#000" stroke-width="1"/>
<rect x="349.2" y="198.15" width="5.6" height="47.9" fill="#fff" stroke="#000" stroke-width="1.1"/>
<rect x="358.53" y="211.93" width="5.6" height="34.12" fill="#fff" stroke="#000" stroke-width="1.1"/>
<line x1="370.66" y1="234.25" x2="370.66" y2="238.53" stroke="#000" stroke-width="1"/>
<line x1="368.86" y1="234.25" x2="372.46" y2="234.25" stroke="#000" stroke-width="1"/>
<rect x="367.86" y="238.53" width="5.6" height="7.53" fill="#fff" stroke="#000" stroke-width="1.1"/>
<line x1="379.99" y1="194.35" x2="379.99" y2="202.42" stroke="#000" stroke-width="1"/>
<line x1="378.19" y1="194.35" x2="381.79" y2="194.35" stroke="#000" stroke-width="1"/>
<rect x="377.19" y="202.42" width="5.6" height="43.63" fill="#fff" stroke="#000" stroke-width="1.1"/>
<line x1="389.32" y1="215.25" x2="389.32" y2="225.22" stroke="#000" stroke-width="1"/>
<line x1="387.52" y1="215.25" x2="391.12" y2="215.25" stroke="#000" stroke-width="1"/>
<rect x="386.52" y="225.22" width="5.6" height="20.83" fill="#fff" stroke="#000" stroke-width="1.1"/>
<text x="354.2" y="251" font-size="8.2" text-anchor="end" transform="rotate(-90 354.2 251)" fill="#000">Medium</text>
<text x="363.53" y="251" font-size="8.2" text-anchor="end" transform="rotate(-90 363.53 251)" fill="#000">Zymosan</text>
<text x="372.86" y="251" font-size="8.2" text-anchor="end" transform="rotate(-90 372.86 251)" fill="#000">LPS</text>
<text x="382.19" y="251" font-size="8.2" text-anchor="end" transform="rotate(-90 382.19 251)" fill="#000">rIL-12</text>
<text x="391.52" y="251" font-size="8.2" text-anchor="end" transform="rotate(-90 391.52 251)" fill="#000">rIL-23</text>
<text x="313.9" y="212.7" font-size="9.7" text-anchor="middle" transform="rotate(-90 313.9 212.7) translate(313.9 212.7) scale(1.11 1) translate(-313.9 -212.7)" fill="#000">Fold increase</text>
<text x="326" y="211.9" font-size="9.7" text-anchor="middle" transform="rotate(-90 326 211.9) translate(326 211.9) scale(1.1 1) translate(-326 -211.9)" fill="#000">(above medium)</text>
<text x="5.7" y="313.7" font-size="12.5" text-anchor="start" font-weight="bold" fill="#000" stroke="#000" stroke-width="0.6">E</text>
<line x1="48.3" y1="329.25" x2="48.3" y2="407.85" stroke="#000" stroke-width="1.1"/>
<line x1="45.9" y1="407.3" x2="48.3" y2="407.3" stroke="#000" stroke-width="1.1"/>
<text x="44.3" y="409.74" font-size="9.2" text-anchor="end" transform="matrix(1 0 0 1.03 0 -12.19)" fill="#000">0</text>
<line x1="45.9" y1="381.47" x2="48.3" y2="381.47" stroke="#000" stroke-width="1.1"/>
<text x="44.3" y="383.91" font-size="9.2" text-anchor="end" transform="matrix(1 0 0 1.03 0 -11.42)" fill="#000">5</text>
<line x1="45.9" y1="355.63" x2="48.3" y2="355.63" stroke="#000" stroke-width="1.1"/>
<text x="44.3" y="358.07" font-size="9.2" text-anchor="end" transform="matrix(1 0 0 1.03 0 -10.64)" fill="#000">10</text>
<line x1="45.9" y1="329.8" x2="48.3" y2="329.8" stroke="#000" stroke-width="1.1"/>
<text x="44.3" y="332.24" font-size="9.2" text-anchor="end" transform="matrix(1 0 0 1.03 0 -9.87)" fill="#000">15</text>
<line x1="47.75" y1="407.3" x2="189.7" y2="407.3" stroke="#000" stroke-width="1.1"/>
<line x1="65.5" y1="407.3" x2="65.5" y2="409.9" stroke="#000" stroke-width="1.1"/>
<line x1="100.8" y1="407.3" x2="100.8" y2="409.9" stroke="#000" stroke-width="1.1"/>
<line x1="136.2" y1="407.3" x2="136.2" y2="409.9" stroke="#000" stroke-width="1.1"/>
<line x1="171.3" y1="407.3" x2="171.3" y2="409.9" stroke="#000" stroke-width="1.1"/>
<line x1="56.1" y1="367" x2="56.1" y2="371.13" stroke="#000" stroke-width="1"/>
<line x1="53.9" y1="367" x2="58.3" y2="367" stroke="#000" stroke-width="1"/>
<rect x="53.05" y="371.13" width="6.1" height="35.62" fill="#fff" stroke="#000" stroke-width="1.1"/>
<line x1="65.5" y1="400.32" x2="65.5" y2="401.62" stroke="#000" stroke-width="1"/>
<line x1="63.3" y1="400.32" x2="67.7" y2="400.32" stroke="#000" stroke-width="1"/>
<rect x="62.45" y="401.62" width="6.1" height="5.13" fill="#000" stroke="#000" stroke-width="1.1"/>
<line x1="75.1" y1="341.16" x2="75.1" y2="351.5" stroke="#000" stroke-width="1"/>
<line x1="72.9" y1="341.16" x2="77.3" y2="341.16" stroke="#000" stroke-width="1"/>
<rect x="72.05" y="351.5" width="6.1" height="55.25" fill="#999" stroke="#000" stroke-width="1.1"/>
<line x1="91.4" y1="395.93" x2="91.4" y2="396.45" stroke="#000" stroke-width="1"/>
<line x1="89.2" y1="395.93" x2="93.6" y2="395.93" stroke="#000" stroke-width="1"/>
<rect x="88.35" y="396.45" width="6.1" height="10.3" fill="#fff" stroke="#000" stroke-width="1.1"/>
<line x1="100.8" y1="400.58" x2="100.8" y2="401.87" stroke="#000" stroke-width="1"/>
<line x1="98.6" y1="400.58" x2="103" y2="400.58" stroke="#000" stroke-width="1"/>
<rect x="97.75" y="401.87" width="6.1" height="4.88" fill="#000" stroke="#000" stroke-width="1.1"/>
<line x1="110.4" y1="389.73" x2="110.4" y2="393.35" stroke="#000" stroke-width="1"/>
<line x1="108.2" y1="389.73" x2="112.6" y2="389.73" stroke="#000" stroke-width="1"/>
<rect x="107.35" y="393.35" width="6.1" height="13.4" fill="#999" stroke="#000" stroke-width="1.1"/>
<line x1="126.8" y1="400.07" x2="126.8" y2="402.13" stroke="#000" stroke-width="1"/>
<line x1="124.6" y1="400.07" x2="129" y2="400.07" stroke="#000" stroke-width="1"/>
<rect x="123.75" y="402.13" width="6.1" height="4.62" fill="#fff" stroke="#000" stroke-width="1.1"/>
<line x1="136.2" y1="400.32" x2="136.2" y2="401.62" stroke="#000" stroke-width="1"/>
<line x1="134" y1="400.32" x2="138.4" y2="400.32" stroke="#000" stroke-width="1"/>
<rect x="133.15" y="401.62" width="6.1" height="5.13" fill="#000" stroke="#000" stroke-width="1.1"/>
<line x1="145.8" y1="388.7" x2="145.8" y2="393.87" stroke="#000" stroke-width="1"/>
<line x1="143.6" y1="388.7" x2="148" y2="388.7" stroke="#000" stroke-width="1"/>
<rect x="142.75" y="393.87" width="6.1" height="12.88" fill="#999" stroke="#000" stroke-width="1.1"/>
<rect x="158.85" y="405.49" width="6.1" height="1.26" fill="#fff" stroke="#000" stroke-width="1.1"/>
<line x1="171.3" y1="400.32" x2="171.3" y2="401.62" stroke="#000" stroke-width="1"/>
<line x1="169.1" y1="400.32" x2="173.5" y2="400.32" stroke="#000" stroke-width="1"/>
<rect x="168.25" y="401.62" width="6.1" height="5.13" fill="#000" stroke="#000" stroke-width="1.1"/>
<rect x="177.85" y="403.68" width="6.1" height="3.07" fill="#999" stroke="#000" stroke-width="1.1"/>
<text x="64" y="419.4" font-size="9.4" text-anchor="middle" font-style="italic" fill="#000">Clec7a</text>
<text x="99.2" y="419.4" font-size="9.4" text-anchor="middle" font-style="italic" fill="#000">Sfpi1</text>
<text x="136.5" y="419.4" font-size="9.4" text-anchor="middle" font-style="italic" fill="#000">Jun</text>
<text x="171.9" y="419.4" font-size="9.4" text-anchor="middle" font-style="italic" fill="#000">Sp1</text>
<text x="56.2" y="369.3" font-size="13" text-anchor="middle" fill="#000" stroke="#000" stroke-width="0.3">**</text>
<text x="75.7" y="344.2" font-size="13" text-anchor="middle" fill="#000" stroke="#000" stroke-width="0.3">**</text>
<text x="92" y="398.9" font-size="13" text-anchor="middle" fill="#000" stroke="#000" stroke-width="0.3">**</text>
<rect x="124.5" y="323" width="8.8" height="5.3" fill="#fff" stroke="#000" stroke-width="1"/>
<text x="136.1" y="328.8" font-size="8" text-anchor="start" transform="matrix(1 0 0 1.15 0 -48.89)" fill="#000">WT</text>
<rect x="124.5" y="332.8" width="8.8" height="5.1" fill="#000" stroke="#000" stroke-width="1"/>
<text x="136.8" y="338.3" font-size="8.4" text-anchor="start" font-style="italic" fill="#000">Tlr6<tspan font-size="0.52em" dy="-0.55em">&#8722;/&#8722;</tspan></text>
<rect x="124.5" y="342.4" width="8.8" height="5.3" fill="#999" stroke="#000" stroke-width="1"/>
<text x="136.8" y="348" font-size="8.4" text-anchor="start" fill="#000"><tspan font-style="italic">Tlr6<tspan font-size="0.52em" dy="-0.55em">&#8722;/&#8722;</tspan></tspan><tspan dy="0.28em"> + rIL-23</tspan></text>
<text x="17.8" y="372.5" font-size="10.65" text-anchor="middle" transform="rotate(-90 17.8 372.5)" fill="#000">Fold increase (above</text>
<text x="30.2" y="370.6" font-size="10.9" text-anchor="middle" transform="rotate(-90 30.2 370.6)" fill="#000"><tspan font-style="italic">TLR6<tspan font-size="0.62em" dy="-0.5em">&#8722;/&#8722;</tspan></tspan><tspan dy="0.31em"> medium)</tspan></text>
<text x="220.5" y="313.7" font-size="12.5" text-anchor="start" font-weight="bold" fill="#000" stroke="#000" stroke-width="0.6">F</text>
<line x1="268.3" y1="329.25" x2="268.3" y2="407.85" stroke="#000" stroke-width="1.1"/>
<line x1="265.9" y1="407.3" x2="268.3" y2="407.3" stroke="#000" stroke-width="1.1"/>
<text x="263.2" y="410.12" font-size="9" text-anchor="end" transform="matrix(1 0 0 1.04 0 -16.28)" fill="#000">0</text>
<line x1="265.9" y1="381.47" x2="268.3" y2="381.47" stroke="#000" stroke-width="1.1"/>
<text x="263.2" y="384.29" font-size="9" text-anchor="end" transform="matrix(1 0 0 1.04 0 -15.24)" fill="#000">500</text>
<line x1="265.9" y1="355.63" x2="268.3" y2="355.63" stroke="#000" stroke-width="1.1"/>
<text x="263.2" y="358.46" font-size="9" text-anchor="end" transform="matrix(1 0 0 1.04 0 -14.21)" fill="#000">1000</text>
<line x1="265.9" y1="329.8" x2="268.3" y2="329.8" stroke="#000" stroke-width="1.1"/>
<text x="263.2" y="332.62" font-size="9" text-anchor="end" transform="matrix(1 0 0 1.04 0 -13.18)" fill="#000">1500</text>
<line x1="267.75" y1="407.3" x2="380.6" y2="407.3" stroke="#000" stroke-width="1.1"/>
<line x1="287.1" y1="407.3" x2="287.1" y2="409.9" stroke="#000" stroke-width="1.1"/>
<line x1="324.3" y1="407.3" x2="324.3" y2="409.9" stroke="#000" stroke-width="1.1"/>
<line x1="361.6" y1="407.3" x2="361.6" y2="409.9" stroke="#000" stroke-width="1.1"/>
<line x1="280.5" y1="376.7" x2="280.5" y2="386.4" stroke="#000" stroke-width="1"/>
<line x1="277.5" y1="376.7" x2="283.5" y2="376.7" stroke="#000" stroke-width="1"/>
<rect x="276.1" y="386.4" width="8.8" height="20.35" fill="#fff" stroke="#000" stroke-width="1.1"/>
<line x1="317.9" y1="333.2" x2="317.9" y2="342.3" stroke="#000" stroke-width="1"/>
<line x1="314.9" y1="333.2" x2="320.9" y2="333.2" stroke="#000" stroke-width="1"/>
<rect x="313.5" y="342.3" width="8.8" height="64.45" fill="#fff" stroke="#000" stroke-width="1.1"/>
<line x1="331.9" y1="364.1" x2="331.9" y2="374.5" stroke="#000" stroke-width="1"/>
<line x1="328.9" y1="364.1" x2="334.9" y2="364.1" stroke="#000" stroke-width="1"/>
<rect x="327.5" y="374.5" width="8.8" height="32.25" fill="#000" stroke="#000" stroke-width="1.1"/>
<line x1="355" y1="363" x2="355" y2="383" stroke="#000" stroke-width="1"/>
<line x1="352" y1="363" x2="358" y2="363" stroke="#000" stroke-width="1"/>
<rect x="350.6" y="383" width="8.8" height="23.75" fill="#fff" stroke="#000" stroke-width="1.1"/>
<text x="287.8" y="405.6" font-size="7.2" text-anchor="start" fill="#000">ND</text>
<text x="364.7" y="405.6" font-size="7.2" text-anchor="start" fill="#000">ND</text>
<text x="318.2" y="331" font-size="8.5" text-anchor="middle" fill="#000" stroke="#000" stroke-width="0.35">&#8224;&#8224;</text>
<text x="332.2" y="356" font-size="8.5" text-anchor="middle" fill="#000" stroke="#000" stroke-width="0.35">&#8224;&#8224;</text>
<text x="332.2" y="364.8" font-size="11" text-anchor="middle" fill="#000" stroke="#000" stroke-width="0.3">*</text>
<text x="268.5" y="418.8" font-size="7.9" text-anchor="end" fill="#000">Antigen</text>
<text x="268.5" y="429.6" font-size="7.9" text-anchor="end" fill="#000">Anti-dectin-1</text>
<text x="287.1" y="418.8" font-size="8.5" text-anchor="middle" fill="#000">&#8722;</text>
<text x="287.1" y="429.6" font-size="8.5" text-anchor="middle" fill="#000">&#8722;</text>
<text x="324.3" y="418.8" font-size="8.5" text-anchor="middle" fill="#000">+</text>
<text x="324.3" y="429.6" font-size="8.5" text-anchor="middle" fill="#000">&#8722;</text>
<text x="361.6" y="418.8" font-size="8.5" text-anchor="middle" fill="#000">+</text>
<text x="361.6" y="429.6" font-size="8.5" text-anchor="middle" fill="#000">+</text>
<rect x="275.2" y="329.3" width="8.5" height="4.9" fill="#fff" stroke="#000" stroke-width="1"/>
<text x="286.5" y="334.7" font-size="8" text-anchor="start" transform="matrix(1 0 0 1.12 0 -39.82)" fill="#000">WT</text>
<rect x="275.2" y="338.8" width="8.5" height="4.9" fill="#000" stroke="#000" stroke-width="1"/>
<text x="287" y="344.2" font-size="8.4" text-anchor="start" font-style="italic" fill="#000">Tlr6<tspan font-size="0.52em" dy="-0.55em">&#8722;/&#8722;</tspan></text>
<text x="240.8" y="370.4" font-size="10.9" text-anchor="middle" transform="rotate(-90 240.8 370.4)" fill="#000">IL-23 (pg/ml)</text>
<text x="365.3" y="17.8" font-size="12.5" text-anchor="start" font-weight="bold" fill="#000" stroke="#000" stroke-width="0.6">C</text>
<text x="423.8" y="18.8" font-size="10.2" text-anchor="start" fill="#000">WT</text>
<text x="553" y="19" font-size="10" text-anchor="middle" font-style="italic" fill="#000">Tlr6<tspan font-size="0.52em" dy="-0.55em">&#8722;/&#8722;</tspan></text>
<text x="493.7" y="123.3" font-size="10.6" text-anchor="middle" fill="#000">Isotype control</text>
<text x="390.5" y="313.7" font-size="12.5" text-anchor="start" font-weight="bold" fill="#000" stroke="#000" stroke-width="0.6">G</text>
</svg>
</body></html>
